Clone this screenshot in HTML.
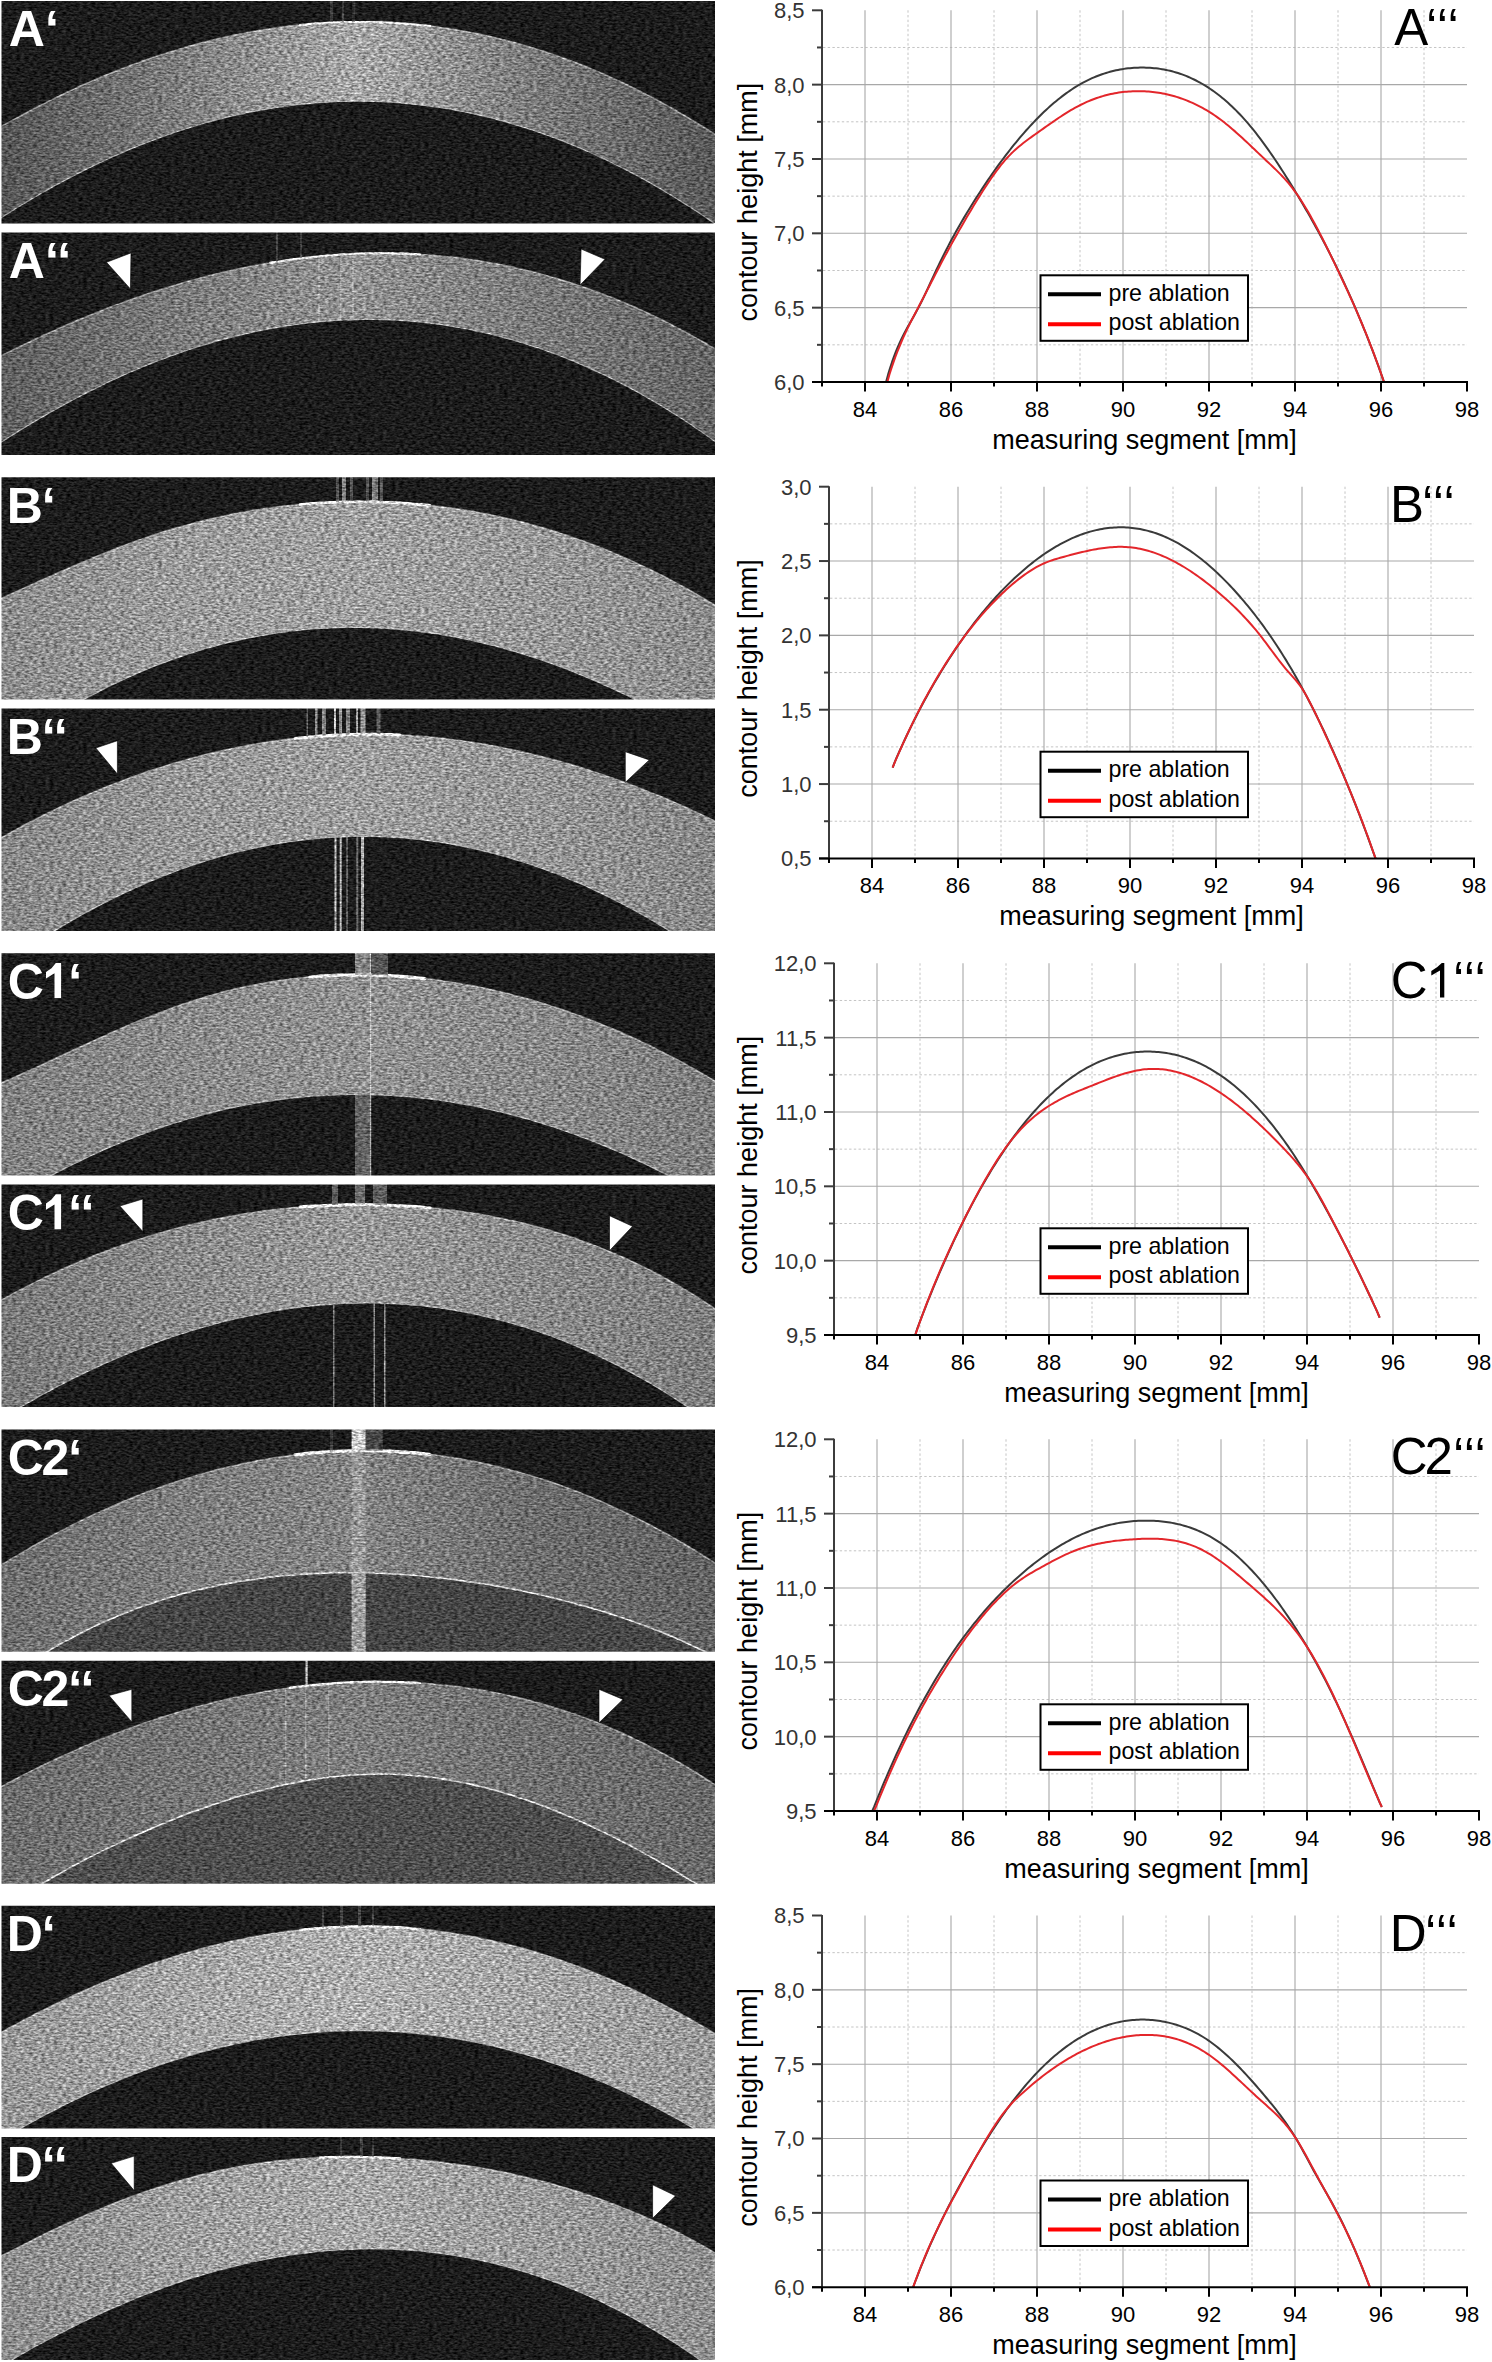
<!DOCTYPE html>
<html><head><meta charset="utf-8"><title>OCT ablation figure</title>
<style>
html,body{margin:0;padding:0;background:#fff;}
body{width:1492px;height:2362px;overflow:hidden;}
svg{display:block;}
text{font-family:"Liberation Sans",sans-serif;}
</style></head><body>
<svg xmlns="http://www.w3.org/2000/svg" width="1492" height="2362" viewBox="0 0 1492 2362">
<defs>
<filter id="spk" x="-0.02" y="-0.05" width="1.04" height="1.1" color-interpolation-filters="sRGB"><feTurbulence type="fractalNoise" baseFrequency="0.24 0.55" numOctaves="2" seed="3" result="t"/><feColorMatrix in="t" type="matrix" values="1 0 0 0 0  1 0 0 0 0  1 0 0 0 0  0 0 0 0 1" result="g"/><feComposite in="SourceGraphic" in2="g" operator="arithmetic" k1="0.95" k2="0.525" k3="0.236" k4="-0.118"/></filter>
<clipPath id="pc0"><rect x="1.5" y="1.00" width="713.5" height="222.40"/></clipPath>
<linearGradient id="bg0" gradientUnits="userSpaceOnUse" x1="0" x2="715" y1="0" y2="0"><stop offset="0.000" stop-color="#555555"/><stop offset="0.250" stop-color="#7d7d7d"/><stop offset="0.500" stop-color="#a8a8a8"/><stop offset="0.750" stop-color="#7a7a7a"/><stop offset="1.000" stop-color="#585858"/></linearGradient>
<clipPath id="ab0"><path d="M-25.0,141.5 L-20.0,138.7 L-15.0,135.8 L-10.0,133.0 L-5.0,130.1 L0.0,127.3 L5.0,124.4 L10.0,121.6 L15.0,118.9 L20.0,116.1 L25.0,113.4 L30.0,110.8 L35.0,108.2 L40.0,105.6 L45.0,103.1 L50.0,100.6 L55.0,98.1 L60.0,95.7 L65.0,93.3 L70.0,90.9 L75.0,88.6 L80.0,86.3 L85.0,84.1 L90.0,81.9 L95.0,79.7 L100.0,77.6 L105.0,75.5 L110.0,73.5 L115.0,71.5 L120.0,69.5 L125.0,67.6 L130.0,65.7 L135.0,63.8 L140.0,62.0 L145.0,60.2 L150.0,58.5 L155.0,56.8 L160.0,55.1 L165.0,53.5 L170.0,51.9 L175.0,50.4 L180.0,48.9 L185.0,47.4 L190.0,46.0 L195.0,44.6 L200.0,43.3 L205.0,42.0 L210.0,40.7 L215.0,39.5 L220.0,38.3 L225.0,37.2 L230.0,36.1 L235.0,35.0 L240.0,34.0 L245.0,33.0 L250.0,32.1 L255.0,31.2 L260.0,30.3 L265.0,29.5 L270.0,28.7 L275.0,28.0 L280.0,27.3 L285.0,26.6 L290.0,26.0 L295.0,25.5 L300.0,24.9 L305.0,24.4 L310.0,24.0 L315.0,23.6 L320.0,23.2 L325.0,22.9 L330.0,22.6 L335.0,22.4 L340.0,22.2 L345.0,22.1 L350.0,22.0 L355.0,21.9 L360.0,21.9 L365.0,21.9 L370.0,22.0 L375.0,22.1 L380.0,22.2 L385.0,22.4 L390.0,22.6 L395.0,22.9 L400.0,23.2 L405.0,23.6 L410.0,24.0 L415.0,24.5 L420.0,25.0 L425.0,25.5 L430.0,26.1 L435.0,26.7 L440.0,27.4 L445.0,28.1 L450.0,28.8 L455.0,29.6 L460.0,30.5 L465.0,31.4 L470.0,32.3 L475.0,33.3 L480.0,34.3 L485.0,35.4 L490.0,36.5 L495.0,37.7 L500.0,38.9 L505.0,40.1 L510.0,41.4 L515.0,42.8 L520.0,44.1 L525.0,45.6 L530.0,47.0 L535.0,48.6 L540.0,50.1 L545.0,51.7 L550.0,53.4 L555.0,55.1 L560.0,56.9 L565.0,58.7 L570.0,60.5 L575.0,62.4 L580.0,64.3 L585.0,66.3 L590.0,68.3 L595.0,70.4 L600.0,72.5 L605.0,74.7 L610.0,76.9 L615.0,79.2 L620.0,81.5 L625.0,83.8 L630.0,86.2 L635.0,88.7 L640.0,91.2 L645.0,93.7 L650.0,96.3 L655.0,99.0 L660.0,101.6 L665.0,104.4 L670.0,107.2 L675.0,110.0 L680.0,112.9 L685.0,115.8 L690.0,118.8 L695.0,121.8 L700.0,124.9 L705.0,128.0 L710.0,131.2 L715.0,134.4 L720.0,137.6 L725.0,140.9 L730.0,144.1 L735.0,147.3 L740.0,150.6 L740.0,-9.0 L-25.0,-9.0 Z"/></clipPath>
<clipPath id="be0"><path d="M-25.0,234.7 L-20.0,231.4 L-15.0,228.2 L-10.0,225.0 L-5.0,221.8 L0.0,218.5 L5.0,215.3 L10.0,212.2 L15.0,209.0 L20.0,206.0 L25.0,202.9 L30.0,199.9 L35.0,197.0 L40.0,194.1 L45.0,191.2 L50.0,188.4 L55.0,185.6 L60.0,182.9 L65.0,180.2 L70.0,177.6 L75.0,175.0 L80.0,172.4 L85.0,169.9 L90.0,167.5 L95.0,165.0 L100.0,162.7 L105.0,160.3 L110.0,158.0 L115.0,155.8 L120.0,153.6 L125.0,151.4 L130.0,149.3 L135.0,147.3 L140.0,145.2 L145.0,143.3 L150.0,141.3 L155.0,139.4 L160.0,137.6 L165.0,135.8 L170.0,134.1 L175.0,132.3 L180.0,130.7 L185.0,129.1 L190.0,127.5 L195.0,126.0 L200.0,124.5 L205.0,123.0 L210.0,121.7 L215.0,120.3 L220.0,119.0 L225.0,117.8 L230.0,116.5 L235.0,115.4 L240.0,114.3 L245.0,113.2 L250.0,112.2 L255.0,111.2 L260.0,110.2 L265.0,109.4 L270.0,108.5 L275.0,107.7 L280.0,107.0 L285.0,106.3 L290.0,105.6 L295.0,105.0 L300.0,104.4 L305.0,103.9 L310.0,103.4 L315.0,103.0 L320.0,102.6 L325.0,102.3 L330.0,102.0 L335.0,101.7 L340.0,101.5 L345.0,101.4 L350.0,101.3 L355.0,101.2 L360.0,101.2 L365.0,101.3 L370.0,101.4 L375.0,101.5 L380.0,101.7 L385.0,101.9 L390.0,102.2 L395.0,102.5 L400.0,102.9 L405.0,103.3 L410.0,103.8 L415.0,104.3 L420.0,104.8 L425.0,105.4 L430.0,106.1 L435.0,106.8 L440.0,107.5 L445.0,108.3 L450.0,109.2 L455.0,110.1 L460.0,111.0 L465.0,112.0 L470.0,113.0 L475.0,114.1 L480.0,115.3 L485.0,116.4 L490.0,117.7 L495.0,119.0 L500.0,120.3 L505.0,121.7 L510.0,123.1 L515.0,124.6 L520.0,126.1 L525.0,127.6 L530.0,129.3 L535.0,130.9 L540.0,132.6 L545.0,134.4 L550.0,136.2 L555.0,138.1 L560.0,140.0 L565.0,142.0 L570.0,144.0 L575.0,146.0 L580.0,148.1 L585.0,150.3 L590.0,152.5 L595.0,154.7 L600.0,157.1 L605.0,159.4 L610.0,161.8 L615.0,164.3 L620.0,166.8 L625.0,169.3 L630.0,171.9 L635.0,174.6 L640.0,177.3 L645.0,180.0 L650.0,182.8 L655.0,185.7 L660.0,188.6 L665.0,191.5 L670.0,194.5 L675.0,197.6 L680.0,200.7 L685.0,203.9 L690.0,207.1 L695.0,210.3 L700.0,213.6 L705.0,217.0 L710.0,220.4 L715.0,223.7 L720.0,227.1 L725.0,230.5 L730.0,233.9 L730.0,283.4 L-25.0,283.4 Z"/></clipPath>
<clipPath id="bd0"><path d="M-25.0,141.5 L-20.0,138.7 L-15.0,135.8 L-10.0,133.0 L-5.0,130.1 L0.0,127.3 L5.0,124.4 L10.0,121.6 L15.0,118.9 L20.0,116.1 L25.0,113.4 L30.0,110.8 L35.0,108.2 L40.0,105.6 L45.0,103.1 L50.0,100.6 L55.0,98.1 L60.0,95.7 L65.0,93.3 L70.0,90.9 L75.0,88.6 L80.0,86.3 L85.0,84.1 L90.0,81.9 L95.0,79.7 L100.0,77.6 L105.0,75.5 L110.0,73.5 L115.0,71.5 L120.0,69.5 L125.0,67.6 L130.0,65.7 L135.0,63.8 L140.0,62.0 L145.0,60.2 L150.0,58.5 L155.0,56.8 L160.0,55.1 L165.0,53.5 L170.0,51.9 L175.0,50.4 L180.0,48.9 L185.0,47.4 L190.0,46.0 L195.0,44.6 L200.0,43.3 L205.0,42.0 L210.0,40.7 L215.0,39.5 L220.0,38.3 L225.0,37.2 L230.0,36.1 L235.0,35.0 L240.0,34.0 L245.0,33.0 L250.0,32.1 L255.0,31.2 L260.0,30.3 L265.0,29.5 L270.0,28.7 L275.0,28.0 L280.0,27.3 L285.0,26.6 L290.0,26.0 L295.0,25.5 L300.0,24.9 L305.0,24.4 L310.0,24.0 L315.0,23.6 L320.0,23.2 L325.0,22.9 L330.0,22.6 L335.0,22.4 L340.0,22.2 L345.0,22.1 L350.0,22.0 L355.0,21.9 L360.0,21.9 L365.0,21.9 L370.0,22.0 L375.0,22.1 L380.0,22.2 L385.0,22.4 L390.0,22.6 L395.0,22.9 L400.0,23.2 L405.0,23.6 L410.0,24.0 L415.0,24.5 L420.0,25.0 L425.0,25.5 L430.0,26.1 L435.0,26.7 L440.0,27.4 L445.0,28.1 L450.0,28.8 L455.0,29.6 L460.0,30.5 L465.0,31.4 L470.0,32.3 L475.0,33.3 L480.0,34.3 L485.0,35.4 L490.0,36.5 L495.0,37.7 L500.0,38.9 L505.0,40.1 L510.0,41.4 L515.0,42.8 L520.0,44.1 L525.0,45.6 L530.0,47.0 L535.0,48.6 L540.0,50.1 L545.0,51.7 L550.0,53.4 L555.0,55.1 L560.0,56.9 L565.0,58.7 L570.0,60.5 L575.0,62.4 L580.0,64.3 L585.0,66.3 L590.0,68.3 L595.0,70.4 L600.0,72.5 L605.0,74.7 L610.0,76.9 L615.0,79.2 L620.0,81.5 L625.0,83.8 L630.0,86.2 L635.0,88.7 L640.0,91.2 L645.0,93.7 L650.0,96.3 L655.0,99.0 L660.0,101.6 L665.0,104.4 L670.0,107.2 L675.0,110.0 L680.0,112.9 L685.0,115.8 L690.0,118.8 L695.0,121.8 L700.0,124.9 L705.0,128.0 L710.0,131.2 L715.0,134.4 L720.0,137.6 L725.0,140.9 L730.0,144.1 L735.0,147.3 L740.0,150.6 L730.0,233.9 L725.0,230.5 L720.0,227.1 L715.0,223.7 L710.0,220.4 L705.0,217.0 L700.0,213.6 L695.0,210.3 L690.0,207.1 L685.0,203.9 L680.0,200.7 L675.0,197.6 L670.0,194.5 L665.0,191.5 L660.0,188.6 L655.0,185.7 L650.0,182.8 L645.0,180.0 L640.0,177.3 L635.0,174.6 L630.0,171.9 L625.0,169.3 L620.0,166.8 L615.0,164.3 L610.0,161.8 L605.0,159.4 L600.0,157.1 L595.0,154.7 L590.0,152.5 L585.0,150.3 L580.0,148.1 L575.0,146.0 L570.0,144.0 L565.0,142.0 L560.0,140.0 L555.0,138.1 L550.0,136.2 L545.0,134.4 L540.0,132.6 L535.0,130.9 L530.0,129.3 L525.0,127.6 L520.0,126.1 L515.0,124.6 L510.0,123.1 L505.0,121.7 L500.0,120.3 L495.0,119.0 L490.0,117.7 L485.0,116.4 L480.0,115.3 L475.0,114.1 L470.0,113.0 L465.0,112.0 L460.0,111.0 L455.0,110.1 L450.0,109.2 L445.0,108.3 L440.0,107.5 L435.0,106.8 L430.0,106.1 L425.0,105.4 L420.0,104.8 L415.0,104.3 L410.0,103.8 L405.0,103.3 L400.0,102.9 L395.0,102.5 L390.0,102.2 L385.0,101.9 L380.0,101.7 L375.0,101.5 L370.0,101.4 L365.0,101.3 L360.0,101.2 L355.0,101.2 L350.0,101.3 L345.0,101.4 L340.0,101.5 L335.0,101.7 L330.0,102.0 L325.0,102.3 L320.0,102.6 L315.0,103.0 L310.0,103.4 L305.0,103.9 L300.0,104.4 L295.0,105.0 L290.0,105.6 L285.0,106.3 L280.0,107.0 L275.0,107.7 L270.0,108.5 L265.0,109.4 L260.0,110.2 L255.0,111.2 L250.0,112.2 L245.0,113.2 L240.0,114.3 L235.0,115.4 L230.0,116.5 L225.0,117.8 L220.0,119.0 L215.0,120.3 L210.0,121.7 L205.0,123.0 L200.0,124.5 L195.0,126.0 L190.0,127.5 L185.0,129.1 L180.0,130.7 L175.0,132.3 L170.0,134.1 L165.0,135.8 L160.0,137.6 L155.0,139.4 L150.0,141.3 L145.0,143.3 L140.0,145.2 L135.0,147.3 L130.0,149.3 L125.0,151.4 L120.0,153.6 L115.0,155.8 L110.0,158.0 L105.0,160.3 L100.0,162.7 L95.0,165.0 L90.0,167.5 L85.0,169.9 L80.0,172.4 L75.0,175.0 L70.0,177.6 L65.0,180.2 L60.0,182.9 L55.0,185.6 L50.0,188.4 L45.0,191.2 L40.0,194.1 L35.0,197.0 L30.0,199.9 L25.0,202.9 L20.0,206.0 L15.0,209.0 L10.0,212.2 L5.0,215.3 L0.0,218.5 L-5.0,221.8 L-10.0,225.0 L-15.0,228.2 L-20.0,231.4 L-25.0,234.7 Z"/></clipPath>
<clipPath id="pc1"><rect x="1.5" y="232.40" width="713.5" height="222.60"/></clipPath>
<linearGradient id="bg1" gradientUnits="userSpaceOnUse" x1="0" x2="715" y1="0" y2="0"><stop offset="0.000" stop-color="#5f5f5f"/><stop offset="0.250" stop-color="#7a7a7a"/><stop offset="0.500" stop-color="#919191"/><stop offset="0.750" stop-color="#7a7a7a"/><stop offset="1.000" stop-color="#646464"/></linearGradient>
<clipPath id="ab1"><path d="M-25.0,369.1 L-20.0,366.6 L-15.0,364.1 L-10.0,361.5 L-5.0,359.0 L0.0,356.4 L5.0,353.9 L10.0,351.4 L15.0,348.9 L20.0,346.5 L25.0,344.1 L30.0,341.7 L35.0,339.3 L40.0,337.0 L45.0,334.7 L50.0,332.4 L55.0,330.1 L60.0,327.9 L65.0,325.7 L70.0,323.5 L75.0,321.4 L80.0,319.3 L85.0,317.2 L90.0,315.2 L95.0,313.2 L100.0,311.2 L105.0,309.2 L110.0,307.3 L115.0,305.4 L120.0,303.6 L125.0,301.7 L130.0,299.9 L135.0,298.2 L140.0,296.4 L145.0,294.7 L150.0,293.0 L155.0,291.4 L160.0,289.8 L165.0,288.2 L170.0,286.7 L175.0,285.2 L180.0,283.7 L185.0,282.2 L190.0,280.8 L195.0,279.4 L200.0,278.1 L205.0,276.8 L210.0,275.5 L215.0,274.2 L220.0,273.0 L225.0,271.9 L230.0,270.7 L235.0,269.6 L240.0,268.5 L245.0,267.5 L250.0,266.5 L255.0,265.5 L260.0,264.6 L265.0,263.7 L270.0,262.8 L275.0,262.0 L280.0,261.2 L285.0,260.5 L290.0,259.7 L295.0,259.1 L300.0,258.4 L305.0,257.8 L310.0,257.2 L315.0,256.7 L320.0,256.2 L325.0,255.7 L330.0,255.3 L335.0,254.9 L340.0,254.6 L345.0,254.3 L350.0,254.0 L355.0,253.8 L360.0,253.6 L365.0,253.4 L370.0,253.3 L375.0,253.3 L380.0,253.2 L385.0,253.2 L390.0,253.3 L395.0,253.4 L400.0,253.5 L405.0,253.6 L410.0,253.8 L415.0,254.1 L420.0,254.4 L425.0,254.7 L430.0,255.1 L435.0,255.5 L440.0,255.9 L445.0,256.4 L450.0,256.9 L455.0,257.5 L460.0,258.1 L465.0,258.8 L470.0,259.5 L475.0,260.2 L480.0,261.0 L485.0,261.8 L490.0,262.7 L495.0,263.6 L500.0,264.6 L505.0,265.6 L510.0,266.6 L515.0,267.7 L520.0,268.9 L525.0,270.0 L530.0,271.2 L535.0,272.5 L540.0,273.8 L545.0,275.2 L550.0,276.6 L555.0,278.0 L560.0,279.5 L565.0,281.0 L570.0,282.6 L575.0,284.2 L580.0,285.9 L585.0,287.6 L590.0,289.4 L595.0,291.2 L600.0,293.0 L605.0,294.9 L610.0,296.9 L615.0,298.9 L620.0,300.9 L625.0,303.0 L630.0,305.2 L635.0,307.3 L640.0,309.6 L645.0,311.9 L650.0,314.2 L655.0,316.6 L660.0,319.0 L665.0,321.5 L670.0,324.0 L675.0,326.6 L680.0,329.2 L685.0,331.8 L690.0,334.6 L695.0,337.3 L700.0,340.1 L705.0,343.0 L710.0,345.9 L715.0,348.9 L720.0,351.9 L725.0,354.9 L730.0,357.9 L735.0,360.9 L740.0,363.9 L740.0,222.4 L-25.0,222.4 Z"/></clipPath>
<clipPath id="be1"><path d="M-25.0,459.3 L-20.0,456.0 L-15.0,452.8 L-10.0,449.5 L-5.0,446.3 L0.0,443.0 L5.0,439.8 L10.0,436.6 L15.0,433.4 L20.0,430.3 L25.0,427.2 L30.0,424.2 L35.0,421.2 L40.0,418.3 L45.0,415.4 L50.0,412.5 L55.0,409.7 L60.0,406.9 L65.0,404.2 L70.0,401.5 L75.0,398.8 L80.0,396.2 L85.0,393.6 L90.0,391.1 L95.0,388.6 L100.0,386.1 L105.0,383.7 L110.0,381.3 L115.0,379.0 L120.0,376.7 L125.0,374.5 L130.0,372.3 L135.0,370.2 L140.0,368.0 L145.0,366.0 L150.0,364.0 L155.0,362.0 L160.0,360.0 L165.0,358.2 L170.0,356.3 L175.0,354.5 L180.0,352.7 L185.0,351.0 L190.0,349.3 L195.0,347.7 L200.0,346.1 L205.0,344.6 L210.0,343.1 L215.0,341.6 L220.0,340.2 L225.0,338.9 L230.0,337.6 L235.0,336.3 L240.0,335.1 L245.0,333.9 L250.0,332.8 L255.0,331.7 L260.0,330.6 L265.0,329.6 L270.0,328.7 L275.0,327.8 L280.0,326.9 L285.0,326.1 L290.0,325.3 L295.0,324.6 L300.0,323.9 L305.0,323.3 L310.0,322.7 L315.0,322.2 L320.0,321.7 L325.0,321.3 L330.0,320.9 L335.0,320.5 L340.0,320.2 L345.0,320.0 L350.0,319.8 L355.0,319.6 L360.0,319.5 L365.0,319.5 L370.0,319.5 L375.0,319.5 L380.0,319.6 L385.0,319.7 L390.0,319.9 L395.0,320.1 L400.0,320.4 L405.0,320.7 L410.0,321.1 L415.0,321.5 L420.0,322.0 L425.0,322.6 L430.0,323.1 L435.0,323.8 L440.0,324.4 L445.0,325.2 L450.0,325.9 L455.0,326.8 L460.0,327.6 L465.0,328.6 L470.0,329.5 L475.0,330.6 L480.0,331.6 L485.0,332.8 L490.0,333.9 L495.0,335.2 L500.0,336.5 L505.0,337.8 L510.0,339.2 L515.0,340.6 L520.0,342.1 L525.0,343.6 L530.0,345.2 L535.0,346.9 L540.0,348.5 L545.0,350.3 L550.0,352.1 L555.0,353.9 L560.0,355.8 L565.0,357.8 L570.0,359.8 L575.0,361.9 L580.0,364.0 L585.0,366.1 L590.0,368.4 L595.0,370.6 L600.0,373.0 L605.0,375.3 L610.0,377.8 L615.0,380.2 L620.0,382.8 L625.0,385.4 L630.0,388.0 L635.0,390.7 L640.0,393.5 L645.0,396.3 L650.0,399.2 L655.0,402.1 L660.0,405.0 L665.0,408.1 L670.0,411.2 L675.0,414.3 L680.0,417.5 L685.0,420.7 L690.0,424.0 L695.0,427.4 L700.0,430.8 L705.0,434.3 L710.0,437.8 L715.0,441.4 L720.0,445.0 L725.0,448.6 L730.0,452.2 L735.0,455.8 L740.0,459.4 L740.0,515.0 L-25.0,515.0 Z"/></clipPath>
<clipPath id="bd1"><path d="M-25.0,369.1 L-20.0,366.6 L-15.0,364.1 L-10.0,361.5 L-5.0,359.0 L0.0,356.4 L5.0,353.9 L10.0,351.4 L15.0,348.9 L20.0,346.5 L25.0,344.1 L30.0,341.7 L35.0,339.3 L40.0,337.0 L45.0,334.7 L50.0,332.4 L55.0,330.1 L60.0,327.9 L65.0,325.7 L70.0,323.5 L75.0,321.4 L80.0,319.3 L85.0,317.2 L90.0,315.2 L95.0,313.2 L100.0,311.2 L105.0,309.2 L110.0,307.3 L115.0,305.4 L120.0,303.6 L125.0,301.7 L130.0,299.9 L135.0,298.2 L140.0,296.4 L145.0,294.7 L150.0,293.0 L155.0,291.4 L160.0,289.8 L165.0,288.2 L170.0,286.7 L175.0,285.2 L180.0,283.7 L185.0,282.2 L190.0,280.8 L195.0,279.4 L200.0,278.1 L205.0,276.8 L210.0,275.5 L215.0,274.2 L220.0,273.0 L225.0,271.9 L230.0,270.7 L235.0,269.6 L240.0,268.5 L245.0,267.5 L250.0,266.5 L255.0,265.5 L260.0,264.6 L265.0,263.7 L270.0,262.8 L275.0,262.0 L280.0,261.2 L285.0,260.5 L290.0,259.7 L295.0,259.1 L300.0,258.4 L305.0,257.8 L310.0,257.2 L315.0,256.7 L320.0,256.2 L325.0,255.7 L330.0,255.3 L335.0,254.9 L340.0,254.6 L345.0,254.3 L350.0,254.0 L355.0,253.8 L360.0,253.6 L365.0,253.4 L370.0,253.3 L375.0,253.3 L380.0,253.2 L385.0,253.2 L390.0,253.3 L395.0,253.4 L400.0,253.5 L405.0,253.6 L410.0,253.8 L415.0,254.1 L420.0,254.4 L425.0,254.7 L430.0,255.1 L435.0,255.5 L440.0,255.9 L445.0,256.4 L450.0,256.9 L455.0,257.5 L460.0,258.1 L465.0,258.8 L470.0,259.5 L475.0,260.2 L480.0,261.0 L485.0,261.8 L490.0,262.7 L495.0,263.6 L500.0,264.6 L505.0,265.6 L510.0,266.6 L515.0,267.7 L520.0,268.9 L525.0,270.0 L530.0,271.2 L535.0,272.5 L540.0,273.8 L545.0,275.2 L550.0,276.6 L555.0,278.0 L560.0,279.5 L565.0,281.0 L570.0,282.6 L575.0,284.2 L580.0,285.9 L585.0,287.6 L590.0,289.4 L595.0,291.2 L600.0,293.0 L605.0,294.9 L610.0,296.9 L615.0,298.9 L620.0,300.9 L625.0,303.0 L630.0,305.2 L635.0,307.3 L640.0,309.6 L645.0,311.9 L650.0,314.2 L655.0,316.6 L660.0,319.0 L665.0,321.5 L670.0,324.0 L675.0,326.6 L680.0,329.2 L685.0,331.8 L690.0,334.6 L695.0,337.3 L700.0,340.1 L705.0,343.0 L710.0,345.9 L715.0,348.9 L720.0,351.9 L725.0,354.9 L730.0,357.9 L735.0,360.9 L740.0,363.9 L740.0,459.4 L735.0,455.8 L730.0,452.2 L725.0,448.6 L720.0,445.0 L715.0,441.4 L710.0,437.8 L705.0,434.3 L700.0,430.8 L695.0,427.4 L690.0,424.0 L685.0,420.7 L680.0,417.5 L675.0,414.3 L670.0,411.2 L665.0,408.1 L660.0,405.0 L655.0,402.1 L650.0,399.2 L645.0,396.3 L640.0,393.5 L635.0,390.7 L630.0,388.0 L625.0,385.4 L620.0,382.8 L615.0,380.2 L610.0,377.8 L605.0,375.3 L600.0,373.0 L595.0,370.6 L590.0,368.4 L585.0,366.1 L580.0,364.0 L575.0,361.9 L570.0,359.8 L565.0,357.8 L560.0,355.8 L555.0,353.9 L550.0,352.1 L545.0,350.3 L540.0,348.5 L535.0,346.9 L530.0,345.2 L525.0,343.6 L520.0,342.1 L515.0,340.6 L510.0,339.2 L505.0,337.8 L500.0,336.5 L495.0,335.2 L490.0,333.9 L485.0,332.8 L480.0,331.6 L475.0,330.6 L470.0,329.5 L465.0,328.6 L460.0,327.6 L455.0,326.8 L450.0,325.9 L445.0,325.2 L440.0,324.4 L435.0,323.8 L430.0,323.1 L425.0,322.6 L420.0,322.0 L415.0,321.5 L410.0,321.1 L405.0,320.7 L400.0,320.4 L395.0,320.1 L390.0,319.9 L385.0,319.7 L380.0,319.6 L375.0,319.5 L370.0,319.5 L365.0,319.5 L360.0,319.5 L355.0,319.6 L350.0,319.8 L345.0,320.0 L340.0,320.2 L335.0,320.5 L330.0,320.9 L325.0,321.3 L320.0,321.7 L315.0,322.2 L310.0,322.7 L305.0,323.3 L300.0,323.9 L295.0,324.6 L290.0,325.3 L285.0,326.1 L280.0,326.9 L275.0,327.8 L270.0,328.7 L265.0,329.6 L260.0,330.6 L255.0,331.7 L250.0,332.8 L245.0,333.9 L240.0,335.1 L235.0,336.3 L230.0,337.6 L225.0,338.9 L220.0,340.2 L215.0,341.6 L210.0,343.1 L205.0,344.6 L200.0,346.1 L195.0,347.7 L190.0,349.3 L185.0,351.0 L180.0,352.7 L175.0,354.5 L170.0,356.3 L165.0,358.2 L160.0,360.0 L155.0,362.0 L150.0,364.0 L145.0,366.0 L140.0,368.0 L135.0,370.2 L130.0,372.3 L125.0,374.5 L120.0,376.7 L115.0,379.0 L110.0,381.3 L105.0,383.7 L100.0,386.1 L95.0,388.6 L90.0,391.1 L85.0,393.6 L80.0,396.2 L75.0,398.8 L70.0,401.5 L65.0,404.2 L60.0,406.9 L55.0,409.7 L50.0,412.5 L45.0,415.4 L40.0,418.3 L35.0,421.2 L30.0,424.2 L25.0,427.2 L20.0,430.3 L15.0,433.4 L10.0,436.6 L5.0,439.8 L0.0,443.0 L-5.0,446.3 L-10.0,449.5 L-15.0,452.8 L-20.0,456.0 L-25.0,459.3 Z"/></clipPath>
<clipPath id="pc2"><rect x="1.5" y="477.20" width="713.5" height="222.30"/></clipPath>
<linearGradient id="bg2" gradientUnits="userSpaceOnUse" x1="0" x2="715" y1="0" y2="0"><stop offset="0.000" stop-color="#8c8c8c"/><stop offset="0.250" stop-color="#9b9b9b"/><stop offset="0.500" stop-color="#a0a0a0"/><stop offset="0.750" stop-color="#989898"/><stop offset="1.000" stop-color="#8c8c8c"/></linearGradient>
<clipPath id="ab2"><path d="M-25.0,610.2 L-20.0,607.9 L-15.0,605.7 L-10.0,603.4 L-5.0,601.2 L0.0,598.9 L5.0,596.7 L10.0,594.4 L15.0,592.1 L20.0,589.9 L25.0,587.6 L30.0,585.4 L35.0,583.1 L40.0,580.8 L45.0,578.6 L50.0,576.4 L55.0,574.2 L60.0,571.9 L65.0,569.8 L70.0,567.6 L75.0,565.4 L80.0,563.3 L85.0,561.2 L90.0,559.1 L95.0,557.0 L100.0,554.9 L105.0,552.9 L110.0,550.9 L115.0,549.0 L120.0,547.0 L125.0,545.1 L130.0,543.3 L135.0,541.4 L140.0,539.6 L145.0,537.9 L150.0,536.2 L155.0,534.5 L160.0,532.9 L165.0,531.3 L170.0,529.8 L175.0,528.3 L180.0,526.9 L185.0,525.5 L190.0,524.1 L195.0,522.8 L200.0,521.5 L205.0,520.3 L210.0,519.1 L215.0,517.9 L220.0,516.8 L225.0,515.7 L230.0,514.7 L235.0,513.7 L240.0,512.7 L245.0,511.8 L250.0,511.0 L255.0,510.1 L260.0,509.4 L265.0,508.6 L270.0,507.9 L275.0,507.2 L280.0,506.6 L285.0,506.0 L290.0,505.4 L295.0,504.9 L300.0,504.5 L305.0,504.0 L310.0,503.6 L315.0,503.3 L320.0,502.9 L325.0,502.7 L330.0,502.4 L335.0,502.2 L340.0,502.0 L345.0,501.9 L350.0,501.8 L355.0,501.7 L360.0,501.7 L365.0,501.7 L370.0,501.8 L375.0,501.9 L380.0,502.0 L385.0,502.2 L390.0,502.4 L395.0,502.6 L400.0,502.9 L405.0,503.2 L410.0,503.6 L415.0,504.0 L420.0,504.4 L425.0,504.9 L430.0,505.4 L435.0,505.9 L440.0,506.5 L445.0,507.2 L450.0,507.8 L455.0,508.5 L460.0,509.3 L465.0,510.1 L470.0,510.9 L475.0,511.8 L480.0,512.7 L485.0,513.7 L490.0,514.7 L495.0,515.7 L500.0,516.8 L505.0,517.9 L510.0,519.1 L515.0,520.3 L520.0,521.5 L525.0,522.8 L530.0,524.1 L535.0,525.5 L540.0,526.9 L545.0,528.4 L550.0,529.9 L555.0,531.5 L560.0,533.1 L565.0,534.7 L570.0,536.4 L575.0,538.1 L580.0,539.9 L585.0,541.7 L590.0,543.6 L595.0,545.5 L600.0,547.4 L605.0,549.4 L610.0,551.5 L615.0,553.6 L620.0,555.7 L625.0,557.9 L630.0,560.1 L635.0,562.4 L640.0,564.7 L645.0,567.1 L650.0,569.5 L655.0,571.9 L660.0,574.4 L665.0,577.0 L670.0,579.6 L675.0,582.3 L680.0,585.0 L685.0,587.7 L690.0,590.5 L695.0,593.4 L700.0,596.3 L705.0,599.2 L710.0,602.2 L715.0,605.2 L720.0,608.3 L725.0,611.4 L730.0,614.4 L735.0,617.5 L740.0,620.6 L740.0,467.2 L-25.0,467.2 Z"/></clipPath>
<clipPath id="be2"><path d="M61.9,711.3 L66.9,708.6 L71.9,705.9 L76.9,703.2 L81.9,700.5 L86.9,697.8 L91.9,695.2 L96.9,692.6 L101.9,690.0 L106.9,687.5 L111.9,685.0 L116.9,682.6 L121.9,680.3 L126.9,678.0 L131.9,675.7 L136.9,673.5 L141.9,671.4 L146.9,669.3 L151.9,667.3 L156.9,665.3 L161.9,663.4 L166.9,661.5 L171.9,659.6 L176.9,657.9 L181.9,656.1 L186.9,654.5 L191.9,652.9 L196.9,651.3 L201.9,649.8 L206.9,648.3 L211.9,646.9 L216.9,645.5 L221.9,644.2 L226.9,642.9 L231.9,641.7 L236.9,640.6 L241.9,639.4 L246.9,638.4 L251.9,637.4 L256.9,636.4 L261.9,635.5 L266.9,634.6 L271.9,633.8 L276.9,633.0 L281.9,632.3 L286.9,631.6 L291.9,631.0 L296.9,630.5 L301.9,629.9 L306.9,629.5 L311.9,629.0 L316.9,628.7 L321.9,628.3 L326.9,628.1 L331.9,627.8 L336.9,627.7 L341.9,627.5 L346.9,627.4 L351.9,627.4 L356.9,627.4 L361.9,627.5 L366.9,627.6 L371.9,627.7 L376.9,627.9 L381.9,628.2 L386.9,628.5 L391.9,628.8 L396.9,629.2 L401.9,629.6 L406.9,630.1 L411.9,630.6 L416.9,631.2 L421.9,631.8 L426.9,632.5 L431.9,633.2 L436.9,633.9 L441.9,634.7 L446.9,635.6 L451.9,636.5 L456.9,637.4 L461.9,638.4 L466.9,639.4 L471.9,640.5 L476.9,641.6 L481.9,642.8 L486.9,644.0 L491.9,645.2 L496.9,646.5 L501.9,647.9 L506.9,649.3 L511.9,650.7 L516.9,652.2 L521.9,653.7 L526.9,655.3 L531.9,656.9 L536.9,658.5 L541.9,660.2 L546.9,661.9 L551.9,663.7 L556.9,665.5 L561.9,667.4 L566.9,669.3 L571.9,671.3 L576.9,673.3 L581.9,675.3 L586.9,677.4 L591.9,679.5 L596.9,681.7 L601.9,683.9 L606.9,686.1 L611.9,688.4 L616.9,690.7 L621.9,693.1 L626.9,695.5 L631.9,698.0 L636.9,700.5 L641.9,703.0 L646.9,705.5 L651.9,708.0 L656.9,710.5 L661.9,713.1 L661.9,759.5 L61.9,759.5 Z"/></clipPath>
<clipPath id="bd2"><path d="M-25.0,610.2 L-20.0,607.9 L-15.0,605.7 L-10.0,603.4 L-5.0,601.2 L0.0,598.9 L5.0,596.7 L10.0,594.4 L15.0,592.1 L20.0,589.9 L25.0,587.6 L30.0,585.4 L35.0,583.1 L40.0,580.8 L45.0,578.6 L50.0,576.4 L55.0,574.2 L60.0,571.9 L65.0,569.8 L70.0,567.6 L75.0,565.4 L80.0,563.3 L85.0,561.2 L90.0,559.1 L95.0,557.0 L100.0,554.9 L105.0,552.9 L110.0,550.9 L115.0,549.0 L120.0,547.0 L125.0,545.1 L130.0,543.3 L135.0,541.4 L140.0,539.6 L145.0,537.9 L150.0,536.2 L155.0,534.5 L160.0,532.9 L165.0,531.3 L170.0,529.8 L175.0,528.3 L180.0,526.9 L185.0,525.5 L190.0,524.1 L195.0,522.8 L200.0,521.5 L205.0,520.3 L210.0,519.1 L215.0,517.9 L220.0,516.8 L225.0,515.7 L230.0,514.7 L235.0,513.7 L240.0,512.7 L245.0,511.8 L250.0,511.0 L255.0,510.1 L260.0,509.4 L265.0,508.6 L270.0,507.9 L275.0,507.2 L280.0,506.6 L285.0,506.0 L290.0,505.4 L295.0,504.9 L300.0,504.5 L305.0,504.0 L310.0,503.6 L315.0,503.3 L320.0,502.9 L325.0,502.7 L330.0,502.4 L335.0,502.2 L340.0,502.0 L345.0,501.9 L350.0,501.8 L355.0,501.7 L360.0,501.7 L365.0,501.7 L370.0,501.8 L375.0,501.9 L380.0,502.0 L385.0,502.2 L390.0,502.4 L395.0,502.6 L400.0,502.9 L405.0,503.2 L410.0,503.6 L415.0,504.0 L420.0,504.4 L425.0,504.9 L430.0,505.4 L435.0,505.9 L440.0,506.5 L445.0,507.2 L450.0,507.8 L455.0,508.5 L460.0,509.3 L465.0,510.1 L470.0,510.9 L475.0,511.8 L480.0,512.7 L485.0,513.7 L490.0,514.7 L495.0,515.7 L500.0,516.8 L505.0,517.9 L510.0,519.1 L515.0,520.3 L520.0,521.5 L525.0,522.8 L530.0,524.1 L535.0,525.5 L540.0,526.9 L545.0,528.4 L550.0,529.9 L555.0,531.5 L560.0,533.1 L565.0,534.7 L570.0,536.4 L575.0,538.1 L580.0,539.9 L585.0,541.7 L590.0,543.6 L595.0,545.5 L600.0,547.4 L605.0,549.4 L610.0,551.5 L615.0,553.6 L620.0,555.7 L625.0,557.9 L630.0,560.1 L635.0,562.4 L640.0,564.7 L645.0,567.1 L650.0,569.5 L655.0,571.9 L660.0,574.4 L665.0,577.0 L670.0,579.6 L675.0,582.3 L680.0,585.0 L685.0,587.7 L690.0,590.5 L695.0,593.4 L700.0,596.3 L705.0,599.2 L710.0,602.2 L715.0,605.2 L720.0,608.3 L725.0,611.4 L730.0,614.4 L735.0,617.5 L740.0,620.6 L661.9,713.1 L656.9,710.5 L651.9,708.0 L646.9,705.5 L641.9,703.0 L636.9,700.5 L631.9,698.0 L626.9,695.5 L621.9,693.1 L616.9,690.7 L611.9,688.4 L606.9,686.1 L601.9,683.9 L596.9,681.7 L591.9,679.5 L586.9,677.4 L581.9,675.3 L576.9,673.3 L571.9,671.3 L566.9,669.3 L561.9,667.4 L556.9,665.5 L551.9,663.7 L546.9,661.9 L541.9,660.2 L536.9,658.5 L531.9,656.9 L526.9,655.3 L521.9,653.7 L516.9,652.2 L511.9,650.7 L506.9,649.3 L501.9,647.9 L496.9,646.5 L491.9,645.2 L486.9,644.0 L481.9,642.8 L476.9,641.6 L471.9,640.5 L466.9,639.4 L461.9,638.4 L456.9,637.4 L451.9,636.5 L446.9,635.6 L441.9,634.7 L436.9,633.9 L431.9,633.2 L426.9,632.5 L421.9,631.8 L416.9,631.2 L411.9,630.6 L406.9,630.1 L401.9,629.6 L396.9,629.2 L391.9,628.8 L386.9,628.5 L381.9,628.2 L376.9,627.9 L371.9,627.7 L366.9,627.6 L361.9,627.5 L356.9,627.4 L351.9,627.4 L346.9,627.4 L341.9,627.5 L336.9,627.7 L331.9,627.8 L326.9,628.1 L321.9,628.3 L316.9,628.7 L311.9,629.0 L306.9,629.5 L301.9,629.9 L296.9,630.5 L291.9,631.0 L286.9,631.6 L281.9,632.3 L276.9,633.0 L271.9,633.8 L266.9,634.6 L261.9,635.5 L256.9,636.4 L251.9,637.4 L246.9,638.4 L241.9,639.4 L236.9,640.6 L231.9,641.7 L226.9,642.9 L221.9,644.2 L216.9,645.5 L211.9,646.9 L206.9,648.3 L201.9,649.8 L196.9,651.3 L191.9,652.9 L186.9,654.5 L181.9,656.1 L176.9,657.9 L171.9,659.6 L166.9,661.5 L161.9,663.4 L156.9,665.3 L151.9,667.3 L146.9,669.3 L141.9,671.4 L136.9,673.5 L131.9,675.7 L126.9,678.0 L121.9,680.3 L116.9,682.6 L111.9,685.0 L106.9,687.5 L101.9,690.0 L96.9,692.6 L91.9,695.2 L86.9,697.8 L81.9,700.5 L76.9,703.2 L71.9,705.9 L66.9,708.6 L61.9,711.3 Z"/></clipPath>
<clipPath id="pc3"><rect x="1.5" y="708.60" width="713.5" height="222.40"/></clipPath>
<linearGradient id="bg3" gradientUnits="userSpaceOnUse" x1="0" x2="715" y1="0" y2="0"><stop offset="0.000" stop-color="#878787"/><stop offset="0.250" stop-color="#969696"/><stop offset="0.500" stop-color="#9e9e9e"/><stop offset="0.750" stop-color="#969696"/><stop offset="1.000" stop-color="#878787"/></linearGradient>
<clipPath id="ab3"><path d="M-25.0,852.6 L-20.0,849.7 L-15.0,846.9 L-10.0,844.1 L-5.0,841.2 L0.0,838.4 L5.0,835.6 L10.0,832.8 L15.0,830.1 L20.0,827.4 L25.0,824.7 L30.0,822.1 L35.0,819.5 L40.0,817.0 L45.0,814.5 L50.0,812.0 L55.0,809.6 L60.0,807.2 L65.0,804.9 L70.0,802.5 L75.0,800.3 L80.0,798.0 L85.0,795.8 L90.0,793.7 L95.0,791.6 L100.0,789.5 L105.0,787.5 L110.0,785.5 L115.0,783.5 L120.0,781.6 L125.0,779.7 L130.0,777.8 L135.0,776.0 L140.0,774.3 L145.0,772.5 L150.0,770.8 L155.0,769.2 L160.0,767.6 L165.0,766.0 L170.0,764.4 L175.0,762.9 L180.0,761.5 L185.0,760.1 L190.0,758.7 L195.0,757.3 L200.0,756.0 L205.0,754.7 L210.0,753.5 L215.0,752.3 L220.0,751.2 L225.0,750.0 L230.0,749.0 L235.0,747.9 L240.0,746.9 L245.0,746.0 L250.0,745.0 L255.0,744.1 L260.0,743.3 L265.0,742.5 L270.0,741.7 L275.0,741.0 L280.0,740.3 L285.0,739.6 L290.0,739.0 L295.0,738.4 L300.0,737.9 L305.0,737.4 L310.0,736.9 L315.0,736.5 L320.0,736.1 L325.0,735.7 L330.0,735.4 L335.0,735.1 L340.0,734.9 L345.0,734.7 L350.0,734.5 L355.0,734.4 L360.0,734.3 L365.0,734.3 L370.0,734.3 L375.0,734.3 L380.0,734.3 L385.0,734.4 L390.0,734.6 L395.0,734.8 L400.0,735.0 L405.0,735.2 L410.0,735.5 L415.0,735.9 L420.0,736.2 L425.0,736.6 L430.0,737.1 L435.0,737.6 L440.0,738.1 L445.0,738.6 L450.0,739.2 L455.0,739.9 L460.0,740.5 L465.0,741.2 L470.0,742.0 L475.0,742.7 L480.0,743.5 L485.0,744.4 L490.0,745.3 L495.0,746.2 L500.0,747.2 L505.0,748.2 L510.0,749.2 L515.0,750.2 L520.0,751.3 L525.0,752.5 L530.0,753.7 L535.0,754.9 L540.0,756.1 L545.0,757.4 L550.0,758.7 L555.0,760.0 L560.0,761.4 L565.0,762.8 L570.0,764.3 L575.0,765.8 L580.0,767.3 L585.0,768.9 L590.0,770.4 L595.0,772.1 L600.0,773.7 L605.0,775.4 L610.0,777.1 L615.0,778.9 L620.0,780.7 L625.0,782.5 L630.0,784.4 L635.0,786.3 L640.0,788.2 L645.0,790.2 L650.0,792.2 L655.0,794.2 L660.0,796.2 L665.0,798.3 L670.0,800.5 L675.0,802.6 L680.0,804.8 L685.0,807.0 L690.0,809.3 L695.0,811.6 L700.0,813.9 L705.0,816.2 L710.0,818.6 L715.0,821.0 L720.0,823.4 L725.0,825.9 L730.0,828.3 L735.0,830.7 L740.0,833.2 L740.0,698.6 L-25.0,698.6 Z"/></clipPath>
<clipPath id="be3"><path d="M30.5,945.4 L35.5,942.4 L40.5,939.3 L45.5,936.3 L50.5,933.3 L55.5,930.2 L60.5,927.2 L65.5,924.2 L70.5,921.3 L75.5,918.4 L80.5,915.6 L85.5,912.8 L90.5,910.1 L95.5,907.4 L100.5,904.8 L105.5,902.2 L110.5,899.7 L115.5,897.2 L120.5,894.8 L125.5,892.4 L130.5,890.1 L135.5,887.8 L140.5,885.6 L145.5,883.4 L150.5,881.2 L155.5,879.2 L160.5,877.1 L165.5,875.1 L170.5,873.2 L175.5,871.3 L180.5,869.5 L185.5,867.7 L190.5,865.9 L195.5,864.2 L200.5,862.6 L205.5,861.0 L210.5,859.5 L215.5,858.0 L220.5,856.5 L225.5,855.1 L230.5,853.8 L235.5,852.5 L240.5,851.3 L245.5,850.1 L250.5,848.9 L255.5,847.8 L260.5,846.8 L265.5,845.8 L270.5,844.8 L275.5,843.9 L280.5,843.1 L285.5,842.3 L290.5,841.5 L295.5,840.8 L300.5,840.2 L305.5,839.6 L310.5,839.1 L315.5,838.6 L320.5,838.1 L325.5,837.7 L330.5,837.4 L335.5,837.1 L340.5,836.8 L345.5,836.6 L350.5,836.5 L355.5,836.4 L360.5,836.3 L365.5,836.3 L370.5,836.4 L375.5,836.5 L380.5,836.6 L385.5,836.8 L390.5,837.1 L395.5,837.4 L400.5,837.7 L405.5,838.1 L410.5,838.6 L415.5,839.1 L420.5,839.6 L425.5,840.2 L430.5,840.9 L435.5,841.6 L440.5,842.3 L445.5,843.1 L450.5,844.0 L455.5,844.9 L460.5,845.8 L465.5,846.8 L470.5,847.9 L475.5,849.0 L480.5,850.1 L485.5,851.3 L490.5,852.6 L495.5,853.9 L500.5,855.3 L505.5,856.7 L510.5,858.1 L515.5,859.6 L520.5,861.2 L525.5,862.8 L530.5,864.5 L535.5,866.2 L540.5,867.9 L545.5,869.7 L550.5,871.6 L555.5,873.5 L560.5,875.5 L565.5,877.5 L570.5,879.6 L575.5,881.7 L580.5,883.8 L585.5,886.0 L590.5,888.3 L595.5,890.6 L600.5,893.0 L605.5,895.4 L610.5,897.9 L615.5,900.4 L620.5,903.0 L625.5,905.6 L630.5,908.3 L635.5,911.0 L640.5,913.8 L645.5,916.6 L650.5,919.5 L655.5,922.4 L660.5,925.4 L665.5,928.4 L670.5,931.5 L675.5,934.6 L680.5,937.7 L685.5,940.7 L690.5,943.8 L690.5,991.0 L30.5,991.0 Z"/></clipPath>
<clipPath id="bd3"><path d="M-25.0,852.6 L-20.0,849.7 L-15.0,846.9 L-10.0,844.1 L-5.0,841.2 L0.0,838.4 L5.0,835.6 L10.0,832.8 L15.0,830.1 L20.0,827.4 L25.0,824.7 L30.0,822.1 L35.0,819.5 L40.0,817.0 L45.0,814.5 L50.0,812.0 L55.0,809.6 L60.0,807.2 L65.0,804.9 L70.0,802.5 L75.0,800.3 L80.0,798.0 L85.0,795.8 L90.0,793.7 L95.0,791.6 L100.0,789.5 L105.0,787.5 L110.0,785.5 L115.0,783.5 L120.0,781.6 L125.0,779.7 L130.0,777.8 L135.0,776.0 L140.0,774.3 L145.0,772.5 L150.0,770.8 L155.0,769.2 L160.0,767.6 L165.0,766.0 L170.0,764.4 L175.0,762.9 L180.0,761.5 L185.0,760.1 L190.0,758.7 L195.0,757.3 L200.0,756.0 L205.0,754.7 L210.0,753.5 L215.0,752.3 L220.0,751.2 L225.0,750.0 L230.0,749.0 L235.0,747.9 L240.0,746.9 L245.0,746.0 L250.0,745.0 L255.0,744.1 L260.0,743.3 L265.0,742.5 L270.0,741.7 L275.0,741.0 L280.0,740.3 L285.0,739.6 L290.0,739.0 L295.0,738.4 L300.0,737.9 L305.0,737.4 L310.0,736.9 L315.0,736.5 L320.0,736.1 L325.0,735.7 L330.0,735.4 L335.0,735.1 L340.0,734.9 L345.0,734.7 L350.0,734.5 L355.0,734.4 L360.0,734.3 L365.0,734.3 L370.0,734.3 L375.0,734.3 L380.0,734.3 L385.0,734.4 L390.0,734.6 L395.0,734.8 L400.0,735.0 L405.0,735.2 L410.0,735.5 L415.0,735.9 L420.0,736.2 L425.0,736.6 L430.0,737.1 L435.0,737.6 L440.0,738.1 L445.0,738.6 L450.0,739.2 L455.0,739.9 L460.0,740.5 L465.0,741.2 L470.0,742.0 L475.0,742.7 L480.0,743.5 L485.0,744.4 L490.0,745.3 L495.0,746.2 L500.0,747.2 L505.0,748.2 L510.0,749.2 L515.0,750.2 L520.0,751.3 L525.0,752.5 L530.0,753.7 L535.0,754.9 L540.0,756.1 L545.0,757.4 L550.0,758.7 L555.0,760.0 L560.0,761.4 L565.0,762.8 L570.0,764.3 L575.0,765.8 L580.0,767.3 L585.0,768.9 L590.0,770.4 L595.0,772.1 L600.0,773.7 L605.0,775.4 L610.0,777.1 L615.0,778.9 L620.0,780.7 L625.0,782.5 L630.0,784.4 L635.0,786.3 L640.0,788.2 L645.0,790.2 L650.0,792.2 L655.0,794.2 L660.0,796.2 L665.0,798.3 L670.0,800.5 L675.0,802.6 L680.0,804.8 L685.0,807.0 L690.0,809.3 L695.0,811.6 L700.0,813.9 L705.0,816.2 L710.0,818.6 L715.0,821.0 L720.0,823.4 L725.0,825.9 L730.0,828.3 L735.0,830.7 L740.0,833.2 L690.5,943.8 L685.5,940.7 L680.5,937.7 L675.5,934.6 L670.5,931.5 L665.5,928.4 L660.5,925.4 L655.5,922.4 L650.5,919.5 L645.5,916.6 L640.5,913.8 L635.5,911.0 L630.5,908.3 L625.5,905.6 L620.5,903.0 L615.5,900.4 L610.5,897.9 L605.5,895.4 L600.5,893.0 L595.5,890.6 L590.5,888.3 L585.5,886.0 L580.5,883.8 L575.5,881.7 L570.5,879.6 L565.5,877.5 L560.5,875.5 L555.5,873.5 L550.5,871.6 L545.5,869.7 L540.5,867.9 L535.5,866.2 L530.5,864.5 L525.5,862.8 L520.5,861.2 L515.5,859.6 L510.5,858.1 L505.5,856.7 L500.5,855.3 L495.5,853.9 L490.5,852.6 L485.5,851.3 L480.5,850.1 L475.5,849.0 L470.5,847.9 L465.5,846.8 L460.5,845.8 L455.5,844.9 L450.5,844.0 L445.5,843.1 L440.5,842.3 L435.5,841.6 L430.5,840.9 L425.5,840.2 L420.5,839.6 L415.5,839.1 L410.5,838.6 L405.5,838.1 L400.5,837.7 L395.5,837.4 L390.5,837.1 L385.5,836.8 L380.5,836.6 L375.5,836.5 L370.5,836.4 L365.5,836.3 L360.5,836.3 L355.5,836.4 L350.5,836.5 L345.5,836.6 L340.5,836.8 L335.5,837.1 L330.5,837.4 L325.5,837.7 L320.5,838.1 L315.5,838.6 L310.5,839.1 L305.5,839.6 L300.5,840.2 L295.5,840.8 L290.5,841.5 L285.5,842.3 L280.5,843.1 L275.5,843.9 L270.5,844.8 L265.5,845.8 L260.5,846.8 L255.5,847.8 L250.5,848.9 L245.5,850.1 L240.5,851.3 L235.5,852.5 L230.5,853.8 L225.5,855.1 L220.5,856.5 L215.5,858.0 L210.5,859.5 L205.5,861.0 L200.5,862.6 L195.5,864.2 L190.5,865.9 L185.5,867.7 L180.5,869.5 L175.5,871.3 L170.5,873.2 L165.5,875.1 L160.5,877.1 L155.5,879.2 L150.5,881.2 L145.5,883.4 L140.5,885.6 L135.5,887.8 L130.5,890.1 L125.5,892.4 L120.5,894.8 L115.5,897.2 L110.5,899.7 L105.5,902.2 L100.5,904.8 L95.5,907.4 L90.5,910.1 L85.5,912.8 L80.5,915.6 L75.5,918.4 L70.5,921.3 L65.5,924.2 L60.5,927.2 L55.5,930.2 L50.5,933.3 L45.5,936.3 L40.5,939.3 L35.5,942.4 L30.5,945.4 Z"/></clipPath>
<clipPath id="pc4"><rect x="1.5" y="953.30" width="713.5" height="222.20"/></clipPath>
<linearGradient id="bg4" gradientUnits="userSpaceOnUse" x1="0" x2="715" y1="0" y2="0"><stop offset="0.000" stop-color="#808080"/><stop offset="0.250" stop-color="#8a8a8a"/><stop offset="0.500" stop-color="#919191"/><stop offset="0.750" stop-color="#8a8a8a"/><stop offset="1.000" stop-color="#7d7d7d"/></linearGradient>
<clipPath id="ab4"><path d="M-25.0,1093.9 L-20.0,1091.8 L-15.0,1089.7 L-10.0,1087.6 L-5.0,1085.5 L0.0,1083.4 L5.0,1081.2 L10.0,1079.1 L15.0,1076.9 L20.0,1074.7 L25.0,1072.4 L30.0,1070.2 L35.0,1067.9 L40.0,1065.6 L45.0,1063.3 L50.0,1061.0 L55.0,1058.7 L60.0,1056.3 L65.0,1054.0 L70.0,1051.7 L75.0,1049.3 L80.0,1047.0 L85.0,1044.7 L90.0,1042.4 L95.0,1040.1 L100.0,1037.8 L105.0,1035.6 L110.0,1033.3 L115.0,1031.1 L120.0,1028.9 L125.0,1026.8 L130.0,1024.6 L135.0,1022.5 L140.0,1020.4 L145.0,1018.4 L150.0,1016.4 L155.0,1014.4 L160.0,1012.5 L165.0,1010.6 L170.0,1008.7 L175.0,1006.9 L180.0,1005.1 L185.0,1003.4 L190.0,1001.7 L195.0,1000.1 L200.0,998.6 L205.0,997.0 L210.0,995.6 L215.0,994.2 L220.0,992.8 L225.0,991.5 L230.0,990.2 L235.0,989.0 L240.0,987.9 L245.0,986.8 L250.0,985.7 L255.0,984.7 L260.0,983.8 L265.0,982.9 L270.0,982.0 L275.0,981.2 L280.0,980.5 L285.0,979.8 L290.0,979.1 L295.0,978.5 L300.0,978.0 L305.0,977.4 L310.0,977.0 L315.0,976.6 L320.0,976.2 L325.0,975.9 L330.0,975.6 L335.0,975.4 L340.0,975.2 L345.0,975.0 L350.0,974.9 L355.0,974.9 L360.0,974.9 L365.0,974.9 L370.0,975.0 L375.0,975.1 L380.0,975.3 L385.0,975.5 L390.0,975.7 L395.0,976.0 L400.0,976.3 L405.0,976.7 L410.0,977.1 L415.0,977.6 L420.0,978.1 L425.0,978.6 L430.0,979.2 L435.0,979.8 L440.0,980.5 L445.0,981.2 L450.0,981.9 L455.0,982.7 L460.0,983.6 L465.0,984.4 L470.0,985.3 L475.0,986.3 L480.0,987.3 L485.0,988.3 L490.0,989.4 L495.0,990.5 L500.0,991.7 L505.0,992.9 L510.0,994.1 L515.0,995.4 L520.0,996.7 L525.0,998.1 L530.0,999.5 L535.0,1001.0 L540.0,1002.4 L545.0,1004.0 L550.0,1005.6 L555.0,1007.2 L560.0,1008.8 L565.0,1010.5 L570.0,1012.3 L575.0,1014.1 L580.0,1015.9 L585.0,1017.7 L590.0,1019.7 L595.0,1021.6 L600.0,1023.6 L605.0,1025.6 L610.0,1027.7 L615.0,1029.8 L620.0,1032.0 L625.0,1034.2 L630.0,1036.4 L635.0,1038.7 L640.0,1041.1 L645.0,1043.4 L650.0,1045.8 L655.0,1048.3 L660.0,1050.8 L665.0,1053.3 L670.0,1055.9 L675.0,1058.5 L680.0,1061.2 L685.0,1063.9 L690.0,1066.7 L695.0,1069.5 L700.0,1072.3 L705.0,1075.2 L710.0,1078.1 L715.0,1081.1 L720.0,1084.1 L725.0,1087.0 L730.0,1090.0 L735.0,1093.0 L740.0,1096.0 L740.0,943.3 L-25.0,943.3 Z"/></clipPath>
<clipPath id="be4"><path d="M25.7,1189.3 L30.7,1186.6 L35.7,1183.9 L40.7,1181.2 L45.7,1178.6 L50.7,1175.9 L55.7,1173.2 L60.7,1170.6 L65.7,1168.0 L70.7,1165.5 L75.7,1163.0 L80.7,1160.6 L85.7,1158.2 L90.7,1155.8 L95.7,1153.5 L100.7,1151.2 L105.7,1149.0 L110.7,1146.9 L115.7,1144.7 L120.7,1142.7 L125.7,1140.6 L130.7,1138.6 L135.7,1136.7 L140.7,1134.8 L145.7,1132.9 L150.7,1131.1 L155.7,1129.3 L160.7,1127.6 L165.7,1125.9 L170.7,1124.3 L175.7,1122.7 L180.7,1121.2 L185.7,1119.7 L190.7,1118.2 L195.7,1116.8 L200.7,1115.4 L205.7,1114.1 L210.7,1112.8 L215.7,1111.6 L220.7,1110.4 L225.7,1109.2 L230.7,1108.1 L235.7,1107.0 L240.7,1106.0 L245.7,1105.0 L250.7,1104.1 L255.7,1103.2 L260.7,1102.4 L265.7,1101.6 L270.7,1100.8 L275.7,1100.1 L280.7,1099.4 L285.7,1098.8 L290.7,1098.2 L295.7,1097.7 L300.7,1097.2 L305.7,1096.7 L310.7,1096.3 L315.7,1095.9 L320.7,1095.6 L325.7,1095.3 L330.7,1095.1 L335.7,1094.9 L340.7,1094.7 L345.7,1094.6 L350.7,1094.5 L355.7,1094.5 L360.7,1094.5 L365.7,1094.6 L370.7,1094.7 L375.7,1094.8 L380.7,1095.0 L385.7,1095.2 L390.7,1095.5 L395.7,1095.8 L400.7,1096.1 L405.7,1096.5 L410.7,1097.0 L415.7,1097.5 L420.7,1098.0 L425.7,1098.5 L430.7,1099.2 L435.7,1099.8 L440.7,1100.5 L445.7,1101.2 L450.7,1102.0 L455.7,1102.8 L460.7,1103.7 L465.7,1104.6 L470.7,1105.5 L475.7,1106.5 L480.7,1107.5 L485.7,1108.6 L490.7,1109.7 L495.7,1110.8 L500.7,1112.0 L505.7,1113.2 L510.7,1114.5 L515.7,1115.8 L520.7,1117.2 L525.7,1118.6 L530.7,1120.0 L535.7,1121.5 L540.7,1123.0 L545.7,1124.6 L550.7,1126.2 L555.7,1127.8 L560.7,1129.5 L565.7,1131.2 L570.7,1133.0 L575.7,1134.8 L580.7,1136.6 L585.7,1138.5 L590.7,1140.4 L595.7,1142.4 L600.7,1144.4 L605.7,1146.4 L610.7,1148.5 L615.7,1150.6 L620.7,1152.8 L625.7,1155.0 L630.7,1157.3 L635.7,1159.6 L640.7,1161.9 L645.7,1164.3 L650.7,1166.7 L655.7,1169.1 L660.7,1171.6 L665.7,1174.1 L670.7,1176.7 L675.7,1179.2 L680.7,1181.8 L685.7,1184.3 L690.7,1186.9 L690.7,1235.5 L25.7,1235.5 Z"/></clipPath>
<clipPath id="bd4"><path d="M-25.0,1093.9 L-20.0,1091.8 L-15.0,1089.7 L-10.0,1087.6 L-5.0,1085.5 L0.0,1083.4 L5.0,1081.2 L10.0,1079.1 L15.0,1076.9 L20.0,1074.7 L25.0,1072.4 L30.0,1070.2 L35.0,1067.9 L40.0,1065.6 L45.0,1063.3 L50.0,1061.0 L55.0,1058.7 L60.0,1056.3 L65.0,1054.0 L70.0,1051.7 L75.0,1049.3 L80.0,1047.0 L85.0,1044.7 L90.0,1042.4 L95.0,1040.1 L100.0,1037.8 L105.0,1035.6 L110.0,1033.3 L115.0,1031.1 L120.0,1028.9 L125.0,1026.8 L130.0,1024.6 L135.0,1022.5 L140.0,1020.4 L145.0,1018.4 L150.0,1016.4 L155.0,1014.4 L160.0,1012.5 L165.0,1010.6 L170.0,1008.7 L175.0,1006.9 L180.0,1005.1 L185.0,1003.4 L190.0,1001.7 L195.0,1000.1 L200.0,998.6 L205.0,997.0 L210.0,995.6 L215.0,994.2 L220.0,992.8 L225.0,991.5 L230.0,990.2 L235.0,989.0 L240.0,987.9 L245.0,986.8 L250.0,985.7 L255.0,984.7 L260.0,983.8 L265.0,982.9 L270.0,982.0 L275.0,981.2 L280.0,980.5 L285.0,979.8 L290.0,979.1 L295.0,978.5 L300.0,978.0 L305.0,977.4 L310.0,977.0 L315.0,976.6 L320.0,976.2 L325.0,975.9 L330.0,975.6 L335.0,975.4 L340.0,975.2 L345.0,975.0 L350.0,974.9 L355.0,974.9 L360.0,974.9 L365.0,974.9 L370.0,975.0 L375.0,975.1 L380.0,975.3 L385.0,975.5 L390.0,975.7 L395.0,976.0 L400.0,976.3 L405.0,976.7 L410.0,977.1 L415.0,977.6 L420.0,978.1 L425.0,978.6 L430.0,979.2 L435.0,979.8 L440.0,980.5 L445.0,981.2 L450.0,981.9 L455.0,982.7 L460.0,983.6 L465.0,984.4 L470.0,985.3 L475.0,986.3 L480.0,987.3 L485.0,988.3 L490.0,989.4 L495.0,990.5 L500.0,991.7 L505.0,992.9 L510.0,994.1 L515.0,995.4 L520.0,996.7 L525.0,998.1 L530.0,999.5 L535.0,1001.0 L540.0,1002.4 L545.0,1004.0 L550.0,1005.6 L555.0,1007.2 L560.0,1008.8 L565.0,1010.5 L570.0,1012.3 L575.0,1014.1 L580.0,1015.9 L585.0,1017.7 L590.0,1019.7 L595.0,1021.6 L600.0,1023.6 L605.0,1025.6 L610.0,1027.7 L615.0,1029.8 L620.0,1032.0 L625.0,1034.2 L630.0,1036.4 L635.0,1038.7 L640.0,1041.1 L645.0,1043.4 L650.0,1045.8 L655.0,1048.3 L660.0,1050.8 L665.0,1053.3 L670.0,1055.9 L675.0,1058.5 L680.0,1061.2 L685.0,1063.9 L690.0,1066.7 L695.0,1069.5 L700.0,1072.3 L705.0,1075.2 L710.0,1078.1 L715.0,1081.1 L720.0,1084.1 L725.0,1087.0 L730.0,1090.0 L735.0,1093.0 L740.0,1096.0 L690.7,1186.9 L685.7,1184.3 L680.7,1181.8 L675.7,1179.2 L670.7,1176.7 L665.7,1174.1 L660.7,1171.6 L655.7,1169.1 L650.7,1166.7 L645.7,1164.3 L640.7,1161.9 L635.7,1159.6 L630.7,1157.3 L625.7,1155.0 L620.7,1152.8 L615.7,1150.6 L610.7,1148.5 L605.7,1146.4 L600.7,1144.4 L595.7,1142.4 L590.7,1140.4 L585.7,1138.5 L580.7,1136.6 L575.7,1134.8 L570.7,1133.0 L565.7,1131.2 L560.7,1129.5 L555.7,1127.8 L550.7,1126.2 L545.7,1124.6 L540.7,1123.0 L535.7,1121.5 L530.7,1120.0 L525.7,1118.6 L520.7,1117.2 L515.7,1115.8 L510.7,1114.5 L505.7,1113.2 L500.7,1112.0 L495.7,1110.8 L490.7,1109.7 L485.7,1108.6 L480.7,1107.5 L475.7,1106.5 L470.7,1105.5 L465.7,1104.6 L460.7,1103.7 L455.7,1102.8 L450.7,1102.0 L445.7,1101.2 L440.7,1100.5 L435.7,1099.8 L430.7,1099.2 L425.7,1098.5 L420.7,1098.0 L415.7,1097.5 L410.7,1097.0 L405.7,1096.5 L400.7,1096.1 L395.7,1095.8 L390.7,1095.5 L385.7,1095.2 L380.7,1095.0 L375.7,1094.8 L370.7,1094.7 L365.7,1094.6 L360.7,1094.5 L355.7,1094.5 L350.7,1094.5 L345.7,1094.6 L340.7,1094.7 L335.7,1094.9 L330.7,1095.1 L325.7,1095.3 L320.7,1095.6 L315.7,1095.9 L310.7,1096.3 L305.7,1096.7 L300.7,1097.2 L295.7,1097.7 L290.7,1098.2 L285.7,1098.8 L280.7,1099.4 L275.7,1100.1 L270.7,1100.8 L265.7,1101.6 L260.7,1102.4 L255.7,1103.2 L250.7,1104.1 L245.7,1105.0 L240.7,1106.0 L235.7,1107.0 L230.7,1108.1 L225.7,1109.2 L220.7,1110.4 L215.7,1111.6 L210.7,1112.8 L205.7,1114.1 L200.7,1115.4 L195.7,1116.8 L190.7,1118.2 L185.7,1119.7 L180.7,1121.2 L175.7,1122.7 L170.7,1124.3 L165.7,1125.9 L160.7,1127.6 L155.7,1129.3 L150.7,1131.1 L145.7,1132.9 L140.7,1134.8 L135.7,1136.7 L130.7,1138.6 L125.7,1140.6 L120.7,1142.7 L115.7,1144.7 L110.7,1146.9 L105.7,1149.0 L100.7,1151.2 L95.7,1153.5 L90.7,1155.8 L85.7,1158.2 L80.7,1160.6 L75.7,1163.0 L70.7,1165.5 L65.7,1168.0 L60.7,1170.6 L55.7,1173.2 L50.7,1175.9 L45.7,1178.6 L40.7,1181.2 L35.7,1183.9 L30.7,1186.6 L25.7,1189.3 Z"/></clipPath>
<clipPath id="pc5"><rect x="1.5" y="1184.60" width="713.5" height="222.40"/></clipPath>
<linearGradient id="bg5" gradientUnits="userSpaceOnUse" x1="0" x2="715" y1="0" y2="0"><stop offset="0.000" stop-color="#787878"/><stop offset="0.250" stop-color="#8a8a8a"/><stop offset="0.500" stop-color="#989898"/><stop offset="0.750" stop-color="#8a8a8a"/><stop offset="1.000" stop-color="#7d7d7d"/></linearGradient>
<clipPath id="ab5"><path d="M-25.0,1314.9 L-20.0,1312.1 L-15.0,1309.3 L-10.0,1306.5 L-5.0,1303.6 L0.0,1300.8 L5.0,1298.1 L10.0,1295.3 L15.0,1292.6 L20.0,1290.0 L25.0,1287.4 L30.0,1284.8 L35.0,1282.3 L40.0,1279.8 L45.0,1277.3 L50.0,1275.0 L55.0,1272.6 L60.0,1270.3 L65.0,1268.0 L70.0,1265.8 L75.0,1263.6 L80.0,1261.5 L85.0,1259.4 L90.0,1257.4 L95.0,1255.3 L100.0,1253.4 L105.0,1251.5 L110.0,1249.6 L115.0,1247.7 L120.0,1245.9 L125.0,1244.2 L130.0,1242.4 L135.0,1240.8 L140.0,1239.1 L145.0,1237.5 L150.0,1236.0 L155.0,1234.4 L160.0,1232.9 L165.0,1231.5 L170.0,1230.1 L175.0,1228.7 L180.0,1227.4 L185.0,1226.1 L190.0,1224.9 L195.0,1223.7 L200.0,1222.5 L205.0,1221.4 L210.0,1220.3 L215.0,1219.2 L220.0,1218.2 L225.0,1217.3 L230.0,1216.3 L235.0,1215.4 L240.0,1214.6 L245.0,1213.7 L250.0,1212.9 L255.0,1212.2 L260.0,1211.5 L265.0,1210.8 L270.0,1210.1 L275.0,1209.5 L280.0,1209.0 L285.0,1208.4 L290.0,1207.9 L295.0,1207.5 L300.0,1207.0 L305.0,1206.6 L310.0,1206.3 L315.0,1206.0 L320.0,1205.7 L325.0,1205.4 L330.0,1205.2 L335.0,1205.0 L340.0,1204.9 L345.0,1204.7 L350.0,1204.7 L355.0,1204.6 L360.0,1204.6 L365.0,1204.6 L370.0,1204.7 L375.0,1204.8 L380.0,1204.9 L385.0,1205.0 L390.0,1205.2 L395.0,1205.4 L400.0,1205.7 L405.0,1206.0 L410.0,1206.3 L415.0,1206.6 L420.0,1207.0 L425.0,1207.4 L430.0,1207.9 L435.0,1208.3 L440.0,1208.9 L445.0,1209.4 L450.0,1210.0 L455.0,1210.6 L460.0,1211.3 L465.0,1212.0 L470.0,1212.7 L475.0,1213.5 L480.0,1214.3 L485.0,1215.2 L490.0,1216.1 L495.0,1217.1 L500.0,1218.0 L505.0,1219.1 L510.0,1220.2 L515.0,1221.3 L520.0,1222.4 L525.0,1223.6 L530.0,1224.9 L535.0,1226.2 L540.0,1227.5 L545.0,1228.9 L550.0,1230.4 L555.0,1231.9 L560.0,1233.4 L565.0,1235.0 L570.0,1236.7 L575.0,1238.3 L580.0,1240.1 L585.0,1241.9 L590.0,1243.7 L595.0,1245.6 L600.0,1247.6 L605.0,1249.6 L610.0,1251.7 L615.0,1253.8 L620.0,1256.0 L625.0,1258.2 L630.0,1260.5 L635.0,1262.8 L640.0,1265.3 L645.0,1267.7 L650.0,1270.2 L655.0,1272.8 L660.0,1275.5 L665.0,1278.2 L670.0,1281.0 L675.0,1283.8 L680.0,1286.7 L685.0,1289.6 L690.0,1292.7 L695.0,1295.8 L700.0,1298.9 L705.0,1302.1 L710.0,1305.4 L715.0,1308.8 L720.0,1312.1 L725.0,1315.5 L730.0,1318.9 L735.0,1322.3 L740.0,1325.7 L740.0,1174.6 L-25.0,1174.6 Z"/></clipPath>
<clipPath id="be5"><path d="M-1.0,1419.8 L4.0,1416.8 L9.0,1413.9 L14.0,1411.0 L19.0,1408.1 L24.0,1405.1 L29.0,1402.2 L34.0,1399.4 L39.0,1396.6 L44.0,1393.8 L49.0,1391.1 L54.0,1388.4 L59.0,1385.7 L64.0,1383.1 L69.0,1380.6 L74.0,1378.0 L79.0,1375.6 L84.0,1373.1 L89.0,1370.7 L94.0,1368.4 L99.0,1366.1 L104.0,1363.8 L109.0,1361.6 L114.0,1359.4 L119.0,1357.2 L124.0,1355.1 L129.0,1353.1 L134.0,1351.0 L139.0,1349.1 L144.0,1347.1 L149.0,1345.2 L154.0,1343.4 L159.0,1341.5 L164.0,1339.8 L169.0,1338.0 L174.0,1336.3 L179.0,1334.7 L184.0,1333.1 L189.0,1331.5 L194.0,1330.0 L199.0,1328.5 L204.0,1327.0 L209.0,1325.6 L214.0,1324.2 L219.0,1322.9 L224.0,1321.6 L229.0,1320.4 L234.0,1319.2 L239.0,1318.0 L244.0,1316.9 L249.0,1315.8 L254.0,1314.8 L259.0,1313.8 L264.0,1312.8 L269.0,1311.9 L274.0,1311.0 L279.0,1310.2 L284.0,1309.4 L289.0,1308.7 L294.0,1308.0 L299.0,1307.3 L304.0,1306.7 L309.0,1306.2 L314.0,1305.7 L319.0,1305.2 L324.0,1304.8 L329.0,1304.4 L334.0,1304.1 L339.0,1303.8 L344.0,1303.5 L349.0,1303.3 L354.0,1303.2 L359.0,1303.1 L364.0,1303.0 L369.0,1303.0 L374.0,1303.0 L379.0,1303.1 L384.0,1303.3 L389.0,1303.4 L394.0,1303.7 L399.0,1303.9 L404.0,1304.3 L409.0,1304.6 L414.0,1305.1 L419.0,1305.5 L424.0,1306.0 L429.0,1306.6 L434.0,1307.2 L439.0,1307.9 L444.0,1308.6 L449.0,1309.4 L454.0,1310.2 L459.0,1311.1 L464.0,1312.0 L469.0,1312.9 L474.0,1313.9 L479.0,1315.0 L484.0,1316.1 L489.0,1317.3 L494.0,1318.5 L499.0,1319.8 L504.0,1321.1 L509.0,1322.5 L514.0,1323.9 L519.0,1325.4 L524.0,1326.9 L529.0,1328.5 L534.0,1330.1 L539.0,1331.8 L544.0,1333.6 L549.0,1335.3 L554.0,1337.2 L559.0,1339.1 L564.0,1341.0 L569.0,1343.1 L574.0,1345.1 L579.0,1347.2 L584.0,1349.4 L589.0,1351.6 L594.0,1353.9 L599.0,1356.2 L604.0,1358.6 L609.0,1361.1 L614.0,1363.6 L619.0,1366.1 L624.0,1368.7 L629.0,1371.4 L634.0,1374.1 L639.0,1376.9 L644.0,1379.7 L649.0,1382.6 L654.0,1385.6 L659.0,1388.6 L664.0,1391.6 L669.0,1394.8 L674.0,1397.9 L679.0,1401.2 L684.0,1404.5 L689.0,1407.8 L694.0,1411.2 L699.0,1414.6 L704.0,1417.9 L709.0,1421.3 L709.0,1467.0 L-1.0,1467.0 Z"/></clipPath>
<clipPath id="bd5"><path d="M-25.0,1314.9 L-20.0,1312.1 L-15.0,1309.3 L-10.0,1306.5 L-5.0,1303.6 L0.0,1300.8 L5.0,1298.1 L10.0,1295.3 L15.0,1292.6 L20.0,1290.0 L25.0,1287.4 L30.0,1284.8 L35.0,1282.3 L40.0,1279.8 L45.0,1277.3 L50.0,1275.0 L55.0,1272.6 L60.0,1270.3 L65.0,1268.0 L70.0,1265.8 L75.0,1263.6 L80.0,1261.5 L85.0,1259.4 L90.0,1257.4 L95.0,1255.3 L100.0,1253.4 L105.0,1251.5 L110.0,1249.6 L115.0,1247.7 L120.0,1245.9 L125.0,1244.2 L130.0,1242.4 L135.0,1240.8 L140.0,1239.1 L145.0,1237.5 L150.0,1236.0 L155.0,1234.4 L160.0,1232.9 L165.0,1231.5 L170.0,1230.1 L175.0,1228.7 L180.0,1227.4 L185.0,1226.1 L190.0,1224.9 L195.0,1223.7 L200.0,1222.5 L205.0,1221.4 L210.0,1220.3 L215.0,1219.2 L220.0,1218.2 L225.0,1217.3 L230.0,1216.3 L235.0,1215.4 L240.0,1214.6 L245.0,1213.7 L250.0,1212.9 L255.0,1212.2 L260.0,1211.5 L265.0,1210.8 L270.0,1210.1 L275.0,1209.5 L280.0,1209.0 L285.0,1208.4 L290.0,1207.9 L295.0,1207.5 L300.0,1207.0 L305.0,1206.6 L310.0,1206.3 L315.0,1206.0 L320.0,1205.7 L325.0,1205.4 L330.0,1205.2 L335.0,1205.0 L340.0,1204.9 L345.0,1204.7 L350.0,1204.7 L355.0,1204.6 L360.0,1204.6 L365.0,1204.6 L370.0,1204.7 L375.0,1204.8 L380.0,1204.9 L385.0,1205.0 L390.0,1205.2 L395.0,1205.4 L400.0,1205.7 L405.0,1206.0 L410.0,1206.3 L415.0,1206.6 L420.0,1207.0 L425.0,1207.4 L430.0,1207.9 L435.0,1208.3 L440.0,1208.9 L445.0,1209.4 L450.0,1210.0 L455.0,1210.6 L460.0,1211.3 L465.0,1212.0 L470.0,1212.7 L475.0,1213.5 L480.0,1214.3 L485.0,1215.2 L490.0,1216.1 L495.0,1217.1 L500.0,1218.0 L505.0,1219.1 L510.0,1220.2 L515.0,1221.3 L520.0,1222.4 L525.0,1223.6 L530.0,1224.9 L535.0,1226.2 L540.0,1227.5 L545.0,1228.9 L550.0,1230.4 L555.0,1231.9 L560.0,1233.4 L565.0,1235.0 L570.0,1236.7 L575.0,1238.3 L580.0,1240.1 L585.0,1241.9 L590.0,1243.7 L595.0,1245.6 L600.0,1247.6 L605.0,1249.6 L610.0,1251.7 L615.0,1253.8 L620.0,1256.0 L625.0,1258.2 L630.0,1260.5 L635.0,1262.8 L640.0,1265.3 L645.0,1267.7 L650.0,1270.2 L655.0,1272.8 L660.0,1275.5 L665.0,1278.2 L670.0,1281.0 L675.0,1283.8 L680.0,1286.7 L685.0,1289.6 L690.0,1292.7 L695.0,1295.8 L700.0,1298.9 L705.0,1302.1 L710.0,1305.4 L715.0,1308.8 L720.0,1312.1 L725.0,1315.5 L730.0,1318.9 L735.0,1322.3 L740.0,1325.7 L709.0,1421.3 L704.0,1417.9 L699.0,1414.6 L694.0,1411.2 L689.0,1407.8 L684.0,1404.5 L679.0,1401.2 L674.0,1397.9 L669.0,1394.8 L664.0,1391.6 L659.0,1388.6 L654.0,1385.6 L649.0,1382.6 L644.0,1379.7 L639.0,1376.9 L634.0,1374.1 L629.0,1371.4 L624.0,1368.7 L619.0,1366.1 L614.0,1363.6 L609.0,1361.1 L604.0,1358.6 L599.0,1356.2 L594.0,1353.9 L589.0,1351.6 L584.0,1349.4 L579.0,1347.2 L574.0,1345.1 L569.0,1343.1 L564.0,1341.0 L559.0,1339.1 L554.0,1337.2 L549.0,1335.3 L544.0,1333.6 L539.0,1331.8 L534.0,1330.1 L529.0,1328.5 L524.0,1326.9 L519.0,1325.4 L514.0,1323.9 L509.0,1322.5 L504.0,1321.1 L499.0,1319.8 L494.0,1318.5 L489.0,1317.3 L484.0,1316.1 L479.0,1315.0 L474.0,1313.9 L469.0,1312.9 L464.0,1312.0 L459.0,1311.1 L454.0,1310.2 L449.0,1309.4 L444.0,1308.6 L439.0,1307.9 L434.0,1307.2 L429.0,1306.6 L424.0,1306.0 L419.0,1305.5 L414.0,1305.1 L409.0,1304.6 L404.0,1304.3 L399.0,1303.9 L394.0,1303.7 L389.0,1303.4 L384.0,1303.3 L379.0,1303.1 L374.0,1303.0 L369.0,1303.0 L364.0,1303.0 L359.0,1303.1 L354.0,1303.2 L349.0,1303.3 L344.0,1303.5 L339.0,1303.8 L334.0,1304.1 L329.0,1304.4 L324.0,1304.8 L319.0,1305.2 L314.0,1305.7 L309.0,1306.2 L304.0,1306.7 L299.0,1307.3 L294.0,1308.0 L289.0,1308.7 L284.0,1309.4 L279.0,1310.2 L274.0,1311.0 L269.0,1311.9 L264.0,1312.8 L259.0,1313.8 L254.0,1314.8 L249.0,1315.8 L244.0,1316.9 L239.0,1318.0 L234.0,1319.2 L229.0,1320.4 L224.0,1321.6 L219.0,1322.9 L214.0,1324.2 L209.0,1325.6 L204.0,1327.0 L199.0,1328.5 L194.0,1330.0 L189.0,1331.5 L184.0,1333.1 L179.0,1334.7 L174.0,1336.3 L169.0,1338.0 L164.0,1339.8 L159.0,1341.5 L154.0,1343.4 L149.0,1345.2 L144.0,1347.1 L139.0,1349.1 L134.0,1351.0 L129.0,1353.1 L124.0,1355.1 L119.0,1357.2 L114.0,1359.4 L109.0,1361.6 L104.0,1363.8 L99.0,1366.1 L94.0,1368.4 L89.0,1370.7 L84.0,1373.1 L79.0,1375.6 L74.0,1378.0 L69.0,1380.6 L64.0,1383.1 L59.0,1385.7 L54.0,1388.4 L49.0,1391.1 L44.0,1393.8 L39.0,1396.6 L34.0,1399.4 L29.0,1402.2 L24.0,1405.1 L19.0,1408.1 L14.0,1411.0 L9.0,1413.9 L4.0,1416.8 L-1.0,1419.8 Z"/></clipPath>
<clipPath id="pc6"><rect x="1.5" y="1429.60" width="713.5" height="222.20"/></clipPath>
<linearGradient id="bg6" gradientUnits="userSpaceOnUse" x1="0" x2="715" y1="0" y2="0"><stop offset="0.000" stop-color="#6e6e6e"/><stop offset="0.250" stop-color="#7d7d7d"/><stop offset="0.500" stop-color="#848484"/><stop offset="0.750" stop-color="#6c6c6c"/><stop offset="1.000" stop-color="#626262"/></linearGradient>
<clipPath id="ab6"><path d="M-25.0,1581.4 L-20.0,1578.3 L-15.0,1575.2 L-10.0,1572.1 L-5.0,1569.0 L0.0,1565.8 L5.0,1562.7 L10.0,1559.7 L15.0,1556.7 L20.0,1553.7 L25.0,1550.8 L30.0,1547.9 L35.0,1545.0 L40.0,1542.2 L45.0,1539.4 L50.0,1536.7 L55.0,1534.0 L60.0,1531.4 L65.0,1528.8 L70.0,1526.2 L75.0,1523.7 L80.0,1521.2 L85.0,1518.8 L90.0,1516.4 L95.0,1514.0 L100.0,1511.7 L105.0,1509.5 L110.0,1507.2 L115.0,1505.0 L120.0,1502.9 L125.0,1500.8 L130.0,1498.7 L135.0,1496.7 L140.0,1494.8 L145.0,1492.8 L150.0,1490.9 L155.0,1489.1 L160.0,1487.3 L165.0,1485.5 L170.0,1483.8 L175.0,1482.1 L180.0,1480.5 L185.0,1478.9 L190.0,1477.4 L195.0,1475.9 L200.0,1474.4 L205.0,1473.0 L210.0,1471.6 L215.0,1470.3 L220.0,1469.0 L225.0,1467.8 L230.0,1466.6 L235.0,1465.4 L240.0,1464.3 L245.0,1463.2 L250.0,1462.2 L255.0,1461.2 L260.0,1460.3 L265.0,1459.4 L270.0,1458.5 L275.0,1457.7 L280.0,1456.9 L285.0,1456.2 L290.0,1455.5 L295.0,1454.9 L300.0,1454.3 L305.0,1453.7 L310.0,1453.2 L315.0,1452.8 L320.0,1452.4 L325.0,1452.0 L330.0,1451.7 L335.0,1451.4 L340.0,1451.1 L345.0,1451.0 L350.0,1450.8 L355.0,1450.7 L360.0,1450.6 L365.0,1450.6 L370.0,1450.7 L375.0,1450.7 L380.0,1450.8 L385.0,1451.0 L390.0,1451.2 L395.0,1451.5 L400.0,1451.8 L405.0,1452.1 L410.0,1452.5 L415.0,1452.9 L420.0,1453.4 L425.0,1453.9 L430.0,1454.5 L435.0,1455.1 L440.0,1455.8 L445.0,1456.5 L450.0,1457.2 L455.0,1458.0 L460.0,1458.8 L465.0,1459.7 L470.0,1460.7 L475.0,1461.6 L480.0,1462.7 L485.0,1463.7 L490.0,1464.8 L495.0,1466.0 L500.0,1467.2 L505.0,1468.5 L510.0,1469.8 L515.0,1471.1 L520.0,1472.5 L525.0,1473.9 L530.0,1475.4 L535.0,1476.9 L540.0,1478.5 L545.0,1480.1 L550.0,1481.8 L555.0,1483.5 L560.0,1485.3 L565.0,1487.1 L570.0,1488.9 L575.0,1490.8 L580.0,1492.8 L585.0,1494.8 L590.0,1496.8 L595.0,1498.9 L600.0,1501.0 L605.0,1503.2 L610.0,1505.4 L615.0,1507.7 L620.0,1510.0 L625.0,1512.4 L630.0,1514.8 L635.0,1517.3 L640.0,1519.8 L645.0,1522.3 L650.0,1524.9 L655.0,1527.6 L660.0,1530.3 L665.0,1533.0 L670.0,1535.8 L675.0,1538.7 L680.0,1541.6 L685.0,1544.5 L690.0,1547.5 L695.0,1550.5 L700.0,1553.6 L705.0,1556.7 L710.0,1559.9 L715.0,1563.1 L720.0,1566.4 L725.0,1569.6 L730.0,1572.9 L735.0,1576.1 L740.0,1579.3 L740.0,1419.6 L-25.0,1419.6 Z"/></clipPath>
<clipPath id="be6"><path d="M23.3,1666.1 L28.3,1663.1 L33.3,1660.1 L38.3,1657.1 L43.3,1654.1 L48.3,1651.1 L53.3,1648.1 L58.3,1645.2 L63.3,1642.4 L68.3,1639.7 L73.3,1637.0 L78.3,1634.4 L83.3,1631.8 L88.3,1629.3 L93.3,1626.9 L98.3,1624.6 L103.3,1622.3 L108.3,1620.0 L113.3,1617.9 L118.3,1615.8 L123.3,1613.7 L128.3,1611.7 L133.3,1609.8 L138.3,1607.9 L143.3,1606.1 L148.3,1604.4 L153.3,1602.7 L158.3,1601.0 L163.3,1599.5 L168.3,1597.9 L173.3,1596.5 L178.3,1595.0 L183.3,1593.6 L188.3,1592.3 L193.3,1591.0 L198.3,1589.8 L203.3,1588.6 L208.3,1587.5 L213.3,1586.4 L218.3,1585.4 L223.3,1584.4 L228.3,1583.5 L233.3,1582.6 L238.3,1581.7 L243.3,1580.9 L248.3,1580.1 L253.3,1579.4 L258.3,1578.7 L263.3,1578.0 L268.3,1577.4 L273.3,1576.8 L278.3,1576.3 L283.3,1575.8 L288.3,1575.3 L293.3,1574.9 L298.3,1574.5 L303.3,1574.2 L308.3,1573.9 L313.3,1573.6 L318.3,1573.4 L323.3,1573.2 L328.3,1573.0 L333.3,1572.9 L338.3,1572.8 L343.3,1572.7 L348.3,1572.7 L353.3,1572.7 L358.3,1572.7 L363.3,1572.8 L368.3,1572.9 L373.3,1573.1 L378.3,1573.2 L383.3,1573.4 L388.3,1573.7 L393.3,1574.0 L398.3,1574.3 L403.3,1574.6 L408.3,1575.0 L413.3,1575.3 L418.3,1575.8 L423.3,1576.2 L428.3,1576.7 L433.3,1577.2 L438.3,1577.7 L443.3,1578.3 L448.3,1578.9 L453.3,1579.5 L458.3,1580.2 L463.3,1580.9 L468.3,1581.6 L473.3,1582.3 L478.3,1583.0 L483.3,1583.8 L488.3,1584.6 L493.3,1585.5 L498.3,1586.4 L503.3,1587.3 L508.3,1588.2 L513.3,1589.2 L518.3,1590.1 L523.3,1591.2 L528.3,1592.2 L533.3,1593.3 L538.3,1594.4 L543.3,1595.5 L548.3,1596.7 L553.3,1597.9 L558.3,1599.1 L563.3,1600.4 L568.3,1601.7 L573.3,1603.0 L578.3,1604.4 L583.3,1605.8 L588.3,1607.2 L593.3,1608.7 L598.3,1610.1 L603.3,1611.7 L608.3,1613.2 L613.3,1614.8 L618.3,1616.4 L623.3,1618.1 L628.3,1619.8 L633.3,1621.5 L638.3,1623.3 L643.3,1625.2 L648.3,1627.0 L653.3,1628.9 L658.3,1630.9 L663.3,1632.9 L668.3,1635.0 L673.3,1637.1 L678.3,1639.2 L683.3,1641.5 L688.3,1643.7 L693.3,1646.1 L698.3,1648.4 L703.3,1650.8 L708.3,1653.1 L713.3,1655.4 L713.3,1711.8 L23.3,1711.8 Z"/></clipPath>
<clipPath id="bd6"><path d="M-25.0,1581.4 L-20.0,1578.3 L-15.0,1575.2 L-10.0,1572.1 L-5.0,1569.0 L0.0,1565.8 L5.0,1562.7 L10.0,1559.7 L15.0,1556.7 L20.0,1553.7 L25.0,1550.8 L30.0,1547.9 L35.0,1545.0 L40.0,1542.2 L45.0,1539.4 L50.0,1536.7 L55.0,1534.0 L60.0,1531.4 L65.0,1528.8 L70.0,1526.2 L75.0,1523.7 L80.0,1521.2 L85.0,1518.8 L90.0,1516.4 L95.0,1514.0 L100.0,1511.7 L105.0,1509.5 L110.0,1507.2 L115.0,1505.0 L120.0,1502.9 L125.0,1500.8 L130.0,1498.7 L135.0,1496.7 L140.0,1494.8 L145.0,1492.8 L150.0,1490.9 L155.0,1489.1 L160.0,1487.3 L165.0,1485.5 L170.0,1483.8 L175.0,1482.1 L180.0,1480.5 L185.0,1478.9 L190.0,1477.4 L195.0,1475.9 L200.0,1474.4 L205.0,1473.0 L210.0,1471.6 L215.0,1470.3 L220.0,1469.0 L225.0,1467.8 L230.0,1466.6 L235.0,1465.4 L240.0,1464.3 L245.0,1463.2 L250.0,1462.2 L255.0,1461.2 L260.0,1460.3 L265.0,1459.4 L270.0,1458.5 L275.0,1457.7 L280.0,1456.9 L285.0,1456.2 L290.0,1455.5 L295.0,1454.9 L300.0,1454.3 L305.0,1453.7 L310.0,1453.2 L315.0,1452.8 L320.0,1452.4 L325.0,1452.0 L330.0,1451.7 L335.0,1451.4 L340.0,1451.1 L345.0,1451.0 L350.0,1450.8 L355.0,1450.7 L360.0,1450.6 L365.0,1450.6 L370.0,1450.7 L375.0,1450.7 L380.0,1450.8 L385.0,1451.0 L390.0,1451.2 L395.0,1451.5 L400.0,1451.8 L405.0,1452.1 L410.0,1452.5 L415.0,1452.9 L420.0,1453.4 L425.0,1453.9 L430.0,1454.5 L435.0,1455.1 L440.0,1455.8 L445.0,1456.5 L450.0,1457.2 L455.0,1458.0 L460.0,1458.8 L465.0,1459.7 L470.0,1460.7 L475.0,1461.6 L480.0,1462.7 L485.0,1463.7 L490.0,1464.8 L495.0,1466.0 L500.0,1467.2 L505.0,1468.5 L510.0,1469.8 L515.0,1471.1 L520.0,1472.5 L525.0,1473.9 L530.0,1475.4 L535.0,1476.9 L540.0,1478.5 L545.0,1480.1 L550.0,1481.8 L555.0,1483.5 L560.0,1485.3 L565.0,1487.1 L570.0,1488.9 L575.0,1490.8 L580.0,1492.8 L585.0,1494.8 L590.0,1496.8 L595.0,1498.9 L600.0,1501.0 L605.0,1503.2 L610.0,1505.4 L615.0,1507.7 L620.0,1510.0 L625.0,1512.4 L630.0,1514.8 L635.0,1517.3 L640.0,1519.8 L645.0,1522.3 L650.0,1524.9 L655.0,1527.6 L660.0,1530.3 L665.0,1533.0 L670.0,1535.8 L675.0,1538.7 L680.0,1541.6 L685.0,1544.5 L690.0,1547.5 L695.0,1550.5 L700.0,1553.6 L705.0,1556.7 L710.0,1559.9 L715.0,1563.1 L720.0,1566.4 L725.0,1569.6 L730.0,1572.9 L735.0,1576.1 L740.0,1579.3 L713.3,1655.4 L708.3,1653.1 L703.3,1650.8 L698.3,1648.4 L693.3,1646.1 L688.3,1643.7 L683.3,1641.5 L678.3,1639.2 L673.3,1637.1 L668.3,1635.0 L663.3,1632.9 L658.3,1630.9 L653.3,1628.9 L648.3,1627.0 L643.3,1625.2 L638.3,1623.3 L633.3,1621.5 L628.3,1619.8 L623.3,1618.1 L618.3,1616.4 L613.3,1614.8 L608.3,1613.2 L603.3,1611.7 L598.3,1610.1 L593.3,1608.7 L588.3,1607.2 L583.3,1605.8 L578.3,1604.4 L573.3,1603.0 L568.3,1601.7 L563.3,1600.4 L558.3,1599.1 L553.3,1597.9 L548.3,1596.7 L543.3,1595.5 L538.3,1594.4 L533.3,1593.3 L528.3,1592.2 L523.3,1591.2 L518.3,1590.1 L513.3,1589.2 L508.3,1588.2 L503.3,1587.3 L498.3,1586.4 L493.3,1585.5 L488.3,1584.6 L483.3,1583.8 L478.3,1583.0 L473.3,1582.3 L468.3,1581.6 L463.3,1580.9 L458.3,1580.2 L453.3,1579.5 L448.3,1578.9 L443.3,1578.3 L438.3,1577.7 L433.3,1577.2 L428.3,1576.7 L423.3,1576.2 L418.3,1575.8 L413.3,1575.3 L408.3,1575.0 L403.3,1574.6 L398.3,1574.3 L393.3,1574.0 L388.3,1573.7 L383.3,1573.4 L378.3,1573.2 L373.3,1573.1 L368.3,1572.9 L363.3,1572.8 L358.3,1572.7 L353.3,1572.7 L348.3,1572.7 L343.3,1572.7 L338.3,1572.8 L333.3,1572.9 L328.3,1573.0 L323.3,1573.2 L318.3,1573.4 L313.3,1573.6 L308.3,1573.9 L303.3,1574.2 L298.3,1574.5 L293.3,1574.9 L288.3,1575.3 L283.3,1575.8 L278.3,1576.3 L273.3,1576.8 L268.3,1577.4 L263.3,1578.0 L258.3,1578.7 L253.3,1579.4 L248.3,1580.1 L243.3,1580.9 L238.3,1581.7 L233.3,1582.6 L228.3,1583.5 L223.3,1584.4 L218.3,1585.4 L213.3,1586.4 L208.3,1587.5 L203.3,1588.6 L198.3,1589.8 L193.3,1591.0 L188.3,1592.3 L183.3,1593.6 L178.3,1595.0 L173.3,1596.5 L168.3,1597.9 L163.3,1599.5 L158.3,1601.0 L153.3,1602.7 L148.3,1604.4 L143.3,1606.1 L138.3,1607.9 L133.3,1609.8 L128.3,1611.7 L123.3,1613.7 L118.3,1615.8 L113.3,1617.9 L108.3,1620.0 L103.3,1622.3 L98.3,1624.6 L93.3,1626.9 L88.3,1629.3 L83.3,1631.8 L78.3,1634.4 L73.3,1637.0 L68.3,1639.7 L63.3,1642.4 L58.3,1645.2 L53.3,1648.1 L48.3,1651.1 L43.3,1654.1 L38.3,1657.1 L33.3,1660.1 L28.3,1663.1 L23.3,1666.1 Z"/></clipPath>
<clipPath id="pc7"><rect x="1.5" y="1660.70" width="713.5" height="223.00"/></clipPath>
<linearGradient id="bg7" gradientUnits="userSpaceOnUse" x1="0" x2="715" y1="0" y2="0"><stop offset="0.000" stop-color="#6c6c6c"/><stop offset="0.250" stop-color="#747474"/><stop offset="0.500" stop-color="#7e7e7e"/><stop offset="0.750" stop-color="#707070"/><stop offset="1.000" stop-color="#686868"/></linearGradient>
<clipPath id="ab7"><path d="M-25.0,1800.8 L-20.0,1798.1 L-15.0,1795.4 L-10.0,1792.7 L-5.0,1790.0 L0.0,1787.3 L5.0,1784.6 L10.0,1781.9 L15.0,1779.3 L20.0,1776.7 L25.0,1774.1 L30.0,1771.6 L35.0,1769.1 L40.0,1766.7 L45.0,1764.2 L50.0,1761.9 L55.0,1759.5 L60.0,1757.2 L65.0,1754.9 L70.0,1752.6 L75.0,1750.4 L80.0,1748.2 L85.0,1746.0 L90.0,1743.9 L95.0,1741.8 L100.0,1739.8 L105.0,1737.8 L110.0,1735.8 L115.0,1733.8 L120.0,1731.9 L125.0,1730.0 L130.0,1728.2 L135.0,1726.4 L140.0,1724.6 L145.0,1722.8 L150.0,1721.1 L155.0,1719.5 L160.0,1717.8 L165.0,1716.2 L170.0,1714.6 L175.0,1713.1 L180.0,1711.6 L185.0,1710.1 L190.0,1708.7 L195.0,1707.3 L200.0,1706.0 L205.0,1704.7 L210.0,1703.4 L215.0,1702.1 L220.0,1700.9 L225.0,1699.7 L230.0,1698.6 L235.0,1697.5 L240.0,1696.4 L245.0,1695.4 L250.0,1694.4 L255.0,1693.4 L260.0,1692.5 L265.0,1691.6 L270.0,1690.8 L275.0,1690.0 L280.0,1689.2 L285.0,1688.5 L290.0,1687.8 L295.0,1687.1 L300.0,1686.5 L305.0,1685.9 L310.0,1685.4 L315.0,1684.9 L320.0,1684.4 L325.0,1684.0 L330.0,1683.6 L335.0,1683.2 L340.0,1682.9 L345.0,1682.6 L350.0,1682.4 L355.0,1682.2 L360.0,1682.0 L365.0,1681.9 L370.0,1681.8 L375.0,1681.7 L380.0,1681.7 L385.0,1681.8 L390.0,1681.8 L395.0,1681.9 L400.0,1682.1 L405.0,1682.3 L410.0,1682.5 L415.0,1682.7 L420.0,1683.1 L425.0,1683.4 L430.0,1683.8 L435.0,1684.2 L440.0,1684.7 L445.0,1685.2 L450.0,1685.7 L455.0,1686.3 L460.0,1687.0 L465.0,1687.7 L470.0,1688.4 L475.0,1689.1 L480.0,1690.0 L485.0,1690.8 L490.0,1691.7 L495.0,1692.7 L500.0,1693.7 L505.0,1694.7 L510.0,1695.8 L515.0,1696.9 L520.0,1698.1 L525.0,1699.3 L530.0,1700.6 L535.0,1701.9 L540.0,1703.3 L545.0,1704.7 L550.0,1706.2 L555.0,1707.7 L560.0,1709.3 L565.0,1710.9 L570.0,1712.6 L575.0,1714.3 L580.0,1716.1 L585.0,1717.9 L590.0,1719.8 L595.0,1721.7 L600.0,1723.7 L605.0,1725.8 L610.0,1727.9 L615.0,1730.0 L620.0,1732.2 L625.0,1734.5 L630.0,1736.8 L635.0,1739.1 L640.0,1741.6 L645.0,1744.0 L650.0,1746.6 L655.0,1749.2 L660.0,1751.8 L665.0,1754.5 L670.0,1757.3 L675.0,1760.1 L680.0,1763.0 L685.0,1765.9 L690.0,1768.9 L695.0,1772.0 L700.0,1775.1 L705.0,1778.3 L710.0,1781.5 L715.0,1784.8 L720.0,1788.1 L725.0,1791.5 L730.0,1794.8 L735.0,1798.1 L740.0,1801.5 L740.0,1650.7 L-25.0,1650.7 Z"/></clipPath>
<clipPath id="be7"><path d="M18.4,1898.0 L23.4,1895.0 L28.4,1892.0 L33.4,1889.0 L38.4,1885.9 L43.4,1882.9 L48.4,1880.0 L53.4,1877.0 L58.4,1874.1 L63.4,1871.3 L68.4,1868.6 L73.4,1865.8 L78.4,1863.1 L83.4,1860.5 L88.4,1857.9 L93.4,1855.4 L98.4,1852.9 L103.4,1850.4 L108.4,1848.0 L113.4,1845.6 L118.4,1843.2 L123.4,1840.9 L128.4,1838.6 L133.4,1836.4 L138.4,1834.2 L143.4,1832.0 L148.4,1829.8 L153.4,1827.7 L158.4,1825.6 L163.4,1823.5 L168.4,1821.5 L173.4,1819.5 L178.4,1817.5 L183.4,1815.5 L188.4,1813.6 L193.4,1811.8 L198.4,1809.9 L203.4,1808.1 L208.4,1806.4 L213.4,1804.6 L218.4,1802.9 L223.4,1801.3 L228.4,1799.7 L233.4,1798.1 L238.4,1796.6 L243.4,1795.1 L248.4,1793.7 L253.4,1792.3 L258.4,1791.0 L263.4,1789.7 L268.4,1788.4 L273.4,1787.2 L278.4,1786.1 L283.4,1785.0 L288.4,1783.9 L293.4,1782.9 L298.4,1782.0 L303.4,1781.1 L308.4,1780.2 L313.4,1779.4 L318.4,1778.7 L323.4,1778.0 L328.4,1777.3 L333.4,1776.8 L338.4,1776.2 L343.4,1775.8 L348.4,1775.4 L353.4,1775.0 L358.4,1774.7 L363.4,1774.5 L368.4,1774.3 L373.4,1774.2 L378.4,1774.1 L383.4,1774.1 L388.4,1774.2 L393.4,1774.3 L398.4,1774.5 L403.4,1774.8 L408.4,1775.1 L413.4,1775.5 L418.4,1775.9 L423.4,1776.4 L428.4,1777.0 L433.4,1777.7 L438.4,1778.4 L443.4,1779.1 L448.4,1779.9 L453.4,1780.8 L458.4,1781.7 L463.4,1782.7 L468.4,1783.8 L473.4,1784.9 L478.4,1786.1 L483.4,1787.3 L488.4,1788.6 L493.4,1789.9 L498.4,1791.3 L503.4,1792.8 L508.4,1794.3 L513.4,1795.8 L518.4,1797.4 L523.4,1799.1 L528.4,1800.8 L533.4,1802.5 L538.4,1804.3 L543.4,1806.2 L548.4,1808.1 L553.4,1810.1 L558.4,1812.1 L563.4,1814.1 L568.4,1816.2 L573.4,1818.3 L578.4,1820.5 L583.4,1822.8 L588.4,1825.0 L593.4,1827.4 L598.4,1829.7 L603.4,1832.1 L608.4,1834.6 L613.4,1837.1 L618.4,1839.6 L623.4,1842.2 L628.4,1844.8 L633.4,1847.4 L638.4,1850.1 L643.4,1852.8 L648.4,1855.6 L653.4,1858.4 L658.4,1861.2 L663.4,1864.1 L668.4,1867.0 L673.4,1870.0 L678.4,1872.9 L683.4,1876.0 L688.4,1879.0 L693.4,1882.1 L698.4,1885.2 L703.4,1888.3 L708.4,1891.4 L713.4,1894.5 L718.4,1897.6 L718.4,1943.7 L18.4,1943.7 Z"/></clipPath>
<clipPath id="bd7"><path d="M-25.0,1800.8 L-20.0,1798.1 L-15.0,1795.4 L-10.0,1792.7 L-5.0,1790.0 L0.0,1787.3 L5.0,1784.6 L10.0,1781.9 L15.0,1779.3 L20.0,1776.7 L25.0,1774.1 L30.0,1771.6 L35.0,1769.1 L40.0,1766.7 L45.0,1764.2 L50.0,1761.9 L55.0,1759.5 L60.0,1757.2 L65.0,1754.9 L70.0,1752.6 L75.0,1750.4 L80.0,1748.2 L85.0,1746.0 L90.0,1743.9 L95.0,1741.8 L100.0,1739.8 L105.0,1737.8 L110.0,1735.8 L115.0,1733.8 L120.0,1731.9 L125.0,1730.0 L130.0,1728.2 L135.0,1726.4 L140.0,1724.6 L145.0,1722.8 L150.0,1721.1 L155.0,1719.5 L160.0,1717.8 L165.0,1716.2 L170.0,1714.6 L175.0,1713.1 L180.0,1711.6 L185.0,1710.1 L190.0,1708.7 L195.0,1707.3 L200.0,1706.0 L205.0,1704.7 L210.0,1703.4 L215.0,1702.1 L220.0,1700.9 L225.0,1699.7 L230.0,1698.6 L235.0,1697.5 L240.0,1696.4 L245.0,1695.4 L250.0,1694.4 L255.0,1693.4 L260.0,1692.5 L265.0,1691.6 L270.0,1690.8 L275.0,1690.0 L280.0,1689.2 L285.0,1688.5 L290.0,1687.8 L295.0,1687.1 L300.0,1686.5 L305.0,1685.9 L310.0,1685.4 L315.0,1684.9 L320.0,1684.4 L325.0,1684.0 L330.0,1683.6 L335.0,1683.2 L340.0,1682.9 L345.0,1682.6 L350.0,1682.4 L355.0,1682.2 L360.0,1682.0 L365.0,1681.9 L370.0,1681.8 L375.0,1681.7 L380.0,1681.7 L385.0,1681.8 L390.0,1681.8 L395.0,1681.9 L400.0,1682.1 L405.0,1682.3 L410.0,1682.5 L415.0,1682.7 L420.0,1683.1 L425.0,1683.4 L430.0,1683.8 L435.0,1684.2 L440.0,1684.7 L445.0,1685.2 L450.0,1685.7 L455.0,1686.3 L460.0,1687.0 L465.0,1687.7 L470.0,1688.4 L475.0,1689.1 L480.0,1690.0 L485.0,1690.8 L490.0,1691.7 L495.0,1692.7 L500.0,1693.7 L505.0,1694.7 L510.0,1695.8 L515.0,1696.9 L520.0,1698.1 L525.0,1699.3 L530.0,1700.6 L535.0,1701.9 L540.0,1703.3 L545.0,1704.7 L550.0,1706.2 L555.0,1707.7 L560.0,1709.3 L565.0,1710.9 L570.0,1712.6 L575.0,1714.3 L580.0,1716.1 L585.0,1717.9 L590.0,1719.8 L595.0,1721.7 L600.0,1723.7 L605.0,1725.8 L610.0,1727.9 L615.0,1730.0 L620.0,1732.2 L625.0,1734.5 L630.0,1736.8 L635.0,1739.1 L640.0,1741.6 L645.0,1744.0 L650.0,1746.6 L655.0,1749.2 L660.0,1751.8 L665.0,1754.5 L670.0,1757.3 L675.0,1760.1 L680.0,1763.0 L685.0,1765.9 L690.0,1768.9 L695.0,1772.0 L700.0,1775.1 L705.0,1778.3 L710.0,1781.5 L715.0,1784.8 L720.0,1788.1 L725.0,1791.5 L730.0,1794.8 L735.0,1798.1 L740.0,1801.5 L718.4,1897.6 L713.4,1894.5 L708.4,1891.4 L703.4,1888.3 L698.4,1885.2 L693.4,1882.1 L688.4,1879.0 L683.4,1876.0 L678.4,1872.9 L673.4,1870.0 L668.4,1867.0 L663.4,1864.1 L658.4,1861.2 L653.4,1858.4 L648.4,1855.6 L643.4,1852.8 L638.4,1850.1 L633.4,1847.4 L628.4,1844.8 L623.4,1842.2 L618.4,1839.6 L613.4,1837.1 L608.4,1834.6 L603.4,1832.1 L598.4,1829.7 L593.4,1827.4 L588.4,1825.0 L583.4,1822.8 L578.4,1820.5 L573.4,1818.3 L568.4,1816.2 L563.4,1814.1 L558.4,1812.1 L553.4,1810.1 L548.4,1808.1 L543.4,1806.2 L538.4,1804.3 L533.4,1802.5 L528.4,1800.8 L523.4,1799.1 L518.4,1797.4 L513.4,1795.8 L508.4,1794.3 L503.4,1792.8 L498.4,1791.3 L493.4,1789.9 L488.4,1788.6 L483.4,1787.3 L478.4,1786.1 L473.4,1784.9 L468.4,1783.8 L463.4,1782.7 L458.4,1781.7 L453.4,1780.8 L448.4,1779.9 L443.4,1779.1 L438.4,1778.4 L433.4,1777.7 L428.4,1777.0 L423.4,1776.4 L418.4,1775.9 L413.4,1775.5 L408.4,1775.1 L403.4,1774.8 L398.4,1774.5 L393.4,1774.3 L388.4,1774.2 L383.4,1774.1 L378.4,1774.1 L373.4,1774.2 L368.4,1774.3 L363.4,1774.5 L358.4,1774.7 L353.4,1775.0 L348.4,1775.4 L343.4,1775.8 L338.4,1776.2 L333.4,1776.8 L328.4,1777.3 L323.4,1778.0 L318.4,1778.7 L313.4,1779.4 L308.4,1780.2 L303.4,1781.1 L298.4,1782.0 L293.4,1782.9 L288.4,1783.9 L283.4,1785.0 L278.4,1786.1 L273.4,1787.2 L268.4,1788.4 L263.4,1789.7 L258.4,1791.0 L253.4,1792.3 L248.4,1793.7 L243.4,1795.1 L238.4,1796.6 L233.4,1798.1 L228.4,1799.7 L223.4,1801.3 L218.4,1802.9 L213.4,1804.6 L208.4,1806.4 L203.4,1808.1 L198.4,1809.9 L193.4,1811.8 L188.4,1813.6 L183.4,1815.5 L178.4,1817.5 L173.4,1819.5 L168.4,1821.5 L163.4,1823.5 L158.4,1825.6 L153.4,1827.7 L148.4,1829.8 L143.4,1832.0 L138.4,1834.2 L133.4,1836.4 L128.4,1838.6 L123.4,1840.9 L118.4,1843.2 L113.4,1845.6 L108.4,1848.0 L103.4,1850.4 L98.4,1852.9 L93.4,1855.4 L88.4,1857.9 L83.4,1860.5 L78.4,1863.1 L73.4,1865.8 L68.4,1868.6 L63.4,1871.3 L58.4,1874.1 L53.4,1877.0 L48.4,1880.0 L43.4,1882.9 L38.4,1885.9 L33.4,1889.0 L28.4,1892.0 L23.4,1895.0 L18.4,1898.0 Z"/></clipPath>
<clipPath id="pc8"><rect x="1.5" y="1905.80" width="713.5" height="222.70"/></clipPath>
<linearGradient id="bg8" gradientUnits="userSpaceOnUse" x1="0" x2="715" y1="0" y2="0"><stop offset="0.000" stop-color="#969696"/><stop offset="0.250" stop-color="#a5a5a5"/><stop offset="0.500" stop-color="#afafaf"/><stop offset="0.750" stop-color="#a5a5a5"/><stop offset="1.000" stop-color="#989898"/></linearGradient>
<clipPath id="ab8"><path d="M-25.0,2047.1 L-20.0,2044.3 L-15.0,2041.5 L-10.0,2038.7 L-5.0,2035.9 L0.0,2033.0 L5.0,2030.3 L10.0,2027.5 L15.0,2024.8 L20.0,2022.1 L25.0,2019.4 L30.0,2016.8 L35.0,2014.2 L40.0,2011.7 L45.0,2009.2 L50.0,2006.7 L55.0,2004.2 L60.0,2001.8 L65.0,1999.4 L70.0,1997.1 L75.0,1994.8 L80.0,1992.5 L85.0,1990.3 L90.0,1988.1 L95.0,1985.9 L100.0,1983.8 L105.0,1981.7 L110.0,1979.6 L115.0,1977.6 L120.0,1975.7 L125.0,1973.7 L130.0,1971.8 L135.0,1969.9 L140.0,1968.1 L145.0,1966.3 L150.0,1964.5 L155.0,1962.8 L160.0,1961.1 L165.0,1959.5 L170.0,1957.9 L175.0,1956.3 L180.0,1954.8 L185.0,1953.3 L190.0,1951.9 L195.0,1950.4 L200.0,1949.1 L205.0,1947.7 L210.0,1946.4 L215.0,1945.2 L220.0,1944.0 L225.0,1942.8 L230.0,1941.6 L235.0,1940.6 L240.0,1939.5 L245.0,1938.5 L250.0,1937.5 L255.0,1936.6 L260.0,1935.7 L265.0,1934.8 L270.0,1934.0 L275.0,1933.2 L280.0,1932.5 L285.0,1931.8 L290.0,1931.1 L295.0,1930.5 L300.0,1929.9 L305.0,1929.4 L310.0,1928.9 L315.0,1928.5 L320.0,1928.1 L325.0,1927.7 L330.0,1927.4 L335.0,1927.1 L340.0,1926.9 L345.0,1926.7 L350.0,1926.6 L355.0,1926.5 L360.0,1926.4 L365.0,1926.4 L370.0,1926.4 L375.0,1926.5 L380.0,1926.6 L385.0,1926.7 L390.0,1926.9 L395.0,1927.2 L400.0,1927.5 L405.0,1927.8 L410.0,1928.2 L415.0,1928.6 L420.0,1929.1 L425.0,1929.6 L430.0,1930.1 L435.0,1930.7 L440.0,1931.4 L445.0,1932.1 L450.0,1932.8 L455.0,1933.6 L460.0,1934.4 L465.0,1935.3 L470.0,1936.2 L475.0,1937.1 L480.0,1938.1 L485.0,1939.2 L490.0,1940.2 L495.0,1941.4 L500.0,1942.5 L505.0,1943.7 L510.0,1945.0 L515.0,1946.3 L520.0,1947.7 L525.0,1949.0 L530.0,1950.5 L535.0,1951.9 L540.0,1953.5 L545.0,1955.0 L550.0,1956.6 L555.0,1958.3 L560.0,1960.0 L565.0,1961.7 L570.0,1963.5 L575.0,1965.3 L580.0,1967.2 L585.0,1969.1 L590.0,1971.0 L595.0,1973.0 L600.0,1975.1 L605.0,1977.1 L610.0,1979.3 L615.0,1981.4 L620.0,1983.6 L625.0,1985.9 L630.0,1988.2 L635.0,1990.5 L640.0,1992.9 L645.0,1995.3 L650.0,1997.8 L655.0,2000.3 L660.0,2002.8 L665.0,2005.4 L670.0,2008.1 L675.0,2010.8 L680.0,2013.5 L685.0,2016.2 L690.0,2019.0 L695.0,2021.9 L700.0,2024.8 L705.0,2027.7 L710.0,2030.7 L715.0,2033.7 L720.0,2036.7 L725.0,2039.8 L730.0,2042.8 L735.0,2045.8 L740.0,2048.9 L740.0,1895.8 L-25.0,1895.8 Z"/></clipPath>
<clipPath id="be8"><path d="M-5.7,2143.5 L-0.7,2140.6 L4.3,2137.8 L9.3,2134.9 L14.3,2132.0 L19.3,2129.2 L24.3,2126.3 L29.3,2123.5 L34.3,2120.7 L39.3,2118.0 L44.3,2115.3 L49.3,2112.7 L54.3,2110.1 L59.3,2107.5 L64.3,2105.0 L69.3,2102.5 L74.3,2100.1 L79.3,2097.7 L84.3,2095.4 L89.3,2093.0 L94.3,2090.8 L99.3,2088.5 L104.3,2086.4 L109.3,2084.2 L114.3,2082.1 L119.3,2080.1 L124.3,2078.0 L129.3,2076.1 L134.3,2074.1 L139.3,2072.2 L144.3,2070.4 L149.3,2068.6 L154.3,2066.8 L159.3,2065.1 L164.3,2063.4 L169.3,2061.7 L174.3,2060.1 L179.3,2058.6 L184.3,2057.1 L189.3,2055.6 L194.3,2054.1 L199.3,2052.7 L204.3,2051.4 L209.3,2050.1 L214.3,2048.8 L219.3,2047.6 L224.3,2046.4 L229.3,2045.3 L234.3,2044.2 L239.3,2043.1 L244.3,2042.1 L249.3,2041.2 L254.3,2040.2 L259.3,2039.3 L264.3,2038.5 L269.3,2037.7 L274.3,2037.0 L279.3,2036.2 L284.3,2035.6 L289.3,2034.9 L294.3,2034.4 L299.3,2033.8 L304.3,2033.3 L309.3,2032.9 L314.3,2032.4 L319.3,2032.1 L324.3,2031.7 L329.3,2031.5 L334.3,2031.2 L339.3,2031.0 L344.3,2030.9 L349.3,2030.7 L354.3,2030.7 L359.3,2030.7 L364.3,2030.7 L369.3,2030.7 L374.3,2030.8 L379.3,2031.0 L384.3,2031.2 L389.3,2031.4 L394.3,2031.7 L399.3,2032.0 L404.3,2032.4 L409.3,2032.8 L414.3,2033.2 L419.3,2033.7 L424.3,2034.2 L429.3,2034.8 L434.3,2035.4 L439.3,2036.1 L444.3,2036.8 L449.3,2037.6 L454.3,2038.4 L459.3,2039.2 L464.3,2040.1 L469.3,2041.0 L474.3,2042.0 L479.3,2043.0 L484.3,2044.1 L489.3,2045.2 L494.3,2046.3 L499.3,2047.5 L504.3,2048.8 L509.3,2050.1 L514.3,2051.4 L519.3,2052.8 L524.3,2054.2 L529.3,2055.6 L534.3,2057.1 L539.3,2058.7 L544.3,2060.3 L549.3,2061.9 L554.3,2063.6 L559.3,2065.3 L564.3,2067.1 L569.3,2068.9 L574.3,2070.8 L579.3,2072.7 L584.3,2074.6 L589.3,2076.6 L594.3,2078.6 L599.3,2080.7 L604.3,2082.8 L609.3,2085.0 L614.3,2087.2 L619.3,2089.5 L624.3,2091.8 L629.3,2094.1 L634.3,2096.5 L639.3,2099.0 L644.3,2101.5 L649.3,2104.0 L654.3,2106.6 L659.3,2109.2 L664.3,2111.9 L669.3,2114.6 L674.3,2117.3 L679.3,2120.1 L684.3,2123.0 L689.3,2125.9 L694.3,2128.8 L699.3,2131.7 L704.3,2134.7 L709.3,2137.6 L714.3,2140.6 L714.3,2188.5 L-5.7,2188.5 Z"/></clipPath>
<clipPath id="bd8"><path d="M-25.0,2047.1 L-20.0,2044.3 L-15.0,2041.5 L-10.0,2038.7 L-5.0,2035.9 L0.0,2033.0 L5.0,2030.3 L10.0,2027.5 L15.0,2024.8 L20.0,2022.1 L25.0,2019.4 L30.0,2016.8 L35.0,2014.2 L40.0,2011.7 L45.0,2009.2 L50.0,2006.7 L55.0,2004.2 L60.0,2001.8 L65.0,1999.4 L70.0,1997.1 L75.0,1994.8 L80.0,1992.5 L85.0,1990.3 L90.0,1988.1 L95.0,1985.9 L100.0,1983.8 L105.0,1981.7 L110.0,1979.6 L115.0,1977.6 L120.0,1975.7 L125.0,1973.7 L130.0,1971.8 L135.0,1969.9 L140.0,1968.1 L145.0,1966.3 L150.0,1964.5 L155.0,1962.8 L160.0,1961.1 L165.0,1959.5 L170.0,1957.9 L175.0,1956.3 L180.0,1954.8 L185.0,1953.3 L190.0,1951.9 L195.0,1950.4 L200.0,1949.1 L205.0,1947.7 L210.0,1946.4 L215.0,1945.2 L220.0,1944.0 L225.0,1942.8 L230.0,1941.6 L235.0,1940.6 L240.0,1939.5 L245.0,1938.5 L250.0,1937.5 L255.0,1936.6 L260.0,1935.7 L265.0,1934.8 L270.0,1934.0 L275.0,1933.2 L280.0,1932.5 L285.0,1931.8 L290.0,1931.1 L295.0,1930.5 L300.0,1929.9 L305.0,1929.4 L310.0,1928.9 L315.0,1928.5 L320.0,1928.1 L325.0,1927.7 L330.0,1927.4 L335.0,1927.1 L340.0,1926.9 L345.0,1926.7 L350.0,1926.6 L355.0,1926.5 L360.0,1926.4 L365.0,1926.4 L370.0,1926.4 L375.0,1926.5 L380.0,1926.6 L385.0,1926.7 L390.0,1926.9 L395.0,1927.2 L400.0,1927.5 L405.0,1927.8 L410.0,1928.2 L415.0,1928.6 L420.0,1929.1 L425.0,1929.6 L430.0,1930.1 L435.0,1930.7 L440.0,1931.4 L445.0,1932.1 L450.0,1932.8 L455.0,1933.6 L460.0,1934.4 L465.0,1935.3 L470.0,1936.2 L475.0,1937.1 L480.0,1938.1 L485.0,1939.2 L490.0,1940.2 L495.0,1941.4 L500.0,1942.5 L505.0,1943.7 L510.0,1945.0 L515.0,1946.3 L520.0,1947.7 L525.0,1949.0 L530.0,1950.5 L535.0,1951.9 L540.0,1953.5 L545.0,1955.0 L550.0,1956.6 L555.0,1958.3 L560.0,1960.0 L565.0,1961.7 L570.0,1963.5 L575.0,1965.3 L580.0,1967.2 L585.0,1969.1 L590.0,1971.0 L595.0,1973.0 L600.0,1975.1 L605.0,1977.1 L610.0,1979.3 L615.0,1981.4 L620.0,1983.6 L625.0,1985.9 L630.0,1988.2 L635.0,1990.5 L640.0,1992.9 L645.0,1995.3 L650.0,1997.8 L655.0,2000.3 L660.0,2002.8 L665.0,2005.4 L670.0,2008.1 L675.0,2010.8 L680.0,2013.5 L685.0,2016.2 L690.0,2019.0 L695.0,2021.9 L700.0,2024.8 L705.0,2027.7 L710.0,2030.7 L715.0,2033.7 L720.0,2036.7 L725.0,2039.8 L730.0,2042.8 L735.0,2045.8 L740.0,2048.9 L714.3,2140.6 L709.3,2137.6 L704.3,2134.7 L699.3,2131.7 L694.3,2128.8 L689.3,2125.9 L684.3,2123.0 L679.3,2120.1 L674.3,2117.3 L669.3,2114.6 L664.3,2111.9 L659.3,2109.2 L654.3,2106.6 L649.3,2104.0 L644.3,2101.5 L639.3,2099.0 L634.3,2096.5 L629.3,2094.1 L624.3,2091.8 L619.3,2089.5 L614.3,2087.2 L609.3,2085.0 L604.3,2082.8 L599.3,2080.7 L594.3,2078.6 L589.3,2076.6 L584.3,2074.6 L579.3,2072.7 L574.3,2070.8 L569.3,2068.9 L564.3,2067.1 L559.3,2065.3 L554.3,2063.6 L549.3,2061.9 L544.3,2060.3 L539.3,2058.7 L534.3,2057.1 L529.3,2055.6 L524.3,2054.2 L519.3,2052.8 L514.3,2051.4 L509.3,2050.1 L504.3,2048.8 L499.3,2047.5 L494.3,2046.3 L489.3,2045.2 L484.3,2044.1 L479.3,2043.0 L474.3,2042.0 L469.3,2041.0 L464.3,2040.1 L459.3,2039.2 L454.3,2038.4 L449.3,2037.6 L444.3,2036.8 L439.3,2036.1 L434.3,2035.4 L429.3,2034.8 L424.3,2034.2 L419.3,2033.7 L414.3,2033.2 L409.3,2032.8 L404.3,2032.4 L399.3,2032.0 L394.3,2031.7 L389.3,2031.4 L384.3,2031.2 L379.3,2031.0 L374.3,2030.8 L369.3,2030.7 L364.3,2030.7 L359.3,2030.7 L354.3,2030.7 L349.3,2030.7 L344.3,2030.9 L339.3,2031.0 L334.3,2031.2 L329.3,2031.5 L324.3,2031.7 L319.3,2032.1 L314.3,2032.4 L309.3,2032.9 L304.3,2033.3 L299.3,2033.8 L294.3,2034.4 L289.3,2034.9 L284.3,2035.6 L279.3,2036.2 L274.3,2037.0 L269.3,2037.7 L264.3,2038.5 L259.3,2039.3 L254.3,2040.2 L249.3,2041.2 L244.3,2042.1 L239.3,2043.1 L234.3,2044.2 L229.3,2045.3 L224.3,2046.4 L219.3,2047.6 L214.3,2048.8 L209.3,2050.1 L204.3,2051.4 L199.3,2052.7 L194.3,2054.1 L189.3,2055.6 L184.3,2057.1 L179.3,2058.6 L174.3,2060.1 L169.3,2061.7 L164.3,2063.4 L159.3,2065.1 L154.3,2066.8 L149.3,2068.6 L144.3,2070.4 L139.3,2072.2 L134.3,2074.1 L129.3,2076.1 L124.3,2078.0 L119.3,2080.1 L114.3,2082.1 L109.3,2084.2 L104.3,2086.4 L99.3,2088.5 L94.3,2090.8 L89.3,2093.0 L84.3,2095.4 L79.3,2097.7 L74.3,2100.1 L69.3,2102.5 L64.3,2105.0 L59.3,2107.5 L54.3,2110.1 L49.3,2112.7 L44.3,2115.3 L39.3,2118.0 L34.3,2120.7 L29.3,2123.5 L24.3,2126.3 L19.3,2129.2 L14.3,2132.0 L9.3,2134.9 L4.3,2137.8 L-0.7,2140.6 L-5.7,2143.5 Z"/></clipPath>
<clipPath id="pc9"><rect x="1.5" y="2137.00" width="713.5" height="223.00"/></clipPath>
<linearGradient id="bg9" gradientUnits="userSpaceOnUse" x1="0" x2="715" y1="0" y2="0"><stop offset="0.000" stop-color="#8c8c8c"/><stop offset="0.250" stop-color="#9e9e9e"/><stop offset="0.500" stop-color="#a8a8a8"/><stop offset="0.750" stop-color="#9b9b9b"/><stop offset="1.000" stop-color="#8e8e8e"/></linearGradient>
<clipPath id="ab9"><path d="M-25.0,2269.8 L-20.0,2267.1 L-15.0,2264.5 L-10.0,2261.9 L-5.0,2259.3 L0.0,2256.6 L5.0,2254.0 L10.0,2251.4 L15.0,2248.9 L20.0,2246.3 L25.0,2243.8 L30.0,2241.3 L35.0,2238.8 L40.0,2236.3 L45.0,2233.9 L50.0,2231.5 L55.0,2229.1 L60.0,2226.8 L65.0,2224.5 L70.0,2222.2 L75.0,2219.9 L80.0,2217.7 L85.0,2215.5 L90.0,2213.3 L95.0,2211.2 L100.0,2209.1 L105.0,2207.0 L110.0,2205.0 L115.0,2203.0 L120.0,2201.0 L125.0,2199.1 L130.0,2197.2 L135.0,2195.4 L140.0,2193.6 L145.0,2191.8 L150.0,2190.1 L155.0,2188.4 L160.0,2186.7 L165.0,2185.1 L170.0,2183.6 L175.0,2182.0 L180.0,2180.6 L185.0,2179.1 L190.0,2177.8 L195.0,2176.4 L200.0,2175.1 L205.0,2173.9 L210.0,2172.7 L215.0,2171.6 L220.0,2170.5 L225.0,2169.4 L230.0,2168.4 L235.0,2167.4 L240.0,2166.5 L245.0,2165.6 L250.0,2164.8 L255.0,2164.0 L260.0,2163.3 L265.0,2162.6 L270.0,2161.9 L275.0,2161.3 L280.0,2160.8 L285.0,2160.2 L290.0,2159.7 L295.0,2159.3 L300.0,2158.9 L305.0,2158.5 L310.0,2158.2 L315.0,2157.9 L320.0,2157.7 L325.0,2157.4 L330.0,2157.3 L335.0,2157.1 L340.0,2157.0 L345.0,2157.0 L350.0,2156.9 L355.0,2156.9 L360.0,2157.0 L365.0,2157.1 L370.0,2157.2 L375.0,2157.3 L380.0,2157.5 L385.0,2157.7 L390.0,2157.9 L395.0,2158.2 L400.0,2158.5 L405.0,2158.9 L410.0,2159.2 L415.0,2159.6 L420.0,2160.1 L425.0,2160.5 L430.0,2161.0 L435.0,2161.6 L440.0,2162.1 L445.0,2162.7 L450.0,2163.4 L455.0,2164.0 L460.0,2164.7 L465.0,2165.4 L470.0,2166.2 L475.0,2167.0 L480.0,2167.8 L485.0,2168.7 L490.0,2169.6 L495.0,2170.6 L500.0,2171.5 L505.0,2172.6 L510.0,2173.6 L515.0,2174.7 L520.0,2175.8 L525.0,2177.0 L530.0,2178.2 L535.0,2179.4 L540.0,2180.7 L545.0,2182.0 L550.0,2183.4 L555.0,2184.8 L560.0,2186.2 L565.0,2187.7 L570.0,2189.2 L575.0,2190.7 L580.0,2192.3 L585.0,2194.0 L590.0,2195.7 L595.0,2197.4 L600.0,2199.1 L605.0,2200.9 L610.0,2202.8 L615.0,2204.7 L620.0,2206.6 L625.0,2208.6 L630.0,2210.6 L635.0,2212.7 L640.0,2214.8 L645.0,2217.0 L650.0,2219.2 L655.0,2221.4 L660.0,2223.7 L665.0,2226.1 L670.0,2228.5 L675.0,2231.0 L680.0,2233.5 L685.0,2236.1 L690.0,2238.7 L695.0,2241.4 L700.0,2244.1 L705.0,2246.9 L710.0,2249.8 L715.0,2252.7 L720.0,2255.6 L725.0,2258.5 L730.0,2261.5 L735.0,2264.4 L740.0,2267.3 L740.0,2127.0 L-25.0,2127.0 Z"/></clipPath>
<clipPath id="be9"><path d="M-15.3,2375.7 L-10.3,2372.8 L-5.3,2369.8 L-0.3,2366.9 L4.7,2364.0 L9.7,2361.1 L14.7,2358.2 L19.7,2355.3 L24.7,2352.4 L29.7,2349.6 L34.7,2346.8 L39.7,2344.1 L44.7,2341.4 L49.7,2338.7 L54.7,2336.1 L59.7,2333.5 L64.7,2330.9 L69.7,2328.4 L74.7,2325.9 L79.7,2323.4 L84.7,2321.0 L89.7,2318.6 L94.7,2316.3 L99.7,2314.0 L104.7,2311.7 L109.7,2309.4 L114.7,2307.2 L119.7,2305.1 L124.7,2303.0 L129.7,2300.9 L134.7,2298.8 L139.7,2296.8 L144.7,2294.8 L149.7,2292.9 L154.7,2291.0 L159.7,2289.1 L164.7,2287.3 L169.7,2285.5 L174.7,2283.8 L179.7,2282.1 L184.7,2280.4 L189.7,2278.8 L194.7,2277.2 L199.7,2275.7 L204.7,2274.2 L209.7,2272.7 L214.7,2271.3 L219.7,2269.9 L224.7,2268.6 L229.7,2267.3 L234.7,2266.1 L239.7,2264.9 L244.7,2263.7 L249.7,2262.6 L254.7,2261.5 L259.7,2260.5 L264.7,2259.5 L269.7,2258.5 L274.7,2257.6 L279.7,2256.7 L284.7,2255.9 L289.7,2255.1 L294.7,2254.4 L299.7,2253.7 L304.7,2253.1 L309.7,2252.5 L314.7,2251.9 L319.7,2251.4 L324.7,2251.0 L329.7,2250.5 L334.7,2250.2 L339.7,2249.8 L344.7,2249.6 L349.7,2249.3 L354.7,2249.1 L359.7,2249.0 L364.7,2248.9 L369.7,2248.9 L374.7,2248.9 L379.7,2248.9 L384.7,2249.0 L389.7,2249.2 L394.7,2249.4 L399.7,2249.6 L404.7,2249.9 L409.7,2250.2 L414.7,2250.6 L419.7,2251.0 L424.7,2251.5 L429.7,2252.1 L434.7,2252.7 L439.7,2253.3 L444.7,2254.0 L449.7,2254.7 L454.7,2255.5 L459.7,2256.3 L464.7,2257.2 L469.7,2258.1 L474.7,2259.1 L479.7,2260.2 L484.7,2261.3 L489.7,2262.4 L494.7,2263.6 L499.7,2264.9 L504.7,2266.2 L509.7,2267.5 L514.7,2268.9 L519.7,2270.4 L524.7,2271.9 L529.7,2273.4 L534.7,2275.1 L539.7,2276.7 L544.7,2278.5 L549.7,2280.2 L554.7,2282.1 L559.7,2284.0 L564.7,2285.9 L569.7,2287.9 L574.7,2289.9 L579.7,2292.1 L584.7,2294.2 L589.7,2296.4 L594.7,2298.7 L599.7,2301.0 L604.7,2303.4 L609.7,2305.9 L614.7,2308.4 L619.7,2310.9 L624.7,2313.5 L629.7,2316.2 L634.7,2318.9 L639.7,2321.7 L644.7,2324.6 L649.7,2327.5 L654.7,2330.4 L659.7,2333.4 L664.7,2336.5 L669.7,2339.7 L674.7,2342.8 L679.7,2346.1 L684.7,2349.4 L689.7,2352.8 L694.7,2356.2 L699.7,2359.7 L704.7,2363.2 L709.7,2366.7 L714.7,2370.2 L719.7,2373.7 L719.7,2420.0 L-15.3,2420.0 Z"/></clipPath>
<clipPath id="bd9"><path d="M-25.0,2269.8 L-20.0,2267.1 L-15.0,2264.5 L-10.0,2261.9 L-5.0,2259.3 L0.0,2256.6 L5.0,2254.0 L10.0,2251.4 L15.0,2248.9 L20.0,2246.3 L25.0,2243.8 L30.0,2241.3 L35.0,2238.8 L40.0,2236.3 L45.0,2233.9 L50.0,2231.5 L55.0,2229.1 L60.0,2226.8 L65.0,2224.5 L70.0,2222.2 L75.0,2219.9 L80.0,2217.7 L85.0,2215.5 L90.0,2213.3 L95.0,2211.2 L100.0,2209.1 L105.0,2207.0 L110.0,2205.0 L115.0,2203.0 L120.0,2201.0 L125.0,2199.1 L130.0,2197.2 L135.0,2195.4 L140.0,2193.6 L145.0,2191.8 L150.0,2190.1 L155.0,2188.4 L160.0,2186.7 L165.0,2185.1 L170.0,2183.6 L175.0,2182.0 L180.0,2180.6 L185.0,2179.1 L190.0,2177.8 L195.0,2176.4 L200.0,2175.1 L205.0,2173.9 L210.0,2172.7 L215.0,2171.6 L220.0,2170.5 L225.0,2169.4 L230.0,2168.4 L235.0,2167.4 L240.0,2166.5 L245.0,2165.6 L250.0,2164.8 L255.0,2164.0 L260.0,2163.3 L265.0,2162.6 L270.0,2161.9 L275.0,2161.3 L280.0,2160.8 L285.0,2160.2 L290.0,2159.7 L295.0,2159.3 L300.0,2158.9 L305.0,2158.5 L310.0,2158.2 L315.0,2157.9 L320.0,2157.7 L325.0,2157.4 L330.0,2157.3 L335.0,2157.1 L340.0,2157.0 L345.0,2157.0 L350.0,2156.9 L355.0,2156.9 L360.0,2157.0 L365.0,2157.1 L370.0,2157.2 L375.0,2157.3 L380.0,2157.5 L385.0,2157.7 L390.0,2157.9 L395.0,2158.2 L400.0,2158.5 L405.0,2158.9 L410.0,2159.2 L415.0,2159.6 L420.0,2160.1 L425.0,2160.5 L430.0,2161.0 L435.0,2161.6 L440.0,2162.1 L445.0,2162.7 L450.0,2163.4 L455.0,2164.0 L460.0,2164.7 L465.0,2165.4 L470.0,2166.2 L475.0,2167.0 L480.0,2167.8 L485.0,2168.7 L490.0,2169.6 L495.0,2170.6 L500.0,2171.5 L505.0,2172.6 L510.0,2173.6 L515.0,2174.7 L520.0,2175.8 L525.0,2177.0 L530.0,2178.2 L535.0,2179.4 L540.0,2180.7 L545.0,2182.0 L550.0,2183.4 L555.0,2184.8 L560.0,2186.2 L565.0,2187.7 L570.0,2189.2 L575.0,2190.7 L580.0,2192.3 L585.0,2194.0 L590.0,2195.7 L595.0,2197.4 L600.0,2199.1 L605.0,2200.9 L610.0,2202.8 L615.0,2204.7 L620.0,2206.6 L625.0,2208.6 L630.0,2210.6 L635.0,2212.7 L640.0,2214.8 L645.0,2217.0 L650.0,2219.2 L655.0,2221.4 L660.0,2223.7 L665.0,2226.1 L670.0,2228.5 L675.0,2231.0 L680.0,2233.5 L685.0,2236.1 L690.0,2238.7 L695.0,2241.4 L700.0,2244.1 L705.0,2246.9 L710.0,2249.8 L715.0,2252.7 L720.0,2255.6 L725.0,2258.5 L730.0,2261.5 L735.0,2264.4 L740.0,2267.3 L719.7,2373.7 L714.7,2370.2 L709.7,2366.7 L704.7,2363.2 L699.7,2359.7 L694.7,2356.2 L689.7,2352.8 L684.7,2349.4 L679.7,2346.1 L674.7,2342.8 L669.7,2339.7 L664.7,2336.5 L659.7,2333.4 L654.7,2330.4 L649.7,2327.5 L644.7,2324.6 L639.7,2321.7 L634.7,2318.9 L629.7,2316.2 L624.7,2313.5 L619.7,2310.9 L614.7,2308.4 L609.7,2305.9 L604.7,2303.4 L599.7,2301.0 L594.7,2298.7 L589.7,2296.4 L584.7,2294.2 L579.7,2292.1 L574.7,2289.9 L569.7,2287.9 L564.7,2285.9 L559.7,2284.0 L554.7,2282.1 L549.7,2280.2 L544.7,2278.5 L539.7,2276.7 L534.7,2275.1 L529.7,2273.4 L524.7,2271.9 L519.7,2270.4 L514.7,2268.9 L509.7,2267.5 L504.7,2266.2 L499.7,2264.9 L494.7,2263.6 L489.7,2262.4 L484.7,2261.3 L479.7,2260.2 L474.7,2259.1 L469.7,2258.1 L464.7,2257.2 L459.7,2256.3 L454.7,2255.5 L449.7,2254.7 L444.7,2254.0 L439.7,2253.3 L434.7,2252.7 L429.7,2252.1 L424.7,2251.5 L419.7,2251.0 L414.7,2250.6 L409.7,2250.2 L404.7,2249.9 L399.7,2249.6 L394.7,2249.4 L389.7,2249.2 L384.7,2249.0 L379.7,2248.9 L374.7,2248.9 L369.7,2248.9 L364.7,2248.9 L359.7,2249.0 L354.7,2249.1 L349.7,2249.3 L344.7,2249.6 L339.7,2249.8 L334.7,2250.2 L329.7,2250.5 L324.7,2251.0 L319.7,2251.4 L314.7,2251.9 L309.7,2252.5 L304.7,2253.1 L299.7,2253.7 L294.7,2254.4 L289.7,2255.1 L284.7,2255.9 L279.7,2256.7 L274.7,2257.6 L269.7,2258.5 L264.7,2259.5 L259.7,2260.5 L254.7,2261.5 L249.7,2262.6 L244.7,2263.7 L239.7,2264.9 L234.7,2266.1 L229.7,2267.3 L224.7,2268.6 L219.7,2269.9 L214.7,2271.3 L209.7,2272.7 L204.7,2274.2 L199.7,2275.7 L194.7,2277.2 L189.7,2278.8 L184.7,2280.4 L179.7,2282.1 L174.7,2283.8 L169.7,2285.5 L164.7,2287.3 L159.7,2289.1 L154.7,2291.0 L149.7,2292.9 L144.7,2294.8 L139.7,2296.8 L134.7,2298.8 L129.7,2300.9 L124.7,2303.0 L119.7,2305.1 L114.7,2307.2 L109.7,2309.4 L104.7,2311.7 L99.7,2314.0 L94.7,2316.3 L89.7,2318.6 L84.7,2321.0 L79.7,2323.4 L74.7,2325.9 L69.7,2328.4 L64.7,2330.9 L59.7,2333.5 L54.7,2336.1 L49.7,2338.7 L44.7,2341.4 L39.7,2344.1 L34.7,2346.8 L29.7,2349.6 L24.7,2352.4 L19.7,2355.3 L14.7,2358.2 L9.7,2361.1 L4.7,2364.0 L-0.3,2366.9 L-5.3,2369.8 L-10.3,2372.8 L-15.3,2375.7 Z"/></clipPath>
<clipPath id="cc_A"><rect x="822.0" y="8.30" width="645.0" height="373.70"/></clipPath>
<clipPath id="cc_B"><rect x="829.0" y="484.70" width="645.0" height="373.70"/></clipPath>
<clipPath id="cc_C1"><rect x="834.0" y="961.30" width="645.0" height="373.70"/></clipPath>
<clipPath id="cc_C2"><rect x="834.0" y="1437.30" width="645.0" height="373.70"/></clipPath>
<clipPath id="cc_D"><rect x="822.0" y="1913.50" width="645.0" height="373.70"/></clipPath>
</defs>
<rect x="0" y="0" width="1492" height="2362" fill="#fff"/>
<g clip-path="url(#pc0)"><g filter="url(#spk)">
<rect x="-3.5" y="-4.00" width="723.5" height="232.40" fill="#1c1c1c"/>
<path d="M-25.0,141.5 L-20.0,138.7 L-15.0,135.8 L-10.0,133.0 L-5.0,130.1 L0.0,127.3 L5.0,124.4 L10.0,121.6 L15.0,118.9 L20.0,116.1 L25.0,113.4 L30.0,110.8 L35.0,108.2 L40.0,105.6 L45.0,103.1 L50.0,100.6 L55.0,98.1 L60.0,95.7 L65.0,93.3 L70.0,90.9 L75.0,88.6 L80.0,86.3 L85.0,84.1 L90.0,81.9 L95.0,79.7 L100.0,77.6 L105.0,75.5 L110.0,73.5 L115.0,71.5 L120.0,69.5 L125.0,67.6 L130.0,65.7 L135.0,63.8 L140.0,62.0 L145.0,60.2 L150.0,58.5 L155.0,56.8 L160.0,55.1 L165.0,53.5 L170.0,51.9 L175.0,50.4 L180.0,48.9 L185.0,47.4 L190.0,46.0 L195.0,44.6 L200.0,43.3 L205.0,42.0 L210.0,40.7 L215.0,39.5 L220.0,38.3 L225.0,37.2 L230.0,36.1 L235.0,35.0 L240.0,34.0 L245.0,33.0 L250.0,32.1 L255.0,31.2 L260.0,30.3 L265.0,29.5 L270.0,28.7 L275.0,28.0 L280.0,27.3 L285.0,26.6 L290.0,26.0 L295.0,25.5 L300.0,24.9 L305.0,24.4 L310.0,24.0 L315.0,23.6 L320.0,23.2 L325.0,22.9 L330.0,22.6 L335.0,22.4 L340.0,22.2 L345.0,22.1 L350.0,22.0 L355.0,21.9 L360.0,21.9 L365.0,21.9 L370.0,22.0 L375.0,22.1 L380.0,22.2 L385.0,22.4 L390.0,22.6 L395.0,22.9 L400.0,23.2 L405.0,23.6 L410.0,24.0 L415.0,24.5 L420.0,25.0 L425.0,25.5 L430.0,26.1 L435.0,26.7 L440.0,27.4 L445.0,28.1 L450.0,28.8 L455.0,29.6 L460.0,30.5 L465.0,31.4 L470.0,32.3 L475.0,33.3 L480.0,34.3 L485.0,35.4 L490.0,36.5 L495.0,37.7 L500.0,38.9 L505.0,40.1 L510.0,41.4 L515.0,42.8 L520.0,44.1 L525.0,45.6 L530.0,47.0 L535.0,48.6 L540.0,50.1 L545.0,51.7 L550.0,53.4 L555.0,55.1 L560.0,56.9 L565.0,58.7 L570.0,60.5 L575.0,62.4 L580.0,64.3 L585.0,66.3 L590.0,68.3 L595.0,70.4 L600.0,72.5 L605.0,74.7 L610.0,76.9 L615.0,79.2 L620.0,81.5 L625.0,83.8 L630.0,86.2 L635.0,88.7 L640.0,91.2 L645.0,93.7 L650.0,96.3 L655.0,99.0 L660.0,101.6 L665.0,104.4 L670.0,107.2 L675.0,110.0 L680.0,112.9 L685.0,115.8 L690.0,118.8 L695.0,121.8 L700.0,124.9 L705.0,128.0 L710.0,131.2 L715.0,134.4 L720.0,137.6 L725.0,140.9 L730.0,144.1 L735.0,147.3 L740.0,150.6 L740.0,283.4 L-25.0,283.4 Z" fill="url(#bg0)"/>
<path d="M-25.0,234.7 L-20.0,231.4 L-15.0,228.2 L-10.0,225.0 L-5.0,221.8 L0.0,218.5 L5.0,215.3 L10.0,212.2 L15.0,209.0 L20.0,206.0 L25.0,202.9 L30.0,199.9 L35.0,197.0 L40.0,194.1 L45.0,191.2 L50.0,188.4 L55.0,185.6 L60.0,182.9 L65.0,180.2 L70.0,177.6 L75.0,175.0 L80.0,172.4 L85.0,169.9 L90.0,167.5 L95.0,165.0 L100.0,162.7 L105.0,160.3 L110.0,158.0 L115.0,155.8 L120.0,153.6 L125.0,151.4 L130.0,149.3 L135.0,147.3 L140.0,145.2 L145.0,143.3 L150.0,141.3 L155.0,139.4 L160.0,137.6 L165.0,135.8 L170.0,134.1 L175.0,132.3 L180.0,130.7 L185.0,129.1 L190.0,127.5 L195.0,126.0 L200.0,124.5 L205.0,123.0 L210.0,121.7 L215.0,120.3 L220.0,119.0 L225.0,117.8 L230.0,116.5 L235.0,115.4 L240.0,114.3 L245.0,113.2 L250.0,112.2 L255.0,111.2 L260.0,110.2 L265.0,109.4 L270.0,108.5 L275.0,107.7 L280.0,107.0 L285.0,106.3 L290.0,105.6 L295.0,105.0 L300.0,104.4 L305.0,103.9 L310.0,103.4 L315.0,103.0 L320.0,102.6 L325.0,102.3 L330.0,102.0 L335.0,101.7 L340.0,101.5 L345.0,101.4 L350.0,101.3 L355.0,101.2 L360.0,101.2 L365.0,101.3 L370.0,101.4 L375.0,101.5 L380.0,101.7 L385.0,101.9 L390.0,102.2 L395.0,102.5 L400.0,102.9 L405.0,103.3 L410.0,103.8 L415.0,104.3 L420.0,104.8 L425.0,105.4 L430.0,106.1 L435.0,106.8 L440.0,107.5 L445.0,108.3 L450.0,109.2 L455.0,110.1 L460.0,111.0 L465.0,112.0 L470.0,113.0 L475.0,114.1 L480.0,115.3 L485.0,116.4 L490.0,117.7 L495.0,119.0 L500.0,120.3 L505.0,121.7 L510.0,123.1 L515.0,124.6 L520.0,126.1 L525.0,127.6 L530.0,129.3 L535.0,130.9 L540.0,132.6 L545.0,134.4 L550.0,136.2 L555.0,138.1 L560.0,140.0 L565.0,142.0 L570.0,144.0 L575.0,146.0 L580.0,148.1 L585.0,150.3 L590.0,152.5 L595.0,154.7 L600.0,157.1 L605.0,159.4 L610.0,161.8 L615.0,164.3 L620.0,166.8 L625.0,169.3 L630.0,171.9 L635.0,174.6 L640.0,177.3 L645.0,180.0 L650.0,182.8 L655.0,185.7 L660.0,188.6 L665.0,191.5 L670.0,194.5 L675.0,197.6 L680.0,200.7 L685.0,203.9 L690.0,207.1 L695.0,210.3 L700.0,213.6 L705.0,217.0 L710.0,220.4 L715.0,223.7 L720.0,227.1 L725.0,230.5 L730.0,233.9 L730.0,283.4 L-25.0,283.4 Z" fill="#1c1c1c"/>
<path d="M-25.0,234.7 L-20.0,231.4 L-15.0,228.2 L-10.0,225.0 L-5.0,221.8 L0.0,218.5 L5.0,215.3 L10.0,212.2 L15.0,209.0 L20.0,206.0 L25.0,202.9 L30.0,199.9 L35.0,197.0 L40.0,194.1 L45.0,191.2 L50.0,188.4 L55.0,185.6 L60.0,182.9 L65.0,180.2 L70.0,177.6 L75.0,175.0 L80.0,172.4 L85.0,169.9 L90.0,167.5 L95.0,165.0 L100.0,162.7 L105.0,160.3 L110.0,158.0 L115.0,155.8 L120.0,153.6 L125.0,151.4 L130.0,149.3 L135.0,147.3 L140.0,145.2 L145.0,143.3 L150.0,141.3 L155.0,139.4 L160.0,137.6 L165.0,135.8 L170.0,134.1 L175.0,132.3 L180.0,130.7 L185.0,129.1 L190.0,127.5 L195.0,126.0 L200.0,124.5 L205.0,123.0 L210.0,121.7 L215.0,120.3 L220.0,119.0 L225.0,117.8 L230.0,116.5 L235.0,115.4 L240.0,114.3 L245.0,113.2 L250.0,112.2 L255.0,111.2 L260.0,110.2 L265.0,109.4 L270.0,108.5 L275.0,107.7 L280.0,107.0 L285.0,106.3 L290.0,105.6 L295.0,105.0 L300.0,104.4 L305.0,103.9 L310.0,103.4 L315.0,103.0 L320.0,102.6 L325.0,102.3 L330.0,102.0 L335.0,101.7 L340.0,101.5 L345.0,101.4 L350.0,101.3 L355.0,101.2 L360.0,101.2 L365.0,101.3 L370.0,101.4 L375.0,101.5 L380.0,101.7 L385.0,101.9 L390.0,102.2 L395.0,102.5 L400.0,102.9 L405.0,103.3 L410.0,103.8 L415.0,104.3 L420.0,104.8 L425.0,105.4 L430.0,106.1 L435.0,106.8 L440.0,107.5 L445.0,108.3 L450.0,109.2 L455.0,110.1 L460.0,111.0 L465.0,112.0 L470.0,113.0 L475.0,114.1 L480.0,115.3 L485.0,116.4 L490.0,117.7 L495.0,119.0 L500.0,120.3 L505.0,121.7 L510.0,123.1 L515.0,124.6 L520.0,126.1 L525.0,127.6 L530.0,129.3 L535.0,130.9 L540.0,132.6 L545.0,134.4 L550.0,136.2 L555.0,138.1 L560.0,140.0 L565.0,142.0 L570.0,144.0 L575.0,146.0 L580.0,148.1 L585.0,150.3 L590.0,152.5 L595.0,154.7 L600.0,157.1 L605.0,159.4 L610.0,161.8 L615.0,164.3 L620.0,166.8 L625.0,169.3 L630.0,171.9 L635.0,174.6 L640.0,177.3 L645.0,180.0 L650.0,182.8 L655.0,185.7 L660.0,188.6 L665.0,191.5 L670.0,194.5 L675.0,197.6 L680.0,200.7 L685.0,203.9 L690.0,207.1 L695.0,210.3 L700.0,213.6 L705.0,217.0 L710.0,220.4 L715.0,223.7 L720.0,227.1 L725.0,230.5 L730.0,233.9" fill="none" stroke="#c8c8c8" stroke-width="1.2" opacity="0.8"/>
<path d="M-25.0,141.5 L-20.0,138.7 L-15.0,135.8 L-10.0,133.0 L-5.0,130.1 L0.0,127.3 L5.0,124.4 L10.0,121.6 L15.0,118.9 L20.0,116.1 L25.0,113.4 L30.0,110.8 L35.0,108.2 L40.0,105.6 L45.0,103.1 L50.0,100.6 L55.0,98.1 L60.0,95.7 L65.0,93.3 L70.0,90.9 L75.0,88.6 L80.0,86.3 L85.0,84.1 L90.0,81.9 L95.0,79.7 L100.0,77.6 L105.0,75.5 L110.0,73.5 L115.0,71.5 L120.0,69.5 L125.0,67.6 L130.0,65.7 L135.0,63.8 L140.0,62.0 L145.0,60.2 L150.0,58.5 L155.0,56.8 L160.0,55.1 L165.0,53.5 L170.0,51.9 L175.0,50.4 L180.0,48.9 L185.0,47.4 L190.0,46.0 L195.0,44.6 L200.0,43.3 L205.0,42.0 L210.0,40.7 L215.0,39.5 L220.0,38.3 L225.0,37.2 L230.0,36.1 L235.0,35.0 L240.0,34.0 L245.0,33.0 L250.0,32.1 L255.0,31.2 L260.0,30.3 L265.0,29.5 L270.0,28.7 L275.0,28.0 L280.0,27.3 L285.0,26.6 L290.0,26.0 L295.0,25.5 L300.0,24.9 L305.0,24.4 L310.0,24.0 L315.0,23.6 L320.0,23.2 L325.0,22.9 L330.0,22.6 L335.0,22.4 L340.0,22.2 L345.0,22.1 L350.0,22.0 L355.0,21.9 L360.0,21.9 L365.0,21.9 L370.0,22.0 L375.0,22.1 L380.0,22.2 L385.0,22.4 L390.0,22.6 L395.0,22.9 L400.0,23.2 L405.0,23.6 L410.0,24.0 L415.0,24.5 L420.0,25.0 L425.0,25.5 L430.0,26.1 L435.0,26.7 L440.0,27.4 L445.0,28.1 L450.0,28.8 L455.0,29.6 L460.0,30.5 L465.0,31.4 L470.0,32.3 L475.0,33.3 L480.0,34.3 L485.0,35.4 L490.0,36.5 L495.0,37.7 L500.0,38.9 L505.0,40.1 L510.0,41.4 L515.0,42.8 L520.0,44.1 L525.0,45.6 L530.0,47.0 L535.0,48.6 L540.0,50.1 L545.0,51.7 L550.0,53.4 L555.0,55.1 L560.0,56.9 L565.0,58.7 L570.0,60.5 L575.0,62.4 L580.0,64.3 L585.0,66.3 L590.0,68.3 L595.0,70.4 L600.0,72.5 L605.0,74.7 L610.0,76.9 L615.0,79.2 L620.0,81.5 L625.0,83.8 L630.0,86.2 L635.0,88.7 L640.0,91.2 L645.0,93.7 L650.0,96.3 L655.0,99.0 L660.0,101.6 L665.0,104.4 L670.0,107.2 L675.0,110.0 L680.0,112.9 L685.0,115.8 L690.0,118.8 L695.0,121.8 L700.0,124.9 L705.0,128.0 L710.0,131.2 L715.0,134.4 L720.0,137.6 L725.0,140.9 L730.0,144.1 L735.0,147.3 L740.0,150.6" fill="none" stroke="#e0e0e0" stroke-width="1.5" opacity="0.55"/>
<path d="M300.0,24.9 L305.0,24.4 L310.0,24.0 L315.0,23.6 L320.0,23.2 L325.0,22.9 L330.0,22.6 L335.0,22.4 L340.0,22.2 L345.0,22.1 L350.0,22.0 L355.0,21.9 L360.0,21.9 L365.0,21.9 L370.0,22.0 L375.0,22.1 L380.0,22.2 L385.0,22.4 L390.0,22.6 L395.0,22.9 L400.0,23.2 L405.0,23.6 L410.0,24.0 L415.0,24.5 L420.0,25.0 L425.0,25.5 L430.0,26.1" fill="none" stroke="#f4f4f4" stroke-width="2.0" stroke-linecap="round"/>
<g clip-path="url(#ab0)"><rect x="330.0" y="-1.0" width="3.0" height="226.4" fill="#505050" opacity="0.60"/></g>
<g clip-path="url(#ab0)"><rect x="342.0" y="-1.0" width="2.0" height="226.4" fill="#5a5a5a" opacity="0.60"/></g>
<g clip-path="url(#ab0)"><rect x="352.0" y="-1.0" width="3.0" height="226.4" fill="#464646" opacity="0.50"/></g>
</g></g>
<text x="8.8" y="46.3" font-weight="bold" font-size="50" fill="#fff">A</text>
<text x="45.1" y="46.3" font-weight="bold" font-size="50" fill="#fff">‘</text>
<g clip-path="url(#pc1)"><g filter="url(#spk)">
<rect x="-3.5" y="227.40" width="723.5" height="232.60" fill="#1c1c1c"/>
<path d="M-25.0,369.1 L-20.0,366.6 L-15.0,364.1 L-10.0,361.5 L-5.0,359.0 L0.0,356.4 L5.0,353.9 L10.0,351.4 L15.0,348.9 L20.0,346.5 L25.0,344.1 L30.0,341.7 L35.0,339.3 L40.0,337.0 L45.0,334.7 L50.0,332.4 L55.0,330.1 L60.0,327.9 L65.0,325.7 L70.0,323.5 L75.0,321.4 L80.0,319.3 L85.0,317.2 L90.0,315.2 L95.0,313.2 L100.0,311.2 L105.0,309.2 L110.0,307.3 L115.0,305.4 L120.0,303.6 L125.0,301.7 L130.0,299.9 L135.0,298.2 L140.0,296.4 L145.0,294.7 L150.0,293.0 L155.0,291.4 L160.0,289.8 L165.0,288.2 L170.0,286.7 L175.0,285.2 L180.0,283.7 L185.0,282.2 L190.0,280.8 L195.0,279.4 L200.0,278.1 L205.0,276.8 L210.0,275.5 L215.0,274.2 L220.0,273.0 L225.0,271.9 L230.0,270.7 L235.0,269.6 L240.0,268.5 L245.0,267.5 L250.0,266.5 L255.0,265.5 L260.0,264.6 L265.0,263.7 L270.0,262.8 L275.0,262.0 L280.0,261.2 L285.0,260.5 L290.0,259.7 L295.0,259.1 L300.0,258.4 L305.0,257.8 L310.0,257.2 L315.0,256.7 L320.0,256.2 L325.0,255.7 L330.0,255.3 L335.0,254.9 L340.0,254.6 L345.0,254.3 L350.0,254.0 L355.0,253.8 L360.0,253.6 L365.0,253.4 L370.0,253.3 L375.0,253.3 L380.0,253.2 L385.0,253.2 L390.0,253.3 L395.0,253.4 L400.0,253.5 L405.0,253.6 L410.0,253.8 L415.0,254.1 L420.0,254.4 L425.0,254.7 L430.0,255.1 L435.0,255.5 L440.0,255.9 L445.0,256.4 L450.0,256.9 L455.0,257.5 L460.0,258.1 L465.0,258.8 L470.0,259.5 L475.0,260.2 L480.0,261.0 L485.0,261.8 L490.0,262.7 L495.0,263.6 L500.0,264.6 L505.0,265.6 L510.0,266.6 L515.0,267.7 L520.0,268.9 L525.0,270.0 L530.0,271.2 L535.0,272.5 L540.0,273.8 L545.0,275.2 L550.0,276.6 L555.0,278.0 L560.0,279.5 L565.0,281.0 L570.0,282.6 L575.0,284.2 L580.0,285.9 L585.0,287.6 L590.0,289.4 L595.0,291.2 L600.0,293.0 L605.0,294.9 L610.0,296.9 L615.0,298.9 L620.0,300.9 L625.0,303.0 L630.0,305.2 L635.0,307.3 L640.0,309.6 L645.0,311.9 L650.0,314.2 L655.0,316.6 L660.0,319.0 L665.0,321.5 L670.0,324.0 L675.0,326.6 L680.0,329.2 L685.0,331.8 L690.0,334.6 L695.0,337.3 L700.0,340.1 L705.0,343.0 L710.0,345.9 L715.0,348.9 L720.0,351.9 L725.0,354.9 L730.0,357.9 L735.0,360.9 L740.0,363.9 L740.0,515.0 L-25.0,515.0 Z" fill="url(#bg1)"/>
<path d="M-25.0,459.3 L-20.0,456.0 L-15.0,452.8 L-10.0,449.5 L-5.0,446.3 L0.0,443.0 L5.0,439.8 L10.0,436.6 L15.0,433.4 L20.0,430.3 L25.0,427.2 L30.0,424.2 L35.0,421.2 L40.0,418.3 L45.0,415.4 L50.0,412.5 L55.0,409.7 L60.0,406.9 L65.0,404.2 L70.0,401.5 L75.0,398.8 L80.0,396.2 L85.0,393.6 L90.0,391.1 L95.0,388.6 L100.0,386.1 L105.0,383.7 L110.0,381.3 L115.0,379.0 L120.0,376.7 L125.0,374.5 L130.0,372.3 L135.0,370.2 L140.0,368.0 L145.0,366.0 L150.0,364.0 L155.0,362.0 L160.0,360.0 L165.0,358.2 L170.0,356.3 L175.0,354.5 L180.0,352.7 L185.0,351.0 L190.0,349.3 L195.0,347.7 L200.0,346.1 L205.0,344.6 L210.0,343.1 L215.0,341.6 L220.0,340.2 L225.0,338.9 L230.0,337.6 L235.0,336.3 L240.0,335.1 L245.0,333.9 L250.0,332.8 L255.0,331.7 L260.0,330.6 L265.0,329.6 L270.0,328.7 L275.0,327.8 L280.0,326.9 L285.0,326.1 L290.0,325.3 L295.0,324.6 L300.0,323.9 L305.0,323.3 L310.0,322.7 L315.0,322.2 L320.0,321.7 L325.0,321.3 L330.0,320.9 L335.0,320.5 L340.0,320.2 L345.0,320.0 L350.0,319.8 L355.0,319.6 L360.0,319.5 L365.0,319.5 L370.0,319.5 L375.0,319.5 L380.0,319.6 L385.0,319.7 L390.0,319.9 L395.0,320.1 L400.0,320.4 L405.0,320.7 L410.0,321.1 L415.0,321.5 L420.0,322.0 L425.0,322.6 L430.0,323.1 L435.0,323.8 L440.0,324.4 L445.0,325.2 L450.0,325.9 L455.0,326.8 L460.0,327.6 L465.0,328.6 L470.0,329.5 L475.0,330.6 L480.0,331.6 L485.0,332.8 L490.0,333.9 L495.0,335.2 L500.0,336.5 L505.0,337.8 L510.0,339.2 L515.0,340.6 L520.0,342.1 L525.0,343.6 L530.0,345.2 L535.0,346.9 L540.0,348.5 L545.0,350.3 L550.0,352.1 L555.0,353.9 L560.0,355.8 L565.0,357.8 L570.0,359.8 L575.0,361.9 L580.0,364.0 L585.0,366.1 L590.0,368.4 L595.0,370.6 L600.0,373.0 L605.0,375.3 L610.0,377.8 L615.0,380.2 L620.0,382.8 L625.0,385.4 L630.0,388.0 L635.0,390.7 L640.0,393.5 L645.0,396.3 L650.0,399.2 L655.0,402.1 L660.0,405.0 L665.0,408.1 L670.0,411.2 L675.0,414.3 L680.0,417.5 L685.0,420.7 L690.0,424.0 L695.0,427.4 L700.0,430.8 L705.0,434.3 L710.0,437.8 L715.0,441.4 L720.0,445.0 L725.0,448.6 L730.0,452.2 L735.0,455.8 L740.0,459.4 L740.0,515.0 L-25.0,515.0 Z" fill="#1c1c1c"/>
<path d="M-25.0,459.3 L-20.0,456.0 L-15.0,452.8 L-10.0,449.5 L-5.0,446.3 L0.0,443.0 L5.0,439.8 L10.0,436.6 L15.0,433.4 L20.0,430.3 L25.0,427.2 L30.0,424.2 L35.0,421.2 L40.0,418.3 L45.0,415.4 L50.0,412.5 L55.0,409.7 L60.0,406.9 L65.0,404.2 L70.0,401.5 L75.0,398.8 L80.0,396.2 L85.0,393.6 L90.0,391.1 L95.0,388.6 L100.0,386.1 L105.0,383.7 L110.0,381.3 L115.0,379.0 L120.0,376.7 L125.0,374.5 L130.0,372.3 L135.0,370.2 L140.0,368.0 L145.0,366.0 L150.0,364.0 L155.0,362.0 L160.0,360.0 L165.0,358.2 L170.0,356.3 L175.0,354.5 L180.0,352.7 L185.0,351.0 L190.0,349.3 L195.0,347.7 L200.0,346.1 L205.0,344.6 L210.0,343.1 L215.0,341.6 L220.0,340.2 L225.0,338.9 L230.0,337.6 L235.0,336.3 L240.0,335.1 L245.0,333.9 L250.0,332.8 L255.0,331.7 L260.0,330.6 L265.0,329.6 L270.0,328.7 L275.0,327.8 L280.0,326.9 L285.0,326.1 L290.0,325.3 L295.0,324.6 L300.0,323.9 L305.0,323.3 L310.0,322.7 L315.0,322.2 L320.0,321.7 L325.0,321.3 L330.0,320.9 L335.0,320.5 L340.0,320.2 L345.0,320.0 L350.0,319.8 L355.0,319.6 L360.0,319.5 L365.0,319.5 L370.0,319.5 L375.0,319.5 L380.0,319.6 L385.0,319.7 L390.0,319.9 L395.0,320.1 L400.0,320.4 L405.0,320.7 L410.0,321.1 L415.0,321.5 L420.0,322.0 L425.0,322.6 L430.0,323.1 L435.0,323.8 L440.0,324.4 L445.0,325.2 L450.0,325.9 L455.0,326.8 L460.0,327.6 L465.0,328.6 L470.0,329.5 L475.0,330.6 L480.0,331.6 L485.0,332.8 L490.0,333.9 L495.0,335.2 L500.0,336.5 L505.0,337.8 L510.0,339.2 L515.0,340.6 L520.0,342.1 L525.0,343.6 L530.0,345.2 L535.0,346.9 L540.0,348.5 L545.0,350.3 L550.0,352.1 L555.0,353.9 L560.0,355.8 L565.0,357.8 L570.0,359.8 L575.0,361.9 L580.0,364.0 L585.0,366.1 L590.0,368.4 L595.0,370.6 L600.0,373.0 L605.0,375.3 L610.0,377.8 L615.0,380.2 L620.0,382.8 L625.0,385.4 L630.0,388.0 L635.0,390.7 L640.0,393.5 L645.0,396.3 L650.0,399.2 L655.0,402.1 L660.0,405.0 L665.0,408.1 L670.0,411.2 L675.0,414.3 L680.0,417.5 L685.0,420.7 L690.0,424.0 L695.0,427.4 L700.0,430.8 L705.0,434.3 L710.0,437.8 L715.0,441.4 L720.0,445.0 L725.0,448.6 L730.0,452.2 L735.0,455.8 L740.0,459.4" fill="none" stroke="#c8c8c8" stroke-width="1.2" opacity="0.8"/>
<path d="M-25.0,369.1 L-20.0,366.6 L-15.0,364.1 L-10.0,361.5 L-5.0,359.0 L0.0,356.4 L5.0,353.9 L10.0,351.4 L15.0,348.9 L20.0,346.5 L25.0,344.1 L30.0,341.7 L35.0,339.3 L40.0,337.0 L45.0,334.7 L50.0,332.4 L55.0,330.1 L60.0,327.9 L65.0,325.7 L70.0,323.5 L75.0,321.4 L80.0,319.3 L85.0,317.2 L90.0,315.2 L95.0,313.2 L100.0,311.2 L105.0,309.2 L110.0,307.3 L115.0,305.4 L120.0,303.6 L125.0,301.7 L130.0,299.9 L135.0,298.2 L140.0,296.4 L145.0,294.7 L150.0,293.0 L155.0,291.4 L160.0,289.8 L165.0,288.2 L170.0,286.7 L175.0,285.2 L180.0,283.7 L185.0,282.2 L190.0,280.8 L195.0,279.4 L200.0,278.1 L205.0,276.8 L210.0,275.5 L215.0,274.2 L220.0,273.0 L225.0,271.9 L230.0,270.7 L235.0,269.6 L240.0,268.5 L245.0,267.5 L250.0,266.5 L255.0,265.5 L260.0,264.6 L265.0,263.7 L270.0,262.8 L275.0,262.0 L280.0,261.2 L285.0,260.5 L290.0,259.7 L295.0,259.1 L300.0,258.4 L305.0,257.8 L310.0,257.2 L315.0,256.7 L320.0,256.2 L325.0,255.7 L330.0,255.3 L335.0,254.9 L340.0,254.6 L345.0,254.3 L350.0,254.0 L355.0,253.8 L360.0,253.6 L365.0,253.4 L370.0,253.3 L375.0,253.3 L380.0,253.2 L385.0,253.2 L390.0,253.3 L395.0,253.4 L400.0,253.5 L405.0,253.6 L410.0,253.8 L415.0,254.1 L420.0,254.4 L425.0,254.7 L430.0,255.1 L435.0,255.5 L440.0,255.9 L445.0,256.4 L450.0,256.9 L455.0,257.5 L460.0,258.1 L465.0,258.8 L470.0,259.5 L475.0,260.2 L480.0,261.0 L485.0,261.8 L490.0,262.7 L495.0,263.6 L500.0,264.6 L505.0,265.6 L510.0,266.6 L515.0,267.7 L520.0,268.9 L525.0,270.0 L530.0,271.2 L535.0,272.5 L540.0,273.8 L545.0,275.2 L550.0,276.6 L555.0,278.0 L560.0,279.5 L565.0,281.0 L570.0,282.6 L575.0,284.2 L580.0,285.9 L585.0,287.6 L590.0,289.4 L595.0,291.2 L600.0,293.0 L605.0,294.9 L610.0,296.9 L615.0,298.9 L620.0,300.9 L625.0,303.0 L630.0,305.2 L635.0,307.3 L640.0,309.6 L645.0,311.9 L650.0,314.2 L655.0,316.6 L660.0,319.0 L665.0,321.5 L670.0,324.0 L675.0,326.6 L680.0,329.2 L685.0,331.8 L690.0,334.6 L695.0,337.3 L700.0,340.1 L705.0,343.0 L710.0,345.9 L715.0,348.9 L720.0,351.9 L725.0,354.9 L730.0,357.9 L735.0,360.9 L740.0,363.9" fill="none" stroke="#e0e0e0" stroke-width="1.5" opacity="0.55"/>
<path d="M270.0,262.8 L275.0,262.0 L280.0,261.2 L285.0,260.5 L290.0,259.7 L295.0,259.1 L300.0,258.4 L305.0,257.8 L310.0,257.2 L315.0,256.7 L320.0,256.2 L325.0,255.7 L330.0,255.3 L335.0,254.9 L340.0,254.6 L345.0,254.3 L350.0,254.0 L355.0,253.8 L360.0,253.6 L365.0,253.4 L370.0,253.3 L375.0,253.3 L380.0,253.2 L385.0,253.2 L390.0,253.3 L395.0,253.4 L400.0,253.5 L405.0,253.6 L410.0,253.8 L415.0,254.1 L420.0,254.4" fill="none" stroke="#f4f4f4" stroke-width="2.0" stroke-linecap="round"/>
<g clip-path="url(#ab1)"><rect x="276.0" y="230.4" width="2.0" height="226.6" fill="#5a5a5a" opacity="0.60"/></g>
<g clip-path="url(#ab1)"><rect x="300.0" y="230.4" width="2.0" height="226.6" fill="#5a5a5a" opacity="0.60"/></g>
<g clip-path="url(#bd1)"><rect x="318.0" y="230.4" width="2.0" height="226.6" fill="#e6e6e6" opacity="0.25"/></g>
<g clip-path="url(#bd1)"><rect x="340.0" y="230.4" width="1.5" height="226.6" fill="#e6e6e6" opacity="0.30"/></g>
<g clip-path="url(#bd1)"><rect x="352.0" y="230.4" width="2.0" height="226.6" fill="#e6e6e6" opacity="0.25"/></g>
</g></g>
<text x="8.8" y="277.7" font-weight="bold" font-size="50" fill="#fff">A</text>
<text x="45.1" y="277.7" font-weight="bold" font-size="50" fill="#fff">‘</text>
<text x="57.2" y="277.7" font-weight="bold" font-size="50" fill="#fff">‘</text>
<polygon points="106.5,262.3 131.0,252.9 130.4,288.9" fill="#fff" stroke="#000" stroke-width="1" stroke-opacity="0.6"/>
<polygon points="581.1,249.0 605.0,259.3 580.1,285.0" fill="#fff" stroke="#000" stroke-width="1" stroke-opacity="0.6"/>
<g clip-path="url(#pc2)"><g filter="url(#spk)">
<rect x="-3.5" y="472.20" width="723.5" height="232.30" fill="#1c1c1c"/>
<path d="M-25.0,610.2 L-20.0,607.9 L-15.0,605.7 L-10.0,603.4 L-5.0,601.2 L0.0,598.9 L5.0,596.7 L10.0,594.4 L15.0,592.1 L20.0,589.9 L25.0,587.6 L30.0,585.4 L35.0,583.1 L40.0,580.8 L45.0,578.6 L50.0,576.4 L55.0,574.2 L60.0,571.9 L65.0,569.8 L70.0,567.6 L75.0,565.4 L80.0,563.3 L85.0,561.2 L90.0,559.1 L95.0,557.0 L100.0,554.9 L105.0,552.9 L110.0,550.9 L115.0,549.0 L120.0,547.0 L125.0,545.1 L130.0,543.3 L135.0,541.4 L140.0,539.6 L145.0,537.9 L150.0,536.2 L155.0,534.5 L160.0,532.9 L165.0,531.3 L170.0,529.8 L175.0,528.3 L180.0,526.9 L185.0,525.5 L190.0,524.1 L195.0,522.8 L200.0,521.5 L205.0,520.3 L210.0,519.1 L215.0,517.9 L220.0,516.8 L225.0,515.7 L230.0,514.7 L235.0,513.7 L240.0,512.7 L245.0,511.8 L250.0,511.0 L255.0,510.1 L260.0,509.4 L265.0,508.6 L270.0,507.9 L275.0,507.2 L280.0,506.6 L285.0,506.0 L290.0,505.4 L295.0,504.9 L300.0,504.5 L305.0,504.0 L310.0,503.6 L315.0,503.3 L320.0,502.9 L325.0,502.7 L330.0,502.4 L335.0,502.2 L340.0,502.0 L345.0,501.9 L350.0,501.8 L355.0,501.7 L360.0,501.7 L365.0,501.7 L370.0,501.8 L375.0,501.9 L380.0,502.0 L385.0,502.2 L390.0,502.4 L395.0,502.6 L400.0,502.9 L405.0,503.2 L410.0,503.6 L415.0,504.0 L420.0,504.4 L425.0,504.9 L430.0,505.4 L435.0,505.9 L440.0,506.5 L445.0,507.2 L450.0,507.8 L455.0,508.5 L460.0,509.3 L465.0,510.1 L470.0,510.9 L475.0,511.8 L480.0,512.7 L485.0,513.7 L490.0,514.7 L495.0,515.7 L500.0,516.8 L505.0,517.9 L510.0,519.1 L515.0,520.3 L520.0,521.5 L525.0,522.8 L530.0,524.1 L535.0,525.5 L540.0,526.9 L545.0,528.4 L550.0,529.9 L555.0,531.5 L560.0,533.1 L565.0,534.7 L570.0,536.4 L575.0,538.1 L580.0,539.9 L585.0,541.7 L590.0,543.6 L595.0,545.5 L600.0,547.4 L605.0,549.4 L610.0,551.5 L615.0,553.6 L620.0,555.7 L625.0,557.9 L630.0,560.1 L635.0,562.4 L640.0,564.7 L645.0,567.1 L650.0,569.5 L655.0,571.9 L660.0,574.4 L665.0,577.0 L670.0,579.6 L675.0,582.3 L680.0,585.0 L685.0,587.7 L690.0,590.5 L695.0,593.4 L700.0,596.3 L705.0,599.2 L710.0,602.2 L715.0,605.2 L720.0,608.3 L725.0,611.4 L730.0,614.4 L735.0,617.5 L740.0,620.6 L740.0,759.5 L-25.0,759.5 Z" fill="url(#bg2)"/>
<path d="M61.9,711.3 L66.9,708.6 L71.9,705.9 L76.9,703.2 L81.9,700.5 L86.9,697.8 L91.9,695.2 L96.9,692.6 L101.9,690.0 L106.9,687.5 L111.9,685.0 L116.9,682.6 L121.9,680.3 L126.9,678.0 L131.9,675.7 L136.9,673.5 L141.9,671.4 L146.9,669.3 L151.9,667.3 L156.9,665.3 L161.9,663.4 L166.9,661.5 L171.9,659.6 L176.9,657.9 L181.9,656.1 L186.9,654.5 L191.9,652.9 L196.9,651.3 L201.9,649.8 L206.9,648.3 L211.9,646.9 L216.9,645.5 L221.9,644.2 L226.9,642.9 L231.9,641.7 L236.9,640.6 L241.9,639.4 L246.9,638.4 L251.9,637.4 L256.9,636.4 L261.9,635.5 L266.9,634.6 L271.9,633.8 L276.9,633.0 L281.9,632.3 L286.9,631.6 L291.9,631.0 L296.9,630.5 L301.9,629.9 L306.9,629.5 L311.9,629.0 L316.9,628.7 L321.9,628.3 L326.9,628.1 L331.9,627.8 L336.9,627.7 L341.9,627.5 L346.9,627.4 L351.9,627.4 L356.9,627.4 L361.9,627.5 L366.9,627.6 L371.9,627.7 L376.9,627.9 L381.9,628.2 L386.9,628.5 L391.9,628.8 L396.9,629.2 L401.9,629.6 L406.9,630.1 L411.9,630.6 L416.9,631.2 L421.9,631.8 L426.9,632.5 L431.9,633.2 L436.9,633.9 L441.9,634.7 L446.9,635.6 L451.9,636.5 L456.9,637.4 L461.9,638.4 L466.9,639.4 L471.9,640.5 L476.9,641.6 L481.9,642.8 L486.9,644.0 L491.9,645.2 L496.9,646.5 L501.9,647.9 L506.9,649.3 L511.9,650.7 L516.9,652.2 L521.9,653.7 L526.9,655.3 L531.9,656.9 L536.9,658.5 L541.9,660.2 L546.9,661.9 L551.9,663.7 L556.9,665.5 L561.9,667.4 L566.9,669.3 L571.9,671.3 L576.9,673.3 L581.9,675.3 L586.9,677.4 L591.9,679.5 L596.9,681.7 L601.9,683.9 L606.9,686.1 L611.9,688.4 L616.9,690.7 L621.9,693.1 L626.9,695.5 L631.9,698.0 L636.9,700.5 L641.9,703.0 L646.9,705.5 L651.9,708.0 L656.9,710.5 L661.9,713.1 L661.9,759.5 L61.9,759.5 Z" fill="#1c1c1c"/>
<path d="M61.9,711.3 L66.9,708.6 L71.9,705.9 L76.9,703.2 L81.9,700.5 L86.9,697.8 L91.9,695.2 L96.9,692.6 L101.9,690.0 L106.9,687.5 L111.9,685.0 L116.9,682.6 L121.9,680.3 L126.9,678.0 L131.9,675.7 L136.9,673.5 L141.9,671.4 L146.9,669.3 L151.9,667.3 L156.9,665.3 L161.9,663.4 L166.9,661.5 L171.9,659.6 L176.9,657.9 L181.9,656.1 L186.9,654.5 L191.9,652.9 L196.9,651.3 L201.9,649.8 L206.9,648.3 L211.9,646.9 L216.9,645.5 L221.9,644.2 L226.9,642.9 L231.9,641.7 L236.9,640.6 L241.9,639.4 L246.9,638.4 L251.9,637.4 L256.9,636.4 L261.9,635.5 L266.9,634.6 L271.9,633.8 L276.9,633.0 L281.9,632.3 L286.9,631.6 L291.9,631.0 L296.9,630.5 L301.9,629.9 L306.9,629.5 L311.9,629.0 L316.9,628.7 L321.9,628.3 L326.9,628.1 L331.9,627.8 L336.9,627.7 L341.9,627.5 L346.9,627.4 L351.9,627.4 L356.9,627.4 L361.9,627.5 L366.9,627.6 L371.9,627.7 L376.9,627.9 L381.9,628.2 L386.9,628.5 L391.9,628.8 L396.9,629.2 L401.9,629.6 L406.9,630.1 L411.9,630.6 L416.9,631.2 L421.9,631.8 L426.9,632.5 L431.9,633.2 L436.9,633.9 L441.9,634.7 L446.9,635.6 L451.9,636.5 L456.9,637.4 L461.9,638.4 L466.9,639.4 L471.9,640.5 L476.9,641.6 L481.9,642.8 L486.9,644.0 L491.9,645.2 L496.9,646.5 L501.9,647.9 L506.9,649.3 L511.9,650.7 L516.9,652.2 L521.9,653.7 L526.9,655.3 L531.9,656.9 L536.9,658.5 L541.9,660.2 L546.9,661.9 L551.9,663.7 L556.9,665.5 L561.9,667.4 L566.9,669.3 L571.9,671.3 L576.9,673.3 L581.9,675.3 L586.9,677.4 L591.9,679.5 L596.9,681.7 L601.9,683.9 L606.9,686.1 L611.9,688.4 L616.9,690.7 L621.9,693.1 L626.9,695.5 L631.9,698.0 L636.9,700.5 L641.9,703.0 L646.9,705.5 L651.9,708.0 L656.9,710.5 L661.9,713.1" fill="none" stroke="#c8c8c8" stroke-width="1.2" opacity="0.8"/>
<path d="M-25.0,610.2 L-20.0,607.9 L-15.0,605.7 L-10.0,603.4 L-5.0,601.2 L0.0,598.9 L5.0,596.7 L10.0,594.4 L15.0,592.1 L20.0,589.9 L25.0,587.6 L30.0,585.4 L35.0,583.1 L40.0,580.8 L45.0,578.6 L50.0,576.4 L55.0,574.2 L60.0,571.9 L65.0,569.8 L70.0,567.6 L75.0,565.4 L80.0,563.3 L85.0,561.2 L90.0,559.1 L95.0,557.0 L100.0,554.9 L105.0,552.9 L110.0,550.9 L115.0,549.0 L120.0,547.0 L125.0,545.1 L130.0,543.3 L135.0,541.4 L140.0,539.6 L145.0,537.9 L150.0,536.2 L155.0,534.5 L160.0,532.9 L165.0,531.3 L170.0,529.8 L175.0,528.3 L180.0,526.9 L185.0,525.5 L190.0,524.1 L195.0,522.8 L200.0,521.5 L205.0,520.3 L210.0,519.1 L215.0,517.9 L220.0,516.8 L225.0,515.7 L230.0,514.7 L235.0,513.7 L240.0,512.7 L245.0,511.8 L250.0,511.0 L255.0,510.1 L260.0,509.4 L265.0,508.6 L270.0,507.9 L275.0,507.2 L280.0,506.6 L285.0,506.0 L290.0,505.4 L295.0,504.9 L300.0,504.5 L305.0,504.0 L310.0,503.6 L315.0,503.3 L320.0,502.9 L325.0,502.7 L330.0,502.4 L335.0,502.2 L340.0,502.0 L345.0,501.9 L350.0,501.8 L355.0,501.7 L360.0,501.7 L365.0,501.7 L370.0,501.8 L375.0,501.9 L380.0,502.0 L385.0,502.2 L390.0,502.4 L395.0,502.6 L400.0,502.9 L405.0,503.2 L410.0,503.6 L415.0,504.0 L420.0,504.4 L425.0,504.9 L430.0,505.4 L435.0,505.9 L440.0,506.5 L445.0,507.2 L450.0,507.8 L455.0,508.5 L460.0,509.3 L465.0,510.1 L470.0,510.9 L475.0,511.8 L480.0,512.7 L485.0,513.7 L490.0,514.7 L495.0,515.7 L500.0,516.8 L505.0,517.9 L510.0,519.1 L515.0,520.3 L520.0,521.5 L525.0,522.8 L530.0,524.1 L535.0,525.5 L540.0,526.9 L545.0,528.4 L550.0,529.9 L555.0,531.5 L560.0,533.1 L565.0,534.7 L570.0,536.4 L575.0,538.1 L580.0,539.9 L585.0,541.7 L590.0,543.6 L595.0,545.5 L600.0,547.4 L605.0,549.4 L610.0,551.5 L615.0,553.6 L620.0,555.7 L625.0,557.9 L630.0,560.1 L635.0,562.4 L640.0,564.7 L645.0,567.1 L650.0,569.5 L655.0,571.9 L660.0,574.4 L665.0,577.0 L670.0,579.6 L675.0,582.3 L680.0,585.0 L685.0,587.7 L690.0,590.5 L695.0,593.4 L700.0,596.3 L705.0,599.2 L710.0,602.2 L715.0,605.2 L720.0,608.3 L725.0,611.4 L730.0,614.4 L735.0,617.5 L740.0,620.6" fill="none" stroke="#e0e0e0" stroke-width="1.5" opacity="0.55"/>
<path d="M300.0,504.5 L305.0,504.0 L310.0,503.6 L315.0,503.3 L320.0,502.9 L325.0,502.7 L330.0,502.4 L335.0,502.2 L340.0,502.0 L345.0,501.9 L350.0,501.8 L355.0,501.7 L360.0,501.7 L365.0,501.7 L370.0,501.8 L375.0,501.9 L380.0,502.0 L385.0,502.2 L390.0,502.4 L395.0,502.6 L400.0,502.9 L405.0,503.2 L410.0,503.6 L415.0,504.0 L420.0,504.4 L425.0,504.9 L430.0,505.4" fill="none" stroke="#f4f4f4" stroke-width="2.6" stroke-linecap="round"/>
<g clip-path="url(#ab2)"><rect x="336.0" y="475.2" width="3.0" height="226.3" fill="#787878" opacity="0.60"/></g>
<g clip-path="url(#ab2)"><rect x="342.0" y="475.2" width="4.0" height="226.3" fill="#aaaaaa" opacity="0.70"/></g>
<g clip-path="url(#ab2)"><rect x="350.0" y="475.2" width="3.0" height="226.3" fill="#828282" opacity="0.60"/></g>
<g clip-path="url(#ab2)"><rect x="366.0" y="475.2" width="3.0" height="226.3" fill="#787878" opacity="0.60"/></g>
<g clip-path="url(#ab2)"><rect x="372.0" y="475.2" width="6.0" height="226.3" fill="#aaaaaa" opacity="0.70"/></g>
<g clip-path="url(#ab2)"><rect x="380.0" y="475.2" width="3.0" height="226.3" fill="#787878" opacity="0.60"/></g>
</g></g>
<text x="6.8" y="522.5" font-weight="bold" font-size="50" fill="#fff">B</text>
<text x="41.7" y="522.5" font-weight="bold" font-size="50" fill="#fff">‘</text>
<g clip-path="url(#pc3)"><g filter="url(#spk)">
<rect x="-3.5" y="703.60" width="723.5" height="232.40" fill="#1c1c1c"/>
<path d="M-25.0,852.6 L-20.0,849.7 L-15.0,846.9 L-10.0,844.1 L-5.0,841.2 L0.0,838.4 L5.0,835.6 L10.0,832.8 L15.0,830.1 L20.0,827.4 L25.0,824.7 L30.0,822.1 L35.0,819.5 L40.0,817.0 L45.0,814.5 L50.0,812.0 L55.0,809.6 L60.0,807.2 L65.0,804.9 L70.0,802.5 L75.0,800.3 L80.0,798.0 L85.0,795.8 L90.0,793.7 L95.0,791.6 L100.0,789.5 L105.0,787.5 L110.0,785.5 L115.0,783.5 L120.0,781.6 L125.0,779.7 L130.0,777.8 L135.0,776.0 L140.0,774.3 L145.0,772.5 L150.0,770.8 L155.0,769.2 L160.0,767.6 L165.0,766.0 L170.0,764.4 L175.0,762.9 L180.0,761.5 L185.0,760.1 L190.0,758.7 L195.0,757.3 L200.0,756.0 L205.0,754.7 L210.0,753.5 L215.0,752.3 L220.0,751.2 L225.0,750.0 L230.0,749.0 L235.0,747.9 L240.0,746.9 L245.0,746.0 L250.0,745.0 L255.0,744.1 L260.0,743.3 L265.0,742.5 L270.0,741.7 L275.0,741.0 L280.0,740.3 L285.0,739.6 L290.0,739.0 L295.0,738.4 L300.0,737.9 L305.0,737.4 L310.0,736.9 L315.0,736.5 L320.0,736.1 L325.0,735.7 L330.0,735.4 L335.0,735.1 L340.0,734.9 L345.0,734.7 L350.0,734.5 L355.0,734.4 L360.0,734.3 L365.0,734.3 L370.0,734.3 L375.0,734.3 L380.0,734.3 L385.0,734.4 L390.0,734.6 L395.0,734.8 L400.0,735.0 L405.0,735.2 L410.0,735.5 L415.0,735.9 L420.0,736.2 L425.0,736.6 L430.0,737.1 L435.0,737.6 L440.0,738.1 L445.0,738.6 L450.0,739.2 L455.0,739.9 L460.0,740.5 L465.0,741.2 L470.0,742.0 L475.0,742.7 L480.0,743.5 L485.0,744.4 L490.0,745.3 L495.0,746.2 L500.0,747.2 L505.0,748.2 L510.0,749.2 L515.0,750.2 L520.0,751.3 L525.0,752.5 L530.0,753.7 L535.0,754.9 L540.0,756.1 L545.0,757.4 L550.0,758.7 L555.0,760.0 L560.0,761.4 L565.0,762.8 L570.0,764.3 L575.0,765.8 L580.0,767.3 L585.0,768.9 L590.0,770.4 L595.0,772.1 L600.0,773.7 L605.0,775.4 L610.0,777.1 L615.0,778.9 L620.0,780.7 L625.0,782.5 L630.0,784.4 L635.0,786.3 L640.0,788.2 L645.0,790.2 L650.0,792.2 L655.0,794.2 L660.0,796.2 L665.0,798.3 L670.0,800.5 L675.0,802.6 L680.0,804.8 L685.0,807.0 L690.0,809.3 L695.0,811.6 L700.0,813.9 L705.0,816.2 L710.0,818.6 L715.0,821.0 L720.0,823.4 L725.0,825.9 L730.0,828.3 L735.0,830.7 L740.0,833.2 L740.0,991.0 L-25.0,991.0 Z" fill="url(#bg3)"/>
<path d="M30.5,945.4 L35.5,942.4 L40.5,939.3 L45.5,936.3 L50.5,933.3 L55.5,930.2 L60.5,927.2 L65.5,924.2 L70.5,921.3 L75.5,918.4 L80.5,915.6 L85.5,912.8 L90.5,910.1 L95.5,907.4 L100.5,904.8 L105.5,902.2 L110.5,899.7 L115.5,897.2 L120.5,894.8 L125.5,892.4 L130.5,890.1 L135.5,887.8 L140.5,885.6 L145.5,883.4 L150.5,881.2 L155.5,879.2 L160.5,877.1 L165.5,875.1 L170.5,873.2 L175.5,871.3 L180.5,869.5 L185.5,867.7 L190.5,865.9 L195.5,864.2 L200.5,862.6 L205.5,861.0 L210.5,859.5 L215.5,858.0 L220.5,856.5 L225.5,855.1 L230.5,853.8 L235.5,852.5 L240.5,851.3 L245.5,850.1 L250.5,848.9 L255.5,847.8 L260.5,846.8 L265.5,845.8 L270.5,844.8 L275.5,843.9 L280.5,843.1 L285.5,842.3 L290.5,841.5 L295.5,840.8 L300.5,840.2 L305.5,839.6 L310.5,839.1 L315.5,838.6 L320.5,838.1 L325.5,837.7 L330.5,837.4 L335.5,837.1 L340.5,836.8 L345.5,836.6 L350.5,836.5 L355.5,836.4 L360.5,836.3 L365.5,836.3 L370.5,836.4 L375.5,836.5 L380.5,836.6 L385.5,836.8 L390.5,837.1 L395.5,837.4 L400.5,837.7 L405.5,838.1 L410.5,838.6 L415.5,839.1 L420.5,839.6 L425.5,840.2 L430.5,840.9 L435.5,841.6 L440.5,842.3 L445.5,843.1 L450.5,844.0 L455.5,844.9 L460.5,845.8 L465.5,846.8 L470.5,847.9 L475.5,849.0 L480.5,850.1 L485.5,851.3 L490.5,852.6 L495.5,853.9 L500.5,855.3 L505.5,856.7 L510.5,858.1 L515.5,859.6 L520.5,861.2 L525.5,862.8 L530.5,864.5 L535.5,866.2 L540.5,867.9 L545.5,869.7 L550.5,871.6 L555.5,873.5 L560.5,875.5 L565.5,877.5 L570.5,879.6 L575.5,881.7 L580.5,883.8 L585.5,886.0 L590.5,888.3 L595.5,890.6 L600.5,893.0 L605.5,895.4 L610.5,897.9 L615.5,900.4 L620.5,903.0 L625.5,905.6 L630.5,908.3 L635.5,911.0 L640.5,913.8 L645.5,916.6 L650.5,919.5 L655.5,922.4 L660.5,925.4 L665.5,928.4 L670.5,931.5 L675.5,934.6 L680.5,937.7 L685.5,940.7 L690.5,943.8 L690.5,991.0 L30.5,991.0 Z" fill="#1c1c1c"/>
<path d="M30.5,945.4 L35.5,942.4 L40.5,939.3 L45.5,936.3 L50.5,933.3 L55.5,930.2 L60.5,927.2 L65.5,924.2 L70.5,921.3 L75.5,918.4 L80.5,915.6 L85.5,912.8 L90.5,910.1 L95.5,907.4 L100.5,904.8 L105.5,902.2 L110.5,899.7 L115.5,897.2 L120.5,894.8 L125.5,892.4 L130.5,890.1 L135.5,887.8 L140.5,885.6 L145.5,883.4 L150.5,881.2 L155.5,879.2 L160.5,877.1 L165.5,875.1 L170.5,873.2 L175.5,871.3 L180.5,869.5 L185.5,867.7 L190.5,865.9 L195.5,864.2 L200.5,862.6 L205.5,861.0 L210.5,859.5 L215.5,858.0 L220.5,856.5 L225.5,855.1 L230.5,853.8 L235.5,852.5 L240.5,851.3 L245.5,850.1 L250.5,848.9 L255.5,847.8 L260.5,846.8 L265.5,845.8 L270.5,844.8 L275.5,843.9 L280.5,843.1 L285.5,842.3 L290.5,841.5 L295.5,840.8 L300.5,840.2 L305.5,839.6 L310.5,839.1 L315.5,838.6 L320.5,838.1 L325.5,837.7 L330.5,837.4 L335.5,837.1 L340.5,836.8 L345.5,836.6 L350.5,836.5 L355.5,836.4 L360.5,836.3 L365.5,836.3 L370.5,836.4 L375.5,836.5 L380.5,836.6 L385.5,836.8 L390.5,837.1 L395.5,837.4 L400.5,837.7 L405.5,838.1 L410.5,838.6 L415.5,839.1 L420.5,839.6 L425.5,840.2 L430.5,840.9 L435.5,841.6 L440.5,842.3 L445.5,843.1 L450.5,844.0 L455.5,844.9 L460.5,845.8 L465.5,846.8 L470.5,847.9 L475.5,849.0 L480.5,850.1 L485.5,851.3 L490.5,852.6 L495.5,853.9 L500.5,855.3 L505.5,856.7 L510.5,858.1 L515.5,859.6 L520.5,861.2 L525.5,862.8 L530.5,864.5 L535.5,866.2 L540.5,867.9 L545.5,869.7 L550.5,871.6 L555.5,873.5 L560.5,875.5 L565.5,877.5 L570.5,879.6 L575.5,881.7 L580.5,883.8 L585.5,886.0 L590.5,888.3 L595.5,890.6 L600.5,893.0 L605.5,895.4 L610.5,897.9 L615.5,900.4 L620.5,903.0 L625.5,905.6 L630.5,908.3 L635.5,911.0 L640.5,913.8 L645.5,916.6 L650.5,919.5 L655.5,922.4 L660.5,925.4 L665.5,928.4 L670.5,931.5 L675.5,934.6 L680.5,937.7 L685.5,940.7 L690.5,943.8" fill="none" stroke="#c8c8c8" stroke-width="1.2" opacity="0.8"/>
<path d="M-25.0,852.6 L-20.0,849.7 L-15.0,846.9 L-10.0,844.1 L-5.0,841.2 L0.0,838.4 L5.0,835.6 L10.0,832.8 L15.0,830.1 L20.0,827.4 L25.0,824.7 L30.0,822.1 L35.0,819.5 L40.0,817.0 L45.0,814.5 L50.0,812.0 L55.0,809.6 L60.0,807.2 L65.0,804.9 L70.0,802.5 L75.0,800.3 L80.0,798.0 L85.0,795.8 L90.0,793.7 L95.0,791.6 L100.0,789.5 L105.0,787.5 L110.0,785.5 L115.0,783.5 L120.0,781.6 L125.0,779.7 L130.0,777.8 L135.0,776.0 L140.0,774.3 L145.0,772.5 L150.0,770.8 L155.0,769.2 L160.0,767.6 L165.0,766.0 L170.0,764.4 L175.0,762.9 L180.0,761.5 L185.0,760.1 L190.0,758.7 L195.0,757.3 L200.0,756.0 L205.0,754.7 L210.0,753.5 L215.0,752.3 L220.0,751.2 L225.0,750.0 L230.0,749.0 L235.0,747.9 L240.0,746.9 L245.0,746.0 L250.0,745.0 L255.0,744.1 L260.0,743.3 L265.0,742.5 L270.0,741.7 L275.0,741.0 L280.0,740.3 L285.0,739.6 L290.0,739.0 L295.0,738.4 L300.0,737.9 L305.0,737.4 L310.0,736.9 L315.0,736.5 L320.0,736.1 L325.0,735.7 L330.0,735.4 L335.0,735.1 L340.0,734.9 L345.0,734.7 L350.0,734.5 L355.0,734.4 L360.0,734.3 L365.0,734.3 L370.0,734.3 L375.0,734.3 L380.0,734.3 L385.0,734.4 L390.0,734.6 L395.0,734.8 L400.0,735.0 L405.0,735.2 L410.0,735.5 L415.0,735.9 L420.0,736.2 L425.0,736.6 L430.0,737.1 L435.0,737.6 L440.0,738.1 L445.0,738.6 L450.0,739.2 L455.0,739.9 L460.0,740.5 L465.0,741.2 L470.0,742.0 L475.0,742.7 L480.0,743.5 L485.0,744.4 L490.0,745.3 L495.0,746.2 L500.0,747.2 L505.0,748.2 L510.0,749.2 L515.0,750.2 L520.0,751.3 L525.0,752.5 L530.0,753.7 L535.0,754.9 L540.0,756.1 L545.0,757.4 L550.0,758.7 L555.0,760.0 L560.0,761.4 L565.0,762.8 L570.0,764.3 L575.0,765.8 L580.0,767.3 L585.0,768.9 L590.0,770.4 L595.0,772.1 L600.0,773.7 L605.0,775.4 L610.0,777.1 L615.0,778.9 L620.0,780.7 L625.0,782.5 L630.0,784.4 L635.0,786.3 L640.0,788.2 L645.0,790.2 L650.0,792.2 L655.0,794.2 L660.0,796.2 L665.0,798.3 L670.0,800.5 L675.0,802.6 L680.0,804.8 L685.0,807.0 L690.0,809.3 L695.0,811.6 L700.0,813.9 L705.0,816.2 L710.0,818.6 L715.0,821.0 L720.0,823.4 L725.0,825.9 L730.0,828.3 L735.0,830.7 L740.0,833.2" fill="none" stroke="#e0e0e0" stroke-width="1.5" opacity="0.55"/>
<path d="M295.0,738.4 L300.0,737.9 L305.0,737.4 L310.0,736.9 L315.0,736.5 L320.0,736.1 L325.0,735.7 L330.0,735.4 L335.0,735.1 L340.0,734.9 L345.0,734.7 L350.0,734.5 L355.0,734.4 L360.0,734.3 L365.0,734.3 L370.0,734.3 L375.0,734.3 L380.0,734.3 L385.0,734.4 L390.0,734.6 L395.0,734.8 L400.0,735.0" fill="none" stroke="#f4f4f4" stroke-width="3.0" stroke-linecap="round"/>
<g clip-path="url(#ab3)"><rect x="306.5" y="706.6" width="1.5" height="226.4" fill="#787878" opacity="0.80"/></g>
<g clip-path="url(#ab3)"><rect x="315.0" y="706.6" width="2.5" height="226.4" fill="#aaaaaa" opacity="0.80"/></g>
<g clip-path="url(#ab3)"><rect x="322.0" y="706.6" width="4.0" height="226.4" fill="#969696" opacity="0.80"/></g>
<g clip-path="url(#ab3)"><rect x="334.0" y="706.6" width="2.0" height="226.4" fill="#e1e1e1" opacity="0.90"/></g>
<g clip-path="url(#ab3)"><rect x="339.0" y="706.6" width="3.0" height="226.4" fill="#aaaaaa" opacity="0.85"/></g>
<g clip-path="url(#ab3)"><rect x="346.0" y="706.6" width="4.0" height="226.4" fill="#969696" opacity="0.80"/></g>
<g clip-path="url(#ab3)"><rect x="356.3" y="706.6" width="1.5" height="226.4" fill="#e1e1e1" opacity="0.90"/></g>
<g clip-path="url(#ab3)"><rect x="360.5" y="706.6" width="5.0" height="226.4" fill="#aaaaaa" opacity="0.85"/></g>
<g clip-path="url(#ab3)"><rect x="376.5" y="706.6" width="4.0" height="226.4" fill="#6e6e6e" opacity="0.80"/></g>
<g clip-path="url(#be3)"><rect x="334.5" y="706.6" width="2.0" height="226.4" fill="#c8c8c8" opacity="0.90"/></g>
<g clip-path="url(#be3)"><rect x="339.7" y="706.6" width="2.0" height="226.4" fill="#c8c8c8" opacity="0.90"/></g>
<g clip-path="url(#be3)"><rect x="346.3" y="706.6" width="1.5" height="226.4" fill="#828282" opacity="0.80"/></g>
<g clip-path="url(#be3)"><rect x="356.3" y="706.6" width="2.0" height="226.4" fill="#828282" opacity="0.80"/></g>
<g clip-path="url(#be3)"><rect x="361.0" y="706.6" width="3.0" height="226.4" fill="#bebebe" opacity="0.90"/></g>
</g></g>
<text x="6.8" y="753.9" font-weight="bold" font-size="50" fill="#fff">B</text>
<text x="41.7" y="753.9" font-weight="bold" font-size="50" fill="#fff">‘</text>
<text x="53.8" y="753.9" font-weight="bold" font-size="50" fill="#fff">‘</text>
<polygon points="95.8,748.0 117.4,740.7 117.4,774.0" fill="#fff" stroke="#000" stroke-width="1" stroke-opacity="0.6"/>
<polygon points="625.3,751.7 649.3,759.9 625.3,782.4" fill="#fff" stroke="#000" stroke-width="1" stroke-opacity="0.6"/>
<g clip-path="url(#pc4)"><g filter="url(#spk)">
<rect x="-3.5" y="948.30" width="723.5" height="232.20" fill="#1c1c1c"/>
<path d="M-25.0,1093.9 L-20.0,1091.8 L-15.0,1089.7 L-10.0,1087.6 L-5.0,1085.5 L0.0,1083.4 L5.0,1081.2 L10.0,1079.1 L15.0,1076.9 L20.0,1074.7 L25.0,1072.4 L30.0,1070.2 L35.0,1067.9 L40.0,1065.6 L45.0,1063.3 L50.0,1061.0 L55.0,1058.7 L60.0,1056.3 L65.0,1054.0 L70.0,1051.7 L75.0,1049.3 L80.0,1047.0 L85.0,1044.7 L90.0,1042.4 L95.0,1040.1 L100.0,1037.8 L105.0,1035.6 L110.0,1033.3 L115.0,1031.1 L120.0,1028.9 L125.0,1026.8 L130.0,1024.6 L135.0,1022.5 L140.0,1020.4 L145.0,1018.4 L150.0,1016.4 L155.0,1014.4 L160.0,1012.5 L165.0,1010.6 L170.0,1008.7 L175.0,1006.9 L180.0,1005.1 L185.0,1003.4 L190.0,1001.7 L195.0,1000.1 L200.0,998.6 L205.0,997.0 L210.0,995.6 L215.0,994.2 L220.0,992.8 L225.0,991.5 L230.0,990.2 L235.0,989.0 L240.0,987.9 L245.0,986.8 L250.0,985.7 L255.0,984.7 L260.0,983.8 L265.0,982.9 L270.0,982.0 L275.0,981.2 L280.0,980.5 L285.0,979.8 L290.0,979.1 L295.0,978.5 L300.0,978.0 L305.0,977.4 L310.0,977.0 L315.0,976.6 L320.0,976.2 L325.0,975.9 L330.0,975.6 L335.0,975.4 L340.0,975.2 L345.0,975.0 L350.0,974.9 L355.0,974.9 L360.0,974.9 L365.0,974.9 L370.0,975.0 L375.0,975.1 L380.0,975.3 L385.0,975.5 L390.0,975.7 L395.0,976.0 L400.0,976.3 L405.0,976.7 L410.0,977.1 L415.0,977.6 L420.0,978.1 L425.0,978.6 L430.0,979.2 L435.0,979.8 L440.0,980.5 L445.0,981.2 L450.0,981.9 L455.0,982.7 L460.0,983.6 L465.0,984.4 L470.0,985.3 L475.0,986.3 L480.0,987.3 L485.0,988.3 L490.0,989.4 L495.0,990.5 L500.0,991.7 L505.0,992.9 L510.0,994.1 L515.0,995.4 L520.0,996.7 L525.0,998.1 L530.0,999.5 L535.0,1001.0 L540.0,1002.4 L545.0,1004.0 L550.0,1005.6 L555.0,1007.2 L560.0,1008.8 L565.0,1010.5 L570.0,1012.3 L575.0,1014.1 L580.0,1015.9 L585.0,1017.7 L590.0,1019.7 L595.0,1021.6 L600.0,1023.6 L605.0,1025.6 L610.0,1027.7 L615.0,1029.8 L620.0,1032.0 L625.0,1034.2 L630.0,1036.4 L635.0,1038.7 L640.0,1041.1 L645.0,1043.4 L650.0,1045.8 L655.0,1048.3 L660.0,1050.8 L665.0,1053.3 L670.0,1055.9 L675.0,1058.5 L680.0,1061.2 L685.0,1063.9 L690.0,1066.7 L695.0,1069.5 L700.0,1072.3 L705.0,1075.2 L710.0,1078.1 L715.0,1081.1 L720.0,1084.1 L725.0,1087.0 L730.0,1090.0 L735.0,1093.0 L740.0,1096.0 L740.0,1235.5 L-25.0,1235.5 Z" fill="url(#bg4)"/>
<path d="M25.7,1189.3 L30.7,1186.6 L35.7,1183.9 L40.7,1181.2 L45.7,1178.6 L50.7,1175.9 L55.7,1173.2 L60.7,1170.6 L65.7,1168.0 L70.7,1165.5 L75.7,1163.0 L80.7,1160.6 L85.7,1158.2 L90.7,1155.8 L95.7,1153.5 L100.7,1151.2 L105.7,1149.0 L110.7,1146.9 L115.7,1144.7 L120.7,1142.7 L125.7,1140.6 L130.7,1138.6 L135.7,1136.7 L140.7,1134.8 L145.7,1132.9 L150.7,1131.1 L155.7,1129.3 L160.7,1127.6 L165.7,1125.9 L170.7,1124.3 L175.7,1122.7 L180.7,1121.2 L185.7,1119.7 L190.7,1118.2 L195.7,1116.8 L200.7,1115.4 L205.7,1114.1 L210.7,1112.8 L215.7,1111.6 L220.7,1110.4 L225.7,1109.2 L230.7,1108.1 L235.7,1107.0 L240.7,1106.0 L245.7,1105.0 L250.7,1104.1 L255.7,1103.2 L260.7,1102.4 L265.7,1101.6 L270.7,1100.8 L275.7,1100.1 L280.7,1099.4 L285.7,1098.8 L290.7,1098.2 L295.7,1097.7 L300.7,1097.2 L305.7,1096.7 L310.7,1096.3 L315.7,1095.9 L320.7,1095.6 L325.7,1095.3 L330.7,1095.1 L335.7,1094.9 L340.7,1094.7 L345.7,1094.6 L350.7,1094.5 L355.7,1094.5 L360.7,1094.5 L365.7,1094.6 L370.7,1094.7 L375.7,1094.8 L380.7,1095.0 L385.7,1095.2 L390.7,1095.5 L395.7,1095.8 L400.7,1096.1 L405.7,1096.5 L410.7,1097.0 L415.7,1097.5 L420.7,1098.0 L425.7,1098.5 L430.7,1099.2 L435.7,1099.8 L440.7,1100.5 L445.7,1101.2 L450.7,1102.0 L455.7,1102.8 L460.7,1103.7 L465.7,1104.6 L470.7,1105.5 L475.7,1106.5 L480.7,1107.5 L485.7,1108.6 L490.7,1109.7 L495.7,1110.8 L500.7,1112.0 L505.7,1113.2 L510.7,1114.5 L515.7,1115.8 L520.7,1117.2 L525.7,1118.6 L530.7,1120.0 L535.7,1121.5 L540.7,1123.0 L545.7,1124.6 L550.7,1126.2 L555.7,1127.8 L560.7,1129.5 L565.7,1131.2 L570.7,1133.0 L575.7,1134.8 L580.7,1136.6 L585.7,1138.5 L590.7,1140.4 L595.7,1142.4 L600.7,1144.4 L605.7,1146.4 L610.7,1148.5 L615.7,1150.6 L620.7,1152.8 L625.7,1155.0 L630.7,1157.3 L635.7,1159.6 L640.7,1161.9 L645.7,1164.3 L650.7,1166.7 L655.7,1169.1 L660.7,1171.6 L665.7,1174.1 L670.7,1176.7 L675.7,1179.2 L680.7,1181.8 L685.7,1184.3 L690.7,1186.9 L690.7,1235.5 L25.7,1235.5 Z" fill="#1c1c1c"/>
<path d="M25.7,1189.3 L30.7,1186.6 L35.7,1183.9 L40.7,1181.2 L45.7,1178.6 L50.7,1175.9 L55.7,1173.2 L60.7,1170.6 L65.7,1168.0 L70.7,1165.5 L75.7,1163.0 L80.7,1160.6 L85.7,1158.2 L90.7,1155.8 L95.7,1153.5 L100.7,1151.2 L105.7,1149.0 L110.7,1146.9 L115.7,1144.7 L120.7,1142.7 L125.7,1140.6 L130.7,1138.6 L135.7,1136.7 L140.7,1134.8 L145.7,1132.9 L150.7,1131.1 L155.7,1129.3 L160.7,1127.6 L165.7,1125.9 L170.7,1124.3 L175.7,1122.7 L180.7,1121.2 L185.7,1119.7 L190.7,1118.2 L195.7,1116.8 L200.7,1115.4 L205.7,1114.1 L210.7,1112.8 L215.7,1111.6 L220.7,1110.4 L225.7,1109.2 L230.7,1108.1 L235.7,1107.0 L240.7,1106.0 L245.7,1105.0 L250.7,1104.1 L255.7,1103.2 L260.7,1102.4 L265.7,1101.6 L270.7,1100.8 L275.7,1100.1 L280.7,1099.4 L285.7,1098.8 L290.7,1098.2 L295.7,1097.7 L300.7,1097.2 L305.7,1096.7 L310.7,1096.3 L315.7,1095.9 L320.7,1095.6 L325.7,1095.3 L330.7,1095.1 L335.7,1094.9 L340.7,1094.7 L345.7,1094.6 L350.7,1094.5 L355.7,1094.5 L360.7,1094.5 L365.7,1094.6 L370.7,1094.7 L375.7,1094.8 L380.7,1095.0 L385.7,1095.2 L390.7,1095.5 L395.7,1095.8 L400.7,1096.1 L405.7,1096.5 L410.7,1097.0 L415.7,1097.5 L420.7,1098.0 L425.7,1098.5 L430.7,1099.2 L435.7,1099.8 L440.7,1100.5 L445.7,1101.2 L450.7,1102.0 L455.7,1102.8 L460.7,1103.7 L465.7,1104.6 L470.7,1105.5 L475.7,1106.5 L480.7,1107.5 L485.7,1108.6 L490.7,1109.7 L495.7,1110.8 L500.7,1112.0 L505.7,1113.2 L510.7,1114.5 L515.7,1115.8 L520.7,1117.2 L525.7,1118.6 L530.7,1120.0 L535.7,1121.5 L540.7,1123.0 L545.7,1124.6 L550.7,1126.2 L555.7,1127.8 L560.7,1129.5 L565.7,1131.2 L570.7,1133.0 L575.7,1134.8 L580.7,1136.6 L585.7,1138.5 L590.7,1140.4 L595.7,1142.4 L600.7,1144.4 L605.7,1146.4 L610.7,1148.5 L615.7,1150.6 L620.7,1152.8 L625.7,1155.0 L630.7,1157.3 L635.7,1159.6 L640.7,1161.9 L645.7,1164.3 L650.7,1166.7 L655.7,1169.1 L660.7,1171.6 L665.7,1174.1 L670.7,1176.7 L675.7,1179.2 L680.7,1181.8 L685.7,1184.3 L690.7,1186.9" fill="none" stroke="#c8c8c8" stroke-width="1.2" opacity="0.8"/>
<path d="M-25.0,1093.9 L-20.0,1091.8 L-15.0,1089.7 L-10.0,1087.6 L-5.0,1085.5 L0.0,1083.4 L5.0,1081.2 L10.0,1079.1 L15.0,1076.9 L20.0,1074.7 L25.0,1072.4 L30.0,1070.2 L35.0,1067.9 L40.0,1065.6 L45.0,1063.3 L50.0,1061.0 L55.0,1058.7 L60.0,1056.3 L65.0,1054.0 L70.0,1051.7 L75.0,1049.3 L80.0,1047.0 L85.0,1044.7 L90.0,1042.4 L95.0,1040.1 L100.0,1037.8 L105.0,1035.6 L110.0,1033.3 L115.0,1031.1 L120.0,1028.9 L125.0,1026.8 L130.0,1024.6 L135.0,1022.5 L140.0,1020.4 L145.0,1018.4 L150.0,1016.4 L155.0,1014.4 L160.0,1012.5 L165.0,1010.6 L170.0,1008.7 L175.0,1006.9 L180.0,1005.1 L185.0,1003.4 L190.0,1001.7 L195.0,1000.1 L200.0,998.6 L205.0,997.0 L210.0,995.6 L215.0,994.2 L220.0,992.8 L225.0,991.5 L230.0,990.2 L235.0,989.0 L240.0,987.9 L245.0,986.8 L250.0,985.7 L255.0,984.7 L260.0,983.8 L265.0,982.9 L270.0,982.0 L275.0,981.2 L280.0,980.5 L285.0,979.8 L290.0,979.1 L295.0,978.5 L300.0,978.0 L305.0,977.4 L310.0,977.0 L315.0,976.6 L320.0,976.2 L325.0,975.9 L330.0,975.6 L335.0,975.4 L340.0,975.2 L345.0,975.0 L350.0,974.9 L355.0,974.9 L360.0,974.9 L365.0,974.9 L370.0,975.0 L375.0,975.1 L380.0,975.3 L385.0,975.5 L390.0,975.7 L395.0,976.0 L400.0,976.3 L405.0,976.7 L410.0,977.1 L415.0,977.6 L420.0,978.1 L425.0,978.6 L430.0,979.2 L435.0,979.8 L440.0,980.5 L445.0,981.2 L450.0,981.9 L455.0,982.7 L460.0,983.6 L465.0,984.4 L470.0,985.3 L475.0,986.3 L480.0,987.3 L485.0,988.3 L490.0,989.4 L495.0,990.5 L500.0,991.7 L505.0,992.9 L510.0,994.1 L515.0,995.4 L520.0,996.7 L525.0,998.1 L530.0,999.5 L535.0,1001.0 L540.0,1002.4 L545.0,1004.0 L550.0,1005.6 L555.0,1007.2 L560.0,1008.8 L565.0,1010.5 L570.0,1012.3 L575.0,1014.1 L580.0,1015.9 L585.0,1017.7 L590.0,1019.7 L595.0,1021.6 L600.0,1023.6 L605.0,1025.6 L610.0,1027.7 L615.0,1029.8 L620.0,1032.0 L625.0,1034.2 L630.0,1036.4 L635.0,1038.7 L640.0,1041.1 L645.0,1043.4 L650.0,1045.8 L655.0,1048.3 L660.0,1050.8 L665.0,1053.3 L670.0,1055.9 L675.0,1058.5 L680.0,1061.2 L685.0,1063.9 L690.0,1066.7 L695.0,1069.5 L700.0,1072.3 L705.0,1075.2 L710.0,1078.1 L715.0,1081.1 L720.0,1084.1 L725.0,1087.0 L730.0,1090.0 L735.0,1093.0 L740.0,1096.0" fill="none" stroke="#e0e0e0" stroke-width="1.5" opacity="0.55"/>
<path d="M310.0,977.0 L315.0,976.6 L320.0,976.2 L325.0,975.9 L330.0,975.6 L335.0,975.4 L340.0,975.2 L345.0,975.0 L350.0,974.9 L355.0,974.9 L360.0,974.9 L365.0,974.9 L370.0,975.0 L375.0,975.1 L380.0,975.3 L385.0,975.5 L390.0,975.7 L395.0,976.0 L400.0,976.3 L405.0,976.7 L410.0,977.1 L415.0,977.6 L420.0,978.1 L425.0,978.6" fill="none" stroke="#f4f4f4" stroke-width="3.2" stroke-linecap="round"/>
<g clip-path="url(#ab4)"><rect x="355.0" y="951.3" width="15.6" height="226.2" fill="#969696" opacity="0.85"/></g>
<g clip-path="url(#ab4)"><rect x="371.6" y="951.3" width="16.4" height="226.2" fill="#646464" opacity="0.80"/></g>
<g clip-path="url(#be4)"><rect x="355.0" y="951.3" width="15.0" height="226.2" fill="#6e6e6e" opacity="0.85"/></g>
<rect x="369.9" y="951.3" width="1.3" height="226.2" fill="#d2d2d2" opacity="0.80"/>
</g></g>
<text x="7.8" y="998.6" font-weight="bold" font-size="50" fill="#fff">C</text>
<polygon fill="#fff" points="61.1,963.0 61.1,998.0 54.5,998.0 54.5,973.3 46.0,978.5 46.0,972.1 51.5,968.3 55.8,963.0"/>
<text x="68.3" y="998.6" font-weight="bold" font-size="50" fill="#fff">‘</text>
<g clip-path="url(#pc5)"><g filter="url(#spk)">
<rect x="-3.5" y="1179.60" width="723.5" height="232.40" fill="#1c1c1c"/>
<path d="M-25.0,1314.9 L-20.0,1312.1 L-15.0,1309.3 L-10.0,1306.5 L-5.0,1303.6 L0.0,1300.8 L5.0,1298.1 L10.0,1295.3 L15.0,1292.6 L20.0,1290.0 L25.0,1287.4 L30.0,1284.8 L35.0,1282.3 L40.0,1279.8 L45.0,1277.3 L50.0,1275.0 L55.0,1272.6 L60.0,1270.3 L65.0,1268.0 L70.0,1265.8 L75.0,1263.6 L80.0,1261.5 L85.0,1259.4 L90.0,1257.4 L95.0,1255.3 L100.0,1253.4 L105.0,1251.5 L110.0,1249.6 L115.0,1247.7 L120.0,1245.9 L125.0,1244.2 L130.0,1242.4 L135.0,1240.8 L140.0,1239.1 L145.0,1237.5 L150.0,1236.0 L155.0,1234.4 L160.0,1232.9 L165.0,1231.5 L170.0,1230.1 L175.0,1228.7 L180.0,1227.4 L185.0,1226.1 L190.0,1224.9 L195.0,1223.7 L200.0,1222.5 L205.0,1221.4 L210.0,1220.3 L215.0,1219.2 L220.0,1218.2 L225.0,1217.3 L230.0,1216.3 L235.0,1215.4 L240.0,1214.6 L245.0,1213.7 L250.0,1212.9 L255.0,1212.2 L260.0,1211.5 L265.0,1210.8 L270.0,1210.1 L275.0,1209.5 L280.0,1209.0 L285.0,1208.4 L290.0,1207.9 L295.0,1207.5 L300.0,1207.0 L305.0,1206.6 L310.0,1206.3 L315.0,1206.0 L320.0,1205.7 L325.0,1205.4 L330.0,1205.2 L335.0,1205.0 L340.0,1204.9 L345.0,1204.7 L350.0,1204.7 L355.0,1204.6 L360.0,1204.6 L365.0,1204.6 L370.0,1204.7 L375.0,1204.8 L380.0,1204.9 L385.0,1205.0 L390.0,1205.2 L395.0,1205.4 L400.0,1205.7 L405.0,1206.0 L410.0,1206.3 L415.0,1206.6 L420.0,1207.0 L425.0,1207.4 L430.0,1207.9 L435.0,1208.3 L440.0,1208.9 L445.0,1209.4 L450.0,1210.0 L455.0,1210.6 L460.0,1211.3 L465.0,1212.0 L470.0,1212.7 L475.0,1213.5 L480.0,1214.3 L485.0,1215.2 L490.0,1216.1 L495.0,1217.1 L500.0,1218.0 L505.0,1219.1 L510.0,1220.2 L515.0,1221.3 L520.0,1222.4 L525.0,1223.6 L530.0,1224.9 L535.0,1226.2 L540.0,1227.5 L545.0,1228.9 L550.0,1230.4 L555.0,1231.9 L560.0,1233.4 L565.0,1235.0 L570.0,1236.7 L575.0,1238.3 L580.0,1240.1 L585.0,1241.9 L590.0,1243.7 L595.0,1245.6 L600.0,1247.6 L605.0,1249.6 L610.0,1251.7 L615.0,1253.8 L620.0,1256.0 L625.0,1258.2 L630.0,1260.5 L635.0,1262.8 L640.0,1265.3 L645.0,1267.7 L650.0,1270.2 L655.0,1272.8 L660.0,1275.5 L665.0,1278.2 L670.0,1281.0 L675.0,1283.8 L680.0,1286.7 L685.0,1289.6 L690.0,1292.7 L695.0,1295.8 L700.0,1298.9 L705.0,1302.1 L710.0,1305.4 L715.0,1308.8 L720.0,1312.1 L725.0,1315.5 L730.0,1318.9 L735.0,1322.3 L740.0,1325.7 L740.0,1467.0 L-25.0,1467.0 Z" fill="url(#bg5)"/>
<path d="M-1.0,1419.8 L4.0,1416.8 L9.0,1413.9 L14.0,1411.0 L19.0,1408.1 L24.0,1405.1 L29.0,1402.2 L34.0,1399.4 L39.0,1396.6 L44.0,1393.8 L49.0,1391.1 L54.0,1388.4 L59.0,1385.7 L64.0,1383.1 L69.0,1380.6 L74.0,1378.0 L79.0,1375.6 L84.0,1373.1 L89.0,1370.7 L94.0,1368.4 L99.0,1366.1 L104.0,1363.8 L109.0,1361.6 L114.0,1359.4 L119.0,1357.2 L124.0,1355.1 L129.0,1353.1 L134.0,1351.0 L139.0,1349.1 L144.0,1347.1 L149.0,1345.2 L154.0,1343.4 L159.0,1341.5 L164.0,1339.8 L169.0,1338.0 L174.0,1336.3 L179.0,1334.7 L184.0,1333.1 L189.0,1331.5 L194.0,1330.0 L199.0,1328.5 L204.0,1327.0 L209.0,1325.6 L214.0,1324.2 L219.0,1322.9 L224.0,1321.6 L229.0,1320.4 L234.0,1319.2 L239.0,1318.0 L244.0,1316.9 L249.0,1315.8 L254.0,1314.8 L259.0,1313.8 L264.0,1312.8 L269.0,1311.9 L274.0,1311.0 L279.0,1310.2 L284.0,1309.4 L289.0,1308.7 L294.0,1308.0 L299.0,1307.3 L304.0,1306.7 L309.0,1306.2 L314.0,1305.7 L319.0,1305.2 L324.0,1304.8 L329.0,1304.4 L334.0,1304.1 L339.0,1303.8 L344.0,1303.5 L349.0,1303.3 L354.0,1303.2 L359.0,1303.1 L364.0,1303.0 L369.0,1303.0 L374.0,1303.0 L379.0,1303.1 L384.0,1303.3 L389.0,1303.4 L394.0,1303.7 L399.0,1303.9 L404.0,1304.3 L409.0,1304.6 L414.0,1305.1 L419.0,1305.5 L424.0,1306.0 L429.0,1306.6 L434.0,1307.2 L439.0,1307.9 L444.0,1308.6 L449.0,1309.4 L454.0,1310.2 L459.0,1311.1 L464.0,1312.0 L469.0,1312.9 L474.0,1313.9 L479.0,1315.0 L484.0,1316.1 L489.0,1317.3 L494.0,1318.5 L499.0,1319.8 L504.0,1321.1 L509.0,1322.5 L514.0,1323.9 L519.0,1325.4 L524.0,1326.9 L529.0,1328.5 L534.0,1330.1 L539.0,1331.8 L544.0,1333.6 L549.0,1335.3 L554.0,1337.2 L559.0,1339.1 L564.0,1341.0 L569.0,1343.1 L574.0,1345.1 L579.0,1347.2 L584.0,1349.4 L589.0,1351.6 L594.0,1353.9 L599.0,1356.2 L604.0,1358.6 L609.0,1361.1 L614.0,1363.6 L619.0,1366.1 L624.0,1368.7 L629.0,1371.4 L634.0,1374.1 L639.0,1376.9 L644.0,1379.7 L649.0,1382.6 L654.0,1385.6 L659.0,1388.6 L664.0,1391.6 L669.0,1394.8 L674.0,1397.9 L679.0,1401.2 L684.0,1404.5 L689.0,1407.8 L694.0,1411.2 L699.0,1414.6 L704.0,1417.9 L709.0,1421.3 L709.0,1467.0 L-1.0,1467.0 Z" fill="#1c1c1c"/>
<path d="M-1.0,1419.8 L4.0,1416.8 L9.0,1413.9 L14.0,1411.0 L19.0,1408.1 L24.0,1405.1 L29.0,1402.2 L34.0,1399.4 L39.0,1396.6 L44.0,1393.8 L49.0,1391.1 L54.0,1388.4 L59.0,1385.7 L64.0,1383.1 L69.0,1380.6 L74.0,1378.0 L79.0,1375.6 L84.0,1373.1 L89.0,1370.7 L94.0,1368.4 L99.0,1366.1 L104.0,1363.8 L109.0,1361.6 L114.0,1359.4 L119.0,1357.2 L124.0,1355.1 L129.0,1353.1 L134.0,1351.0 L139.0,1349.1 L144.0,1347.1 L149.0,1345.2 L154.0,1343.4 L159.0,1341.5 L164.0,1339.8 L169.0,1338.0 L174.0,1336.3 L179.0,1334.7 L184.0,1333.1 L189.0,1331.5 L194.0,1330.0 L199.0,1328.5 L204.0,1327.0 L209.0,1325.6 L214.0,1324.2 L219.0,1322.9 L224.0,1321.6 L229.0,1320.4 L234.0,1319.2 L239.0,1318.0 L244.0,1316.9 L249.0,1315.8 L254.0,1314.8 L259.0,1313.8 L264.0,1312.8 L269.0,1311.9 L274.0,1311.0 L279.0,1310.2 L284.0,1309.4 L289.0,1308.7 L294.0,1308.0 L299.0,1307.3 L304.0,1306.7 L309.0,1306.2 L314.0,1305.7 L319.0,1305.2 L324.0,1304.8 L329.0,1304.4 L334.0,1304.1 L339.0,1303.8 L344.0,1303.5 L349.0,1303.3 L354.0,1303.2 L359.0,1303.1 L364.0,1303.0 L369.0,1303.0 L374.0,1303.0 L379.0,1303.1 L384.0,1303.3 L389.0,1303.4 L394.0,1303.7 L399.0,1303.9 L404.0,1304.3 L409.0,1304.6 L414.0,1305.1 L419.0,1305.5 L424.0,1306.0 L429.0,1306.6 L434.0,1307.2 L439.0,1307.9 L444.0,1308.6 L449.0,1309.4 L454.0,1310.2 L459.0,1311.1 L464.0,1312.0 L469.0,1312.9 L474.0,1313.9 L479.0,1315.0 L484.0,1316.1 L489.0,1317.3 L494.0,1318.5 L499.0,1319.8 L504.0,1321.1 L509.0,1322.5 L514.0,1323.9 L519.0,1325.4 L524.0,1326.9 L529.0,1328.5 L534.0,1330.1 L539.0,1331.8 L544.0,1333.6 L549.0,1335.3 L554.0,1337.2 L559.0,1339.1 L564.0,1341.0 L569.0,1343.1 L574.0,1345.1 L579.0,1347.2 L584.0,1349.4 L589.0,1351.6 L594.0,1353.9 L599.0,1356.2 L604.0,1358.6 L609.0,1361.1 L614.0,1363.6 L619.0,1366.1 L624.0,1368.7 L629.0,1371.4 L634.0,1374.1 L639.0,1376.9 L644.0,1379.7 L649.0,1382.6 L654.0,1385.6 L659.0,1388.6 L664.0,1391.6 L669.0,1394.8 L674.0,1397.9 L679.0,1401.2 L684.0,1404.5 L689.0,1407.8 L694.0,1411.2 L699.0,1414.6 L704.0,1417.9 L709.0,1421.3" fill="none" stroke="#c8c8c8" stroke-width="1.2" opacity="0.8"/>
<path d="M-25.0,1314.9 L-20.0,1312.1 L-15.0,1309.3 L-10.0,1306.5 L-5.0,1303.6 L0.0,1300.8 L5.0,1298.1 L10.0,1295.3 L15.0,1292.6 L20.0,1290.0 L25.0,1287.4 L30.0,1284.8 L35.0,1282.3 L40.0,1279.8 L45.0,1277.3 L50.0,1275.0 L55.0,1272.6 L60.0,1270.3 L65.0,1268.0 L70.0,1265.8 L75.0,1263.6 L80.0,1261.5 L85.0,1259.4 L90.0,1257.4 L95.0,1255.3 L100.0,1253.4 L105.0,1251.5 L110.0,1249.6 L115.0,1247.7 L120.0,1245.9 L125.0,1244.2 L130.0,1242.4 L135.0,1240.8 L140.0,1239.1 L145.0,1237.5 L150.0,1236.0 L155.0,1234.4 L160.0,1232.9 L165.0,1231.5 L170.0,1230.1 L175.0,1228.7 L180.0,1227.4 L185.0,1226.1 L190.0,1224.9 L195.0,1223.7 L200.0,1222.5 L205.0,1221.4 L210.0,1220.3 L215.0,1219.2 L220.0,1218.2 L225.0,1217.3 L230.0,1216.3 L235.0,1215.4 L240.0,1214.6 L245.0,1213.7 L250.0,1212.9 L255.0,1212.2 L260.0,1211.5 L265.0,1210.8 L270.0,1210.1 L275.0,1209.5 L280.0,1209.0 L285.0,1208.4 L290.0,1207.9 L295.0,1207.5 L300.0,1207.0 L305.0,1206.6 L310.0,1206.3 L315.0,1206.0 L320.0,1205.7 L325.0,1205.4 L330.0,1205.2 L335.0,1205.0 L340.0,1204.9 L345.0,1204.7 L350.0,1204.7 L355.0,1204.6 L360.0,1204.6 L365.0,1204.6 L370.0,1204.7 L375.0,1204.8 L380.0,1204.9 L385.0,1205.0 L390.0,1205.2 L395.0,1205.4 L400.0,1205.7 L405.0,1206.0 L410.0,1206.3 L415.0,1206.6 L420.0,1207.0 L425.0,1207.4 L430.0,1207.9 L435.0,1208.3 L440.0,1208.9 L445.0,1209.4 L450.0,1210.0 L455.0,1210.6 L460.0,1211.3 L465.0,1212.0 L470.0,1212.7 L475.0,1213.5 L480.0,1214.3 L485.0,1215.2 L490.0,1216.1 L495.0,1217.1 L500.0,1218.0 L505.0,1219.1 L510.0,1220.2 L515.0,1221.3 L520.0,1222.4 L525.0,1223.6 L530.0,1224.9 L535.0,1226.2 L540.0,1227.5 L545.0,1228.9 L550.0,1230.4 L555.0,1231.9 L560.0,1233.4 L565.0,1235.0 L570.0,1236.7 L575.0,1238.3 L580.0,1240.1 L585.0,1241.9 L590.0,1243.7 L595.0,1245.6 L600.0,1247.6 L605.0,1249.6 L610.0,1251.7 L615.0,1253.8 L620.0,1256.0 L625.0,1258.2 L630.0,1260.5 L635.0,1262.8 L640.0,1265.3 L645.0,1267.7 L650.0,1270.2 L655.0,1272.8 L660.0,1275.5 L665.0,1278.2 L670.0,1281.0 L675.0,1283.8 L680.0,1286.7 L685.0,1289.6 L690.0,1292.7 L695.0,1295.8 L700.0,1298.9 L705.0,1302.1 L710.0,1305.4 L715.0,1308.8 L720.0,1312.1 L725.0,1315.5 L730.0,1318.9 L735.0,1322.3 L740.0,1325.7" fill="none" stroke="#e0e0e0" stroke-width="1.5" opacity="0.55"/>
<path d="M300.0,1207.0 L305.0,1206.6 L310.0,1206.3 L315.0,1206.0 L320.0,1205.7 L325.0,1205.4 L330.0,1205.2 L335.0,1205.0 L340.0,1204.9 L345.0,1204.7 L350.0,1204.7 L355.0,1204.6 L360.0,1204.6 L365.0,1204.6 L370.0,1204.7 L375.0,1204.8 L380.0,1204.9 L385.0,1205.0 L390.0,1205.2 L395.0,1205.4 L400.0,1205.7 L405.0,1206.0 L410.0,1206.3 L415.0,1206.6 L420.0,1207.0 L425.0,1207.4 L430.0,1207.9" fill="none" stroke="#f4f4f4" stroke-width="3.0" stroke-linecap="round"/>
<g clip-path="url(#ab5)"><rect x="332.0" y="1182.6" width="6.0" height="226.4" fill="#787878" opacity="0.70"/></g>
<g clip-path="url(#ab5)"><rect x="355.0" y="1182.6" width="10.0" height="226.4" fill="#8c8c8c" opacity="0.70"/></g>
<g clip-path="url(#ab5)"><rect x="373.0" y="1182.6" width="14.0" height="226.4" fill="#787878" opacity="0.70"/></g>
<g clip-path="url(#be5)"><rect x="333.0" y="1182.6" width="1.5" height="226.4" fill="#a0a0a0" opacity="0.70"/></g>
<g clip-path="url(#be5)"><rect x="373.5" y="1182.6" width="1.5" height="226.4" fill="#aaaaaa" opacity="0.80"/></g>
<g clip-path="url(#be5)"><rect x="384.0" y="1182.6" width="1.5" height="226.4" fill="#aaaaaa" opacity="0.80"/></g>
</g></g>
<text x="7.8" y="1229.9" font-weight="bold" font-size="50" fill="#fff">C</text>
<polygon fill="#fff" points="61.1,1194.3 61.1,1229.3 54.5,1229.3 54.5,1204.6 46.0,1209.8 46.0,1203.4 51.5,1199.6 55.8,1194.3"/>
<text x="68.3" y="1229.9" font-weight="bold" font-size="50" fill="#fff">‘</text>
<text x="80.4" y="1229.9" font-weight="bold" font-size="50" fill="#fff">‘</text>
<polygon points="119.8,1206.0 142.8,1199.0 142.8,1231.5" fill="#fff" stroke="#000" stroke-width="1" stroke-opacity="0.6"/>
<polygon points="609.5,1215.7 632.5,1226.3 609.5,1250.7" fill="#fff" stroke="#000" stroke-width="1" stroke-opacity="0.6"/>
<g clip-path="url(#pc6)"><g filter="url(#spk)">
<rect x="-3.5" y="1424.60" width="723.5" height="232.20" fill="#1c1c1c"/>
<path d="M-25.0,1581.4 L-20.0,1578.3 L-15.0,1575.2 L-10.0,1572.1 L-5.0,1569.0 L0.0,1565.8 L5.0,1562.7 L10.0,1559.7 L15.0,1556.7 L20.0,1553.7 L25.0,1550.8 L30.0,1547.9 L35.0,1545.0 L40.0,1542.2 L45.0,1539.4 L50.0,1536.7 L55.0,1534.0 L60.0,1531.4 L65.0,1528.8 L70.0,1526.2 L75.0,1523.7 L80.0,1521.2 L85.0,1518.8 L90.0,1516.4 L95.0,1514.0 L100.0,1511.7 L105.0,1509.5 L110.0,1507.2 L115.0,1505.0 L120.0,1502.9 L125.0,1500.8 L130.0,1498.7 L135.0,1496.7 L140.0,1494.8 L145.0,1492.8 L150.0,1490.9 L155.0,1489.1 L160.0,1487.3 L165.0,1485.5 L170.0,1483.8 L175.0,1482.1 L180.0,1480.5 L185.0,1478.9 L190.0,1477.4 L195.0,1475.9 L200.0,1474.4 L205.0,1473.0 L210.0,1471.6 L215.0,1470.3 L220.0,1469.0 L225.0,1467.8 L230.0,1466.6 L235.0,1465.4 L240.0,1464.3 L245.0,1463.2 L250.0,1462.2 L255.0,1461.2 L260.0,1460.3 L265.0,1459.4 L270.0,1458.5 L275.0,1457.7 L280.0,1456.9 L285.0,1456.2 L290.0,1455.5 L295.0,1454.9 L300.0,1454.3 L305.0,1453.7 L310.0,1453.2 L315.0,1452.8 L320.0,1452.4 L325.0,1452.0 L330.0,1451.7 L335.0,1451.4 L340.0,1451.1 L345.0,1451.0 L350.0,1450.8 L355.0,1450.7 L360.0,1450.6 L365.0,1450.6 L370.0,1450.7 L375.0,1450.7 L380.0,1450.8 L385.0,1451.0 L390.0,1451.2 L395.0,1451.5 L400.0,1451.8 L405.0,1452.1 L410.0,1452.5 L415.0,1452.9 L420.0,1453.4 L425.0,1453.9 L430.0,1454.5 L435.0,1455.1 L440.0,1455.8 L445.0,1456.5 L450.0,1457.2 L455.0,1458.0 L460.0,1458.8 L465.0,1459.7 L470.0,1460.7 L475.0,1461.6 L480.0,1462.7 L485.0,1463.7 L490.0,1464.8 L495.0,1466.0 L500.0,1467.2 L505.0,1468.5 L510.0,1469.8 L515.0,1471.1 L520.0,1472.5 L525.0,1473.9 L530.0,1475.4 L535.0,1476.9 L540.0,1478.5 L545.0,1480.1 L550.0,1481.8 L555.0,1483.5 L560.0,1485.3 L565.0,1487.1 L570.0,1488.9 L575.0,1490.8 L580.0,1492.8 L585.0,1494.8 L590.0,1496.8 L595.0,1498.9 L600.0,1501.0 L605.0,1503.2 L610.0,1505.4 L615.0,1507.7 L620.0,1510.0 L625.0,1512.4 L630.0,1514.8 L635.0,1517.3 L640.0,1519.8 L645.0,1522.3 L650.0,1524.9 L655.0,1527.6 L660.0,1530.3 L665.0,1533.0 L670.0,1535.8 L675.0,1538.7 L680.0,1541.6 L685.0,1544.5 L690.0,1547.5 L695.0,1550.5 L700.0,1553.6 L705.0,1556.7 L710.0,1559.9 L715.0,1563.1 L720.0,1566.4 L725.0,1569.6 L730.0,1572.9 L735.0,1576.1 L740.0,1579.3 L740.0,1711.8 L-25.0,1711.8 Z" fill="url(#bg6)"/>
<path d="M23.3,1666.1 L28.3,1663.1 L33.3,1660.1 L38.3,1657.1 L43.3,1654.1 L48.3,1651.1 L53.3,1648.1 L58.3,1645.2 L63.3,1642.4 L68.3,1639.7 L73.3,1637.0 L78.3,1634.4 L83.3,1631.8 L88.3,1629.3 L93.3,1626.9 L98.3,1624.6 L103.3,1622.3 L108.3,1620.0 L113.3,1617.9 L118.3,1615.8 L123.3,1613.7 L128.3,1611.7 L133.3,1609.8 L138.3,1607.9 L143.3,1606.1 L148.3,1604.4 L153.3,1602.7 L158.3,1601.0 L163.3,1599.5 L168.3,1597.9 L173.3,1596.5 L178.3,1595.0 L183.3,1593.6 L188.3,1592.3 L193.3,1591.0 L198.3,1589.8 L203.3,1588.6 L208.3,1587.5 L213.3,1586.4 L218.3,1585.4 L223.3,1584.4 L228.3,1583.5 L233.3,1582.6 L238.3,1581.7 L243.3,1580.9 L248.3,1580.1 L253.3,1579.4 L258.3,1578.7 L263.3,1578.0 L268.3,1577.4 L273.3,1576.8 L278.3,1576.3 L283.3,1575.8 L288.3,1575.3 L293.3,1574.9 L298.3,1574.5 L303.3,1574.2 L308.3,1573.9 L313.3,1573.6 L318.3,1573.4 L323.3,1573.2 L328.3,1573.0 L333.3,1572.9 L338.3,1572.8 L343.3,1572.7 L348.3,1572.7 L353.3,1572.7 L358.3,1572.7 L363.3,1572.8 L368.3,1572.9 L373.3,1573.1 L378.3,1573.2 L383.3,1573.4 L388.3,1573.7 L393.3,1574.0 L398.3,1574.3 L403.3,1574.6 L408.3,1575.0 L413.3,1575.3 L418.3,1575.8 L423.3,1576.2 L428.3,1576.7 L433.3,1577.2 L438.3,1577.7 L443.3,1578.3 L448.3,1578.9 L453.3,1579.5 L458.3,1580.2 L463.3,1580.9 L468.3,1581.6 L473.3,1582.3 L478.3,1583.0 L483.3,1583.8 L488.3,1584.6 L493.3,1585.5 L498.3,1586.4 L503.3,1587.3 L508.3,1588.2 L513.3,1589.2 L518.3,1590.1 L523.3,1591.2 L528.3,1592.2 L533.3,1593.3 L538.3,1594.4 L543.3,1595.5 L548.3,1596.7 L553.3,1597.9 L558.3,1599.1 L563.3,1600.4 L568.3,1601.7 L573.3,1603.0 L578.3,1604.4 L583.3,1605.8 L588.3,1607.2 L593.3,1608.7 L598.3,1610.1 L603.3,1611.7 L608.3,1613.2 L613.3,1614.8 L618.3,1616.4 L623.3,1618.1 L628.3,1619.8 L633.3,1621.5 L638.3,1623.3 L643.3,1625.2 L648.3,1627.0 L653.3,1628.9 L658.3,1630.9 L663.3,1632.9 L668.3,1635.0 L673.3,1637.1 L678.3,1639.2 L683.3,1641.5 L688.3,1643.7 L693.3,1646.1 L698.3,1648.4 L703.3,1650.8 L708.3,1653.1 L713.3,1655.4 L713.3,1711.8 L23.3,1711.8 Z" fill="#464646"/>
<path d="M23.3,1666.1 L28.3,1663.1 L33.3,1660.1 L38.3,1657.1 L43.3,1654.1 L48.3,1651.1 L53.3,1648.1 L58.3,1645.2 L63.3,1642.4 L68.3,1639.7 L73.3,1637.0 L78.3,1634.4 L83.3,1631.8 L88.3,1629.3 L93.3,1626.9 L98.3,1624.6 L103.3,1622.3 L108.3,1620.0 L113.3,1617.9 L118.3,1615.8 L123.3,1613.7 L128.3,1611.7 L133.3,1609.8 L138.3,1607.9 L143.3,1606.1 L148.3,1604.4 L153.3,1602.7 L158.3,1601.0 L163.3,1599.5 L168.3,1597.9 L173.3,1596.5 L178.3,1595.0 L183.3,1593.6 L188.3,1592.3 L193.3,1591.0 L198.3,1589.8 L203.3,1588.6 L208.3,1587.5 L213.3,1586.4 L218.3,1585.4 L223.3,1584.4 L228.3,1583.5 L233.3,1582.6 L238.3,1581.7 L243.3,1580.9 L248.3,1580.1 L253.3,1579.4 L258.3,1578.7 L263.3,1578.0 L268.3,1577.4 L273.3,1576.8 L278.3,1576.3 L283.3,1575.8 L288.3,1575.3 L293.3,1574.9 L298.3,1574.5 L303.3,1574.2 L308.3,1573.9 L313.3,1573.6 L318.3,1573.4 L323.3,1573.2 L328.3,1573.0 L333.3,1572.9 L338.3,1572.8 L343.3,1572.7 L348.3,1572.7 L353.3,1572.7 L358.3,1572.7 L363.3,1572.8 L368.3,1572.9 L373.3,1573.1 L378.3,1573.2 L383.3,1573.4 L388.3,1573.7 L393.3,1574.0 L398.3,1574.3 L403.3,1574.6 L408.3,1575.0 L413.3,1575.3 L418.3,1575.8 L423.3,1576.2 L428.3,1576.7 L433.3,1577.2 L438.3,1577.7 L443.3,1578.3 L448.3,1578.9 L453.3,1579.5 L458.3,1580.2 L463.3,1580.9 L468.3,1581.6 L473.3,1582.3 L478.3,1583.0 L483.3,1583.8 L488.3,1584.6 L493.3,1585.5 L498.3,1586.4 L503.3,1587.3 L508.3,1588.2 L513.3,1589.2 L518.3,1590.1 L523.3,1591.2 L528.3,1592.2 L533.3,1593.3 L538.3,1594.4 L543.3,1595.5 L548.3,1596.7 L553.3,1597.9 L558.3,1599.1 L563.3,1600.4 L568.3,1601.7 L573.3,1603.0 L578.3,1604.4 L583.3,1605.8 L588.3,1607.2 L593.3,1608.7 L598.3,1610.1 L603.3,1611.7 L608.3,1613.2 L613.3,1614.8 L618.3,1616.4 L623.3,1618.1 L628.3,1619.8 L633.3,1621.5 L638.3,1623.3 L643.3,1625.2 L648.3,1627.0 L653.3,1628.9 L658.3,1630.9 L663.3,1632.9 L668.3,1635.0 L673.3,1637.1 L678.3,1639.2 L683.3,1641.5 L688.3,1643.7 L693.3,1646.1 L698.3,1648.4 L703.3,1650.8 L708.3,1653.1 L713.3,1655.4" fill="none" stroke="#d8d8d8" stroke-width="1.6"/>
<path d="M-25.0,1581.4 L-20.0,1578.3 L-15.0,1575.2 L-10.0,1572.1 L-5.0,1569.0 L0.0,1565.8 L5.0,1562.7 L10.0,1559.7 L15.0,1556.7 L20.0,1553.7 L25.0,1550.8 L30.0,1547.9 L35.0,1545.0 L40.0,1542.2 L45.0,1539.4 L50.0,1536.7 L55.0,1534.0 L60.0,1531.4 L65.0,1528.8 L70.0,1526.2 L75.0,1523.7 L80.0,1521.2 L85.0,1518.8 L90.0,1516.4 L95.0,1514.0 L100.0,1511.7 L105.0,1509.5 L110.0,1507.2 L115.0,1505.0 L120.0,1502.9 L125.0,1500.8 L130.0,1498.7 L135.0,1496.7 L140.0,1494.8 L145.0,1492.8 L150.0,1490.9 L155.0,1489.1 L160.0,1487.3 L165.0,1485.5 L170.0,1483.8 L175.0,1482.1 L180.0,1480.5 L185.0,1478.9 L190.0,1477.4 L195.0,1475.9 L200.0,1474.4 L205.0,1473.0 L210.0,1471.6 L215.0,1470.3 L220.0,1469.0 L225.0,1467.8 L230.0,1466.6 L235.0,1465.4 L240.0,1464.3 L245.0,1463.2 L250.0,1462.2 L255.0,1461.2 L260.0,1460.3 L265.0,1459.4 L270.0,1458.5 L275.0,1457.7 L280.0,1456.9 L285.0,1456.2 L290.0,1455.5 L295.0,1454.9 L300.0,1454.3 L305.0,1453.7 L310.0,1453.2 L315.0,1452.8 L320.0,1452.4 L325.0,1452.0 L330.0,1451.7 L335.0,1451.4 L340.0,1451.1 L345.0,1451.0 L350.0,1450.8 L355.0,1450.7 L360.0,1450.6 L365.0,1450.6 L370.0,1450.7 L375.0,1450.7 L380.0,1450.8 L385.0,1451.0 L390.0,1451.2 L395.0,1451.5 L400.0,1451.8 L405.0,1452.1 L410.0,1452.5 L415.0,1452.9 L420.0,1453.4 L425.0,1453.9 L430.0,1454.5 L435.0,1455.1 L440.0,1455.8 L445.0,1456.5 L450.0,1457.2 L455.0,1458.0 L460.0,1458.8 L465.0,1459.7 L470.0,1460.7 L475.0,1461.6 L480.0,1462.7 L485.0,1463.7 L490.0,1464.8 L495.0,1466.0 L500.0,1467.2 L505.0,1468.5 L510.0,1469.8 L515.0,1471.1 L520.0,1472.5 L525.0,1473.9 L530.0,1475.4 L535.0,1476.9 L540.0,1478.5 L545.0,1480.1 L550.0,1481.8 L555.0,1483.5 L560.0,1485.3 L565.0,1487.1 L570.0,1488.9 L575.0,1490.8 L580.0,1492.8 L585.0,1494.8 L590.0,1496.8 L595.0,1498.9 L600.0,1501.0 L605.0,1503.2 L610.0,1505.4 L615.0,1507.7 L620.0,1510.0 L625.0,1512.4 L630.0,1514.8 L635.0,1517.3 L640.0,1519.8 L645.0,1522.3 L650.0,1524.9 L655.0,1527.6 L660.0,1530.3 L665.0,1533.0 L670.0,1535.8 L675.0,1538.7 L680.0,1541.6 L685.0,1544.5 L690.0,1547.5 L695.0,1550.5 L700.0,1553.6 L705.0,1556.7 L710.0,1559.9 L715.0,1563.1 L720.0,1566.4 L725.0,1569.6 L730.0,1572.9 L735.0,1576.1 L740.0,1579.3" fill="none" stroke="#e0e0e0" stroke-width="1.5" opacity="0.55"/>
<path d="M295.0,1454.9 L300.0,1454.3 L305.0,1453.7 L310.0,1453.2 L315.0,1452.8 L320.0,1452.4 L325.0,1452.0 L330.0,1451.7 L335.0,1451.4 L340.0,1451.1 L345.0,1451.0 L350.0,1450.8 L355.0,1450.7 L360.0,1450.6 L365.0,1450.6 L370.0,1450.7 L375.0,1450.7 L380.0,1450.8 L385.0,1451.0 L390.0,1451.2 L395.0,1451.5 L400.0,1451.8 L405.0,1452.1 L410.0,1452.5 L415.0,1452.9 L420.0,1453.4 L425.0,1453.9 L430.0,1454.5" fill="none" stroke="#f4f4f4" stroke-width="3.2" stroke-linecap="round"/>
<g clip-path="url(#ab6)"><rect x="351.6" y="1427.6" width="14.1" height="226.2" fill="#d7d7d7" opacity="0.95"/></g>
<g clip-path="url(#ab6)"><rect x="365.7" y="1427.6" width="17.0" height="226.2" fill="#5a5a5a" opacity="0.70"/></g>
<g clip-path="url(#ab6)"><rect x="330.0" y="1427.6" width="3.0" height="226.2" fill="#505050" opacity="0.60"/></g>
<g clip-path="url(#bd6)"><rect x="351.6" y="1427.6" width="14.1" height="226.2" fill="#afafaf" opacity="0.50"/></g>
<g clip-path="url(#be6)"><rect x="351.6" y="1427.6" width="14.1" height="226.2" fill="#a8a8a8" opacity="0.90"/></g>
</g></g>
<text x="7.8" y="1474.9" font-weight="bold" font-size="50" fill="#fff">C</text>
<text x="41.6" y="1474.9" font-weight="bold" font-size="50" fill="#fff">2</text>
<text x="68.3" y="1474.9" font-weight="bold" font-size="50" fill="#fff">‘</text>
<g clip-path="url(#pc7)"><g filter="url(#spk)">
<rect x="-3.5" y="1655.70" width="723.5" height="233.00" fill="#1c1c1c"/>
<path d="M-25.0,1800.8 L-20.0,1798.1 L-15.0,1795.4 L-10.0,1792.7 L-5.0,1790.0 L0.0,1787.3 L5.0,1784.6 L10.0,1781.9 L15.0,1779.3 L20.0,1776.7 L25.0,1774.1 L30.0,1771.6 L35.0,1769.1 L40.0,1766.7 L45.0,1764.2 L50.0,1761.9 L55.0,1759.5 L60.0,1757.2 L65.0,1754.9 L70.0,1752.6 L75.0,1750.4 L80.0,1748.2 L85.0,1746.0 L90.0,1743.9 L95.0,1741.8 L100.0,1739.8 L105.0,1737.8 L110.0,1735.8 L115.0,1733.8 L120.0,1731.9 L125.0,1730.0 L130.0,1728.2 L135.0,1726.4 L140.0,1724.6 L145.0,1722.8 L150.0,1721.1 L155.0,1719.5 L160.0,1717.8 L165.0,1716.2 L170.0,1714.6 L175.0,1713.1 L180.0,1711.6 L185.0,1710.1 L190.0,1708.7 L195.0,1707.3 L200.0,1706.0 L205.0,1704.7 L210.0,1703.4 L215.0,1702.1 L220.0,1700.9 L225.0,1699.7 L230.0,1698.6 L235.0,1697.5 L240.0,1696.4 L245.0,1695.4 L250.0,1694.4 L255.0,1693.4 L260.0,1692.5 L265.0,1691.6 L270.0,1690.8 L275.0,1690.0 L280.0,1689.2 L285.0,1688.5 L290.0,1687.8 L295.0,1687.1 L300.0,1686.5 L305.0,1685.9 L310.0,1685.4 L315.0,1684.9 L320.0,1684.4 L325.0,1684.0 L330.0,1683.6 L335.0,1683.2 L340.0,1682.9 L345.0,1682.6 L350.0,1682.4 L355.0,1682.2 L360.0,1682.0 L365.0,1681.9 L370.0,1681.8 L375.0,1681.7 L380.0,1681.7 L385.0,1681.8 L390.0,1681.8 L395.0,1681.9 L400.0,1682.1 L405.0,1682.3 L410.0,1682.5 L415.0,1682.7 L420.0,1683.1 L425.0,1683.4 L430.0,1683.8 L435.0,1684.2 L440.0,1684.7 L445.0,1685.2 L450.0,1685.7 L455.0,1686.3 L460.0,1687.0 L465.0,1687.7 L470.0,1688.4 L475.0,1689.1 L480.0,1690.0 L485.0,1690.8 L490.0,1691.7 L495.0,1692.7 L500.0,1693.7 L505.0,1694.7 L510.0,1695.8 L515.0,1696.9 L520.0,1698.1 L525.0,1699.3 L530.0,1700.6 L535.0,1701.9 L540.0,1703.3 L545.0,1704.7 L550.0,1706.2 L555.0,1707.7 L560.0,1709.3 L565.0,1710.9 L570.0,1712.6 L575.0,1714.3 L580.0,1716.1 L585.0,1717.9 L590.0,1719.8 L595.0,1721.7 L600.0,1723.7 L605.0,1725.8 L610.0,1727.9 L615.0,1730.0 L620.0,1732.2 L625.0,1734.5 L630.0,1736.8 L635.0,1739.1 L640.0,1741.6 L645.0,1744.0 L650.0,1746.6 L655.0,1749.2 L660.0,1751.8 L665.0,1754.5 L670.0,1757.3 L675.0,1760.1 L680.0,1763.0 L685.0,1765.9 L690.0,1768.9 L695.0,1772.0 L700.0,1775.1 L705.0,1778.3 L710.0,1781.5 L715.0,1784.8 L720.0,1788.1 L725.0,1791.5 L730.0,1794.8 L735.0,1798.1 L740.0,1801.5 L740.0,1943.7 L-25.0,1943.7 Z" fill="url(#bg7)"/>
<path d="M18.4,1898.0 L23.4,1895.0 L28.4,1892.0 L33.4,1889.0 L38.4,1885.9 L43.4,1882.9 L48.4,1880.0 L53.4,1877.0 L58.4,1874.1 L63.4,1871.3 L68.4,1868.6 L73.4,1865.8 L78.4,1863.1 L83.4,1860.5 L88.4,1857.9 L93.4,1855.4 L98.4,1852.9 L103.4,1850.4 L108.4,1848.0 L113.4,1845.6 L118.4,1843.2 L123.4,1840.9 L128.4,1838.6 L133.4,1836.4 L138.4,1834.2 L143.4,1832.0 L148.4,1829.8 L153.4,1827.7 L158.4,1825.6 L163.4,1823.5 L168.4,1821.5 L173.4,1819.5 L178.4,1817.5 L183.4,1815.5 L188.4,1813.6 L193.4,1811.8 L198.4,1809.9 L203.4,1808.1 L208.4,1806.4 L213.4,1804.6 L218.4,1802.9 L223.4,1801.3 L228.4,1799.7 L233.4,1798.1 L238.4,1796.6 L243.4,1795.1 L248.4,1793.7 L253.4,1792.3 L258.4,1791.0 L263.4,1789.7 L268.4,1788.4 L273.4,1787.2 L278.4,1786.1 L283.4,1785.0 L288.4,1783.9 L293.4,1782.9 L298.4,1782.0 L303.4,1781.1 L308.4,1780.2 L313.4,1779.4 L318.4,1778.7 L323.4,1778.0 L328.4,1777.3 L333.4,1776.8 L338.4,1776.2 L343.4,1775.8 L348.4,1775.4 L353.4,1775.0 L358.4,1774.7 L363.4,1774.5 L368.4,1774.3 L373.4,1774.2 L378.4,1774.1 L383.4,1774.1 L388.4,1774.2 L393.4,1774.3 L398.4,1774.5 L403.4,1774.8 L408.4,1775.1 L413.4,1775.5 L418.4,1775.9 L423.4,1776.4 L428.4,1777.0 L433.4,1777.7 L438.4,1778.4 L443.4,1779.1 L448.4,1779.9 L453.4,1780.8 L458.4,1781.7 L463.4,1782.7 L468.4,1783.8 L473.4,1784.9 L478.4,1786.1 L483.4,1787.3 L488.4,1788.6 L493.4,1789.9 L498.4,1791.3 L503.4,1792.8 L508.4,1794.3 L513.4,1795.8 L518.4,1797.4 L523.4,1799.1 L528.4,1800.8 L533.4,1802.5 L538.4,1804.3 L543.4,1806.2 L548.4,1808.1 L553.4,1810.1 L558.4,1812.1 L563.4,1814.1 L568.4,1816.2 L573.4,1818.3 L578.4,1820.5 L583.4,1822.8 L588.4,1825.0 L593.4,1827.4 L598.4,1829.7 L603.4,1832.1 L608.4,1834.6 L613.4,1837.1 L618.4,1839.6 L623.4,1842.2 L628.4,1844.8 L633.4,1847.4 L638.4,1850.1 L643.4,1852.8 L648.4,1855.6 L653.4,1858.4 L658.4,1861.2 L663.4,1864.1 L668.4,1867.0 L673.4,1870.0 L678.4,1872.9 L683.4,1876.0 L688.4,1879.0 L693.4,1882.1 L698.4,1885.2 L703.4,1888.3 L708.4,1891.4 L713.4,1894.5 L718.4,1897.6 L718.4,1943.7 L18.4,1943.7 Z" fill="#4e4e4e"/>
<path d="M18.4,1898.0 L23.4,1895.0 L28.4,1892.0 L33.4,1889.0 L38.4,1885.9 L43.4,1882.9 L48.4,1880.0 L53.4,1877.0 L58.4,1874.1 L63.4,1871.3 L68.4,1868.6 L73.4,1865.8 L78.4,1863.1 L83.4,1860.5 L88.4,1857.9 L93.4,1855.4 L98.4,1852.9 L103.4,1850.4 L108.4,1848.0 L113.4,1845.6 L118.4,1843.2 L123.4,1840.9 L128.4,1838.6 L133.4,1836.4 L138.4,1834.2 L143.4,1832.0 L148.4,1829.8 L153.4,1827.7 L158.4,1825.6 L163.4,1823.5 L168.4,1821.5 L173.4,1819.5 L178.4,1817.5 L183.4,1815.5 L188.4,1813.6 L193.4,1811.8 L198.4,1809.9 L203.4,1808.1 L208.4,1806.4 L213.4,1804.6 L218.4,1802.9 L223.4,1801.3 L228.4,1799.7 L233.4,1798.1 L238.4,1796.6 L243.4,1795.1 L248.4,1793.7 L253.4,1792.3 L258.4,1791.0 L263.4,1789.7 L268.4,1788.4 L273.4,1787.2 L278.4,1786.1 L283.4,1785.0 L288.4,1783.9 L293.4,1782.9 L298.4,1782.0 L303.4,1781.1 L308.4,1780.2 L313.4,1779.4 L318.4,1778.7 L323.4,1778.0 L328.4,1777.3 L333.4,1776.8 L338.4,1776.2 L343.4,1775.8 L348.4,1775.4 L353.4,1775.0 L358.4,1774.7 L363.4,1774.5 L368.4,1774.3 L373.4,1774.2 L378.4,1774.1 L383.4,1774.1 L388.4,1774.2 L393.4,1774.3 L398.4,1774.5 L403.4,1774.8 L408.4,1775.1 L413.4,1775.5 L418.4,1775.9 L423.4,1776.4 L428.4,1777.0 L433.4,1777.7 L438.4,1778.4 L443.4,1779.1 L448.4,1779.9 L453.4,1780.8 L458.4,1781.7 L463.4,1782.7 L468.4,1783.8 L473.4,1784.9 L478.4,1786.1 L483.4,1787.3 L488.4,1788.6 L493.4,1789.9 L498.4,1791.3 L503.4,1792.8 L508.4,1794.3 L513.4,1795.8 L518.4,1797.4 L523.4,1799.1 L528.4,1800.8 L533.4,1802.5 L538.4,1804.3 L543.4,1806.2 L548.4,1808.1 L553.4,1810.1 L558.4,1812.1 L563.4,1814.1 L568.4,1816.2 L573.4,1818.3 L578.4,1820.5 L583.4,1822.8 L588.4,1825.0 L593.4,1827.4 L598.4,1829.7 L603.4,1832.1 L608.4,1834.6 L613.4,1837.1 L618.4,1839.6 L623.4,1842.2 L628.4,1844.8 L633.4,1847.4 L638.4,1850.1 L643.4,1852.8 L648.4,1855.6 L653.4,1858.4 L658.4,1861.2 L663.4,1864.1 L668.4,1867.0 L673.4,1870.0 L678.4,1872.9 L683.4,1876.0 L688.4,1879.0 L693.4,1882.1 L698.4,1885.2 L703.4,1888.3 L708.4,1891.4 L713.4,1894.5 L718.4,1897.6" fill="none" stroke="#d8d8d8" stroke-width="1.6"/>
<path d="M-25.0,1800.8 L-20.0,1798.1 L-15.0,1795.4 L-10.0,1792.7 L-5.0,1790.0 L0.0,1787.3 L5.0,1784.6 L10.0,1781.9 L15.0,1779.3 L20.0,1776.7 L25.0,1774.1 L30.0,1771.6 L35.0,1769.1 L40.0,1766.7 L45.0,1764.2 L50.0,1761.9 L55.0,1759.5 L60.0,1757.2 L65.0,1754.9 L70.0,1752.6 L75.0,1750.4 L80.0,1748.2 L85.0,1746.0 L90.0,1743.9 L95.0,1741.8 L100.0,1739.8 L105.0,1737.8 L110.0,1735.8 L115.0,1733.8 L120.0,1731.9 L125.0,1730.0 L130.0,1728.2 L135.0,1726.4 L140.0,1724.6 L145.0,1722.8 L150.0,1721.1 L155.0,1719.5 L160.0,1717.8 L165.0,1716.2 L170.0,1714.6 L175.0,1713.1 L180.0,1711.6 L185.0,1710.1 L190.0,1708.7 L195.0,1707.3 L200.0,1706.0 L205.0,1704.7 L210.0,1703.4 L215.0,1702.1 L220.0,1700.9 L225.0,1699.7 L230.0,1698.6 L235.0,1697.5 L240.0,1696.4 L245.0,1695.4 L250.0,1694.4 L255.0,1693.4 L260.0,1692.5 L265.0,1691.6 L270.0,1690.8 L275.0,1690.0 L280.0,1689.2 L285.0,1688.5 L290.0,1687.8 L295.0,1687.1 L300.0,1686.5 L305.0,1685.9 L310.0,1685.4 L315.0,1684.9 L320.0,1684.4 L325.0,1684.0 L330.0,1683.6 L335.0,1683.2 L340.0,1682.9 L345.0,1682.6 L350.0,1682.4 L355.0,1682.2 L360.0,1682.0 L365.0,1681.9 L370.0,1681.8 L375.0,1681.7 L380.0,1681.7 L385.0,1681.8 L390.0,1681.8 L395.0,1681.9 L400.0,1682.1 L405.0,1682.3 L410.0,1682.5 L415.0,1682.7 L420.0,1683.1 L425.0,1683.4 L430.0,1683.8 L435.0,1684.2 L440.0,1684.7 L445.0,1685.2 L450.0,1685.7 L455.0,1686.3 L460.0,1687.0 L465.0,1687.7 L470.0,1688.4 L475.0,1689.1 L480.0,1690.0 L485.0,1690.8 L490.0,1691.7 L495.0,1692.7 L500.0,1693.7 L505.0,1694.7 L510.0,1695.8 L515.0,1696.9 L520.0,1698.1 L525.0,1699.3 L530.0,1700.6 L535.0,1701.9 L540.0,1703.3 L545.0,1704.7 L550.0,1706.2 L555.0,1707.7 L560.0,1709.3 L565.0,1710.9 L570.0,1712.6 L575.0,1714.3 L580.0,1716.1 L585.0,1717.9 L590.0,1719.8 L595.0,1721.7 L600.0,1723.7 L605.0,1725.8 L610.0,1727.9 L615.0,1730.0 L620.0,1732.2 L625.0,1734.5 L630.0,1736.8 L635.0,1739.1 L640.0,1741.6 L645.0,1744.0 L650.0,1746.6 L655.0,1749.2 L660.0,1751.8 L665.0,1754.5 L670.0,1757.3 L675.0,1760.1 L680.0,1763.0 L685.0,1765.9 L690.0,1768.9 L695.0,1772.0 L700.0,1775.1 L705.0,1778.3 L710.0,1781.5 L715.0,1784.8 L720.0,1788.1 L725.0,1791.5 L730.0,1794.8 L735.0,1798.1 L740.0,1801.5" fill="none" stroke="#e0e0e0" stroke-width="1.5" opacity="0.55"/>
<path d="M290.0,1687.8 L295.0,1687.1 L300.0,1686.5 L305.0,1685.9 L310.0,1685.4 L315.0,1684.9 L320.0,1684.4 L325.0,1684.0 L330.0,1683.6 L335.0,1683.2 L340.0,1682.9 L345.0,1682.6 L350.0,1682.4 L355.0,1682.2 L360.0,1682.0 L365.0,1681.9 L370.0,1681.8 L375.0,1681.7 L380.0,1681.7 L385.0,1681.8 L390.0,1681.8 L395.0,1681.9 L400.0,1682.1 L405.0,1682.3 L410.0,1682.5 L415.0,1682.7 L420.0,1683.1" fill="none" stroke="#f4f4f4" stroke-width="2.2" stroke-linecap="round"/>
<g clip-path="url(#ab7)"><rect x="305.5" y="1658.7" width="2.2" height="227.0" fill="#d2d2d2" opacity="0.90"/></g>
<g clip-path="url(#bd7)"><rect x="285.0" y="1658.7" width="1.5" height="227.0" fill="#dcdcdc" opacity="0.30"/></g>
<g clip-path="url(#bd7)"><rect x="305.0" y="1658.7" width="1.5" height="227.0" fill="#dcdcdc" opacity="0.35"/></g>
<g clip-path="url(#bd7)"><rect x="328.0" y="1658.7" width="1.5" height="227.0" fill="#dcdcdc" opacity="0.30"/></g>
</g></g>
<text x="7.8" y="1706.0" font-weight="bold" font-size="50" fill="#fff">C</text>
<text x="41.6" y="1706.0" font-weight="bold" font-size="50" fill="#fff">2</text>
<text x="68.3" y="1706.0" font-weight="bold" font-size="50" fill="#fff">‘</text>
<text x="80.4" y="1706.0" font-weight="bold" font-size="50" fill="#fff">‘</text>
<polygon points="109.0,1695.5 131.8,1689.3 131.8,1721.9" fill="#fff" stroke="#000" stroke-width="1" stroke-opacity="0.6"/>
<polygon points="599.0,1689.3 623.0,1699.4 599.0,1722.8" fill="#fff" stroke="#000" stroke-width="1" stroke-opacity="0.6"/>
<g clip-path="url(#pc8)"><g filter="url(#spk)">
<rect x="-3.5" y="1900.80" width="723.5" height="232.70" fill="#1c1c1c"/>
<path d="M-25.0,2047.1 L-20.0,2044.3 L-15.0,2041.5 L-10.0,2038.7 L-5.0,2035.9 L0.0,2033.0 L5.0,2030.3 L10.0,2027.5 L15.0,2024.8 L20.0,2022.1 L25.0,2019.4 L30.0,2016.8 L35.0,2014.2 L40.0,2011.7 L45.0,2009.2 L50.0,2006.7 L55.0,2004.2 L60.0,2001.8 L65.0,1999.4 L70.0,1997.1 L75.0,1994.8 L80.0,1992.5 L85.0,1990.3 L90.0,1988.1 L95.0,1985.9 L100.0,1983.8 L105.0,1981.7 L110.0,1979.6 L115.0,1977.6 L120.0,1975.7 L125.0,1973.7 L130.0,1971.8 L135.0,1969.9 L140.0,1968.1 L145.0,1966.3 L150.0,1964.5 L155.0,1962.8 L160.0,1961.1 L165.0,1959.5 L170.0,1957.9 L175.0,1956.3 L180.0,1954.8 L185.0,1953.3 L190.0,1951.9 L195.0,1950.4 L200.0,1949.1 L205.0,1947.7 L210.0,1946.4 L215.0,1945.2 L220.0,1944.0 L225.0,1942.8 L230.0,1941.6 L235.0,1940.6 L240.0,1939.5 L245.0,1938.5 L250.0,1937.5 L255.0,1936.6 L260.0,1935.7 L265.0,1934.8 L270.0,1934.0 L275.0,1933.2 L280.0,1932.5 L285.0,1931.8 L290.0,1931.1 L295.0,1930.5 L300.0,1929.9 L305.0,1929.4 L310.0,1928.9 L315.0,1928.5 L320.0,1928.1 L325.0,1927.7 L330.0,1927.4 L335.0,1927.1 L340.0,1926.9 L345.0,1926.7 L350.0,1926.6 L355.0,1926.5 L360.0,1926.4 L365.0,1926.4 L370.0,1926.4 L375.0,1926.5 L380.0,1926.6 L385.0,1926.7 L390.0,1926.9 L395.0,1927.2 L400.0,1927.5 L405.0,1927.8 L410.0,1928.2 L415.0,1928.6 L420.0,1929.1 L425.0,1929.6 L430.0,1930.1 L435.0,1930.7 L440.0,1931.4 L445.0,1932.1 L450.0,1932.8 L455.0,1933.6 L460.0,1934.4 L465.0,1935.3 L470.0,1936.2 L475.0,1937.1 L480.0,1938.1 L485.0,1939.2 L490.0,1940.2 L495.0,1941.4 L500.0,1942.5 L505.0,1943.7 L510.0,1945.0 L515.0,1946.3 L520.0,1947.7 L525.0,1949.0 L530.0,1950.5 L535.0,1951.9 L540.0,1953.5 L545.0,1955.0 L550.0,1956.6 L555.0,1958.3 L560.0,1960.0 L565.0,1961.7 L570.0,1963.5 L575.0,1965.3 L580.0,1967.2 L585.0,1969.1 L590.0,1971.0 L595.0,1973.0 L600.0,1975.1 L605.0,1977.1 L610.0,1979.3 L615.0,1981.4 L620.0,1983.6 L625.0,1985.9 L630.0,1988.2 L635.0,1990.5 L640.0,1992.9 L645.0,1995.3 L650.0,1997.8 L655.0,2000.3 L660.0,2002.8 L665.0,2005.4 L670.0,2008.1 L675.0,2010.8 L680.0,2013.5 L685.0,2016.2 L690.0,2019.0 L695.0,2021.9 L700.0,2024.8 L705.0,2027.7 L710.0,2030.7 L715.0,2033.7 L720.0,2036.7 L725.0,2039.8 L730.0,2042.8 L735.0,2045.8 L740.0,2048.9 L740.0,2188.5 L-25.0,2188.5 Z" fill="url(#bg8)"/>
<path d="M-5.7,2143.5 L-0.7,2140.6 L4.3,2137.8 L9.3,2134.9 L14.3,2132.0 L19.3,2129.2 L24.3,2126.3 L29.3,2123.5 L34.3,2120.7 L39.3,2118.0 L44.3,2115.3 L49.3,2112.7 L54.3,2110.1 L59.3,2107.5 L64.3,2105.0 L69.3,2102.5 L74.3,2100.1 L79.3,2097.7 L84.3,2095.4 L89.3,2093.0 L94.3,2090.8 L99.3,2088.5 L104.3,2086.4 L109.3,2084.2 L114.3,2082.1 L119.3,2080.1 L124.3,2078.0 L129.3,2076.1 L134.3,2074.1 L139.3,2072.2 L144.3,2070.4 L149.3,2068.6 L154.3,2066.8 L159.3,2065.1 L164.3,2063.4 L169.3,2061.7 L174.3,2060.1 L179.3,2058.6 L184.3,2057.1 L189.3,2055.6 L194.3,2054.1 L199.3,2052.7 L204.3,2051.4 L209.3,2050.1 L214.3,2048.8 L219.3,2047.6 L224.3,2046.4 L229.3,2045.3 L234.3,2044.2 L239.3,2043.1 L244.3,2042.1 L249.3,2041.2 L254.3,2040.2 L259.3,2039.3 L264.3,2038.5 L269.3,2037.7 L274.3,2037.0 L279.3,2036.2 L284.3,2035.6 L289.3,2034.9 L294.3,2034.4 L299.3,2033.8 L304.3,2033.3 L309.3,2032.9 L314.3,2032.4 L319.3,2032.1 L324.3,2031.7 L329.3,2031.5 L334.3,2031.2 L339.3,2031.0 L344.3,2030.9 L349.3,2030.7 L354.3,2030.7 L359.3,2030.7 L364.3,2030.7 L369.3,2030.7 L374.3,2030.8 L379.3,2031.0 L384.3,2031.2 L389.3,2031.4 L394.3,2031.7 L399.3,2032.0 L404.3,2032.4 L409.3,2032.8 L414.3,2033.2 L419.3,2033.7 L424.3,2034.2 L429.3,2034.8 L434.3,2035.4 L439.3,2036.1 L444.3,2036.8 L449.3,2037.6 L454.3,2038.4 L459.3,2039.2 L464.3,2040.1 L469.3,2041.0 L474.3,2042.0 L479.3,2043.0 L484.3,2044.1 L489.3,2045.2 L494.3,2046.3 L499.3,2047.5 L504.3,2048.8 L509.3,2050.1 L514.3,2051.4 L519.3,2052.8 L524.3,2054.2 L529.3,2055.6 L534.3,2057.1 L539.3,2058.7 L544.3,2060.3 L549.3,2061.9 L554.3,2063.6 L559.3,2065.3 L564.3,2067.1 L569.3,2068.9 L574.3,2070.8 L579.3,2072.7 L584.3,2074.6 L589.3,2076.6 L594.3,2078.6 L599.3,2080.7 L604.3,2082.8 L609.3,2085.0 L614.3,2087.2 L619.3,2089.5 L624.3,2091.8 L629.3,2094.1 L634.3,2096.5 L639.3,2099.0 L644.3,2101.5 L649.3,2104.0 L654.3,2106.6 L659.3,2109.2 L664.3,2111.9 L669.3,2114.6 L674.3,2117.3 L679.3,2120.1 L684.3,2123.0 L689.3,2125.9 L694.3,2128.8 L699.3,2131.7 L704.3,2134.7 L709.3,2137.6 L714.3,2140.6 L714.3,2188.5 L-5.7,2188.5 Z" fill="#1c1c1c"/>
<path d="M-5.7,2143.5 L-0.7,2140.6 L4.3,2137.8 L9.3,2134.9 L14.3,2132.0 L19.3,2129.2 L24.3,2126.3 L29.3,2123.5 L34.3,2120.7 L39.3,2118.0 L44.3,2115.3 L49.3,2112.7 L54.3,2110.1 L59.3,2107.5 L64.3,2105.0 L69.3,2102.5 L74.3,2100.1 L79.3,2097.7 L84.3,2095.4 L89.3,2093.0 L94.3,2090.8 L99.3,2088.5 L104.3,2086.4 L109.3,2084.2 L114.3,2082.1 L119.3,2080.1 L124.3,2078.0 L129.3,2076.1 L134.3,2074.1 L139.3,2072.2 L144.3,2070.4 L149.3,2068.6 L154.3,2066.8 L159.3,2065.1 L164.3,2063.4 L169.3,2061.7 L174.3,2060.1 L179.3,2058.6 L184.3,2057.1 L189.3,2055.6 L194.3,2054.1 L199.3,2052.7 L204.3,2051.4 L209.3,2050.1 L214.3,2048.8 L219.3,2047.6 L224.3,2046.4 L229.3,2045.3 L234.3,2044.2 L239.3,2043.1 L244.3,2042.1 L249.3,2041.2 L254.3,2040.2 L259.3,2039.3 L264.3,2038.5 L269.3,2037.7 L274.3,2037.0 L279.3,2036.2 L284.3,2035.6 L289.3,2034.9 L294.3,2034.4 L299.3,2033.8 L304.3,2033.3 L309.3,2032.9 L314.3,2032.4 L319.3,2032.1 L324.3,2031.7 L329.3,2031.5 L334.3,2031.2 L339.3,2031.0 L344.3,2030.9 L349.3,2030.7 L354.3,2030.7 L359.3,2030.7 L364.3,2030.7 L369.3,2030.7 L374.3,2030.8 L379.3,2031.0 L384.3,2031.2 L389.3,2031.4 L394.3,2031.7 L399.3,2032.0 L404.3,2032.4 L409.3,2032.8 L414.3,2033.2 L419.3,2033.7 L424.3,2034.2 L429.3,2034.8 L434.3,2035.4 L439.3,2036.1 L444.3,2036.8 L449.3,2037.6 L454.3,2038.4 L459.3,2039.2 L464.3,2040.1 L469.3,2041.0 L474.3,2042.0 L479.3,2043.0 L484.3,2044.1 L489.3,2045.2 L494.3,2046.3 L499.3,2047.5 L504.3,2048.8 L509.3,2050.1 L514.3,2051.4 L519.3,2052.8 L524.3,2054.2 L529.3,2055.6 L534.3,2057.1 L539.3,2058.7 L544.3,2060.3 L549.3,2061.9 L554.3,2063.6 L559.3,2065.3 L564.3,2067.1 L569.3,2068.9 L574.3,2070.8 L579.3,2072.7 L584.3,2074.6 L589.3,2076.6 L594.3,2078.6 L599.3,2080.7 L604.3,2082.8 L609.3,2085.0 L614.3,2087.2 L619.3,2089.5 L624.3,2091.8 L629.3,2094.1 L634.3,2096.5 L639.3,2099.0 L644.3,2101.5 L649.3,2104.0 L654.3,2106.6 L659.3,2109.2 L664.3,2111.9 L669.3,2114.6 L674.3,2117.3 L679.3,2120.1 L684.3,2123.0 L689.3,2125.9 L694.3,2128.8 L699.3,2131.7 L704.3,2134.7 L709.3,2137.6 L714.3,2140.6" fill="none" stroke="#c8c8c8" stroke-width="1.2" opacity="0.8"/>
<path d="M-25.0,2047.1 L-20.0,2044.3 L-15.0,2041.5 L-10.0,2038.7 L-5.0,2035.9 L0.0,2033.0 L5.0,2030.3 L10.0,2027.5 L15.0,2024.8 L20.0,2022.1 L25.0,2019.4 L30.0,2016.8 L35.0,2014.2 L40.0,2011.7 L45.0,2009.2 L50.0,2006.7 L55.0,2004.2 L60.0,2001.8 L65.0,1999.4 L70.0,1997.1 L75.0,1994.8 L80.0,1992.5 L85.0,1990.3 L90.0,1988.1 L95.0,1985.9 L100.0,1983.8 L105.0,1981.7 L110.0,1979.6 L115.0,1977.6 L120.0,1975.7 L125.0,1973.7 L130.0,1971.8 L135.0,1969.9 L140.0,1968.1 L145.0,1966.3 L150.0,1964.5 L155.0,1962.8 L160.0,1961.1 L165.0,1959.5 L170.0,1957.9 L175.0,1956.3 L180.0,1954.8 L185.0,1953.3 L190.0,1951.9 L195.0,1950.4 L200.0,1949.1 L205.0,1947.7 L210.0,1946.4 L215.0,1945.2 L220.0,1944.0 L225.0,1942.8 L230.0,1941.6 L235.0,1940.6 L240.0,1939.5 L245.0,1938.5 L250.0,1937.5 L255.0,1936.6 L260.0,1935.7 L265.0,1934.8 L270.0,1934.0 L275.0,1933.2 L280.0,1932.5 L285.0,1931.8 L290.0,1931.1 L295.0,1930.5 L300.0,1929.9 L305.0,1929.4 L310.0,1928.9 L315.0,1928.5 L320.0,1928.1 L325.0,1927.7 L330.0,1927.4 L335.0,1927.1 L340.0,1926.9 L345.0,1926.7 L350.0,1926.6 L355.0,1926.5 L360.0,1926.4 L365.0,1926.4 L370.0,1926.4 L375.0,1926.5 L380.0,1926.6 L385.0,1926.7 L390.0,1926.9 L395.0,1927.2 L400.0,1927.5 L405.0,1927.8 L410.0,1928.2 L415.0,1928.6 L420.0,1929.1 L425.0,1929.6 L430.0,1930.1 L435.0,1930.7 L440.0,1931.4 L445.0,1932.1 L450.0,1932.8 L455.0,1933.6 L460.0,1934.4 L465.0,1935.3 L470.0,1936.2 L475.0,1937.1 L480.0,1938.1 L485.0,1939.2 L490.0,1940.2 L495.0,1941.4 L500.0,1942.5 L505.0,1943.7 L510.0,1945.0 L515.0,1946.3 L520.0,1947.7 L525.0,1949.0 L530.0,1950.5 L535.0,1951.9 L540.0,1953.5 L545.0,1955.0 L550.0,1956.6 L555.0,1958.3 L560.0,1960.0 L565.0,1961.7 L570.0,1963.5 L575.0,1965.3 L580.0,1967.2 L585.0,1969.1 L590.0,1971.0 L595.0,1973.0 L600.0,1975.1 L605.0,1977.1 L610.0,1979.3 L615.0,1981.4 L620.0,1983.6 L625.0,1985.9 L630.0,1988.2 L635.0,1990.5 L640.0,1992.9 L645.0,1995.3 L650.0,1997.8 L655.0,2000.3 L660.0,2002.8 L665.0,2005.4 L670.0,2008.1 L675.0,2010.8 L680.0,2013.5 L685.0,2016.2 L690.0,2019.0 L695.0,2021.9 L700.0,2024.8 L705.0,2027.7 L710.0,2030.7 L715.0,2033.7 L720.0,2036.7 L725.0,2039.8 L730.0,2042.8 L735.0,2045.8 L740.0,2048.9" fill="none" stroke="#e0e0e0" stroke-width="1.5" opacity="0.55"/>
<path d="M300.0,1929.9 L305.0,1929.4 L310.0,1928.9 L315.0,1928.5 L320.0,1928.1 L325.0,1927.7 L330.0,1927.4 L335.0,1927.1 L340.0,1926.9 L345.0,1926.7 L350.0,1926.6 L355.0,1926.5 L360.0,1926.4 L365.0,1926.4 L370.0,1926.4 L375.0,1926.5 L380.0,1926.6 L385.0,1926.7 L390.0,1926.9 L395.0,1927.2 L400.0,1927.5 L405.0,1927.8 L410.0,1928.2 L415.0,1928.6 L420.0,1929.1" fill="none" stroke="#f4f4f4" stroke-width="2.4" stroke-linecap="round"/>
<g clip-path="url(#ab8)"><rect x="322.0" y="1903.8" width="2.0" height="226.7" fill="#505050" opacity="0.60"/></g>
<g clip-path="url(#ab8)"><rect x="340.0" y="1903.8" width="3.0" height="226.7" fill="#5a5a5a" opacity="0.60"/></g>
<g clip-path="url(#ab8)"><rect x="358.0" y="1903.8" width="3.0" height="226.7" fill="#6e6e6e" opacity="0.60"/></g>
<g clip-path="url(#ab8)"><rect x="372.0" y="1903.8" width="2.0" height="226.7" fill="#5a5a5a" opacity="0.60"/></g>
</g></g>
<text x="6.8" y="1951.1" font-weight="bold" font-size="50" fill="#fff">D</text>
<text x="41.7" y="1951.1" font-weight="bold" font-size="50" fill="#fff">‘</text>
<g clip-path="url(#pc9)"><g filter="url(#spk)">
<rect x="-3.5" y="2132.00" width="723.5" height="233.00" fill="#1c1c1c"/>
<path d="M-25.0,2269.8 L-20.0,2267.1 L-15.0,2264.5 L-10.0,2261.9 L-5.0,2259.3 L0.0,2256.6 L5.0,2254.0 L10.0,2251.4 L15.0,2248.9 L20.0,2246.3 L25.0,2243.8 L30.0,2241.3 L35.0,2238.8 L40.0,2236.3 L45.0,2233.9 L50.0,2231.5 L55.0,2229.1 L60.0,2226.8 L65.0,2224.5 L70.0,2222.2 L75.0,2219.9 L80.0,2217.7 L85.0,2215.5 L90.0,2213.3 L95.0,2211.2 L100.0,2209.1 L105.0,2207.0 L110.0,2205.0 L115.0,2203.0 L120.0,2201.0 L125.0,2199.1 L130.0,2197.2 L135.0,2195.4 L140.0,2193.6 L145.0,2191.8 L150.0,2190.1 L155.0,2188.4 L160.0,2186.7 L165.0,2185.1 L170.0,2183.6 L175.0,2182.0 L180.0,2180.6 L185.0,2179.1 L190.0,2177.8 L195.0,2176.4 L200.0,2175.1 L205.0,2173.9 L210.0,2172.7 L215.0,2171.6 L220.0,2170.5 L225.0,2169.4 L230.0,2168.4 L235.0,2167.4 L240.0,2166.5 L245.0,2165.6 L250.0,2164.8 L255.0,2164.0 L260.0,2163.3 L265.0,2162.6 L270.0,2161.9 L275.0,2161.3 L280.0,2160.8 L285.0,2160.2 L290.0,2159.7 L295.0,2159.3 L300.0,2158.9 L305.0,2158.5 L310.0,2158.2 L315.0,2157.9 L320.0,2157.7 L325.0,2157.4 L330.0,2157.3 L335.0,2157.1 L340.0,2157.0 L345.0,2157.0 L350.0,2156.9 L355.0,2156.9 L360.0,2157.0 L365.0,2157.1 L370.0,2157.2 L375.0,2157.3 L380.0,2157.5 L385.0,2157.7 L390.0,2157.9 L395.0,2158.2 L400.0,2158.5 L405.0,2158.9 L410.0,2159.2 L415.0,2159.6 L420.0,2160.1 L425.0,2160.5 L430.0,2161.0 L435.0,2161.6 L440.0,2162.1 L445.0,2162.7 L450.0,2163.4 L455.0,2164.0 L460.0,2164.7 L465.0,2165.4 L470.0,2166.2 L475.0,2167.0 L480.0,2167.8 L485.0,2168.7 L490.0,2169.6 L495.0,2170.6 L500.0,2171.5 L505.0,2172.6 L510.0,2173.6 L515.0,2174.7 L520.0,2175.8 L525.0,2177.0 L530.0,2178.2 L535.0,2179.4 L540.0,2180.7 L545.0,2182.0 L550.0,2183.4 L555.0,2184.8 L560.0,2186.2 L565.0,2187.7 L570.0,2189.2 L575.0,2190.7 L580.0,2192.3 L585.0,2194.0 L590.0,2195.7 L595.0,2197.4 L600.0,2199.1 L605.0,2200.9 L610.0,2202.8 L615.0,2204.7 L620.0,2206.6 L625.0,2208.6 L630.0,2210.6 L635.0,2212.7 L640.0,2214.8 L645.0,2217.0 L650.0,2219.2 L655.0,2221.4 L660.0,2223.7 L665.0,2226.1 L670.0,2228.5 L675.0,2231.0 L680.0,2233.5 L685.0,2236.1 L690.0,2238.7 L695.0,2241.4 L700.0,2244.1 L705.0,2246.9 L710.0,2249.8 L715.0,2252.7 L720.0,2255.6 L725.0,2258.5 L730.0,2261.5 L735.0,2264.4 L740.0,2267.3 L740.0,2420.0 L-25.0,2420.0 Z" fill="url(#bg9)"/>
<path d="M-15.3,2375.7 L-10.3,2372.8 L-5.3,2369.8 L-0.3,2366.9 L4.7,2364.0 L9.7,2361.1 L14.7,2358.2 L19.7,2355.3 L24.7,2352.4 L29.7,2349.6 L34.7,2346.8 L39.7,2344.1 L44.7,2341.4 L49.7,2338.7 L54.7,2336.1 L59.7,2333.5 L64.7,2330.9 L69.7,2328.4 L74.7,2325.9 L79.7,2323.4 L84.7,2321.0 L89.7,2318.6 L94.7,2316.3 L99.7,2314.0 L104.7,2311.7 L109.7,2309.4 L114.7,2307.2 L119.7,2305.1 L124.7,2303.0 L129.7,2300.9 L134.7,2298.8 L139.7,2296.8 L144.7,2294.8 L149.7,2292.9 L154.7,2291.0 L159.7,2289.1 L164.7,2287.3 L169.7,2285.5 L174.7,2283.8 L179.7,2282.1 L184.7,2280.4 L189.7,2278.8 L194.7,2277.2 L199.7,2275.7 L204.7,2274.2 L209.7,2272.7 L214.7,2271.3 L219.7,2269.9 L224.7,2268.6 L229.7,2267.3 L234.7,2266.1 L239.7,2264.9 L244.7,2263.7 L249.7,2262.6 L254.7,2261.5 L259.7,2260.5 L264.7,2259.5 L269.7,2258.5 L274.7,2257.6 L279.7,2256.7 L284.7,2255.9 L289.7,2255.1 L294.7,2254.4 L299.7,2253.7 L304.7,2253.1 L309.7,2252.5 L314.7,2251.9 L319.7,2251.4 L324.7,2251.0 L329.7,2250.5 L334.7,2250.2 L339.7,2249.8 L344.7,2249.6 L349.7,2249.3 L354.7,2249.1 L359.7,2249.0 L364.7,2248.9 L369.7,2248.9 L374.7,2248.9 L379.7,2248.9 L384.7,2249.0 L389.7,2249.2 L394.7,2249.4 L399.7,2249.6 L404.7,2249.9 L409.7,2250.2 L414.7,2250.6 L419.7,2251.0 L424.7,2251.5 L429.7,2252.1 L434.7,2252.7 L439.7,2253.3 L444.7,2254.0 L449.7,2254.7 L454.7,2255.5 L459.7,2256.3 L464.7,2257.2 L469.7,2258.1 L474.7,2259.1 L479.7,2260.2 L484.7,2261.3 L489.7,2262.4 L494.7,2263.6 L499.7,2264.9 L504.7,2266.2 L509.7,2267.5 L514.7,2268.9 L519.7,2270.4 L524.7,2271.9 L529.7,2273.4 L534.7,2275.1 L539.7,2276.7 L544.7,2278.5 L549.7,2280.2 L554.7,2282.1 L559.7,2284.0 L564.7,2285.9 L569.7,2287.9 L574.7,2289.9 L579.7,2292.1 L584.7,2294.2 L589.7,2296.4 L594.7,2298.7 L599.7,2301.0 L604.7,2303.4 L609.7,2305.9 L614.7,2308.4 L619.7,2310.9 L624.7,2313.5 L629.7,2316.2 L634.7,2318.9 L639.7,2321.7 L644.7,2324.6 L649.7,2327.5 L654.7,2330.4 L659.7,2333.4 L664.7,2336.5 L669.7,2339.7 L674.7,2342.8 L679.7,2346.1 L684.7,2349.4 L689.7,2352.8 L694.7,2356.2 L699.7,2359.7 L704.7,2363.2 L709.7,2366.7 L714.7,2370.2 L719.7,2373.7 L719.7,2420.0 L-15.3,2420.0 Z" fill="#1c1c1c"/>
<path d="M-15.3,2375.7 L-10.3,2372.8 L-5.3,2369.8 L-0.3,2366.9 L4.7,2364.0 L9.7,2361.1 L14.7,2358.2 L19.7,2355.3 L24.7,2352.4 L29.7,2349.6 L34.7,2346.8 L39.7,2344.1 L44.7,2341.4 L49.7,2338.7 L54.7,2336.1 L59.7,2333.5 L64.7,2330.9 L69.7,2328.4 L74.7,2325.9 L79.7,2323.4 L84.7,2321.0 L89.7,2318.6 L94.7,2316.3 L99.7,2314.0 L104.7,2311.7 L109.7,2309.4 L114.7,2307.2 L119.7,2305.1 L124.7,2303.0 L129.7,2300.9 L134.7,2298.8 L139.7,2296.8 L144.7,2294.8 L149.7,2292.9 L154.7,2291.0 L159.7,2289.1 L164.7,2287.3 L169.7,2285.5 L174.7,2283.8 L179.7,2282.1 L184.7,2280.4 L189.7,2278.8 L194.7,2277.2 L199.7,2275.7 L204.7,2274.2 L209.7,2272.7 L214.7,2271.3 L219.7,2269.9 L224.7,2268.6 L229.7,2267.3 L234.7,2266.1 L239.7,2264.9 L244.7,2263.7 L249.7,2262.6 L254.7,2261.5 L259.7,2260.5 L264.7,2259.5 L269.7,2258.5 L274.7,2257.6 L279.7,2256.7 L284.7,2255.9 L289.7,2255.1 L294.7,2254.4 L299.7,2253.7 L304.7,2253.1 L309.7,2252.5 L314.7,2251.9 L319.7,2251.4 L324.7,2251.0 L329.7,2250.5 L334.7,2250.2 L339.7,2249.8 L344.7,2249.6 L349.7,2249.3 L354.7,2249.1 L359.7,2249.0 L364.7,2248.9 L369.7,2248.9 L374.7,2248.9 L379.7,2248.9 L384.7,2249.0 L389.7,2249.2 L394.7,2249.4 L399.7,2249.6 L404.7,2249.9 L409.7,2250.2 L414.7,2250.6 L419.7,2251.0 L424.7,2251.5 L429.7,2252.1 L434.7,2252.7 L439.7,2253.3 L444.7,2254.0 L449.7,2254.7 L454.7,2255.5 L459.7,2256.3 L464.7,2257.2 L469.7,2258.1 L474.7,2259.1 L479.7,2260.2 L484.7,2261.3 L489.7,2262.4 L494.7,2263.6 L499.7,2264.9 L504.7,2266.2 L509.7,2267.5 L514.7,2268.9 L519.7,2270.4 L524.7,2271.9 L529.7,2273.4 L534.7,2275.1 L539.7,2276.7 L544.7,2278.5 L549.7,2280.2 L554.7,2282.1 L559.7,2284.0 L564.7,2285.9 L569.7,2287.9 L574.7,2289.9 L579.7,2292.1 L584.7,2294.2 L589.7,2296.4 L594.7,2298.7 L599.7,2301.0 L604.7,2303.4 L609.7,2305.9 L614.7,2308.4 L619.7,2310.9 L624.7,2313.5 L629.7,2316.2 L634.7,2318.9 L639.7,2321.7 L644.7,2324.6 L649.7,2327.5 L654.7,2330.4 L659.7,2333.4 L664.7,2336.5 L669.7,2339.7 L674.7,2342.8 L679.7,2346.1 L684.7,2349.4 L689.7,2352.8 L694.7,2356.2 L699.7,2359.7 L704.7,2363.2 L709.7,2366.7 L714.7,2370.2 L719.7,2373.7" fill="none" stroke="#c8c8c8" stroke-width="1.2" opacity="0.8"/>
<path d="M-25.0,2269.8 L-20.0,2267.1 L-15.0,2264.5 L-10.0,2261.9 L-5.0,2259.3 L0.0,2256.6 L5.0,2254.0 L10.0,2251.4 L15.0,2248.9 L20.0,2246.3 L25.0,2243.8 L30.0,2241.3 L35.0,2238.8 L40.0,2236.3 L45.0,2233.9 L50.0,2231.5 L55.0,2229.1 L60.0,2226.8 L65.0,2224.5 L70.0,2222.2 L75.0,2219.9 L80.0,2217.7 L85.0,2215.5 L90.0,2213.3 L95.0,2211.2 L100.0,2209.1 L105.0,2207.0 L110.0,2205.0 L115.0,2203.0 L120.0,2201.0 L125.0,2199.1 L130.0,2197.2 L135.0,2195.4 L140.0,2193.6 L145.0,2191.8 L150.0,2190.1 L155.0,2188.4 L160.0,2186.7 L165.0,2185.1 L170.0,2183.6 L175.0,2182.0 L180.0,2180.6 L185.0,2179.1 L190.0,2177.8 L195.0,2176.4 L200.0,2175.1 L205.0,2173.9 L210.0,2172.7 L215.0,2171.6 L220.0,2170.5 L225.0,2169.4 L230.0,2168.4 L235.0,2167.4 L240.0,2166.5 L245.0,2165.6 L250.0,2164.8 L255.0,2164.0 L260.0,2163.3 L265.0,2162.6 L270.0,2161.9 L275.0,2161.3 L280.0,2160.8 L285.0,2160.2 L290.0,2159.7 L295.0,2159.3 L300.0,2158.9 L305.0,2158.5 L310.0,2158.2 L315.0,2157.9 L320.0,2157.7 L325.0,2157.4 L330.0,2157.3 L335.0,2157.1 L340.0,2157.0 L345.0,2157.0 L350.0,2156.9 L355.0,2156.9 L360.0,2157.0 L365.0,2157.1 L370.0,2157.2 L375.0,2157.3 L380.0,2157.5 L385.0,2157.7 L390.0,2157.9 L395.0,2158.2 L400.0,2158.5 L405.0,2158.9 L410.0,2159.2 L415.0,2159.6 L420.0,2160.1 L425.0,2160.5 L430.0,2161.0 L435.0,2161.6 L440.0,2162.1 L445.0,2162.7 L450.0,2163.4 L455.0,2164.0 L460.0,2164.7 L465.0,2165.4 L470.0,2166.2 L475.0,2167.0 L480.0,2167.8 L485.0,2168.7 L490.0,2169.6 L495.0,2170.6 L500.0,2171.5 L505.0,2172.6 L510.0,2173.6 L515.0,2174.7 L520.0,2175.8 L525.0,2177.0 L530.0,2178.2 L535.0,2179.4 L540.0,2180.7 L545.0,2182.0 L550.0,2183.4 L555.0,2184.8 L560.0,2186.2 L565.0,2187.7 L570.0,2189.2 L575.0,2190.7 L580.0,2192.3 L585.0,2194.0 L590.0,2195.7 L595.0,2197.4 L600.0,2199.1 L605.0,2200.9 L610.0,2202.8 L615.0,2204.7 L620.0,2206.6 L625.0,2208.6 L630.0,2210.6 L635.0,2212.7 L640.0,2214.8 L645.0,2217.0 L650.0,2219.2 L655.0,2221.4 L660.0,2223.7 L665.0,2226.1 L670.0,2228.5 L675.0,2231.0 L680.0,2233.5 L685.0,2236.1 L690.0,2238.7 L695.0,2241.4 L700.0,2244.1 L705.0,2246.9 L710.0,2249.8 L715.0,2252.7 L720.0,2255.6 L725.0,2258.5 L730.0,2261.5 L735.0,2264.4 L740.0,2267.3" fill="none" stroke="#e0e0e0" stroke-width="1.5" opacity="0.55"/>
<path d="M320.0,2157.7 L325.0,2157.4 L330.0,2157.3 L335.0,2157.1 L340.0,2157.0 L345.0,2157.0 L350.0,2156.9 L355.0,2156.9 L360.0,2157.0 L365.0,2157.1 L370.0,2157.2 L375.0,2157.3 L380.0,2157.5 L385.0,2157.7 L390.0,2157.9 L395.0,2158.2 L400.0,2158.5" fill="none" stroke="#f4f4f4" stroke-width="2.4" stroke-linecap="round"/>
<g clip-path="url(#ab9)"><rect x="340.0" y="2135.0" width="2.0" height="227.0" fill="#505050" opacity="0.60"/></g>
<g clip-path="url(#ab9)"><rect x="360.0" y="2135.0" width="3.0" height="227.0" fill="#5a5a5a" opacity="0.60"/></g>
<g clip-path="url(#ab9)"><rect x="372.0" y="2135.0" width="2.0" height="227.0" fill="#505050" opacity="0.60"/></g>
</g></g>
<text x="6.8" y="2182.3" font-weight="bold" font-size="50" fill="#fff">D</text>
<text x="41.7" y="2182.3" font-weight="bold" font-size="50" fill="#fff">‘</text>
<text x="53.8" y="2182.3" font-weight="bold" font-size="50" fill="#fff">‘</text>
<polygon points="111.2,2163.3 134.2,2156.1 134.2,2190.6" fill="#fff" stroke="#000" stroke-width="1" stroke-opacity="0.6"/>
<polygon points="652.6,2184.8 675.6,2195.8 652.6,2218.3" fill="#fff" stroke="#000" stroke-width="1" stroke-opacity="0.6"/>
<line x1="823.0" y1="47.47" x2="1467.0" y2="47.47" stroke="#c4c4c4" stroke-width="1" stroke-dasharray="2.4 2.3"/>
<line x1="823.0" y1="121.81" x2="1467.0" y2="121.81" stroke="#c4c4c4" stroke-width="1" stroke-dasharray="2.4 2.3"/>
<line x1="823.0" y1="196.15" x2="1467.0" y2="196.15" stroke="#c4c4c4" stroke-width="1" stroke-dasharray="2.4 2.3"/>
<line x1="823.0" y1="270.49" x2="1467.0" y2="270.49" stroke="#c4c4c4" stroke-width="1" stroke-dasharray="2.4 2.3"/>
<line x1="823.0" y1="344.83" x2="1467.0" y2="344.83" stroke="#c4c4c4" stroke-width="1" stroke-dasharray="2.4 2.3"/>
<line x1="908.00" y1="10.30" x2="908.00" y2="382.00" stroke="#c4c4c4" stroke-width="1" stroke-dasharray="2.4 2.3"/>
<line x1="994.00" y1="10.30" x2="994.00" y2="382.00" stroke="#c4c4c4" stroke-width="1" stroke-dasharray="2.4 2.3"/>
<line x1="1080.00" y1="10.30" x2="1080.00" y2="382.00" stroke="#c4c4c4" stroke-width="1" stroke-dasharray="2.4 2.3"/>
<line x1="1166.00" y1="10.30" x2="1166.00" y2="382.00" stroke="#c4c4c4" stroke-width="1" stroke-dasharray="2.4 2.3"/>
<line x1="1252.00" y1="10.30" x2="1252.00" y2="382.00" stroke="#c4c4c4" stroke-width="1" stroke-dasharray="2.4 2.3"/>
<line x1="1338.00" y1="10.30" x2="1338.00" y2="382.00" stroke="#c4c4c4" stroke-width="1" stroke-dasharray="2.4 2.3"/>
<line x1="1424.00" y1="10.30" x2="1424.00" y2="382.00" stroke="#c4c4c4" stroke-width="1" stroke-dasharray="2.4 2.3"/>
<line x1="823.0" y1="84.64" x2="1467.0" y2="84.64" stroke="#a8a8a8" stroke-width="1.1"/>
<line x1="823.0" y1="158.98" x2="1467.0" y2="158.98" stroke="#a8a8a8" stroke-width="1.1"/>
<line x1="823.0" y1="233.32" x2="1467.0" y2="233.32" stroke="#a8a8a8" stroke-width="1.1"/>
<line x1="823.0" y1="307.66" x2="1467.0" y2="307.66" stroke="#a8a8a8" stroke-width="1.1"/>
<line x1="865.00" y1="10.30" x2="865.00" y2="382.00" stroke="#a8a8a8" stroke-width="1.1"/>
<line x1="951.00" y1="10.30" x2="951.00" y2="382.00" stroke="#a8a8a8" stroke-width="1.1"/>
<line x1="1037.00" y1="10.30" x2="1037.00" y2="382.00" stroke="#a8a8a8" stroke-width="1.1"/>
<line x1="1123.00" y1="10.30" x2="1123.00" y2="382.00" stroke="#a8a8a8" stroke-width="1.1"/>
<line x1="1209.00" y1="10.30" x2="1209.00" y2="382.00" stroke="#a8a8a8" stroke-width="1.1"/>
<line x1="1295.00" y1="10.30" x2="1295.00" y2="382.00" stroke="#a8a8a8" stroke-width="1.1"/>
<line x1="1381.00" y1="10.30" x2="1381.00" y2="382.00" stroke="#a8a8a8" stroke-width="1.1"/>
<g clip-path="url(#cc_A)">
<path d="M886.07,382.00 L888.07,374.66 L890.07,368.04 L892.07,361.95 L894.07,356.33 L896.07,351.14 L898.07,346.33 L900.07,341.86 L902.07,337.66 L904.07,333.70 L906.07,329.92 L908.07,326.27 L910.07,322.71 L912.07,319.19 L914.07,315.66 L916.07,312.07 L918.07,308.37 L920.07,304.51 L922.07,300.50 L924.07,296.37 L926.07,292.14 L928.06,287.84 L930.06,283.50 L932.06,279.15 L934.06,274.82 L936.06,270.54 L938.06,266.33 L940.06,262.20 L942.06,258.14 L944.06,254.15 L946.06,250.22 L948.06,246.36 L950.06,242.57 L952.06,238.84 L954.06,235.17 L956.06,231.55 L958.06,227.99 L960.06,224.49 L962.06,221.03 L964.06,217.63 L966.06,214.27 L968.06,210.96 L970.06,207.69 L972.06,204.46 L974.06,201.27 L976.06,198.12 L978.06,195.00 L980.06,191.92 L982.06,188.87 L984.06,185.85 L986.06,182.87 L988.06,179.92 L990.06,177.00 L992.06,174.12 L994.06,171.27 L996.06,168.45 L998.06,165.67 L1000.06,162.93 L1002.06,160.22 L1004.06,157.55 L1006.06,154.91 L1008.06,152.31 L1010.06,149.74 L1012.05,147.21 L1014.05,144.72 L1016.05,142.26 L1018.05,139.84 L1020.05,137.46 L1022.05,135.11 L1024.05,132.80 L1026.05,130.53 L1028.05,128.30 L1030.05,126.11 L1032.05,123.95 L1034.05,121.83 L1036.05,119.76 L1038.05,117.72 L1040.05,115.72 L1042.05,113.76 L1044.05,111.84 L1046.05,109.96 L1048.05,108.12 L1050.05,106.32 L1052.05,104.56 L1054.05,102.84 L1056.05,101.16 L1058.05,99.53 L1060.05,97.93 L1062.05,96.38 L1064.05,94.87 L1066.05,93.40 L1068.05,91.97 L1070.05,90.59 L1072.05,89.25 L1074.05,87.95 L1076.05,86.70 L1078.05,85.48 L1080.05,84.32 L1082.05,83.19 L1084.05,82.11 L1086.05,81.07 L1088.05,80.08 L1090.05,79.12 L1092.05,78.21 L1094.04,77.34 L1096.04,76.51 L1098.04,75.72 L1100.04,74.96 L1102.04,74.25 L1104.04,73.58 L1106.04,72.94 L1108.04,72.34 L1110.04,71.78 L1112.04,71.26 L1114.04,70.77 L1116.04,70.32 L1118.04,69.91 L1120.04,69.53 L1122.04,69.19 L1124.04,68.88 L1126.04,68.60 L1128.04,68.36 L1130.04,68.15 L1132.04,67.97 L1134.04,67.83 L1136.04,67.72 L1138.04,67.64 L1140.04,67.59 L1142.04,67.57 L1144.04,67.58 L1146.04,67.63 L1148.04,67.71 L1150.04,67.81 L1152.04,67.96 L1154.04,68.13 L1156.04,68.35 L1158.04,68.59 L1160.04,68.87 L1162.04,69.19 L1164.04,69.54 L1166.04,69.93 L1168.04,70.36 L1170.04,70.82 L1172.04,71.32 L1174.04,71.86 L1176.04,72.44 L1178.03,73.06 L1180.03,73.72 L1182.03,74.42 L1184.03,75.16 L1186.03,75.94 L1188.03,76.77 L1190.03,77.63 L1192.03,78.54 L1194.03,79.50 L1196.03,80.49 L1198.03,81.53 L1200.03,82.62 L1202.03,83.75 L1204.03,84.93 L1206.03,86.15 L1208.03,87.43 L1210.03,88.74 L1212.03,90.11 L1214.03,91.52 L1216.03,92.99 L1218.03,94.50 L1220.03,96.06 L1222.03,97.68 L1224.03,99.34 L1226.03,101.05 L1228.03,102.82 L1230.03,104.64 L1232.03,106.51 L1234.03,108.43 L1236.03,110.41 L1238.03,112.44 L1240.03,114.53 L1242.03,116.67 L1244.03,118.87 L1246.03,121.13 L1248.03,123.44 L1250.03,125.80 L1252.03,128.22 L1254.03,130.69 L1256.03,133.22 L1258.03,135.79 L1260.02,138.42 L1262.02,141.09 L1264.02,143.81 L1266.02,146.57 L1268.02,149.38 L1270.02,152.23 L1272.02,155.13 L1274.02,158.06 L1276.02,161.04 L1278.02,164.05 L1280.02,167.10 L1282.02,170.19 L1284.02,173.31 L1286.02,176.46 L1288.02,179.65 L1290.02,182.86 L1292.02,186.11 L1294.02,189.38 L1296.02,192.69 L1298.02,196.02 L1300.02,199.37 L1302.02,202.76 L1304.02,206.18 L1306.02,209.63 L1308.02,213.11 L1310.02,216.63 L1312.02,220.18 L1314.02,223.77 L1316.02,227.40 L1318.02,231.06 L1320.02,234.77 L1322.02,238.51 L1324.02,242.30 L1326.02,246.13 L1328.02,250.00 L1330.02,253.92 L1332.02,257.89 L1334.02,261.90 L1336.02,265.96 L1338.02,270.07 L1340.02,274.24 L1342.02,278.45 L1344.01,282.72 L1346.01,287.05 L1348.01,291.43 L1350.01,295.88 L1352.01,300.38 L1354.01,304.95 L1356.01,309.58 L1358.01,314.27 L1360.01,319.04 L1362.01,323.87 L1364.01,328.77 L1366.01,333.75 L1368.01,338.80 L1370.01,343.92 L1372.01,349.12 L1374.01,354.40 L1376.01,359.76 L1378.01,365.21 L1380.01,370.73 L1382.01,376.34 L1384.01,382.00" fill="none" stroke="#3a3a3a" stroke-width="2" stroke-linejoin="round"/>
<path d="M887.36,382.00 L889.35,374.72 L891.35,368.48 L893.34,362.59 L895.34,357.03 L897.33,351.76 L899.33,346.76 L901.32,342.00 L903.32,337.46 L905.31,333.11 L907.31,328.91 L909.30,324.85 L911.29,320.89 L913.29,317.01 L915.28,313.18 L917.28,309.38 L919.27,305.57 L921.27,301.73 L923.26,297.87 L925.26,294.00 L927.25,290.11 L929.25,286.22 L931.24,282.33 L933.24,278.45 L935.23,274.59 L937.22,270.75 L939.22,266.93 L941.21,263.14 L943.21,259.38 L945.20,255.65 L947.20,251.95 L949.19,248.28 L951.19,244.64 L953.18,241.03 L955.18,237.44 L957.17,233.89 L959.16,230.37 L961.16,226.88 L963.15,223.42 L965.15,219.99 L967.14,216.60 L969.14,213.23 L971.13,209.90 L973.13,206.60 L975.12,203.33 L977.12,200.09 L979.11,196.89 L981.11,193.72 L983.10,190.58 L985.09,187.49 L987.09,184.44 L989.08,181.45 L991.08,178.52 L993.07,175.65 L995.07,172.86 L997.06,170.14 L999.06,167.52 L1001.05,164.98 L1003.05,162.54 L1005.04,160.20 L1007.03,157.98 L1009.03,155.86 L1011.02,153.83 L1013.02,151.90 L1015.01,150.05 L1017.01,148.27 L1019.00,146.57 L1021.00,144.92 L1022.99,143.33 L1024.99,141.78 L1026.98,140.28 L1028.98,138.81 L1030.97,137.36 L1032.96,135.93 L1034.96,134.52 L1036.95,133.10 L1038.95,131.69 L1040.94,130.27 L1042.94,128.85 L1044.93,127.44 L1046.93,126.03 L1048.92,124.63 L1050.92,123.24 L1052.91,121.85 L1054.90,120.48 L1056.90,119.13 L1058.89,117.79 L1060.89,116.47 L1062.88,115.17 L1064.88,113.89 L1066.87,112.64 L1068.87,111.42 L1070.86,110.22 L1072.86,109.06 L1074.85,107.93 L1076.84,106.83 L1078.84,105.77 L1080.83,104.75 L1082.83,103.78 L1084.82,102.84 L1086.82,101.94 L1088.81,101.08 L1090.81,100.25 L1092.80,99.47 L1094.80,98.73 L1096.79,98.02 L1098.79,97.35 L1100.78,96.71 L1102.77,96.12 L1104.77,95.56 L1106.76,95.03 L1108.76,94.54 L1110.75,94.09 L1112.75,93.67 L1114.74,93.28 L1116.74,92.93 L1118.73,92.61 L1120.73,92.32 L1122.72,92.07 L1124.71,91.85 L1126.71,91.66 L1128.70,91.50 L1130.70,91.38 L1132.69,91.28 L1134.69,91.22 L1136.68,91.19 L1138.68,91.18 L1140.67,91.21 L1142.67,91.26 L1144.66,91.34 L1146.66,91.46 L1148.65,91.60 L1150.64,91.77 L1152.64,91.97 L1154.63,92.20 L1156.63,92.46 L1158.62,92.76 L1160.62,93.09 L1162.61,93.44 L1164.61,93.84 L1166.60,94.26 L1168.60,94.72 L1170.59,95.21 L1172.58,95.73 L1174.58,96.29 L1176.57,96.89 L1178.57,97.52 L1180.56,98.18 L1182.56,98.88 L1184.55,99.62 L1186.55,100.39 L1188.54,101.20 L1190.54,102.05 L1192.53,102.94 L1194.53,103.86 L1196.52,104.83 L1198.51,105.83 L1200.51,106.87 L1202.50,107.95 L1204.50,109.07 L1206.49,110.23 L1208.49,111.44 L1210.48,112.68 L1212.48,113.96 L1214.47,115.29 L1216.47,116.66 L1218.46,118.08 L1220.45,119.53 L1222.45,121.03 L1224.44,122.57 L1226.44,124.16 L1228.43,125.78 L1230.43,127.45 L1232.42,129.14 L1234.42,130.87 L1236.41,132.63 L1238.41,134.41 L1240.40,136.22 L1242.39,138.05 L1244.39,139.90 L1246.38,141.76 L1248.38,143.63 L1250.37,145.52 L1252.37,147.41 L1254.36,149.31 L1256.36,151.21 L1258.35,153.11 L1260.35,155.00 L1262.34,156.90 L1264.34,158.78 L1266.33,160.65 L1268.32,162.52 L1270.32,164.39 L1272.31,166.28 L1274.31,168.20 L1276.30,170.14 L1278.30,172.13 L1280.29,174.16 L1282.29,176.26 L1284.28,178.42 L1286.28,180.65 L1288.27,182.97 L1290.26,185.39 L1292.26,187.90 L1294.25,190.53 L1296.25,193.28 L1298.24,196.15 L1300.24,199.13 L1302.23,202.22 L1304.23,205.41 L1306.22,208.71 L1308.22,212.10 L1310.21,215.58 L1312.21,219.14 L1314.20,222.78 L1316.19,226.50 L1318.19,230.28 L1320.18,234.13 L1322.18,238.04 L1324.17,242.00 L1326.17,246.01 L1328.16,250.06 L1330.16,254.16 L1332.15,258.28 L1334.15,262.43 L1336.14,266.61 L1338.13,270.80 L1340.13,275.01 L1342.12,279.25 L1344.12,283.51 L1346.11,287.81 L1348.11,292.14 L1350.10,296.52 L1352.10,300.95 L1354.09,305.43 L1356.09,309.97 L1358.08,314.58 L1360.08,319.25 L1362.07,324.00 L1364.06,328.82 L1366.06,333.72 L1368.05,338.71 L1370.05,343.78 L1372.04,348.95 L1374.04,354.21 L1376.03,359.57 L1378.03,365.03 L1380.02,370.61 L1382.02,376.29 L1384.01,382.00" fill="none" stroke="#e3262b" stroke-width="2" stroke-linejoin="round"/>
</g>
<line x1="822.0" y1="9.80" x2="822.0" y2="383.00" stroke="#3c3c3c" stroke-width="2"/>
<line x1="812.0" y1="10.30" x2="822.0" y2="10.30" stroke="#3c3c3c" stroke-width="2"/>
<line x1="817.0" y1="47.47" x2="822.0" y2="47.47" stroke="#3c3c3c" stroke-width="2"/>
<line x1="812.0" y1="84.64" x2="822.0" y2="84.64" stroke="#3c3c3c" stroke-width="2"/>
<line x1="817.0" y1="121.81" x2="822.0" y2="121.81" stroke="#3c3c3c" stroke-width="2"/>
<line x1="812.0" y1="158.98" x2="822.0" y2="158.98" stroke="#3c3c3c" stroke-width="2"/>
<line x1="817.0" y1="196.15" x2="822.0" y2="196.15" stroke="#3c3c3c" stroke-width="2"/>
<line x1="812.0" y1="233.32" x2="822.0" y2="233.32" stroke="#3c3c3c" stroke-width="2"/>
<line x1="817.0" y1="270.49" x2="822.0" y2="270.49" stroke="#3c3c3c" stroke-width="2"/>
<line x1="812.0" y1="307.66" x2="822.0" y2="307.66" stroke="#3c3c3c" stroke-width="2"/>
<line x1="817.0" y1="344.83" x2="822.0" y2="344.83" stroke="#3c3c3c" stroke-width="2"/>
<line x1="812.0" y1="382.00" x2="822.0" y2="382.00" stroke="#3c3c3c" stroke-width="2"/>
<line x1="812.0" y1="382.00" x2="1468.0" y2="382.00" stroke="#000" stroke-width="2"/>
<line x1="822.00" y1="382.00" x2="822.00" y2="386.50" stroke="#000" stroke-width="2"/>
<line x1="865.00" y1="382.00" x2="865.00" y2="391.50" stroke="#000" stroke-width="2"/>
<line x1="908.00" y1="382.00" x2="908.00" y2="386.50" stroke="#000" stroke-width="2"/>
<line x1="951.00" y1="382.00" x2="951.00" y2="391.50" stroke="#000" stroke-width="2"/>
<line x1="994.00" y1="382.00" x2="994.00" y2="386.50" stroke="#000" stroke-width="2"/>
<line x1="1037.00" y1="382.00" x2="1037.00" y2="391.50" stroke="#000" stroke-width="2"/>
<line x1="1080.00" y1="382.00" x2="1080.00" y2="386.50" stroke="#000" stroke-width="2"/>
<line x1="1123.00" y1="382.00" x2="1123.00" y2="391.50" stroke="#000" stroke-width="2"/>
<line x1="1166.00" y1="382.00" x2="1166.00" y2="386.50" stroke="#000" stroke-width="2"/>
<line x1="1209.00" y1="382.00" x2="1209.00" y2="391.50" stroke="#000" stroke-width="2"/>
<line x1="1252.00" y1="382.00" x2="1252.00" y2="386.50" stroke="#000" stroke-width="2"/>
<line x1="1295.00" y1="382.00" x2="1295.00" y2="391.50" stroke="#000" stroke-width="2"/>
<line x1="1338.00" y1="382.00" x2="1338.00" y2="386.50" stroke="#000" stroke-width="2"/>
<line x1="1381.00" y1="382.00" x2="1381.00" y2="391.50" stroke="#000" stroke-width="2"/>
<line x1="1424.00" y1="382.00" x2="1424.00" y2="386.50" stroke="#000" stroke-width="2"/>
<line x1="1467.00" y1="382.00" x2="1467.00" y2="391.50" stroke="#000" stroke-width="2"/>
<text x="804.5" y="18.20" text-anchor="end" font-size="22" fill="#333">8,5</text>
<text x="804.5" y="92.54" text-anchor="end" font-size="22" fill="#333">8,0</text>
<text x="804.5" y="166.88" text-anchor="end" font-size="22" fill="#333">7,5</text>
<text x="804.5" y="241.22" text-anchor="end" font-size="22" fill="#333">7,0</text>
<text x="804.5" y="315.56" text-anchor="end" font-size="22" fill="#333">6,5</text>
<text x="804.5" y="389.90" text-anchor="end" font-size="22" fill="#333">6,0</text>
<text x="865.00" y="416.50" text-anchor="middle" font-size="22" fill="#000">84</text>
<text x="951.00" y="416.50" text-anchor="middle" font-size="22" fill="#000">86</text>
<text x="1037.00" y="416.50" text-anchor="middle" font-size="22" fill="#000">88</text>
<text x="1123.00" y="416.50" text-anchor="middle" font-size="22" fill="#000">90</text>
<text x="1209.00" y="416.50" text-anchor="middle" font-size="22" fill="#000">92</text>
<text x="1295.00" y="416.50" text-anchor="middle" font-size="22" fill="#000">94</text>
<text x="1381.00" y="416.50" text-anchor="middle" font-size="22" fill="#000">96</text>
<text x="1467.00" y="416.50" text-anchor="middle" font-size="22" fill="#000">98</text>
<text x="1144.5" y="448.50" text-anchor="middle" font-size="27" fill="#000">measuring segment [mm]</text>
<text transform="translate(757.0,202.15) rotate(-90)" text-anchor="middle" font-size="27" fill="#000">contour height [mm]</text>
<rect x="1040.5" y="275.30" width="207.5" height="65.50" fill="#fff" stroke="#000" stroke-width="2"/>
<line x1="1048" y1="294.30" x2="1101" y2="294.30" stroke="#000" stroke-width="4"/>
<line x1="1048" y1="324.30" x2="1101" y2="324.30" stroke="#f00" stroke-width="4"/>
<text x="1108.5" y="300.80" font-size="23.2" fill="#000">pre ablation</text>
<text x="1108.5" y="330.30" font-size="23.2" fill="#000">post ablation</text>
<text x="1394.3" y="45.30" font-size="51" fill="#000">A</text>
<text x="1426.0" y="45.30" font-size="51" fill="#000">‘</text>
<text x="1436.8" y="45.30" font-size="51" fill="#000">‘</text>
<text x="1447.6" y="45.30" font-size="51" fill="#000">‘</text>
<line x1="830.0" y1="523.87" x2="1474.0" y2="523.87" stroke="#c4c4c4" stroke-width="1" stroke-dasharray="2.4 2.3"/>
<line x1="830.0" y1="598.21" x2="1474.0" y2="598.21" stroke="#c4c4c4" stroke-width="1" stroke-dasharray="2.4 2.3"/>
<line x1="830.0" y1="672.55" x2="1474.0" y2="672.55" stroke="#c4c4c4" stroke-width="1" stroke-dasharray="2.4 2.3"/>
<line x1="830.0" y1="746.89" x2="1474.0" y2="746.89" stroke="#c4c4c4" stroke-width="1" stroke-dasharray="2.4 2.3"/>
<line x1="830.0" y1="821.23" x2="1474.0" y2="821.23" stroke="#c4c4c4" stroke-width="1" stroke-dasharray="2.4 2.3"/>
<line x1="915.00" y1="486.70" x2="915.00" y2="858.40" stroke="#c4c4c4" stroke-width="1" stroke-dasharray="2.4 2.3"/>
<line x1="1001.00" y1="486.70" x2="1001.00" y2="858.40" stroke="#c4c4c4" stroke-width="1" stroke-dasharray="2.4 2.3"/>
<line x1="1087.00" y1="486.70" x2="1087.00" y2="858.40" stroke="#c4c4c4" stroke-width="1" stroke-dasharray="2.4 2.3"/>
<line x1="1173.00" y1="486.70" x2="1173.00" y2="858.40" stroke="#c4c4c4" stroke-width="1" stroke-dasharray="2.4 2.3"/>
<line x1="1259.00" y1="486.70" x2="1259.00" y2="858.40" stroke="#c4c4c4" stroke-width="1" stroke-dasharray="2.4 2.3"/>
<line x1="1345.00" y1="486.70" x2="1345.00" y2="858.40" stroke="#c4c4c4" stroke-width="1" stroke-dasharray="2.4 2.3"/>
<line x1="1431.00" y1="486.70" x2="1431.00" y2="858.40" stroke="#c4c4c4" stroke-width="1" stroke-dasharray="2.4 2.3"/>
<line x1="830.0" y1="561.04" x2="1474.0" y2="561.04" stroke="#a8a8a8" stroke-width="1.1"/>
<line x1="830.0" y1="635.38" x2="1474.0" y2="635.38" stroke="#a8a8a8" stroke-width="1.1"/>
<line x1="830.0" y1="709.72" x2="1474.0" y2="709.72" stroke="#a8a8a8" stroke-width="1.1"/>
<line x1="830.0" y1="784.06" x2="1474.0" y2="784.06" stroke="#a8a8a8" stroke-width="1.1"/>
<line x1="872.00" y1="486.70" x2="872.00" y2="858.40" stroke="#a8a8a8" stroke-width="1.1"/>
<line x1="958.00" y1="486.70" x2="958.00" y2="858.40" stroke="#a8a8a8" stroke-width="1.1"/>
<line x1="1044.00" y1="486.70" x2="1044.00" y2="858.40" stroke="#a8a8a8" stroke-width="1.1"/>
<line x1="1130.00" y1="486.70" x2="1130.00" y2="858.40" stroke="#a8a8a8" stroke-width="1.1"/>
<line x1="1216.00" y1="486.70" x2="1216.00" y2="858.40" stroke="#a8a8a8" stroke-width="1.1"/>
<line x1="1302.00" y1="486.70" x2="1302.00" y2="858.40" stroke="#a8a8a8" stroke-width="1.1"/>
<line x1="1388.00" y1="486.70" x2="1388.00" y2="858.40" stroke="#a8a8a8" stroke-width="1.1"/>
<g clip-path="url(#cc_B)">
<path d="M892.64,767.71 L894.64,762.31 L896.63,757.71 L898.63,753.18 L900.62,748.73 L902.62,744.34 L904.61,740.03 L906.61,735.78 L908.60,731.60 L910.60,727.48 L912.59,723.43 L914.59,719.43 L916.58,715.50 L918.58,711.63 L920.58,707.81 L922.57,704.05 L924.57,700.35 L926.56,696.70 L928.56,693.11 L930.55,689.56 L932.55,686.07 L934.54,682.62 L936.54,679.22 L938.53,675.87 L940.53,672.56 L942.53,669.29 L944.52,666.07 L946.52,662.89 L948.51,659.76 L950.51,656.66 L952.50,653.61 L954.50,650.60 L956.49,647.63 L958.49,644.70 L960.48,641.82 L962.48,638.97 L964.47,636.16 L966.47,633.40 L968.47,630.67 L970.46,627.99 L972.46,625.34 L974.45,622.73 L976.45,620.16 L978.44,617.63 L980.44,615.14 L982.43,612.68 L984.43,610.27 L986.42,607.89 L988.42,605.54 L990.42,603.24 L992.41,600.97 L994.41,598.74 L996.40,596.54 L998.40,594.38 L1000.39,592.26 L1002.39,590.16 L1004.38,588.11 L1006.38,586.09 L1008.37,584.10 L1010.37,582.15 L1012.36,580.23 L1014.36,578.35 L1016.36,576.50 L1018.35,574.68 L1020.35,572.89 L1022.34,571.14 L1024.34,569.42 L1026.33,567.73 L1028.33,566.08 L1030.32,564.46 L1032.32,562.87 L1034.31,561.31 L1036.31,559.79 L1038.31,558.30 L1040.30,556.85 L1042.30,555.43 L1044.29,554.04 L1046.29,552.68 L1048.28,551.36 L1050.28,550.08 L1052.27,548.83 L1054.27,547.61 L1056.26,546.43 L1058.26,545.28 L1060.25,544.16 L1062.25,543.08 L1064.25,542.04 L1066.24,541.03 L1068.24,540.05 L1070.23,539.11 L1072.23,538.21 L1074.22,537.34 L1076.22,536.50 L1078.21,535.70 L1080.21,534.94 L1082.20,534.21 L1084.20,533.52 L1086.20,532.86 L1088.19,532.24 L1090.19,531.66 L1092.18,531.11 L1094.18,530.60 L1096.17,530.13 L1098.17,529.69 L1100.16,529.28 L1102.16,528.92 L1104.15,528.59 L1106.15,528.30 L1108.14,528.04 L1110.14,527.83 L1112.14,527.65 L1114.13,527.50 L1116.13,527.40 L1118.12,527.33 L1120.12,527.30 L1122.11,527.31 L1124.11,527.35 L1126.10,527.43 L1128.10,527.55 L1130.09,527.71 L1132.09,527.91 L1134.09,528.15 L1136.08,528.42 L1138.08,528.73 L1140.07,529.08 L1142.07,529.47 L1144.06,529.90 L1146.06,530.37 L1148.05,530.88 L1150.05,531.42 L1152.04,532.01 L1154.04,532.63 L1156.03,533.30 L1158.03,534.00 L1160.03,534.74 L1162.02,535.53 L1164.02,536.35 L1166.01,537.21 L1168.01,538.12 L1170.00,539.06 L1172.00,540.04 L1173.99,541.07 L1175.99,542.13 L1177.98,543.24 L1179.98,544.38 L1181.97,545.56 L1183.97,546.79 L1185.97,548.05 L1187.96,549.35 L1189.96,550.70 L1191.95,552.08 L1193.95,553.50 L1195.94,554.96 L1197.94,556.45 L1199.93,557.99 L1201.93,559.56 L1203.92,561.17 L1205.92,562.82 L1207.92,564.51 L1209.91,566.23 L1211.91,568.00 L1213.90,569.79 L1215.90,571.63 L1217.89,573.50 L1219.89,575.41 L1221.88,577.36 L1223.88,579.34 L1225.87,581.36 L1227.87,583.41 L1229.86,585.51 L1231.86,587.63 L1233.86,589.80 L1235.85,592.00 L1237.85,594.23 L1239.84,596.50 L1241.84,598.81 L1243.83,601.15 L1245.83,603.53 L1247.82,605.95 L1249.82,608.40 L1251.81,610.89 L1253.81,613.42 L1255.81,616.00 L1257.80,618.61 L1259.80,621.26 L1261.79,623.95 L1263.79,626.68 L1265.78,629.46 L1267.78,632.28 L1269.77,635.14 L1271.77,638.05 L1273.76,641.00 L1275.76,643.99 L1277.75,647.03 L1279.75,650.11 L1281.75,653.25 L1283.74,656.42 L1285.74,659.65 L1287.73,662.92 L1289.73,666.24 L1291.72,669.61 L1293.72,673.03 L1295.71,676.50 L1297.71,680.02 L1299.70,683.59 L1301.70,687.22 L1303.70,690.89 L1305.69,694.62 L1307.69,698.39 L1309.68,702.23 L1311.68,706.11 L1313.67,710.04 L1315.67,714.03 L1317.66,718.07 L1319.66,722.17 L1321.65,726.31 L1323.65,730.51 L1325.64,734.76 L1327.64,739.07 L1329.64,743.43 L1331.63,747.84 L1333.63,752.30 L1335.62,756.82 L1337.62,761.39 L1339.61,766.01 L1341.61,770.69 L1343.60,775.42 L1345.60,780.20 L1347.59,785.04 L1349.59,789.93 L1351.59,794.87 L1353.58,799.87 L1355.58,804.93 L1357.57,810.03 L1359.57,815.19 L1361.56,820.41 L1363.56,825.68 L1365.55,831.00 L1367.55,836.38 L1369.54,841.81 L1371.54,847.29 L1373.53,852.83 L1375.53,858.40" fill="none" stroke="#3a3a3a" stroke-width="2" stroke-linejoin="round"/>
<path d="M892.64,767.71 L894.64,762.55 L896.63,757.92 L898.63,753.35 L900.62,748.85 L902.62,744.41 L904.61,740.05 L906.61,735.74 L908.60,731.50 L910.60,727.33 L912.59,723.21 L914.59,719.16 L916.58,715.17 L918.58,711.25 L920.58,707.38 L922.57,703.57 L924.57,699.83 L926.56,696.14 L928.56,692.51 L930.55,688.93 L932.55,685.42 L934.54,681.96 L936.54,678.55 L938.53,675.20 L940.53,671.90 L942.53,668.66 L944.52,665.47 L946.52,662.34 L948.51,659.25 L950.51,656.22 L952.50,653.24 L954.50,650.31 L956.49,647.42 L958.49,644.59 L960.48,641.80 L962.48,639.07 L964.47,636.37 L966.47,633.73 L968.47,631.13 L970.46,628.57 L972.46,626.07 L974.45,623.60 L976.45,621.18 L978.44,618.80 L980.44,616.46 L982.43,614.16 L984.43,611.90 L986.42,609.69 L988.42,607.51 L990.42,605.37 L992.41,603.27 L994.41,601.21 L996.40,599.19 L998.40,597.20 L1000.39,595.25 L1002.39,593.33 L1004.38,591.45 L1006.38,589.60 L1008.37,587.80 L1010.37,586.03 L1012.36,584.31 L1014.36,582.62 L1016.36,580.98 L1018.35,579.39 L1020.35,577.84 L1022.34,576.34 L1024.34,574.88 L1026.33,573.48 L1028.33,572.12 L1030.32,570.82 L1032.32,569.57 L1034.31,568.38 L1036.31,567.24 L1038.31,566.16 L1040.30,565.14 L1042.30,564.17 L1044.29,563.27 L1046.29,562.43 L1048.28,561.64 L1050.28,560.91 L1052.27,560.21 L1054.27,559.56 L1056.26,558.94 L1058.26,558.35 L1060.25,557.78 L1062.25,557.23 L1064.25,556.69 L1066.24,556.15 L1068.24,555.62 L1070.23,555.09 L1072.23,554.56 L1074.22,554.05 L1076.22,553.54 L1078.21,553.04 L1080.21,552.55 L1082.20,552.07 L1084.20,551.60 L1086.20,551.15 L1088.19,550.72 L1090.19,550.30 L1092.18,549.89 L1094.18,549.51 L1096.17,549.15 L1098.17,548.81 L1100.16,548.49 L1102.16,548.20 L1104.15,547.93 L1106.15,547.69 L1108.14,547.47 L1110.14,547.29 L1112.14,547.13 L1114.13,547.01 L1116.13,546.92 L1118.12,546.87 L1120.12,546.85 L1122.11,546.86 L1124.11,546.92 L1126.10,547.01 L1128.10,547.14 L1130.09,547.32 L1132.09,547.54 L1134.09,547.80 L1136.08,548.11 L1138.08,548.45 L1140.07,548.84 L1142.07,549.26 L1144.06,549.73 L1146.06,550.24 L1148.05,550.79 L1150.05,551.38 L1152.04,552.00 L1154.04,552.67 L1156.03,553.37 L1158.03,554.11 L1160.03,554.89 L1162.02,555.71 L1164.02,556.56 L1166.01,557.45 L1168.01,558.37 L1170.00,559.33 L1172.00,560.33 L1173.99,561.35 L1175.99,562.42 L1177.98,563.51 L1179.98,564.65 L1181.97,565.81 L1183.97,567.00 L1185.97,568.23 L1187.96,569.49 L1189.96,570.78 L1191.95,572.11 L1193.95,573.46 L1195.94,574.84 L1197.94,576.26 L1199.93,577.70 L1201.93,579.17 L1203.92,580.67 L1205.92,582.20 L1207.92,583.76 L1209.91,585.34 L1211.91,586.95 L1213.90,588.59 L1215.90,590.25 L1217.89,591.94 L1219.89,593.66 L1221.88,595.40 L1223.88,597.16 L1225.87,598.95 L1227.87,600.77 L1229.86,602.61 L1231.86,604.49 L1233.86,606.39 L1235.85,608.33 L1237.85,610.30 L1239.84,612.31 L1241.84,614.36 L1243.83,616.46 L1245.83,618.59 L1247.82,620.77 L1249.82,623.00 L1251.81,625.27 L1253.81,627.60 L1255.81,629.98 L1257.80,632.42 L1259.80,634.91 L1261.79,637.46 L1263.79,640.06 L1265.78,642.70 L1267.78,645.36 L1269.77,648.05 L1271.77,650.74 L1273.76,653.43 L1275.76,656.10 L1277.75,658.74 L1279.75,661.35 L1281.75,663.90 L1283.74,666.40 L1285.74,668.82 L1287.73,671.16 L1289.73,673.42 L1291.72,675.63 L1293.72,677.86 L1295.71,680.16 L1297.71,682.59 L1299.70,685.19 L1301.70,688.04 L1303.70,691.16 L1305.69,694.55 L1307.69,698.17 L1309.68,701.96 L1311.68,705.88 L1313.67,709.91 L1315.67,713.99 L1317.66,718.15 L1319.66,722.36 L1321.65,726.62 L1323.65,730.92 L1325.64,735.27 L1327.64,739.65 L1329.64,744.06 L1331.63,748.50 L1333.63,752.96 L1335.62,757.44 L1337.62,761.95 L1339.61,766.50 L1341.61,771.09 L1343.60,775.72 L1345.60,780.39 L1347.59,785.11 L1349.59,789.89 L1351.59,794.72 L1353.58,799.62 L1355.58,804.58 L1357.57,809.60 L1359.57,814.71 L1361.56,819.88 L1363.56,825.14 L1365.55,830.49 L1367.55,835.92 L1369.54,841.44 L1371.54,847.06 L1373.53,852.79 L1375.53,858.40" fill="none" stroke="#e3262b" stroke-width="2" stroke-linejoin="round"/>
</g>
<line x1="829.0" y1="486.20" x2="829.0" y2="859.40" stroke="#3c3c3c" stroke-width="2"/>
<line x1="819.0" y1="486.70" x2="829.0" y2="486.70" stroke="#3c3c3c" stroke-width="2"/>
<line x1="824.0" y1="523.87" x2="829.0" y2="523.87" stroke="#3c3c3c" stroke-width="2"/>
<line x1="819.0" y1="561.04" x2="829.0" y2="561.04" stroke="#3c3c3c" stroke-width="2"/>
<line x1="824.0" y1="598.21" x2="829.0" y2="598.21" stroke="#3c3c3c" stroke-width="2"/>
<line x1="819.0" y1="635.38" x2="829.0" y2="635.38" stroke="#3c3c3c" stroke-width="2"/>
<line x1="824.0" y1="672.55" x2="829.0" y2="672.55" stroke="#3c3c3c" stroke-width="2"/>
<line x1="819.0" y1="709.72" x2="829.0" y2="709.72" stroke="#3c3c3c" stroke-width="2"/>
<line x1="824.0" y1="746.89" x2="829.0" y2="746.89" stroke="#3c3c3c" stroke-width="2"/>
<line x1="819.0" y1="784.06" x2="829.0" y2="784.06" stroke="#3c3c3c" stroke-width="2"/>
<line x1="824.0" y1="821.23" x2="829.0" y2="821.23" stroke="#3c3c3c" stroke-width="2"/>
<line x1="819.0" y1="858.40" x2="829.0" y2="858.40" stroke="#3c3c3c" stroke-width="2"/>
<line x1="819.0" y1="858.40" x2="1475.0" y2="858.40" stroke="#000" stroke-width="2"/>
<line x1="829.00" y1="858.40" x2="829.00" y2="862.90" stroke="#000" stroke-width="2"/>
<line x1="872.00" y1="858.40" x2="872.00" y2="867.90" stroke="#000" stroke-width="2"/>
<line x1="915.00" y1="858.40" x2="915.00" y2="862.90" stroke="#000" stroke-width="2"/>
<line x1="958.00" y1="858.40" x2="958.00" y2="867.90" stroke="#000" stroke-width="2"/>
<line x1="1001.00" y1="858.40" x2="1001.00" y2="862.90" stroke="#000" stroke-width="2"/>
<line x1="1044.00" y1="858.40" x2="1044.00" y2="867.90" stroke="#000" stroke-width="2"/>
<line x1="1087.00" y1="858.40" x2="1087.00" y2="862.90" stroke="#000" stroke-width="2"/>
<line x1="1130.00" y1="858.40" x2="1130.00" y2="867.90" stroke="#000" stroke-width="2"/>
<line x1="1173.00" y1="858.40" x2="1173.00" y2="862.90" stroke="#000" stroke-width="2"/>
<line x1="1216.00" y1="858.40" x2="1216.00" y2="867.90" stroke="#000" stroke-width="2"/>
<line x1="1259.00" y1="858.40" x2="1259.00" y2="862.90" stroke="#000" stroke-width="2"/>
<line x1="1302.00" y1="858.40" x2="1302.00" y2="867.90" stroke="#000" stroke-width="2"/>
<line x1="1345.00" y1="858.40" x2="1345.00" y2="862.90" stroke="#000" stroke-width="2"/>
<line x1="1388.00" y1="858.40" x2="1388.00" y2="867.90" stroke="#000" stroke-width="2"/>
<line x1="1431.00" y1="858.40" x2="1431.00" y2="862.90" stroke="#000" stroke-width="2"/>
<line x1="1474.00" y1="858.40" x2="1474.00" y2="867.90" stroke="#000" stroke-width="2"/>
<text x="811.5" y="494.60" text-anchor="end" font-size="22" fill="#333">3,0</text>
<text x="811.5" y="568.94" text-anchor="end" font-size="22" fill="#333">2,5</text>
<text x="811.5" y="643.28" text-anchor="end" font-size="22" fill="#333">2,0</text>
<text x="811.5" y="717.62" text-anchor="end" font-size="22" fill="#333">1,5</text>
<text x="811.5" y="791.96" text-anchor="end" font-size="22" fill="#333">1,0</text>
<text x="811.5" y="866.30" text-anchor="end" font-size="22" fill="#333">0,5</text>
<text x="872.00" y="892.90" text-anchor="middle" font-size="22" fill="#000">84</text>
<text x="958.00" y="892.90" text-anchor="middle" font-size="22" fill="#000">86</text>
<text x="1044.00" y="892.90" text-anchor="middle" font-size="22" fill="#000">88</text>
<text x="1130.00" y="892.90" text-anchor="middle" font-size="22" fill="#000">90</text>
<text x="1216.00" y="892.90" text-anchor="middle" font-size="22" fill="#000">92</text>
<text x="1302.00" y="892.90" text-anchor="middle" font-size="22" fill="#000">94</text>
<text x="1388.00" y="892.90" text-anchor="middle" font-size="22" fill="#000">96</text>
<text x="1474.00" y="892.90" text-anchor="middle" font-size="22" fill="#000">98</text>
<text x="1151.5" y="924.90" text-anchor="middle" font-size="27" fill="#000">measuring segment [mm]</text>
<text transform="translate(757.0,678.55) rotate(-90)" text-anchor="middle" font-size="27" fill="#000">contour height [mm]</text>
<rect x="1040.5" y="751.70" width="207.5" height="65.50" fill="#fff" stroke="#000" stroke-width="2"/>
<line x1="1048" y1="770.70" x2="1101" y2="770.70" stroke="#000" stroke-width="4"/>
<line x1="1048" y1="800.70" x2="1101" y2="800.70" stroke="#f00" stroke-width="4"/>
<text x="1108.5" y="777.20" font-size="23.2" fill="#000">pre ablation</text>
<text x="1108.5" y="806.70" font-size="23.2" fill="#000">post ablation</text>
<text x="1390.0" y="521.70" font-size="51" fill="#000">B</text>
<text x="1422.0" y="521.70" font-size="51" fill="#000">‘</text>
<text x="1432.8" y="521.70" font-size="51" fill="#000">‘</text>
<text x="1443.6" y="521.70" font-size="51" fill="#000">‘</text>
<line x1="835.0" y1="1000.47" x2="1479.0" y2="1000.47" stroke="#c4c4c4" stroke-width="1" stroke-dasharray="2.4 2.3"/>
<line x1="835.0" y1="1074.81" x2="1479.0" y2="1074.81" stroke="#c4c4c4" stroke-width="1" stroke-dasharray="2.4 2.3"/>
<line x1="835.0" y1="1149.15" x2="1479.0" y2="1149.15" stroke="#c4c4c4" stroke-width="1" stroke-dasharray="2.4 2.3"/>
<line x1="835.0" y1="1223.49" x2="1479.0" y2="1223.49" stroke="#c4c4c4" stroke-width="1" stroke-dasharray="2.4 2.3"/>
<line x1="835.0" y1="1297.83" x2="1479.0" y2="1297.83" stroke="#c4c4c4" stroke-width="1" stroke-dasharray="2.4 2.3"/>
<line x1="920.00" y1="963.30" x2="920.00" y2="1335.00" stroke="#c4c4c4" stroke-width="1" stroke-dasharray="2.4 2.3"/>
<line x1="1006.00" y1="963.30" x2="1006.00" y2="1335.00" stroke="#c4c4c4" stroke-width="1" stroke-dasharray="2.4 2.3"/>
<line x1="1092.00" y1="963.30" x2="1092.00" y2="1335.00" stroke="#c4c4c4" stroke-width="1" stroke-dasharray="2.4 2.3"/>
<line x1="1178.00" y1="963.30" x2="1178.00" y2="1335.00" stroke="#c4c4c4" stroke-width="1" stroke-dasharray="2.4 2.3"/>
<line x1="1264.00" y1="963.30" x2="1264.00" y2="1335.00" stroke="#c4c4c4" stroke-width="1" stroke-dasharray="2.4 2.3"/>
<line x1="1350.00" y1="963.30" x2="1350.00" y2="1335.00" stroke="#c4c4c4" stroke-width="1" stroke-dasharray="2.4 2.3"/>
<line x1="1436.00" y1="963.30" x2="1436.00" y2="1335.00" stroke="#c4c4c4" stroke-width="1" stroke-dasharray="2.4 2.3"/>
<line x1="835.0" y1="1037.64" x2="1479.0" y2="1037.64" stroke="#a8a8a8" stroke-width="1.1"/>
<line x1="835.0" y1="1111.98" x2="1479.0" y2="1111.98" stroke="#a8a8a8" stroke-width="1.1"/>
<line x1="835.0" y1="1186.32" x2="1479.0" y2="1186.32" stroke="#a8a8a8" stroke-width="1.1"/>
<line x1="835.0" y1="1260.66" x2="1479.0" y2="1260.66" stroke="#a8a8a8" stroke-width="1.1"/>
<line x1="877.00" y1="963.30" x2="877.00" y2="1335.00" stroke="#a8a8a8" stroke-width="1.1"/>
<line x1="963.00" y1="963.30" x2="963.00" y2="1335.00" stroke="#a8a8a8" stroke-width="1.1"/>
<line x1="1049.00" y1="963.30" x2="1049.00" y2="1335.00" stroke="#a8a8a8" stroke-width="1.1"/>
<line x1="1135.00" y1="963.30" x2="1135.00" y2="1335.00" stroke="#a8a8a8" stroke-width="1.1"/>
<line x1="1221.00" y1="963.30" x2="1221.00" y2="1335.00" stroke="#a8a8a8" stroke-width="1.1"/>
<line x1="1307.00" y1="963.30" x2="1307.00" y2="1335.00" stroke="#a8a8a8" stroke-width="1.1"/>
<line x1="1393.00" y1="963.30" x2="1393.00" y2="1335.00" stroke="#a8a8a8" stroke-width="1.1"/>
<g clip-path="url(#cc_C1)">
<path d="M915.27,1335.00 L917.26,1328.52 L919.26,1323.25 L921.25,1318.03 L923.24,1312.87 L925.24,1307.77 L927.23,1302.73 L929.22,1297.75 L931.22,1292.83 L933.21,1287.96 L935.20,1283.15 L937.19,1278.40 L939.19,1273.70 L941.18,1269.06 L943.17,1264.48 L945.17,1259.95 L947.16,1255.48 L949.15,1251.07 L951.15,1246.71 L953.14,1242.41 L955.13,1238.16 L957.13,1233.96 L959.12,1229.83 L961.11,1225.74 L963.11,1221.71 L965.10,1217.73 L967.09,1213.81 L969.08,1209.94 L971.08,1206.13 L973.07,1202.36 L975.06,1198.65 L977.06,1195.00 L979.05,1191.39 L981.04,1187.84 L983.04,1184.34 L985.03,1180.89 L987.02,1177.49 L989.02,1174.14 L991.01,1170.84 L993.00,1167.60 L995.00,1164.40 L996.99,1161.26 L998.98,1158.16 L1000.97,1155.12 L1002.97,1152.12 L1004.96,1149.17 L1006.95,1146.28 L1008.95,1143.43 L1010.94,1140.63 L1012.93,1137.88 L1014.93,1135.17 L1016.92,1132.52 L1018.91,1129.91 L1020.91,1127.35 L1022.90,1124.84 L1024.89,1122.37 L1026.89,1119.95 L1028.88,1117.58 L1030.87,1115.25 L1032.86,1112.97 L1034.86,1110.73 L1036.85,1108.55 L1038.84,1106.40 L1040.84,1104.30 L1042.83,1102.25 L1044.82,1100.24 L1046.82,1098.27 L1048.81,1096.35 L1050.80,1094.48 L1052.80,1092.65 L1054.79,1090.86 L1056.78,1089.11 L1058.78,1087.41 L1060.77,1085.75 L1062.76,1084.13 L1064.75,1082.55 L1066.75,1081.02 L1068.74,1079.53 L1070.73,1078.08 L1072.73,1076.67 L1074.72,1075.31 L1076.71,1073.98 L1078.71,1072.69 L1080.70,1071.45 L1082.69,1070.24 L1084.69,1069.08 L1086.68,1067.96 L1088.67,1066.87 L1090.67,1065.83 L1092.66,1064.82 L1094.65,1063.85 L1096.65,1062.92 L1098.64,1062.03 L1100.63,1061.18 L1102.62,1060.36 L1104.62,1059.59 L1106.61,1058.85 L1108.60,1058.15 L1110.60,1057.48 L1112.59,1056.85 L1114.58,1056.26 L1116.58,1055.71 L1118.57,1055.19 L1120.56,1054.70 L1122.56,1054.26 L1124.55,1053.84 L1126.54,1053.47 L1128.54,1053.13 L1130.53,1052.82 L1132.52,1052.55 L1134.51,1052.31 L1136.51,1052.10 L1138.50,1051.93 L1140.49,1051.79 L1142.49,1051.69 L1144.48,1051.62 L1146.47,1051.58 L1148.47,1051.58 L1150.46,1051.60 L1152.45,1051.67 L1154.45,1051.76 L1156.44,1051.89 L1158.43,1052.05 L1160.43,1052.25 L1162.42,1052.48 L1164.41,1052.74 L1166.40,1053.04 L1168.40,1053.38 L1170.39,1053.75 L1172.38,1054.15 L1174.38,1054.60 L1176.37,1055.07 L1178.36,1055.59 L1180.36,1056.14 L1182.35,1056.73 L1184.34,1057.35 L1186.34,1058.01 L1188.33,1058.71 L1190.32,1059.44 L1192.32,1060.22 L1194.31,1061.03 L1196.30,1061.88 L1198.29,1062.77 L1200.29,1063.69 L1202.28,1064.66 L1204.27,1065.67 L1206.27,1066.71 L1208.26,1067.79 L1210.25,1068.92 L1212.25,1070.08 L1214.24,1071.28 L1216.23,1072.53 L1218.23,1073.81 L1220.22,1075.14 L1222.21,1076.51 L1224.21,1077.92 L1226.20,1079.37 L1228.19,1080.86 L1230.19,1082.39 L1232.18,1083.97 L1234.17,1085.59 L1236.16,1087.25 L1238.16,1088.95 L1240.15,1090.70 L1242.14,1092.49 L1244.14,1094.33 L1246.13,1096.21 L1248.12,1098.13 L1250.12,1100.10 L1252.11,1102.11 L1254.10,1104.16 L1256.10,1106.27 L1258.09,1108.41 L1260.08,1110.60 L1262.08,1112.84 L1264.07,1115.13 L1266.06,1117.46 L1268.05,1119.83 L1270.05,1122.25 L1272.04,1124.72 L1274.03,1127.24 L1276.03,1129.80 L1278.02,1132.42 L1280.01,1135.08 L1282.01,1137.78 L1284.00,1140.54 L1285.99,1143.34 L1287.99,1146.19 L1289.98,1149.09 L1291.97,1152.04 L1293.97,1155.04 L1295.96,1158.08 L1297.95,1161.17 L1299.94,1164.30 L1301.94,1167.48 L1303.93,1170.70 L1305.92,1173.96 L1307.92,1177.26 L1309.91,1180.61 L1311.90,1183.99 L1313.90,1187.42 L1315.89,1190.88 L1317.88,1194.37 L1319.88,1197.91 L1321.87,1201.47 L1323.86,1205.07 L1325.86,1208.70 L1327.85,1212.36 L1329.84,1216.05 L1331.83,1219.77 L1333.83,1223.51 L1335.82,1227.28 L1337.81,1231.07 L1339.81,1234.89 L1341.80,1238.73 L1343.79,1242.60 L1345.79,1246.50 L1347.78,1250.42 L1349.77,1254.37 L1351.77,1258.35 L1353.76,1262.36 L1355.75,1266.40 L1357.75,1270.46 L1359.74,1274.56 L1361.73,1278.68 L1363.72,1282.84 L1365.72,1287.02 L1367.71,1291.24 L1369.70,1295.49 L1371.70,1299.77 L1373.69,1304.08 L1375.68,1308.42 L1377.68,1312.80 L1379.67,1317.60" fill="none" stroke="#3a3a3a" stroke-width="2" stroke-linejoin="round"/>
<path d="M915.27,1335.00 L917.26,1329.31 L919.26,1323.67 L921.25,1318.15 L923.24,1312.73 L925.24,1307.41 L927.23,1302.20 L929.22,1297.08 L931.22,1292.06 L933.21,1287.13 L935.20,1282.28 L937.19,1277.52 L939.19,1272.83 L941.18,1268.22 L943.17,1263.69 L945.17,1259.22 L947.16,1254.81 L949.15,1250.47 L951.15,1246.19 L953.14,1241.95 L955.13,1237.77 L957.13,1233.64 L959.12,1229.54 L961.11,1225.49 L963.11,1221.47 L965.10,1217.49 L967.09,1213.55 L969.08,1209.64 L971.08,1205.78 L973.07,1201.96 L975.06,1198.19 L977.06,1194.47 L979.05,1190.80 L981.04,1187.18 L983.04,1183.62 L985.03,1180.11 L987.02,1176.67 L989.02,1173.28 L991.01,1169.96 L993.00,1166.70 L995.00,1163.51 L996.99,1160.39 L998.98,1157.35 L1000.97,1154.37 L1002.97,1151.48 L1004.96,1148.66 L1006.95,1145.92 L1008.95,1143.26 L1010.94,1140.69 L1012.93,1138.20 L1014.93,1135.80 L1016.92,1133.49 L1018.91,1131.25 L1020.91,1129.10 L1022.90,1127.02 L1024.89,1125.01 L1026.89,1123.08 L1028.88,1121.22 L1030.87,1119.43 L1032.86,1117.70 L1034.86,1116.03 L1036.85,1114.43 L1038.84,1112.89 L1040.84,1111.40 L1042.83,1109.97 L1044.82,1108.59 L1046.82,1107.26 L1048.81,1105.97 L1050.80,1104.74 L1052.80,1103.54 L1054.79,1102.39 L1056.78,1101.27 L1058.78,1100.20 L1060.77,1099.15 L1062.76,1098.14 L1064.75,1097.16 L1066.75,1096.21 L1068.74,1095.28 L1070.73,1094.38 L1072.73,1093.49 L1074.72,1092.63 L1076.71,1091.78 L1078.71,1090.95 L1080.70,1090.13 L1082.69,1089.32 L1084.69,1088.51 L1086.68,1087.71 L1088.67,1086.92 L1090.67,1086.12 L1092.66,1085.32 L1094.65,1084.53 L1096.65,1083.73 L1098.64,1082.93 L1100.63,1082.14 L1102.62,1081.35 L1104.62,1080.57 L1106.61,1079.80 L1108.60,1079.03 L1110.60,1078.29 L1112.59,1077.55 L1114.58,1076.84 L1116.58,1076.14 L1118.57,1075.46 L1120.56,1074.80 L1122.56,1074.17 L1124.55,1073.57 L1126.54,1072.99 L1128.54,1072.44 L1130.53,1071.93 L1132.52,1071.44 L1134.51,1071.00 L1136.51,1070.59 L1138.50,1070.22 L1140.49,1069.89 L1142.49,1069.60 L1144.48,1069.36 L1146.47,1069.17 L1148.47,1069.02 L1150.46,1068.93 L1152.45,1068.88 L1154.45,1068.88 L1156.44,1068.93 L1158.43,1069.02 L1160.43,1069.16 L1162.42,1069.35 L1164.41,1069.58 L1166.40,1069.86 L1168.40,1070.18 L1170.39,1070.55 L1172.38,1070.96 L1174.38,1071.41 L1176.37,1071.90 L1178.36,1072.44 L1180.36,1073.02 L1182.35,1073.64 L1184.34,1074.30 L1186.34,1075.01 L1188.33,1075.75 L1190.32,1076.53 L1192.32,1077.35 L1194.31,1078.21 L1196.30,1079.10 L1198.29,1080.04 L1200.29,1081.01 L1202.28,1082.01 L1204.27,1083.06 L1206.27,1084.14 L1208.26,1085.25 L1210.25,1086.40 L1212.25,1087.58 L1214.24,1088.79 L1216.23,1090.04 L1218.23,1091.32 L1220.22,1092.64 L1222.21,1093.98 L1224.21,1095.36 L1226.20,1096.77 L1228.19,1098.20 L1230.19,1099.67 L1232.18,1101.17 L1234.17,1102.69 L1236.16,1104.25 L1238.16,1105.83 L1240.15,1107.44 L1242.14,1109.07 L1244.14,1110.73 L1246.13,1112.42 L1248.12,1114.13 L1250.12,1115.87 L1252.11,1117.63 L1254.10,1119.42 L1256.10,1121.23 L1258.09,1123.06 L1260.08,1124.92 L1262.08,1126.80 L1264.07,1128.70 L1266.06,1130.62 L1268.05,1132.56 L1270.05,1134.52 L1272.04,1136.50 L1274.03,1138.50 L1276.03,1140.52 L1278.02,1142.56 L1280.01,1144.61 L1282.01,1146.68 L1284.00,1148.77 L1285.99,1150.88 L1287.99,1153.02 L1289.98,1155.20 L1291.97,1157.42 L1293.97,1159.69 L1295.96,1162.02 L1297.95,1164.41 L1299.94,1166.88 L1301.94,1169.42 L1303.93,1172.05 L1305.92,1174.77 L1307.92,1177.59 L1309.91,1180.52 L1311.90,1183.56 L1313.90,1186.72 L1315.89,1190.01 L1317.88,1193.41 L1319.88,1196.91 L1321.87,1200.49 L1323.86,1204.15 L1325.86,1207.88 L1327.85,1211.66 L1329.84,1215.48 L1331.83,1219.32 L1333.83,1223.18 L1335.82,1227.05 L1337.81,1230.93 L1339.81,1234.82 L1341.80,1238.73 L1343.79,1242.64 L1345.79,1246.57 L1347.78,1250.52 L1349.77,1254.49 L1351.77,1258.48 L1353.76,1262.49 L1355.75,1266.52 L1357.75,1270.57 L1359.74,1274.65 L1361.73,1278.76 L1363.72,1282.90 L1365.72,1287.07 L1367.71,1291.27 L1369.70,1295.50 L1371.70,1299.77 L1373.69,1304.07 L1375.68,1308.41 L1377.68,1312.79 L1379.67,1317.60" fill="none" stroke="#e3262b" stroke-width="2" stroke-linejoin="round"/>
</g>
<line x1="834.0" y1="962.80" x2="834.0" y2="1336.00" stroke="#3c3c3c" stroke-width="2"/>
<line x1="824.0" y1="963.30" x2="834.0" y2="963.30" stroke="#3c3c3c" stroke-width="2"/>
<line x1="829.0" y1="1000.47" x2="834.0" y2="1000.47" stroke="#3c3c3c" stroke-width="2"/>
<line x1="824.0" y1="1037.64" x2="834.0" y2="1037.64" stroke="#3c3c3c" stroke-width="2"/>
<line x1="829.0" y1="1074.81" x2="834.0" y2="1074.81" stroke="#3c3c3c" stroke-width="2"/>
<line x1="824.0" y1="1111.98" x2="834.0" y2="1111.98" stroke="#3c3c3c" stroke-width="2"/>
<line x1="829.0" y1="1149.15" x2="834.0" y2="1149.15" stroke="#3c3c3c" stroke-width="2"/>
<line x1="824.0" y1="1186.32" x2="834.0" y2="1186.32" stroke="#3c3c3c" stroke-width="2"/>
<line x1="829.0" y1="1223.49" x2="834.0" y2="1223.49" stroke="#3c3c3c" stroke-width="2"/>
<line x1="824.0" y1="1260.66" x2="834.0" y2="1260.66" stroke="#3c3c3c" stroke-width="2"/>
<line x1="829.0" y1="1297.83" x2="834.0" y2="1297.83" stroke="#3c3c3c" stroke-width="2"/>
<line x1="824.0" y1="1335.00" x2="834.0" y2="1335.00" stroke="#3c3c3c" stroke-width="2"/>
<line x1="824.0" y1="1335.00" x2="1480.0" y2="1335.00" stroke="#000" stroke-width="2"/>
<line x1="834.00" y1="1335.00" x2="834.00" y2="1339.50" stroke="#000" stroke-width="2"/>
<line x1="877.00" y1="1335.00" x2="877.00" y2="1344.50" stroke="#000" stroke-width="2"/>
<line x1="920.00" y1="1335.00" x2="920.00" y2="1339.50" stroke="#000" stroke-width="2"/>
<line x1="963.00" y1="1335.00" x2="963.00" y2="1344.50" stroke="#000" stroke-width="2"/>
<line x1="1006.00" y1="1335.00" x2="1006.00" y2="1339.50" stroke="#000" stroke-width="2"/>
<line x1="1049.00" y1="1335.00" x2="1049.00" y2="1344.50" stroke="#000" stroke-width="2"/>
<line x1="1092.00" y1="1335.00" x2="1092.00" y2="1339.50" stroke="#000" stroke-width="2"/>
<line x1="1135.00" y1="1335.00" x2="1135.00" y2="1344.50" stroke="#000" stroke-width="2"/>
<line x1="1178.00" y1="1335.00" x2="1178.00" y2="1339.50" stroke="#000" stroke-width="2"/>
<line x1="1221.00" y1="1335.00" x2="1221.00" y2="1344.50" stroke="#000" stroke-width="2"/>
<line x1="1264.00" y1="1335.00" x2="1264.00" y2="1339.50" stroke="#000" stroke-width="2"/>
<line x1="1307.00" y1="1335.00" x2="1307.00" y2="1344.50" stroke="#000" stroke-width="2"/>
<line x1="1350.00" y1="1335.00" x2="1350.00" y2="1339.50" stroke="#000" stroke-width="2"/>
<line x1="1393.00" y1="1335.00" x2="1393.00" y2="1344.50" stroke="#000" stroke-width="2"/>
<line x1="1436.00" y1="1335.00" x2="1436.00" y2="1339.50" stroke="#000" stroke-width="2"/>
<line x1="1479.00" y1="1335.00" x2="1479.00" y2="1344.50" stroke="#000" stroke-width="2"/>
<text x="816.5" y="971.20" text-anchor="end" font-size="22" fill="#333">12,0</text>
<text x="816.5" y="1045.54" text-anchor="end" font-size="22" fill="#333">11,5</text>
<text x="816.5" y="1119.88" text-anchor="end" font-size="22" fill="#333">11,0</text>
<text x="816.5" y="1194.22" text-anchor="end" font-size="22" fill="#333">10,5</text>
<text x="816.5" y="1268.56" text-anchor="end" font-size="22" fill="#333">10,0</text>
<text x="816.5" y="1342.90" text-anchor="end" font-size="22" fill="#333">9,5</text>
<text x="877.00" y="1369.50" text-anchor="middle" font-size="22" fill="#000">84</text>
<text x="963.00" y="1369.50" text-anchor="middle" font-size="22" fill="#000">86</text>
<text x="1049.00" y="1369.50" text-anchor="middle" font-size="22" fill="#000">88</text>
<text x="1135.00" y="1369.50" text-anchor="middle" font-size="22" fill="#000">90</text>
<text x="1221.00" y="1369.50" text-anchor="middle" font-size="22" fill="#000">92</text>
<text x="1307.00" y="1369.50" text-anchor="middle" font-size="22" fill="#000">94</text>
<text x="1393.00" y="1369.50" text-anchor="middle" font-size="22" fill="#000">96</text>
<text x="1479.00" y="1369.50" text-anchor="middle" font-size="22" fill="#000">98</text>
<text x="1156.5" y="1401.50" text-anchor="middle" font-size="27" fill="#000">measuring segment [mm]</text>
<text transform="translate(757.0,1155.15) rotate(-90)" text-anchor="middle" font-size="27" fill="#000">contour height [mm]</text>
<rect x="1040.5" y="1228.30" width="207.5" height="65.50" fill="#fff" stroke="#000" stroke-width="2"/>
<line x1="1048" y1="1247.30" x2="1101" y2="1247.30" stroke="#000" stroke-width="4"/>
<line x1="1048" y1="1277.30" x2="1101" y2="1277.30" stroke="#f00" stroke-width="4"/>
<text x="1108.5" y="1253.80" font-size="23.2" fill="#000">pre ablation</text>
<text x="1108.5" y="1283.30" font-size="23.2" fill="#000">post ablation</text>
<text x="1390.7" y="998.30" font-size="51" fill="#000">C</text>
<polygon fill="#000" points="1440.0,997.60 1444.3,997.60 1444.3,963.00 1441.8,963.00 1437.0,967.30 1431.3,971.10 1431.3,975.40 1440.0,970.60"/>
<text x="1452.9" y="998.30" font-size="51" fill="#000">‘</text>
<text x="1463.7" y="998.30" font-size="51" fill="#000">‘</text>
<text x="1474.5" y="998.30" font-size="51" fill="#000">‘</text>
<line x1="835.0" y1="1476.47" x2="1479.0" y2="1476.47" stroke="#c4c4c4" stroke-width="1" stroke-dasharray="2.4 2.3"/>
<line x1="835.0" y1="1550.81" x2="1479.0" y2="1550.81" stroke="#c4c4c4" stroke-width="1" stroke-dasharray="2.4 2.3"/>
<line x1="835.0" y1="1625.15" x2="1479.0" y2="1625.15" stroke="#c4c4c4" stroke-width="1" stroke-dasharray="2.4 2.3"/>
<line x1="835.0" y1="1699.49" x2="1479.0" y2="1699.49" stroke="#c4c4c4" stroke-width="1" stroke-dasharray="2.4 2.3"/>
<line x1="835.0" y1="1773.83" x2="1479.0" y2="1773.83" stroke="#c4c4c4" stroke-width="1" stroke-dasharray="2.4 2.3"/>
<line x1="920.00" y1="1439.30" x2="920.00" y2="1811.00" stroke="#c4c4c4" stroke-width="1" stroke-dasharray="2.4 2.3"/>
<line x1="1006.00" y1="1439.30" x2="1006.00" y2="1811.00" stroke="#c4c4c4" stroke-width="1" stroke-dasharray="2.4 2.3"/>
<line x1="1092.00" y1="1439.30" x2="1092.00" y2="1811.00" stroke="#c4c4c4" stroke-width="1" stroke-dasharray="2.4 2.3"/>
<line x1="1178.00" y1="1439.30" x2="1178.00" y2="1811.00" stroke="#c4c4c4" stroke-width="1" stroke-dasharray="2.4 2.3"/>
<line x1="1264.00" y1="1439.30" x2="1264.00" y2="1811.00" stroke="#c4c4c4" stroke-width="1" stroke-dasharray="2.4 2.3"/>
<line x1="1350.00" y1="1439.30" x2="1350.00" y2="1811.00" stroke="#c4c4c4" stroke-width="1" stroke-dasharray="2.4 2.3"/>
<line x1="1436.00" y1="1439.30" x2="1436.00" y2="1811.00" stroke="#c4c4c4" stroke-width="1" stroke-dasharray="2.4 2.3"/>
<line x1="835.0" y1="1513.64" x2="1479.0" y2="1513.64" stroke="#a8a8a8" stroke-width="1.1"/>
<line x1="835.0" y1="1587.98" x2="1479.0" y2="1587.98" stroke="#a8a8a8" stroke-width="1.1"/>
<line x1="835.0" y1="1662.32" x2="1479.0" y2="1662.32" stroke="#a8a8a8" stroke-width="1.1"/>
<line x1="835.0" y1="1736.66" x2="1479.0" y2="1736.66" stroke="#a8a8a8" stroke-width="1.1"/>
<line x1="877.00" y1="1439.30" x2="877.00" y2="1811.00" stroke="#a8a8a8" stroke-width="1.1"/>
<line x1="963.00" y1="1439.30" x2="963.00" y2="1811.00" stroke="#a8a8a8" stroke-width="1.1"/>
<line x1="1049.00" y1="1439.30" x2="1049.00" y2="1811.00" stroke="#a8a8a8" stroke-width="1.1"/>
<line x1="1135.00" y1="1439.30" x2="1135.00" y2="1811.00" stroke="#a8a8a8" stroke-width="1.1"/>
<line x1="1221.00" y1="1439.30" x2="1221.00" y2="1811.00" stroke="#a8a8a8" stroke-width="1.1"/>
<line x1="1307.00" y1="1439.30" x2="1307.00" y2="1811.00" stroke="#a8a8a8" stroke-width="1.1"/>
<line x1="1393.00" y1="1439.30" x2="1393.00" y2="1811.00" stroke="#a8a8a8" stroke-width="1.1"/>
<g clip-path="url(#cc_C2)">
<path d="M872.27,1811.00 L874.27,1806.40 L876.27,1801.39 L878.26,1796.44 L880.26,1791.56 L882.26,1786.74 L884.26,1781.98 L886.26,1777.29 L888.26,1772.65 L890.25,1768.07 L892.25,1763.56 L894.25,1759.10 L896.25,1754.70 L898.25,1750.37 L900.25,1746.08 L902.24,1741.86 L904.24,1737.69 L906.24,1733.58 L908.24,1729.52 L910.24,1725.52 L912.23,1721.58 L914.23,1717.68 L916.23,1713.85 L918.23,1710.06 L920.23,1706.33 L922.23,1702.65 L924.22,1699.02 L926.22,1695.44 L928.22,1691.91 L930.22,1688.43 L932.22,1685.00 L934.22,1681.62 L936.21,1678.29 L938.21,1675.01 L940.21,1671.77 L942.21,1668.58 L944.21,1665.44 L946.20,1662.34 L948.20,1659.28 L950.20,1656.28 L952.20,1653.31 L954.20,1650.39 L956.20,1647.52 L958.19,1644.68 L960.19,1641.89 L962.19,1639.14 L964.19,1636.43 L966.19,1633.76 L968.19,1631.13 L970.18,1628.55 L972.18,1626.00 L974.18,1623.48 L976.18,1621.01 L978.18,1618.57 L980.17,1616.17 L982.17,1613.81 L984.17,1611.49 L986.17,1609.19 L988.17,1606.94 L990.17,1604.71 L992.16,1602.53 L994.16,1600.37 L996.16,1598.25 L998.16,1596.16 L1000.16,1594.10 L1002.16,1592.07 L1004.15,1590.08 L1006.15,1588.11 L1008.15,1586.17 L1010.15,1584.27 L1012.15,1582.39 L1014.14,1580.54 L1016.14,1578.71 L1018.14,1576.92 L1020.14,1575.15 L1022.14,1573.41 L1024.14,1571.69 L1026.13,1570.01 L1028.13,1568.35 L1030.13,1566.72 L1032.13,1565.12 L1034.13,1563.54 L1036.13,1561.99 L1038.12,1560.47 L1040.12,1558.98 L1042.12,1557.52 L1044.12,1556.08 L1046.12,1554.67 L1048.11,1553.29 L1050.11,1551.94 L1052.11,1550.62 L1054.11,1549.32 L1056.11,1548.06 L1058.11,1546.82 L1060.10,1545.61 L1062.10,1544.43 L1064.10,1543.28 L1066.10,1542.16 L1068.10,1541.06 L1070.10,1540.00 L1072.09,1538.96 L1074.09,1537.95 L1076.09,1536.97 L1078.09,1536.02 L1080.09,1535.10 L1082.08,1534.21 L1084.08,1533.35 L1086.08,1532.52 L1088.08,1531.71 L1090.08,1530.94 L1092.08,1530.20 L1094.07,1529.48 L1096.07,1528.80 L1098.07,1528.14 L1100.07,1527.51 L1102.07,1526.92 L1104.07,1526.35 L1106.06,1525.81 L1108.06,1525.29 L1110.06,1524.81 L1112.06,1524.35 L1114.06,1523.92 L1116.05,1523.52 L1118.05,1523.14 L1120.05,1522.80 L1122.05,1522.48 L1124.05,1522.18 L1126.05,1521.91 L1128.04,1521.67 L1130.04,1521.46 L1132.04,1521.27 L1134.04,1521.10 L1136.04,1520.96 L1138.04,1520.85 L1140.03,1520.76 L1142.03,1520.70 L1144.03,1520.66 L1146.03,1520.65 L1148.03,1520.66 L1150.02,1520.69 L1152.02,1520.75 L1154.02,1520.84 L1156.02,1520.95 L1158.02,1521.09 L1160.02,1521.25 L1162.01,1521.45 L1164.01,1521.67 L1166.01,1521.92 L1168.01,1522.21 L1170.01,1522.52 L1172.01,1522.87 L1174.00,1523.25 L1176.00,1523.66 L1178.00,1524.11 L1180.00,1524.59 L1182.00,1525.11 L1183.99,1525.67 L1185.99,1526.26 L1187.99,1526.89 L1189.99,1527.55 L1191.99,1528.26 L1193.99,1529.00 L1195.98,1529.79 L1197.98,1530.62 L1199.98,1531.49 L1201.98,1532.40 L1203.98,1533.35 L1205.98,1534.35 L1207.97,1535.39 L1209.97,1536.48 L1211.97,1537.62 L1213.97,1538.80 L1215.97,1540.03 L1217.96,1541.31 L1219.96,1542.64 L1221.96,1544.01 L1223.96,1545.44 L1225.96,1546.91 L1227.96,1548.44 L1229.95,1550.01 L1231.95,1551.64 L1233.95,1553.31 L1235.95,1555.03 L1237.95,1556.81 L1239.95,1558.63 L1241.94,1560.49 L1243.94,1562.41 L1245.94,1564.37 L1247.94,1566.39 L1249.94,1568.45 L1251.93,1570.55 L1253.93,1572.71 L1255.93,1574.91 L1257.93,1577.16 L1259.93,1579.45 L1261.93,1581.80 L1263.92,1584.19 L1265.92,1586.62 L1267.92,1589.10 L1269.92,1591.63 L1271.92,1594.20 L1273.92,1596.82 L1275.91,1599.49 L1277.91,1602.20 L1279.91,1604.95 L1281.91,1607.75 L1283.91,1610.59 L1285.90,1613.48 L1287.90,1616.42 L1289.90,1619.40 L1291.90,1622.42 L1293.90,1625.48 L1295.90,1628.59 L1297.89,1631.75 L1299.89,1634.95 L1301.89,1638.19 L1303.89,1641.49 L1305.89,1644.83 L1307.89,1648.22 L1309.88,1651.67 L1311.88,1655.16 L1313.88,1658.71 L1315.88,1662.30 L1317.88,1665.95 L1319.87,1669.66 L1321.87,1673.42 L1323.87,1677.24 L1325.87,1681.11 L1327.87,1685.04 L1329.87,1689.03 L1331.86,1693.08 L1333.86,1697.19 L1335.86,1701.36 L1337.86,1705.60 L1339.86,1709.88 L1341.86,1714.23 L1343.85,1718.62 L1345.85,1723.06 L1347.85,1727.55 L1349.85,1732.08 L1351.85,1736.64 L1353.84,1741.25 L1355.84,1745.88 L1357.84,1750.55 L1359.84,1755.24 L1361.84,1759.95 L1363.84,1764.69 L1365.83,1769.44 L1367.83,1774.21 L1369.83,1778.98 L1371.83,1783.77 L1373.83,1788.56 L1375.83,1793.35 L1377.82,1798.14 L1379.82,1802.93 L1381.82,1806.99" fill="none" stroke="#3a3a3a" stroke-width="2" stroke-linejoin="round"/>
<path d="M873.99,1811.00 L875.99,1806.66 L877.99,1801.66 L879.99,1796.72 L881.99,1791.85 L883.99,1787.05 L885.99,1782.32 L887.99,1777.65 L889.98,1773.05 L891.98,1768.52 L893.98,1764.05 L895.98,1759.64 L897.98,1755.29 L899.98,1751.01 L901.98,1746.78 L903.98,1742.62 L905.98,1738.51 L907.98,1734.46 L909.98,1730.46 L911.98,1726.52 L913.98,1722.63 L915.98,1718.80 L917.98,1715.02 L919.97,1711.29 L921.97,1707.61 L923.97,1703.98 L925.97,1700.39 L927.97,1696.86 L929.97,1693.37 L931.97,1689.93 L933.97,1686.53 L935.97,1683.17 L937.97,1679.86 L939.97,1676.58 L941.97,1673.35 L943.97,1670.16 L945.97,1667.01 L947.97,1663.89 L949.96,1660.81 L951.96,1657.77 L953.96,1654.76 L955.96,1651.79 L957.96,1648.86 L959.96,1645.97 L961.96,1643.11 L963.96,1640.30 L965.96,1637.53 L967.96,1634.80 L969.96,1632.11 L971.96,1629.46 L973.96,1626.85 L975.96,1624.29 L977.96,1621.78 L979.95,1619.30 L981.95,1616.88 L983.95,1614.50 L985.95,1612.16 L987.95,1609.87 L989.95,1607.63 L991.95,1605.44 L993.95,1603.30 L995.95,1601.21 L997.95,1599.17 L999.95,1597.18 L1001.95,1595.24 L1003.95,1593.35 L1005.95,1591.52 L1007.95,1589.74 L1009.94,1588.01 L1011.94,1586.34 L1013.94,1584.72 L1015.94,1583.16 L1017.94,1581.65 L1019.94,1580.20 L1021.94,1578.81 L1023.94,1577.47 L1025.94,1576.17 L1027.94,1574.92 L1029.94,1573.70 L1031.94,1572.52 L1033.94,1571.36 L1035.94,1570.23 L1037.94,1569.11 L1039.93,1568.01 L1041.93,1566.91 L1043.93,1565.82 L1045.93,1564.73 L1047.93,1563.64 L1049.93,1562.56 L1051.93,1561.49 L1053.93,1560.43 L1055.93,1559.38 L1057.93,1558.35 L1059.93,1557.34 L1061.93,1556.35 L1063.93,1555.39 L1065.93,1554.45 L1067.93,1553.54 L1069.92,1552.67 L1071.92,1551.83 L1073.92,1551.02 L1075.92,1550.25 L1077.92,1549.52 L1079.92,1548.81 L1081.92,1548.14 L1083.92,1547.50 L1085.92,1546.89 L1087.92,1546.31 L1089.92,1545.76 L1091.92,1545.24 L1093.92,1544.74 L1095.92,1544.28 L1097.92,1543.83 L1099.91,1543.41 L1101.91,1543.02 L1103.91,1542.65 L1105.91,1542.30 L1107.91,1541.97 L1109.91,1541.66 L1111.91,1541.37 L1113.91,1541.10 L1115.91,1540.85 L1117.91,1540.62 L1119.91,1540.40 L1121.91,1540.20 L1123.91,1540.01 L1125.91,1539.84 L1127.90,1539.68 L1129.90,1539.53 L1131.90,1539.39 L1133.90,1539.26 L1135.90,1539.15 L1137.90,1539.04 L1139.90,1538.95 L1141.90,1538.86 L1143.90,1538.80 L1145.90,1538.74 L1147.90,1538.71 L1149.90,1538.69 L1151.90,1538.70 L1153.90,1538.73 L1155.90,1538.78 L1157.89,1538.85 L1159.89,1538.95 L1161.89,1539.08 L1163.89,1539.24 L1165.89,1539.42 L1167.89,1539.64 L1169.89,1539.90 L1171.89,1540.19 L1173.89,1540.51 L1175.89,1540.88 L1177.89,1541.28 L1179.89,1541.72 L1181.89,1542.21 L1183.89,1542.74 L1185.89,1543.32 L1187.88,1543.94 L1189.88,1544.61 L1191.88,1545.33 L1193.88,1546.10 L1195.88,1546.93 L1197.88,1547.81 L1199.88,1548.74 L1201.88,1549.73 L1203.88,1550.78 L1205.88,1551.88 L1207.88,1553.03 L1209.88,1554.22 L1211.88,1555.47 L1213.88,1556.75 L1215.88,1558.08 L1217.87,1559.45 L1219.87,1560.86 L1221.87,1562.30 L1223.87,1563.78 L1225.87,1565.28 L1227.87,1566.82 L1229.87,1568.39 L1231.87,1569.98 L1233.87,1571.59 L1235.87,1573.23 L1237.87,1574.88 L1239.87,1576.56 L1241.87,1578.24 L1243.87,1579.94 L1245.87,1581.65 L1247.86,1583.37 L1249.86,1585.10 L1251.86,1586.83 L1253.86,1588.57 L1255.86,1590.30 L1257.86,1592.05 L1259.86,1593.80 L1261.86,1595.56 L1263.86,1597.35 L1265.86,1599.15 L1267.86,1600.98 L1269.86,1602.83 L1271.86,1604.72 L1273.86,1606.64 L1275.86,1608.60 L1277.85,1610.60 L1279.85,1612.65 L1281.85,1614.75 L1283.85,1616.90 L1285.85,1619.11 L1287.85,1621.38 L1289.85,1623.71 L1291.85,1626.11 L1293.85,1628.58 L1295.85,1631.13 L1297.85,1633.75 L1299.85,1636.46 L1301.85,1639.25 L1303.85,1642.14 L1305.85,1645.11 L1307.84,1648.18 L1309.84,1651.36 L1311.84,1654.63 L1313.84,1657.99 L1315.84,1661.46 L1317.84,1665.01 L1319.84,1668.65 L1321.84,1672.39 L1323.84,1676.20 L1325.84,1680.11 L1327.84,1684.09 L1329.84,1688.16 L1331.84,1692.30 L1333.84,1696.52 L1335.84,1700.81 L1337.83,1705.18 L1339.83,1709.60 L1341.83,1714.09 L1343.83,1718.63 L1345.83,1723.22 L1347.83,1727.84 L1349.83,1732.51 L1351.83,1737.20 L1353.83,1741.91 L1355.83,1746.64 L1357.83,1751.39 L1359.83,1756.14 L1361.83,1760.89 L1363.83,1765.63 L1365.83,1770.36 L1367.82,1775.08 L1369.82,1779.77 L1371.82,1784.43 L1373.82,1789.06 L1375.82,1793.64 L1377.82,1798.18 L1379.82,1802.66 L1381.82,1806.99" fill="none" stroke="#e3262b" stroke-width="2" stroke-linejoin="round"/>
</g>
<line x1="834.0" y1="1438.80" x2="834.0" y2="1812.00" stroke="#3c3c3c" stroke-width="2"/>
<line x1="824.0" y1="1439.30" x2="834.0" y2="1439.30" stroke="#3c3c3c" stroke-width="2"/>
<line x1="829.0" y1="1476.47" x2="834.0" y2="1476.47" stroke="#3c3c3c" stroke-width="2"/>
<line x1="824.0" y1="1513.64" x2="834.0" y2="1513.64" stroke="#3c3c3c" stroke-width="2"/>
<line x1="829.0" y1="1550.81" x2="834.0" y2="1550.81" stroke="#3c3c3c" stroke-width="2"/>
<line x1="824.0" y1="1587.98" x2="834.0" y2="1587.98" stroke="#3c3c3c" stroke-width="2"/>
<line x1="829.0" y1="1625.15" x2="834.0" y2="1625.15" stroke="#3c3c3c" stroke-width="2"/>
<line x1="824.0" y1="1662.32" x2="834.0" y2="1662.32" stroke="#3c3c3c" stroke-width="2"/>
<line x1="829.0" y1="1699.49" x2="834.0" y2="1699.49" stroke="#3c3c3c" stroke-width="2"/>
<line x1="824.0" y1="1736.66" x2="834.0" y2="1736.66" stroke="#3c3c3c" stroke-width="2"/>
<line x1="829.0" y1="1773.83" x2="834.0" y2="1773.83" stroke="#3c3c3c" stroke-width="2"/>
<line x1="824.0" y1="1811.00" x2="834.0" y2="1811.00" stroke="#3c3c3c" stroke-width="2"/>
<line x1="824.0" y1="1811.00" x2="1480.0" y2="1811.00" stroke="#000" stroke-width="2"/>
<line x1="834.00" y1="1811.00" x2="834.00" y2="1815.50" stroke="#000" stroke-width="2"/>
<line x1="877.00" y1="1811.00" x2="877.00" y2="1820.50" stroke="#000" stroke-width="2"/>
<line x1="920.00" y1="1811.00" x2="920.00" y2="1815.50" stroke="#000" stroke-width="2"/>
<line x1="963.00" y1="1811.00" x2="963.00" y2="1820.50" stroke="#000" stroke-width="2"/>
<line x1="1006.00" y1="1811.00" x2="1006.00" y2="1815.50" stroke="#000" stroke-width="2"/>
<line x1="1049.00" y1="1811.00" x2="1049.00" y2="1820.50" stroke="#000" stroke-width="2"/>
<line x1="1092.00" y1="1811.00" x2="1092.00" y2="1815.50" stroke="#000" stroke-width="2"/>
<line x1="1135.00" y1="1811.00" x2="1135.00" y2="1820.50" stroke="#000" stroke-width="2"/>
<line x1="1178.00" y1="1811.00" x2="1178.00" y2="1815.50" stroke="#000" stroke-width="2"/>
<line x1="1221.00" y1="1811.00" x2="1221.00" y2="1820.50" stroke="#000" stroke-width="2"/>
<line x1="1264.00" y1="1811.00" x2="1264.00" y2="1815.50" stroke="#000" stroke-width="2"/>
<line x1="1307.00" y1="1811.00" x2="1307.00" y2="1820.50" stroke="#000" stroke-width="2"/>
<line x1="1350.00" y1="1811.00" x2="1350.00" y2="1815.50" stroke="#000" stroke-width="2"/>
<line x1="1393.00" y1="1811.00" x2="1393.00" y2="1820.50" stroke="#000" stroke-width="2"/>
<line x1="1436.00" y1="1811.00" x2="1436.00" y2="1815.50" stroke="#000" stroke-width="2"/>
<line x1="1479.00" y1="1811.00" x2="1479.00" y2="1820.50" stroke="#000" stroke-width="2"/>
<text x="816.5" y="1447.20" text-anchor="end" font-size="22" fill="#333">12,0</text>
<text x="816.5" y="1521.54" text-anchor="end" font-size="22" fill="#333">11,5</text>
<text x="816.5" y="1595.88" text-anchor="end" font-size="22" fill="#333">11,0</text>
<text x="816.5" y="1670.22" text-anchor="end" font-size="22" fill="#333">10,5</text>
<text x="816.5" y="1744.56" text-anchor="end" font-size="22" fill="#333">10,0</text>
<text x="816.5" y="1818.90" text-anchor="end" font-size="22" fill="#333">9,5</text>
<text x="877.00" y="1845.50" text-anchor="middle" font-size="22" fill="#000">84</text>
<text x="963.00" y="1845.50" text-anchor="middle" font-size="22" fill="#000">86</text>
<text x="1049.00" y="1845.50" text-anchor="middle" font-size="22" fill="#000">88</text>
<text x="1135.00" y="1845.50" text-anchor="middle" font-size="22" fill="#000">90</text>
<text x="1221.00" y="1845.50" text-anchor="middle" font-size="22" fill="#000">92</text>
<text x="1307.00" y="1845.50" text-anchor="middle" font-size="22" fill="#000">94</text>
<text x="1393.00" y="1845.50" text-anchor="middle" font-size="22" fill="#000">96</text>
<text x="1479.00" y="1845.50" text-anchor="middle" font-size="22" fill="#000">98</text>
<text x="1156.5" y="1877.50" text-anchor="middle" font-size="27" fill="#000">measuring segment [mm]</text>
<text transform="translate(757.0,1631.15) rotate(-90)" text-anchor="middle" font-size="27" fill="#000">contour height [mm]</text>
<rect x="1040.5" y="1704.30" width="207.5" height="65.50" fill="#fff" stroke="#000" stroke-width="2"/>
<line x1="1048" y1="1723.30" x2="1101" y2="1723.30" stroke="#000" stroke-width="4"/>
<line x1="1048" y1="1753.30" x2="1101" y2="1753.30" stroke="#f00" stroke-width="4"/>
<text x="1108.5" y="1729.80" font-size="23.2" fill="#000">pre ablation</text>
<text x="1108.5" y="1759.30" font-size="23.2" fill="#000">post ablation</text>
<text x="1390.7" y="1474.30" font-size="51" fill="#000">C</text>
<text x="1424.6" y="1474.30" font-size="51" fill="#000">2</text>
<text x="1452.9" y="1474.30" font-size="51" fill="#000">‘</text>
<text x="1463.7" y="1474.30" font-size="51" fill="#000">‘</text>
<text x="1474.5" y="1474.30" font-size="51" fill="#000">‘</text>
<line x1="823.0" y1="1952.67" x2="1467.0" y2="1952.67" stroke="#c4c4c4" stroke-width="1" stroke-dasharray="2.4 2.3"/>
<line x1="823.0" y1="2027.01" x2="1467.0" y2="2027.01" stroke="#c4c4c4" stroke-width="1" stroke-dasharray="2.4 2.3"/>
<line x1="823.0" y1="2101.35" x2="1467.0" y2="2101.35" stroke="#c4c4c4" stroke-width="1" stroke-dasharray="2.4 2.3"/>
<line x1="823.0" y1="2175.69" x2="1467.0" y2="2175.69" stroke="#c4c4c4" stroke-width="1" stroke-dasharray="2.4 2.3"/>
<line x1="823.0" y1="2250.03" x2="1467.0" y2="2250.03" stroke="#c4c4c4" stroke-width="1" stroke-dasharray="2.4 2.3"/>
<line x1="908.00" y1="1915.50" x2="908.00" y2="2287.20" stroke="#c4c4c4" stroke-width="1" stroke-dasharray="2.4 2.3"/>
<line x1="994.00" y1="1915.50" x2="994.00" y2="2287.20" stroke="#c4c4c4" stroke-width="1" stroke-dasharray="2.4 2.3"/>
<line x1="1080.00" y1="1915.50" x2="1080.00" y2="2287.20" stroke="#c4c4c4" stroke-width="1" stroke-dasharray="2.4 2.3"/>
<line x1="1166.00" y1="1915.50" x2="1166.00" y2="2287.20" stroke="#c4c4c4" stroke-width="1" stroke-dasharray="2.4 2.3"/>
<line x1="1252.00" y1="1915.50" x2="1252.00" y2="2287.20" stroke="#c4c4c4" stroke-width="1" stroke-dasharray="2.4 2.3"/>
<line x1="1338.00" y1="1915.50" x2="1338.00" y2="2287.20" stroke="#c4c4c4" stroke-width="1" stroke-dasharray="2.4 2.3"/>
<line x1="1424.00" y1="1915.50" x2="1424.00" y2="2287.20" stroke="#c4c4c4" stroke-width="1" stroke-dasharray="2.4 2.3"/>
<line x1="823.0" y1="1989.84" x2="1467.0" y2="1989.84" stroke="#a8a8a8" stroke-width="1.1"/>
<line x1="823.0" y1="2064.18" x2="1467.0" y2="2064.18" stroke="#a8a8a8" stroke-width="1.1"/>
<line x1="823.0" y1="2138.52" x2="1467.0" y2="2138.52" stroke="#a8a8a8" stroke-width="1.1"/>
<line x1="823.0" y1="2212.86" x2="1467.0" y2="2212.86" stroke="#a8a8a8" stroke-width="1.1"/>
<line x1="865.00" y1="1915.50" x2="865.00" y2="2287.20" stroke="#a8a8a8" stroke-width="1.1"/>
<line x1="951.00" y1="1915.50" x2="951.00" y2="2287.20" stroke="#a8a8a8" stroke-width="1.1"/>
<line x1="1037.00" y1="1915.50" x2="1037.00" y2="2287.20" stroke="#a8a8a8" stroke-width="1.1"/>
<line x1="1123.00" y1="1915.50" x2="1123.00" y2="2287.20" stroke="#a8a8a8" stroke-width="1.1"/>
<line x1="1209.00" y1="1915.50" x2="1209.00" y2="2287.20" stroke="#a8a8a8" stroke-width="1.1"/>
<line x1="1295.00" y1="1915.50" x2="1295.00" y2="2287.20" stroke="#a8a8a8" stroke-width="1.1"/>
<line x1="1381.00" y1="1915.50" x2="1381.00" y2="2287.20" stroke="#a8a8a8" stroke-width="1.1"/>
<g clip-path="url(#cc_D)">
<path d="M913.16,2287.20 L915.15,2281.72 L917.15,2276.53 L919.14,2271.45 L921.14,2266.46 L923.13,2261.57 L925.12,2256.78 L927.12,2252.08 L929.11,2247.46 L931.11,2242.93 L933.10,2238.49 L935.10,2234.12 L937.09,2229.83 L939.08,2225.61 L941.08,2221.46 L943.07,2217.38 L945.07,2213.36 L947.06,2209.40 L949.05,2205.50 L951.05,2201.65 L953.04,2197.86 L955.04,2194.11 L957.03,2190.41 L959.03,2186.75 L961.02,2183.13 L963.01,2179.55 L965.01,2176.00 L967.00,2172.48 L969.00,2168.99 L970.99,2165.53 L972.98,2162.10 L974.98,2158.70 L976.97,2155.34 L978.97,2152.01 L980.96,2148.71 L982.96,2145.45 L984.95,2142.22 L986.94,2139.03 L988.94,2135.88 L990.93,2132.76 L992.93,2129.68 L994.92,2126.65 L996.91,2123.65 L998.91,2120.69 L1000.90,2117.78 L1002.90,2114.90 L1004.89,2112.07 L1006.88,2109.28 L1008.88,2106.54 L1010.87,2103.84 L1012.87,2101.19 L1014.86,2098.59 L1016.86,2096.03 L1018.85,2093.51 L1020.84,2091.04 L1022.84,2088.62 L1024.83,2086.24 L1026.83,2083.91 L1028.82,2081.62 L1030.81,2079.37 L1032.81,2077.17 L1034.80,2075.02 L1036.80,2072.91 L1038.79,2070.84 L1040.79,2068.82 L1042.78,2066.84 L1044.77,2064.90 L1046.77,2063.01 L1048.76,2061.16 L1050.76,2059.35 L1052.75,2057.59 L1054.74,2055.86 L1056.74,2054.19 L1058.73,2052.55 L1060.73,2050.95 L1062.72,2049.40 L1064.72,2047.89 L1066.71,2046.42 L1068.70,2044.99 L1070.70,2043.60 L1072.69,2042.25 L1074.69,2040.95 L1076.68,2039.68 L1078.67,2038.46 L1080.67,2037.27 L1082.66,2036.13 L1084.66,2035.02 L1086.65,2033.96 L1088.65,2032.93 L1090.64,2031.95 L1092.63,2031.00 L1094.63,2030.09 L1096.62,2029.22 L1098.62,2028.39 L1100.61,2027.60 L1102.60,2026.85 L1104.60,2026.14 L1106.59,2025.46 L1108.59,2024.82 L1110.58,2024.22 L1112.57,2023.66 L1114.57,2023.13 L1116.56,2022.64 L1118.56,2022.19 L1120.55,2021.77 L1122.55,2021.39 L1124.54,2021.05 L1126.53,2020.75 L1128.53,2020.48 L1130.52,2020.24 L1132.52,2020.05 L1134.51,2019.89 L1136.50,2019.76 L1138.50,2019.67 L1140.49,2019.62 L1142.49,2019.60 L1144.48,2019.62 L1146.48,2019.68 L1148.47,2019.77 L1150.46,2019.90 L1152.46,2020.06 L1154.45,2020.26 L1156.45,2020.49 L1158.44,2020.76 L1160.43,2021.07 L1162.43,2021.41 L1164.42,2021.78 L1166.42,2022.20 L1168.41,2022.64 L1170.41,2023.13 L1172.40,2023.65 L1174.39,2024.20 L1176.39,2024.80 L1178.38,2025.44 L1180.38,2026.12 L1182.37,2026.84 L1184.36,2027.60 L1186.36,2028.41 L1188.35,2029.26 L1190.35,2030.15 L1192.34,2031.09 L1194.33,2032.08 L1196.33,2033.11 L1198.32,2034.20 L1200.32,2035.33 L1202.31,2036.51 L1204.31,2037.75 L1206.30,2039.03 L1208.29,2040.37 L1210.29,2041.76 L1212.28,2043.21 L1214.28,2044.71 L1216.27,2046.25 L1218.26,2047.85 L1220.26,2049.50 L1222.25,2051.19 L1224.25,2052.92 L1226.24,2054.70 L1228.24,2056.53 L1230.23,2058.39 L1232.22,2060.30 L1234.22,2062.24 L1236.21,2064.22 L1238.21,2066.23 L1240.20,2068.28 L1242.19,2070.37 L1244.19,2072.48 L1246.18,2074.63 L1248.18,2076.81 L1250.17,2079.01 L1252.17,2081.24 L1254.16,2083.50 L1256.15,2085.78 L1258.15,2088.08 L1260.14,2090.40 L1262.14,2092.75 L1264.13,2095.11 L1266.12,2097.49 L1268.12,2099.89 L1270.11,2102.30 L1272.11,2104.74 L1274.10,2107.22 L1276.10,2109.73 L1278.09,2112.28 L1280.08,2114.90 L1282.08,2117.57 L1284.07,2120.31 L1286.07,2123.13 L1288.06,2126.03 L1290.05,2129.02 L1292.05,2132.11 L1294.04,2135.30 L1296.04,2138.60 L1298.03,2142.01 L1300.02,2145.52 L1302.02,2149.09 L1304.01,2152.72 L1306.01,2156.39 L1308.00,2160.09 L1310.00,2163.79 L1311.99,2167.48 L1313.98,2171.15 L1315.98,2174.77 L1317.97,2178.34 L1319.97,2181.86 L1321.96,2185.35 L1323.95,2188.82 L1325.95,2192.29 L1327.94,2195.78 L1329.94,2199.30 L1331.93,2202.86 L1333.93,2206.47 L1335.92,2210.17 L1337.91,2213.95 L1339.91,2217.83 L1341.90,2221.82 L1343.90,2225.90 L1345.89,2230.08 L1347.88,2234.35 L1349.88,2238.72 L1351.87,2243.18 L1353.87,2247.73 L1355.86,2252.37 L1357.86,2257.10 L1359.85,2261.92 L1361.84,2266.82 L1363.84,2271.80 L1365.83,2276.87 L1367.83,2282.02 L1369.82,2287.20" fill="none" stroke="#3a3a3a" stroke-width="2" stroke-linejoin="round"/>
<path d="M913.16,2287.20 L915.15,2281.67 L917.15,2276.29 L919.14,2271.06 L921.14,2265.98 L923.13,2261.03 L925.12,2256.21 L927.12,2251.51 L929.11,2246.93 L931.11,2242.46 L933.10,2238.09 L935.10,2233.81 L937.09,2229.63 L939.08,2225.53 L941.08,2221.51 L943.07,2217.55 L945.07,2213.66 L947.06,2209.83 L949.05,2206.05 L951.05,2202.31 L953.04,2198.62 L955.04,2194.95 L957.03,2191.30 L959.03,2187.68 L961.02,2184.07 L963.01,2180.46 L965.01,2176.85 L967.00,2173.23 L969.00,2169.61 L970.99,2165.99 L972.98,2162.38 L974.98,2158.78 L976.97,2155.21 L978.97,2151.67 L980.96,2148.17 L982.96,2144.71 L984.95,2141.30 L986.94,2137.95 L988.94,2134.66 L990.93,2131.45 L992.93,2128.31 L994.92,2125.26 L996.91,2122.28 L998.91,2119.40 L1000.90,2116.61 L1002.90,2113.92 L1004.89,2111.33 L1006.88,2108.86 L1008.88,2106.49 L1010.87,2104.25 L1012.87,2102.12 L1014.86,2100.11 L1016.86,2098.18 L1018.85,2096.31 L1020.84,2094.48 L1022.84,2092.67 L1024.83,2090.89 L1026.83,2089.14 L1028.82,2087.41 L1030.81,2085.71 L1032.81,2084.04 L1034.80,2082.39 L1036.80,2080.76 L1038.79,2079.17 L1040.79,2077.60 L1042.78,2076.05 L1044.77,2074.54 L1046.77,2073.05 L1048.76,2071.59 L1050.76,2070.15 L1052.75,2068.74 L1054.74,2067.36 L1056.74,2066.01 L1058.73,2064.68 L1060.73,2063.38 L1062.72,2062.11 L1064.72,2060.87 L1066.71,2059.65 L1068.70,2058.46 L1070.70,2057.30 L1072.69,2056.17 L1074.69,2055.07 L1076.68,2053.99 L1078.67,2052.95 L1080.67,2051.93 L1082.66,2050.94 L1084.66,2049.98 L1086.65,2049.04 L1088.65,2048.14 L1090.64,2047.26 L1092.63,2046.42 L1094.63,2045.60 L1096.62,2044.81 L1098.62,2044.06 L1100.61,2043.33 L1102.60,2042.63 L1104.60,2041.96 L1106.59,2041.32 L1108.59,2040.71 L1110.58,2040.13 L1112.57,2039.58 L1114.57,2039.06 L1116.56,2038.57 L1118.56,2038.11 L1120.55,2037.68 L1122.55,2037.28 L1124.54,2036.91 L1126.53,2036.57 L1128.53,2036.27 L1130.52,2035.99 L1132.52,2035.74 L1134.51,2035.53 L1136.50,2035.35 L1138.50,2035.20 L1140.49,2035.08 L1142.49,2034.99 L1144.48,2034.93 L1146.48,2034.91 L1148.47,2034.92 L1150.46,2034.97 L1152.46,2035.05 L1154.45,2035.17 L1156.45,2035.33 L1158.44,2035.52 L1160.43,2035.75 L1162.43,2036.02 L1164.42,2036.33 L1166.42,2036.68 L1168.41,2037.07 L1170.41,2037.50 L1172.40,2037.97 L1174.39,2038.49 L1176.39,2039.05 L1178.38,2039.65 L1180.38,2040.30 L1182.37,2040.99 L1184.36,2041.73 L1186.36,2042.51 L1188.35,2043.34 L1190.35,2044.22 L1192.34,2045.15 L1194.33,2046.13 L1196.33,2047.15 L1198.32,2048.23 L1200.32,2049.36 L1202.31,2050.53 L1204.31,2051.77 L1206.30,2053.05 L1208.29,2054.39 L1210.29,2055.78 L1212.28,2057.22 L1214.28,2058.72 L1216.27,2060.26 L1218.26,2061.84 L1220.26,2063.46 L1222.25,2065.13 L1224.25,2066.82 L1226.24,2068.55 L1228.24,2070.30 L1230.23,2072.08 L1232.22,2073.89 L1234.22,2075.71 L1236.21,2077.55 L1238.21,2079.40 L1240.20,2081.27 L1242.19,2083.14 L1244.19,2085.01 L1246.18,2086.89 L1248.18,2088.76 L1250.17,2090.63 L1252.17,2092.49 L1254.16,2094.34 L1256.15,2096.18 L1258.15,2098.00 L1260.14,2099.80 L1262.14,2101.58 L1264.13,2103.35 L1266.12,2105.12 L1268.12,2106.90 L1270.11,2108.69 L1272.11,2110.52 L1274.10,2112.38 L1276.10,2114.30 L1278.09,2116.28 L1280.08,2118.33 L1282.08,2120.46 L1284.07,2122.69 L1286.07,2125.02 L1288.06,2127.47 L1290.05,2130.04 L1292.05,2132.74 L1294.04,2135.60 L1296.04,2138.61 L1298.03,2141.77 L1300.02,2145.06 L1302.02,2148.47 L1304.01,2151.98 L1306.01,2155.57 L1308.00,2159.22 L1310.00,2162.90 L1311.99,2166.61 L1313.98,2170.33 L1315.98,2174.03 L1317.97,2177.71 L1319.97,2181.36 L1321.96,2184.99 L1323.95,2188.62 L1325.95,2192.24 L1327.94,2195.88 L1329.94,2199.53 L1331.93,2203.21 L1333.93,2206.92 L1335.92,2210.68 L1337.91,2214.49 L1339.91,2218.36 L1341.90,2222.29 L1343.90,2226.30 L1345.89,2230.38 L1347.88,2234.54 L1349.88,2238.79 L1351.87,2243.13 L1353.87,2247.57 L1355.86,2252.12 L1357.86,2256.77 L1359.85,2261.54 L1361.84,2266.42 L1363.84,2271.43 L1365.83,2276.58 L1367.83,2281.85 L1369.82,2287.20" fill="none" stroke="#e3262b" stroke-width="2" stroke-linejoin="round"/>
</g>
<line x1="822.0" y1="1915.00" x2="822.0" y2="2288.20" stroke="#3c3c3c" stroke-width="2"/>
<line x1="812.0" y1="1915.50" x2="822.0" y2="1915.50" stroke="#3c3c3c" stroke-width="2"/>
<line x1="817.0" y1="1952.67" x2="822.0" y2="1952.67" stroke="#3c3c3c" stroke-width="2"/>
<line x1="812.0" y1="1989.84" x2="822.0" y2="1989.84" stroke="#3c3c3c" stroke-width="2"/>
<line x1="817.0" y1="2027.01" x2="822.0" y2="2027.01" stroke="#3c3c3c" stroke-width="2"/>
<line x1="812.0" y1="2064.18" x2="822.0" y2="2064.18" stroke="#3c3c3c" stroke-width="2"/>
<line x1="817.0" y1="2101.35" x2="822.0" y2="2101.35" stroke="#3c3c3c" stroke-width="2"/>
<line x1="812.0" y1="2138.52" x2="822.0" y2="2138.52" stroke="#3c3c3c" stroke-width="2"/>
<line x1="817.0" y1="2175.69" x2="822.0" y2="2175.69" stroke="#3c3c3c" stroke-width="2"/>
<line x1="812.0" y1="2212.86" x2="822.0" y2="2212.86" stroke="#3c3c3c" stroke-width="2"/>
<line x1="817.0" y1="2250.03" x2="822.0" y2="2250.03" stroke="#3c3c3c" stroke-width="2"/>
<line x1="812.0" y1="2287.20" x2="822.0" y2="2287.20" stroke="#3c3c3c" stroke-width="2"/>
<line x1="812.0" y1="2287.20" x2="1468.0" y2="2287.20" stroke="#000" stroke-width="2"/>
<line x1="822.00" y1="2287.20" x2="822.00" y2="2291.70" stroke="#000" stroke-width="2"/>
<line x1="865.00" y1="2287.20" x2="865.00" y2="2296.70" stroke="#000" stroke-width="2"/>
<line x1="908.00" y1="2287.20" x2="908.00" y2="2291.70" stroke="#000" stroke-width="2"/>
<line x1="951.00" y1="2287.20" x2="951.00" y2="2296.70" stroke="#000" stroke-width="2"/>
<line x1="994.00" y1="2287.20" x2="994.00" y2="2291.70" stroke="#000" stroke-width="2"/>
<line x1="1037.00" y1="2287.20" x2="1037.00" y2="2296.70" stroke="#000" stroke-width="2"/>
<line x1="1080.00" y1="2287.20" x2="1080.00" y2="2291.70" stroke="#000" stroke-width="2"/>
<line x1="1123.00" y1="2287.20" x2="1123.00" y2="2296.70" stroke="#000" stroke-width="2"/>
<line x1="1166.00" y1="2287.20" x2="1166.00" y2="2291.70" stroke="#000" stroke-width="2"/>
<line x1="1209.00" y1="2287.20" x2="1209.00" y2="2296.70" stroke="#000" stroke-width="2"/>
<line x1="1252.00" y1="2287.20" x2="1252.00" y2="2291.70" stroke="#000" stroke-width="2"/>
<line x1="1295.00" y1="2287.20" x2="1295.00" y2="2296.70" stroke="#000" stroke-width="2"/>
<line x1="1338.00" y1="2287.20" x2="1338.00" y2="2291.70" stroke="#000" stroke-width="2"/>
<line x1="1381.00" y1="2287.20" x2="1381.00" y2="2296.70" stroke="#000" stroke-width="2"/>
<line x1="1424.00" y1="2287.20" x2="1424.00" y2="2291.70" stroke="#000" stroke-width="2"/>
<line x1="1467.00" y1="2287.20" x2="1467.00" y2="2296.70" stroke="#000" stroke-width="2"/>
<text x="804.5" y="1923.40" text-anchor="end" font-size="22" fill="#333">8,5</text>
<text x="804.5" y="1997.74" text-anchor="end" font-size="22" fill="#333">8,0</text>
<text x="804.5" y="2072.08" text-anchor="end" font-size="22" fill="#333">7,5</text>
<text x="804.5" y="2146.42" text-anchor="end" font-size="22" fill="#333">7,0</text>
<text x="804.5" y="2220.76" text-anchor="end" font-size="22" fill="#333">6,5</text>
<text x="804.5" y="2295.10" text-anchor="end" font-size="22" fill="#333">6,0</text>
<text x="865.00" y="2321.70" text-anchor="middle" font-size="22" fill="#000">84</text>
<text x="951.00" y="2321.70" text-anchor="middle" font-size="22" fill="#000">86</text>
<text x="1037.00" y="2321.70" text-anchor="middle" font-size="22" fill="#000">88</text>
<text x="1123.00" y="2321.70" text-anchor="middle" font-size="22" fill="#000">90</text>
<text x="1209.00" y="2321.70" text-anchor="middle" font-size="22" fill="#000">92</text>
<text x="1295.00" y="2321.70" text-anchor="middle" font-size="22" fill="#000">94</text>
<text x="1381.00" y="2321.70" text-anchor="middle" font-size="22" fill="#000">96</text>
<text x="1467.00" y="2321.70" text-anchor="middle" font-size="22" fill="#000">98</text>
<text x="1144.5" y="2353.70" text-anchor="middle" font-size="27" fill="#000">measuring segment [mm]</text>
<text transform="translate(757.0,2107.35) rotate(-90)" text-anchor="middle" font-size="27" fill="#000">contour height [mm]</text>
<rect x="1040.5" y="2180.50" width="207.5" height="65.50" fill="#fff" stroke="#000" stroke-width="2"/>
<line x1="1048" y1="2199.50" x2="1101" y2="2199.50" stroke="#000" stroke-width="4"/>
<line x1="1048" y1="2229.50" x2="1101" y2="2229.50" stroke="#f00" stroke-width="4"/>
<text x="1108.5" y="2206.00" font-size="23.2" fill="#000">pre ablation</text>
<text x="1108.5" y="2235.50" font-size="23.2" fill="#000">post ablation</text>
<text x="1389.7" y="1950.50" font-size="51" fill="#000">D</text>
<text x="1425.0" y="1950.50" font-size="51" fill="#000">‘</text>
<text x="1435.8" y="1950.50" font-size="51" fill="#000">‘</text>
<text x="1446.6" y="1950.50" font-size="51" fill="#000">‘</text>
</svg>
</body></html>
